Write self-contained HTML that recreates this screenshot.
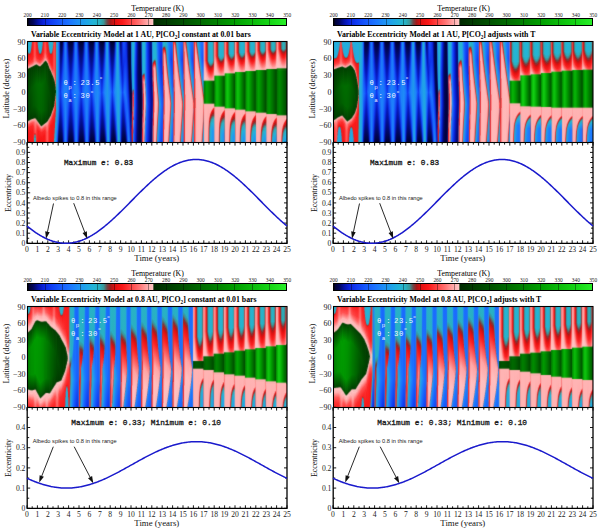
<!DOCTYPE html>
<html><head><meta charset="utf-8"><title>Variable Eccentricity Model</title>
<style>
html,body{margin:0;padding:0;background:#fff}
#pg{position:relative;width:600px;height:529px;overflow:hidden;background:#fff}
.h{position:absolute;width:259px;height:100px;display:flex}
.h i{display:block;width:1px;height:100px;flex:none}
.cb{position:absolute;width:258px;height:6.6px;border:1px solid #000;background-position:16.7px 0,0 0}
svg{position:absolute;left:0;top:0}
</style></head><body><div id="pg">

<div class="cb" style="left:27px;top:17.9px;background:repeating-linear-gradient(90deg,rgba(0,0,0,0.38) 0 1px,rgba(0,0,0,0) 1px 17.2px),linear-gradient(90deg,rgb(0,0,40) 0.00px,rgb(0,5,90) 5.16px,rgb(4,18,170) 10.32px,rgb(10,34,220) 15.48px,rgb(16,58,242) 22.36px,rgb(22,86,252) 30.96px,rgb(28,116,255) 41.28px,rgb(30,143,246) 49.88px,rgb(32,165,230) 58.48px,rgb(35,180,215) 65.36px,rgb(40,178,195) 71.38px,rgb(60,150,150) 75.68px,rgb(110,70,70) 79.12px,rgb(165,25,25) 82.56px,rgb(225,15,15) 86.86px,rgb(250,25,25) 94.60px,rgb(255,70,70) 103.20px,rgb(255,118,118) 111.80px,rgb(255,165,165) 118.68px,rgb(255,200,200) 125.39px,rgb(0,40,0) 125.56px,rgb(0,58,0) 137.60px,rgb(0,80,0) 154.80px,rgb(0,105,0) 172.00px,rgb(0,130,0) 189.20px,rgb(0,158,0) 206.40px,rgb(10,185,10) 223.60px,rgb(20,212,20) 240.80px,rgb(40,238,40) 258.00px)"></div>
<div class="h" style="left:28px;top:42px"><i style="background:linear-gradient(#23b4d7 0.5px,#23b4d6 8.5px,#27b0ce 9.5px,#3d96a7 10.5px,#81565a 11.5px,#d32020 12.5px,#f31818 13.5px,#fb2121 18.5px,#fe3e3e 21.5px,#ff6b6b 23.5px,#fe8e8e 24.5px,#e69f99 25.5px,#696d4b 26.5px,#0e420a 27.5px,#003d00 28.5px,#004c00 52.5px,#003d00 76.5px,#063e05 77.5px,#40592e 78.5px,#d0988d 79.5px,#fb9594 80.5px,#ff5757 82.5px,#fc2a2a 85.5px,#f81818 90.5px,#f51717 99.5px)"></i><i style="background:linear-gradient(#23b4d7 0.5px,#25b2d3 8.5px,#2bacca 9.5px,#3a9db3 10.5px,#696d73 11.5px,#c32626 12.5px,#f11818 13.5px,#fb2424 18.5px,#fe4545 21.5px,#ff7979 23.5px,#f99998 24.5px,#c19385 25.5px,#294e1d 26.5px,#023d02 27.5px,#004e00 50.5px,#004300 72.5px,#013d01 76.5px,#1a4712 77.5px,#8a7a60 78.5px,#ec9a96 79.5px,#fe8483 80.5px,#ff4b4b 82.5px,#fb2626 85.5px,#f61818 91.5px,#f51717 99.5px)"></i><i style="background:linear-gradient(#24b3d5 0.5px,#3e9eba 7.5px,#4993aa 8.5px,#8e5860 10.5px,#c13133 11.5px,#e91b1b 12.5px,#f81818 14.5px,#fd3030 19.5px,#ff4f4f 21.5px,#fe8a8a 23.5px,#e89d98 24.5px,#757252 25.5px,#10440b 26.5px,#003e00 27.5px,#005200 48.5px,#004800 69.5px,#003e00 75.5px,#094107 76.5px,#506039 77.5px,#d99a91 78.5px,#fd9190 79.5px,#ff5454 81.5px,#fc2929 84.5px,#f81818 89.5px,#f51717 99.5px)"></i><i style="background:linear-gradient(#449ab4 0.5px,#6b7a8f 2.5px,#836674 4.5px,#c43438 7.5px,#e02628 9.5px,#f61818 12.5px,#fb2424 17.5px,#fe4545 20.5px,#ff7878 22.5px,#f99897 23.5px,#c19284 24.5px,#294f1d 25.5px,#023f02 26.5px,#005600 46.5px,#004e00 66.5px,#003e00 75.5px,#174711 76.5px,#9b836c 77.5px,#f29c99 78.5px,#ff8180 79.5px,#ff4949 81.5px,#fb2626 84.5px,#f71818 90.5px,#f51717 99.5px)"></i><i style="background:linear-gradient(#da2f33 0.5px,#f71a1a 9.5px,#fb2626 16.5px,#fe4141 19.5px,#ff6b6b 21.5px,#fe8b8b 22.5px,#e89d98 23.5px,#757252 24.5px,#10450b 25.5px,#004000 26.5px,#005a00 45.5px,#005300 64.5px,#023f01 75.5px,#2a4f1e 76.5px,#d59c92 77.5px,#fd9998 78.5px,#ff5a5a 80.5px,#fc2e2e 83.5px,#f91a1a 88.5px,#f41818 99.5px)"></i><i style="background:linear-gradient(#fb2929 0.5px,#fd3333 14.5px,#ff5959 19.5px,#f99d9c 22.5px,#be9283 23.5px,#29501d 24.5px,#024002 25.5px,#005e00 44.5px,#005800 63.5px,#004100 74.5px,#0c4309 75.5px,#616a45 76.5px,#e7a29c 77.5px,#ff9595 78.5px,#ff5f5f 80.5px,#fd3535 84.5px,#f82222 91.5px,#dd3336 96.5px,#d23034 99.5px)"></i><i style="background:linear-gradient(#fe4343 0.5px,#ff5050 14.5px,#ff7676 19.5px,#fe9c9b 21.5px,#e3a09a 22.5px,#656c48 23.5px,#0d4409 24.5px,#004100 25.5px,#006200 43.5px,#005a00 63.5px,#004100 74.5px,#15480f 75.5px,#908066 76.5px,#f0a5a1 77.5px,#ff9898 78.5px,#ff7272 80.5px,#fe4a4a 86.5px,#fc3a3a 90.5px,#ea2f2f 91.5px,#ba4445 92.5px,#8e6b72 93.5px,#5b8592 95.5px,#479aac 96.5px,#429db2 99.5px)"></i><i style="background:linear-gradient(#fd3b3b 0.5px,#fe4545 13.5px,#ff6969 18.5px,#f6a2a0 21.5px,#b28e7c 22.5px,#244e1a 23.5px,#024101 24.5px,#006500 42.5px,#005e00 63.5px,#004200 74.5px,#0f460b 75.5px,#6c6f4d 76.5px,#d89c93 77.5px,#f99e9c 78.5px,#ff7171 82.5px,#ff5656 87.5px,#fd4747 90.5px,#ee3939 91.5px,#c24748 92.5px,#956b70 93.5px,#638089 95.5px,#4c98a5 96.5px,#459dac 99.5px)"></i><i style="background:linear-gradient(#ee2829 0.5px,#fb2323 10.5px,#fd3434 15.5px,#ff5656 18.5px,#ff8989 20.5px,#ef9e9a 21.5px,#8a7c61 22.5px,#174910 23.5px,#014201 24.5px,#006800 41.5px,#006000 64.5px,#024402 75.5px,#194c12 76.5px,#646c47 77.5px,#c29182 78.5px,#ef9793 79.5px,#fd8787 80.5px,#ff5a5a 83.5px,#fe3d3d 88.5px,#f43636 92.5px,#df4345 97.5px,#d7393b 99.5px)"></i><i style="background:linear-gradient(#9f5360 0.5px,#ac4d54 2.5px,#c2373c 3.5px,#d52e33 4.5px,#f81a1a 11.5px,#fc2c2c 16.5px,#ff5858 19.5px,#f99493 21.5px,#c59285 22.5px,#3e5a2c 23.5px,#064305 24.5px,#006a00 42.5px,#006300 65.5px,#024601 76.5px,#10490b 77.5px,#3d5a2b 78.5px,#9a7f68 79.5px,#e3928b 80.5px,#fc8282 81.5px,#fe4444 84.5px,#fb2727 88.5px,#f71c1c 99.5px)"></i><i style="background:linear-gradient(#35a5c5 0.5px,#419db9 4.5px,#4a93ab 5.5px,#935862 8.5px,#d12c2f 10.5px,#f31919 12.5px,#fb2626 16.5px,#ff4a4a 19.5px,#fe8281 21.5px,#ef9a97 22.5px,#99826a 23.5px,#1c4b14 24.5px,#014201 25.5px,#006b00 42.5px,#006500 66.5px,#064605 78.5px,#224f18 79.5px,#d49086 81.5px,#f78785 82.5px,#fe4040 85.5px,#fb1e1e 89.5px,#f61818 99.5px)"></i><i style="background:linear-gradient(#23b4d7 0.5px,#2aadce 6.5px,#3ba0bb 9.5px,#508b9a 10.5px,#8a5256 11.5px,#d62020 12.5px,#f51919 13.5px,#fc2929 17.5px,#f55 20.5px,#fd9292 22.5px,#d69a90 23.5px,#425b2e 24.5px,#064305 25.5px,#006b00 41.5px,#060 67.5px,#024502 79.5px,#134a0e 80.5px,#465d30 81.5px,#b98a79 82.5px,#ec8c87 83.5px,#fd7575 84.5px,#fe4545 86.5px,#fb2424 89.5px,#f61717 96.5px,#f51717 99.5px)"></i><i style="background:linear-gradient(#23b4d7 0.5px,#27b0d0 8.5px,#2eaac8 9.5px,#3d9baf 10.5px,#6e686e 11.5px,#c82525 12.5px,#f31919 13.5px,#fc2c2c 17.5px,#ff5b5b 20.5px,#f59592 22.5px,#b98e7e 23.5px,#315422 24.5px,#044303 25.5px,#006b00 42.5px,#006400 69.5px,#014600 80.5px,#084505 81.5px,#2b511d 82.5px,#8a785c 83.5px,#e9948f 84.5px,#fe8080 85.5px,#fe4a4a 87.5px,#fb2626 90.5px,#f61818 96.5px,#f51717 99.5px)"></i><i style="background:linear-gradient(#27b0d1 0.5px,#3aa1bf 6.5px,#429bb5 7.5px,#53899d 8.5px,#9d4e54 10.5px,#cc2c2d 11.5px,#ee1b1b 12.5px,#fb1f1f 14.5px,#fd3636 17.5px,#ff5b5b 19.5px,#f59390 21.5px,#bd8e7e 22.5px,#425c2e 23.5px,#0a4507 24.5px,#004700 26.5px,#006a00 42.5px,#006400 69.5px,#064304 82.5px,#3a5829 83.5px,#c39284 84.5px,#f99493 85.5px,#ff5757 87.5px,#fc2a2a 90.5px,#f81818 95.5px,#f51717 99.5px)"></i><i style="background:linear-gradient(#528ba0 0.5px,#6a7c91 1.5px,#7e6e7d 3.5px,#965865 4.5px,#d22f34 7.5px,#fa1d1d 12.5px,#fd3939 16.5px,#ff5d5d 18.5px,#fd7a79 19.5px,#ef928f 20.5px,#bc8f7f 21.5px,#425c2f 22.5px,#0a4507 23.5px,#004700 25.5px,#006800 41.5px,#006100 69.5px,#024301 81.5px,#1c4b14 82.5px,#887a5e 83.5px,#e99994 84.5px,#fe8484 85.5px,#ff4c4c 87.5px,#fb2626 90.5px,#f61818 96.5px,#f51717 99.5px)"></i><i style="background:linear-gradient(#e03236 0.5px,#fb2525 9.5px,#fd3b3b 14.5px,#f66 17.5px,#fd8080 18.5px,#e9938d 19.5px,#9b7f68 20.5px,#3c592a 21.5px,#0a4507 22.5px,#004600 24.5px,#006500 40.5px,#006000 68.5px,#014200 80.5px,#11460c 81.5px,#686c49 82.5px,#dd9991 83.5px,#fd8c8b 84.5px,#ff5151 86.5px,#fc2929 89.5px,#f81818 94.5px,#f51717 99.5px)"></i><i style="background:linear-gradient(#fd3b3b 0.5px,#fe4646 10.5px,#ff6969 15.5px,#fe8e8d 17.5px,#ec9a96 18.5px,#988068 19.5px,#284f1c 20.5px,#064305 21.5px,#006200 39.5px,#005b00 68.5px,#004200 79.5px,#084205 80.5px,#465d31 81.5px,#d2988d 82.5px,#fb9493 83.5px,#ff5959 85.5px,#fc2e2e 88.5px,#f91a1a 93.5px,#f71919 99.5px)"></i><i style="background:linear-gradient(#fe4343 0.5px,#ff5151 10.5px,#ff7b7b 15.5px,#f99f9e 17.5px,#c49487 18.5px,#3d592b 19.5px,#074205 20.5px,#005e00 37.5px,#005800 67.5px,#044103 79.5px,#2d5220 80.5px,#b99080 81.5px,#f79d9b 82.5px,#ff5757 85.5px,#fd3333 89.5px,#fb2525 99.5px)"></i><i style="background:linear-gradient(#fb2a2a 0.5px,#fd3939 11.5px,#ff5c5c 15.5px,#fe8888 17.5px,#e99792 18.5px,#2b501e 20.5px,#0a4407 21.5px,#004600 24.5px,#005a00 41.5px,#005400 67.5px,#044003 78.5px,#274f1c 79.5px,#98826b 80.5px,#eea19e 81.5px,#fe9796 82.5px,#ff6a6a 85.5px,#fe4b4b 90.5px,#fe4343 99.5px)"></i><i style="background:linear-gradient(#e3282b 0.5px,#f81b1b 8.5px,#fc2f2f 14.5px,#ff5a5a 17.5px,#fd7372 18.5px,#ec8782 19.5px,#bc8575 20.5px,#575f37 21.5px,#244c17 22.5px,#064404 24.5px,#005600 45.5px,#004e00 68.5px,#024102 76.5px,#10460b 77.5px,#2f5120 78.5px,#987f68 79.5px,#e99c97 80.5px,#fd9696 81.5px,#ff7474 84.5px,#ff5454 90.5px,#ff4f4f 99.5px)"></i><i style="background:linear-gradient(#72788d 0.5px,#757689 1.5px,#806978 2.5px,#995663 3.5px,#b64046 5.5px,#cf2f34 6.5px,#f81919 12.5px,#fc2a2a 16.5px,#fe5353 19.5px,#f86765 20.5px,#c27c6e 22.5px,#876f53 23.5px,#3f5628 24.5px,#1e4b14 25.5px,#024202 27.5px,#005200 49.5px,#004600 70.5px,#014101 74.5px,#0a4307 75.5px,#254d1a 76.5px,#c2887a 78.5px,#ee8b87 79.5px,#fd7d7c 80.5px,#fe5555 83.5px,#fd3a3a 89.5px,#fd3535 99.5px)"></i><i style="background:linear-gradient(#2dadce 0.5px,#409db9 6.5px,#4b91a8 7.5px,#85626e 9.5px,#d42728 11.5px,#ed1a1a 12.5px,#fa1c1c 16.5px,#fd3838 20.5px,#f95857 22.5px,#db7c74 24.5px,#b07d6b 25.5px,#726c4a 26.5px,#294e1b 27.5px,#024002 29.5px,#004e00 53.5px,#064104 73.5px,#1c4914 74.5px,#535f38 75.5px,#ac806d 76.5px,#e58781 77.5px,#f97574 78.5px,#fe3f3f 81.5px,#fb2323 86.5px,#f91d1d 99.5px)"></i><i style="background:linear-gradient(#23b4d7 0.5px,#25b1d3 7.5px,#31a8c6 9.5px,#409aae 10.5px,#6f686d 11.5px,#c62525 12.5px,#f01818 13.5px,#fb2323 20.5px,#fe4242 23.5px,#f66866 25.5px,#e87c77 26.5px,#c18172 27.5px,#2d4d1c 29.5px,#14460e 30.5px,#004000 33.5px,#004a00 58.5px,#054104 70.5px,#1e4813 72.5px,#42552a 73.5px,#9a7760 74.5px,#dc867e 75.5px,#f57775 76.5px,#fd3a3a 79.5px,#fa1d1d 83.5px,#f51717 99.5px)"></i><i style="background:linear-gradient(#23b4d6 0.5px,#2caccd 7.5px,#37a4c1 9.5px,#4795a7 10.5px,#7a5f63 11.5px,#cd2323 12.5px,#f21818 13.5px,#fb2323 22.5px,#fd3f3f 25.5px,#f96362 27.5px,#d28378 29.5px,#4e5c33 31.5px,#204a16 32.5px,#023e01 34.5px,#004500 59.5px,#023f02 67.5px,#1e4913 69.5px,#3d5326 70.5px,#b07866 72.5px,#dc7870 73.5px,#fc5858 75.5px,#fc2c2c 78.5px,#f81818 83.5px,#f51717 99.5px)"></i><i style="background:linear-gradient(#34a8c3 0.5px,#459eb6 5.5px,#856d79 8.5px,#c53c3f 10.5px,#f32121 12.5px,#fc2828 23.5px,#fe4545 27.5px,#fd6564 29.5px,#de857d 31.5px,#ae7f6d 32.5px,#636441 33.5px,#274b1a 34.5px,#094006 36.5px,#004100 42.5px,#023e01 64.5px,#18450f 66.5px,#2d4b1b 67.5px,#b07967 69.5px,#db7971 70.5px,#fc4848 73.5px,#fb2626 76.5px,#f61717 83.5px,#f41717 99.5px)"></i><i style="background:linear-gradient(#966a72 0.5px,#ae6971 2.5px,#d24c50 4.5px,#ec4445 8.5px,#fd3939 13.5px,#fe4545 26.5px,#fe7170 31.5px,#e58580 33.5px,#c38477 34.5px,#4f5b33 36.5px,#244917 37.5px,#053f03 40.5px,#023f01 58.5px,#19400b 63.5px,#2a4514 64.5px,#9e6e58 66.5px,#d5766c 67.5px,#f65856 69.5px,#fb2626 73.5px,#f61717 80.5px,#dd282c 96.5px,#d72c31 99.5px)"></i><i style="background:linear-gradient(#f0494a 0.5px,#fe4444 9.5px,#fe4d4d 28.5px,#f97271 34.5px,#e17e77 36.5px,#c27a6d 37.5px,#615a36 39.5px,#3a4b1f 40.5px,#19400b 42.5px,#013f01 50.5px,#2c4212 58.5px,#58552e 59.5px,#775334 61.5px,#985840 62.5px,#a6523e 63.5px,#d35a50 64.5px,#fa3f3f 67.5px,#ef2627 71.5px,#e12629 79.5px,#d03138 85.5px,#ad4c57 86.5px,#a05564 90.5px,#75758a 92.5px,#707791 95.5px,#4597b8 97.5px,#4099be 99.5px)"></i><i style="background:linear-gradient(#de4045 0.5px,#de484d 32.5px,#da5c60 37.5px,#b5716c 41.5px,#886556 42.5px,#7a6755 43.5px,#455c3d 45.5px,#3a6442 47.5px,#0d4f24 48.5px,#054b1e 49.5px,#0b4e22 50.5px,#2b5d39 51.5px,#4b6143 53.5px,#776d5a 54.5px,#976458 56.5px,#b76763 57.5px,#cb4344 61.5px,#db3439 66.5px,#d73137 68.5px,#ac4f5b 70.5px,#9f5666 74.5px,#7b7185 75.5px,#6e7993 79.5px,#4398ba 81.5px,#209de9 99.5px)"></i><i style="background:linear-gradient(#419cc0 0.5px,#41a4c9 40.5px,#1e9ebb 49.5px,#41a2c6 58.5px,#3f99c0 68.5px,#209beb 84.5px,#1b7bf5 99.5px)"></i><i style="background:linear-gradient(#209ee9 0.5px,#1f98ed 70.5px,#196ff1 87.5px,#1146d9 97.5px,#0f3ccd 99.5px)"></i><i style="background:linear-gradient(#1c7cf5 0.5px,#1b78f5 68.5px,#134ce6 80.5px,#0822a7 89.5px,#020b56 98.5px,#020a51 99.5px)"></i><i style="background:linear-gradient(#0f3ece 0.5px,#1246ee 41.5px,#1553f7 51.5px,#0e37da 69.5px,#031088 84.5px,#000136 99.5px)"></i><i style="background:linear-gradient(#020a4d 0.5px,#071cbd 29.5px,#0f38ed 46.5px,#113ff0 51.5px,#071bbe 69.5px,#010a77 85.5px,#000135 99.5px)"></i><i style="background:linear-gradient(#000239 0.5px,#030f91 16.5px,#0b27da 32.5px,#1658fb 49.5px,#0c2ade 66.5px,#031097 82.5px,#00023d 98.5px,#000238 99.5px)"></i><i style="background:linear-gradient(#010758 0.5px,#0923cd 18.5px,#1244f3 32.5px,#1a6dfe 50.5px,#0f37e9 72.5px,#081dbf 84.5px,#010758 99.5px)"></i><i style="background:linear-gradient(#0924ba 0.5px,#103ee9 13.5px,#1a6cfd 38.5px,#1c77fd 53.5px,#1244ef 83.5px,#0a27c5 97.5px,#0924ba 99.5px)"></i><i style="background:linear-gradient(#165bf4 0.5px,#1d81fb 51.5px,#165af3 99.5px)"></i><i style="background:linear-gradient(#1b77fb 0.5px,#1d80fb 70.5px,#1c78fb 99.5px)"></i><i style="background:linear-gradient(#1659f3 0.5px,#1d7ffb 45.5px,#1863f9 94.5px,#175df5 99.5px)"></i><i style="background:linear-gradient(#0922b6 0.5px,#103ce8 13.5px,#1a69fd 37.5px,#1c77fd 52.5px,#1246f0 83.5px,#0b29c7 98.5px,#0a27c2 99.5px)"></i><i style="background:linear-gradient(#010756 0.5px,#0922cb 18.5px,#1140f0 31.5px,#1a6cfe 50.5px,#0f38ea 72.5px,#071dbc 85.5px,#01085e 99.5px)"></i><i style="background:linear-gradient(#000238 0.5px,#030e90 16.5px,#0b27d9 32.5px,#1658fa 49.5px,#0c2ade 66.5px,#041099 82.5px,#00023a 99.5px)"></i><i style="background:linear-gradient(#000135 0.5px,#0515b4 28.5px,#0e34ea 45.5px,#113ef0 51.5px,#071ac0 67.5px,#020c87 82.5px,#000135 99.5px)"></i><i style="background:linear-gradient(#000136 0.5px,#020d87 16.5px,#0922d1 33.5px,#144ff8 49.5px,#0b26da 63.5px,#020d8a 82.5px,#000239 98.5px,#000135 99.5px)"></i><i style="background:linear-gradient(#000446 0.5px,#0921cb 22.5px,#1245f4 37.5px,#1966fd 50.5px,#0d30e4 69.5px,#0515aa 82.5px,#00023e 99.5px)"></i><i style="background:linear-gradient(#05148d 0.5px,#0b2bd4 12.5px,#144ef7 28.5px,#1c74fe 51.5px,#103eed 76.5px,#0923c8 87.5px,#030d72 99.5px)"></i><i style="background:linear-gradient(#1245e6 0.5px,#1966fc 23.5px,#1d7dfc 53.5px,#144ef3 87.5px,#0e35d6 99.5px)"></i><i style="background:linear-gradient(#1b73fb 0.5px,#1d81fb 61.5px,#1969f9 99.5px)"></i><i style="background:linear-gradient(#1a6bfa 0.5px,#1d81fb 57.5px,#1b75fb 99.5px)"></i><i style="background:linear-gradient(#0e37d9 0.5px,#1658f9 19.5px,#1d7cfc 51.5px,#1452f2 94.5px,#134cec 99.5px)"></i><i style="background:linear-gradient(#030d75 0.5px,#0a26cf 14.5px,#1246f3 28.5px,#1b72fe 50.5px,#103ceb 79.5px,#0922bf 93.5px,#06199f 99.5px)"></i><i style="background:linear-gradient(#00023f 0.5px,#0921ce 25.5px,#134af6 41.5px,#185ffc 51.5px,#0c2cdf 71.5px,#0515a8 84.5px,#01054c 99.5px)"></i><i style="background:linear-gradient(#000135 0.5px,#020d89 17.5px,#0921d1 35.5px,#1349f6 50.5px,#071cc4 69.5px,#020c83 84.5px,#000137 99.5px)"></i><i style="background:linear-gradient(#000135 0.5px,#0616b7 28.5px,#0f38ec 45.5px,#1141f2 51.5px,#071bc4 66.5px,#020c86 82.5px,#000135 99.5px)"></i><i style="background:linear-gradient(#00023b 0.5px,#041199 16.5px,#0c2add 31.5px,#175dfb 49.5px,#0d2de2 65.5px,#031099 81.5px,#000343 96.5px,#000136 99.5px)"></i><i style="background:linear-gradient(#020a66 0.5px,#0923ca 15.5px,#1140f0 28.5px,#1b70fe 50.5px,#0f39eb 71.5px,#081dc1 82.5px,#010448 99.5px)"></i><i style="background:linear-gradient(#0c2fcd 0.5px,#134bf2 15.5px,#1c7bfc 50.5px,#1347f2 79.5px,#0b28cd 91.5px,#051694 99.5px)"></i><i style="background:linear-gradient(#1865f8 0.5px,#1d81fb 53.5px,#175ff9 87.5px,#1247e8 99.5px)"></i><i style="background:linear-gradient(#1b76fb 0.5px,#1d81fb 68.5px,#1b73fb 99.5px)"></i><i style="background:linear-gradient(#144eed 0.5px,#1b72fd 30.5px,#1d7dfc 57.5px,#1a6cfa 99.5px)"></i><i style="background:linear-gradient(#061aa1 0.5px,#0d31dd 12.5px,#1657fa 30.5px,#1c76fd 51.5px,#1245ed 89.5px,#0f3add 99.5px)"></i><i style="background:linear-gradient(#01054c 0.5px,#0923ce 21.5px,#1347f5 36.5px,#1a69fe 50.5px,#0e33e6 75.5px,#071cb6 89.5px,#030f7c 99.5px)"></i><i style="background:linear-gradient(#000137 0.5px,#030d8b 16.5px,#0a25d7 33.5px,#1553f9 49.5px,#0b26d8 68.5px,#04119a 83.5px,#000341 99.5px)"></i><i style="background:linear-gradient(#000135 0.5px,#0515b4 28.5px,#0f35e8 46.5px,#103bec 51.5px,#0617b8 70.5px,#010972 86.5px,#000135 99.5px)"></i><i style="background:linear-gradient(#000237 0.5px,#030e8c 16.5px,#0b26d8 33.5px,#1655f9 49.5px,#0c2be0 62.5px,#020c83 83.5px,#000239 98.5px,#000135 99.5px)"></i><i style="background:linear-gradient(#010650 0.5px,#0a23ce 20.5px,#1245f3 34.5px,#1a6cfe 50.5px,#0f37ea 67.5px,#0619b7 79.5px,#000348 96.5px,#000239 99.5px)"></i><i style="background:linear-gradient(#081fab 0.5px,#0f38e2 12.5px,#1861fb 32.5px,#1c7bfc 51.5px,#1244f1 74.5px,#0a27d0 84.5px,#030e7b 95.5px,#01085b 99.5px)"></i><i style="background:linear-gradient(#165bef 0.5px,#1d80fa 35.5px,#1d82fa 58.5px,#1451f3 85.5px,#0d31d1 96.5px,#0a28c0 99.5px)"></i><i style="background:linear-gradient(#1d86f6 0.5px,#1d86f8 76.5px,#1866f4 99.5px)"></i><i style="background:linear-gradient(#1a72f6 0.5px,#1e8bf7 53.5px,#1d8af5 99.5px)"></i><i style="background:linear-gradient(#0d35d2 0.5px,#1555f5 16.5px,#1d84fa 50.5px,#196ff6 99.5px)"></i><i style="background:linear-gradient(#020c6a 0.5px,#0a26ce 15.5px,#1348f4 29.5px,#1c78fd 50.5px,#1142ec 84.5px,#0d31cd 99.5px)"></i><i style="background:linear-gradient(#00023c 0.5px,#0921ce 26.5px,#144ef6 42.5px,#1862fc 51.5px,#0c2de0 73.5px,#0618ab 87.5px,#020a66 99.5px)"></i><i style="background:linear-gradient(#000135 0.5px,#0617b7 28.5px,#103aec 45.5px,#1246f3 51.5px,#071bc1 71.5px,#020b7d 86.5px,#00023b 99.5px)"></i><i style="background:linear-gradient(#000135 0.5px,#030d8b 17.5px,#0b26d9 36.5px,#1550f8 50.5px,#081ec9 65.5px,#020b81 83.5px,#000135 99.5px)"></i><i style="background:linear-gradient(#000343 0.5px,#0922cd 23.5px,#134af5 38.5px,#1a6bfd 50.5px,#0e33e6 65.5px,#04119e 80.5px,#000347 95.5px,#000135 99.5px)"></i><i style="background:linear-gradient(#051487 0.5px,#0c2ed6 13.5px,#1553f7 28.5px,#1d80fa 50.5px,#1348f3 69.5px,#0923cc 80.5px,#000446 98.5px,#000341 99.5px)"></i><i style="background:linear-gradient(#134ee3 0.5px,#1a71f9 21.5px,#1e8df6 51.5px,#1969fb 71.5px,#103ce5 85.5px,#0821b7 93.5px,#041180 99.5px)"></i><i style="background:linear-gradient(#1e8fee 0.5px,#1e92f3 65.5px,#196ef6 87.5px,#1147e0 99.5px)"></i><i style="background:linear-gradient(#1f97eb 0.5px,#1f96ed 91.5px,#1d8bee 99.5px)"></i><i style="background:linear-gradient(#165deb 0.5px,#1d83f7 27.5px,#1e92f3 60.5px,#209de8 99.5px)"></i><i style="background:linear-gradient(#071c9f 0.5px,#0d34da 11.5px,#165bf8 27.5px,#1d87f8 50.5px,#196bf4 91.5px,#186cef 99.5px)"></i><i style="background:linear-gradient(#01054a 0.5px,#0a24ce 21.5px,#134af4 35.5px,#1b75fc 50.5px,#103de9 79.5px,#0a26b7 99.5px)"></i><i style="background:linear-gradient(#000136 0.5px,#020d89 16.5px,#0b27d9 34.5px,#175afb 49.5px,#0b26d6 71.5px,#04129a 86.5px,#010755 99.5px)"></i><i style="background:linear-gradient(#000135 0.5px,#030d8d 18.5px,#0921d0 36.5px,#1349f6 50.5px,#0921cf 63.5px,#030f95 80.5px,#000238 99.5px)"></i><i style="background:linear-gradient(#00023b 0.5px,#041097 16.5px,#0c2cdd 31.5px,#1965fc 48.5px,#175cfa 53.5px,#0a26d6 66.5px,#010766 88.5px,#000135 99.5px)"></i><i style="background:linear-gradient(#020b66 0.5px,#0a27cc 15.5px,#1349f2 28.5px,#1d81fa 50.5px,#1247f2 66.5px,#0820c8 77.5px,#00044c 95.5px,#000237 99.5px)"></i><i style="background:linear-gradient(#0e3ad0 0.5px,#175ef4 16.5px,#1e92f3 48.5px,#1c7cf9 62.5px,#1247ef 77.5px,#0a25c7 86.5px,#010755 99.5px)"></i><i style="background:linear-gradient(#1d88e9 0.5px,#1f9deb 41.5px,#1e90f2 68.5px,#1659f0 87.5px,#0d35ce 96.5px,#0a2aba 99.5px)"></i><i style="background:linear-gradient(#24a9d6 0.5px,#20a1e9 45.5px,#209fe6 81.5px,#1a77ea 99.5px)"></i><i style="background:linear-gradient(#1d88e9 0.5px,#1f9fea 40.5px,#24aad6 97.5px,#24a8d6 99.5px)"></i><i style="background:linear-gradient(#0e3ad0 0.5px,#175ff4 16.5px,#1f95f1 47.5px,#1f96e7 92.5px,#209ae2 99.5px)"></i><i style="background:linear-gradient(#030e77 0.5px,#0a28d1 15.5px,#1450f5 30.5px,#1d86f8 50.5px,#1556f0 85.5px,#1350e0 99.5px)"></i><i style="background:linear-gradient(#05149e 0.5px,#071bc0 20.5px,#113fef 37.5px,#1a6bfc 50.5px,#0d30e0 75.5px,#0619a3 92.5px,#041382 99.5px)"></i><i style="background:linear-gradient(#0d2fdf 0.5px,#0920d1 30.5px,#0f37eb 43.5px,#144df7 50.5px,#0921ce 67.5px,#030f92 83.5px,#000341 99.5px)"></i><i style="background:linear-gradient(#144cf7 0.5px,#0c2ce4 24.5px,#103def 39.5px,#1860fc 50.5px,#0b29dc 62.5px,#020b7d 84.5px,#000135 99.5px)"></i><i style="background:linear-gradient(#134af7 0.5px,#0f34ed 19.5px,#144ff9 36.5px,#1c76fd 50.5px,#103ded 65.5px,#0618b6 77.5px,#00044c 94.5px,#000135 99.5px)"></i><i style="background:linear-gradient(#0f37ed 0.5px,#0f36ef 19.5px,#1c75fe 52.5px,#1656fa 67.5px,#0c2cda 79.5px,#041398 88.5px,#000449 98.5px,#000343 99.5px)"></i><i style="background:linear-gradient(#0a23d0 0.5px,#0e34ea 24.5px,#1a6bfe 58.5px,#175dfb 75.5px,#0e37e0 88.5px,#071ca7 96.5px,#051489 99.5px)"></i><i style="background:linear-gradient(#030f90 0.5px,#0514a1 14.5px,#0f38e8 42.5px,#1a6afe 72.5px,#1864fa 89.5px,#134be5 99.5px)"></i><i style="background:linear-gradient(#00065c 0.5px,#010760 18.5px,#041194 35.5px,#0e34e4 58.5px,#1a69fd 82.5px,#1c7df8 99.5px)"></i><i style="background:linear-gradient(#000346 0.5px,#000448 30.5px,#02096e 46.5px,#0b29d1 70.5px,#165af4 91.5px,#1a6ff7 99.5px)"></i><i style="background:linear-gradient(#041455 0.5px,#000448 51.5px,#030c7a 69.5px,#101dae 84.5px,#1538d5 99.5px)"></i><i style="background:linear-gradient(#197acd 0.5px,#1567c1 21.5px,#0d3c9b 36.5px,#09277b 42.5px,#061960 47.5px,#140941 51.5px,#190f4a 67.5px,#26136d 72.5px,#2e3478 81.5px,#521567 84.5px,#632077 88.5px,#492984 99.5px)"></i><i style="background:linear-gradient(#22add9 0.5px,#1e9acf 40.5px,#1e8bcc 46.5px,#2581bb 47.5px,#584e7c 49.5px,#86305d 51.5px,#9e2f5c 54.5px,#a34060 64.5px,#9f4d5b 68.5px,#bf2e3d 70.5px,#cf3245 72.5px,#d0394c 73.5px,#ce2a3c 76.5px,#c5384a 80.5px,#c9253d 89.5px,#ad2643 99.5px)"></i><i style="background:linear-gradient(#22b0da 0.5px,#21a3e3 43.5px,#21a3e0 45.5px,#269fd3 46.5px,#3a87b0 47.5px,#626284 48.5px,#86526f 49.5px,#b23f59 51.5px,#ce4861 53.5px,#d14d66 54.5px,#d23d56 55.5px,#d3445d 62.5px,#d3435b 63.5px,#d0586f 65.5px,#b3677c 67.5px,#a47991 68.5px,#a76996 73.5px,#9f4475 76.5px,#895385 77.5px,#7781b8 78.5px,#7286ca 80.5px,#7173c3 84.5px,#6a50a4 88.5px,#4d5db3 90.5px,#3c71cd 92.5px,#3669d8 99.5px)"></i><i style="background:linear-gradient(#1f94ea 0.5px,#196ef7 30.5px,#1c74f3 46.5px,#3468de 51.5px,#3768e3 66.5px,#2d61ec 73.5px,#2656e8 77.5px,#215cf4 80.5px,#184bec 90.5px,#1349f1 99.5px)"></i><i style="background:linear-gradient(#1658f4 0.5px,#103cea 32.5px,#1243ef 64.5px,#0a24d1 99.5px)"></i><i style="background:linear-gradient(#0c2bda 0.5px,#081cc0 33.5px,#0922cc 63.5px,#041198 98.5px,#041098 99.5px)"></i><i style="background:linear-gradient(#0413a1 0.5px,#020c84 30.5px,#031095 62.5px,#010767 95.5px,#010766 99.5px)"></i><i style="background:linear-gradient(#010869 0.5px,#00065b 36.5px,#010763 65.5px,#00044c 99.5px)"></i><i style="background:linear-gradient(#00044d 0.5px,#00044c 54.5px,#000240 99.5px)"></i><i style="background:linear-gradient(#020b50 0.5px,#000240 53.5px,#010442 99.5px)"></i><i style="background:linear-gradient(#0f46a6 0.5px,#0b358f 20.5px,#0a1f73 32.5px,#190f57 36.5px,#190a40 41.5px,#0d0742 59.5px,#12073d 72.5px,#1b0d47 85.5px,#261361 95.5px,#271562 99.5px)"></i><i style="background:linear-gradient(#20a4d2 0.5px,#1e96cd 30.5px,#238fc2 31.5px,#3579a2 32.5px,#5e4f72 33.5px,#873758 34.5px,#9c3758 35.5px,#a34469 39.5px,#9a2558 45.5px,#7d2c54 47.5px,#6d3d5f 48.5px,#673763 51.5px,#642260 57.5px,#662d61 66.5px,#694163 70.5px,#6e3d5e 71.5px,#7f2b52 72.5px,#942251 73.5px,#a1386a 76.5px,#a34465 80.5px,#a7505e 84.5px,#c62f3a 87.5px,#d92f3c 91.5px,#da3a47 99.5px)"></i><i style="background:linear-gradient(#23b4d7 0.5px,#23b2d8 29.5px,#27aecd 30.5px,#3997a8 31.5px,#6d5b63 32.5px,#af2e33 33.5px,#d7262b 34.5px,#ee454a 36.5px,#f3797f 39.5px,#f37f85 40.5px,#f2666e 42.5px,#e7646a 50.5px,#e6424a 52.5px,#e63e47 66.5px,#e6444c 67.5px,#e76067 68.5px,#eb6269 72.5px,#f2666d 79.5px,#f38589 81.5px,#eb8388 99.5px)"></i><i style="background:linear-gradient(#23afd9 0.5px,#2ad 29.5px,#27a7d0 30.5px,#3a90ae 31.5px,#63677e 32.5px,#8d4f64 33.5px,#c85562 36.5px,#de7c87 38.5px,#e19da6 40.5px,#ecafb3 48.5px,#f4a9aa 55.5px,#efacb0 70.5px,#e0a4b0 80.5px,#d98999 84.5px,#bb97a8 86.5px,#aca8be 88.5px,#a57ca4 95.5px,#8985ae 98.5px,#7f90bb 99.5px)"></i><i style="background:linear-gradient(#1e91ee 0.5px,#1e8af0 30.5px,#3582dc 35.5px,#3f91dc 39.5px,#458ed4 40.5px,#6877b7 42.5px,#779eca 47.5px,#9d84aa 50.5px,#ab9fb9 55.5px,#acabc0 61.5px,#a686aa 68.5px,#8d8ab2 70.5px,#7d9ac3 71.5px,#7494c8 73.5px,#6d76b8 76.5px,#5f77bd 77.5px,#4192df 79.5px,#3581ec 86.5px,#2770f2 99.5px)"></i><i style="background:linear-gradient(#1760f9 0.5px,#1861fa 34.5px,#256ef3 45.5px,#3284ef 61.5px,#2467f1 75.5px,#1657f9 87.5px,#134af6 99.5px)"></i><i style="background:linear-gradient(#103cee 0.5px,#1141f2 37.5px,#175af9 63.5px,#0d2ee4 99.5px)"></i><i style="background:linear-gradient(#0a23d5 0.5px,#0b28dd 36.5px,#103bef 64.5px,#081cc6 99.5px)"></i><i style="background:linear-gradient(#0515ae 0.5px,#0617b8 34.5px,#0b26db 61.5px,#0411a1 99.5px)"></i><i style="background:linear-gradient(#030e8c 0.5px,#030e91 33.5px,#0618bb 61.5px,#020b7d 99.5px)"></i><i style="background:linear-gradient(#08249a 0.5px,#081b82 20.5px,#190f6f 26.5px,#081086 44.5px,#04119e 62.5px,#0c0e82 77.5px,#0f116b 99.5px)"></i><i style="background:linear-gradient(#1d91d6 0.5px,#1d85d1 18.5px,#247dc3 19.5px,#545188 21.5px,#863567 23.5px,#9d3768 25.5px,#9e2d66 32.5px,#842f6a 34.5px,#6a4680 36.5px,#622172 42.5px,#581d70 43.5px,#31368b 45.5px,#23178d 57.5px,#2a2490 68.5px,#2e398f 74.5px,#33358a 75.5px,#561c70 77.5px,#652775 80.5px,#69467e 90.5px,#6e447b 99.5px)"></i><i style="background:linear-gradient(#23b1d8 0.5px,#23b0d8 16.5px,#26acd0 17.5px,#339cb7 18.5px,#577383 19.5px,#933e47 20.5px,#c8262e 21.5px,#e22b32 22.5px,#f2676e 25.5px,#f2767c 26.5px,#f2626a 29.5px,#e7626b 38.5px,#e6414c 40.5px,#da3345 52.5px,#bf3447 58.5px,#c82f42 62.5px,#da3446 67.5px,#dc3f4c 75.5px,#e63f4a 82.5px,#e76069 84.5px,#e8656d 99.5px)"></i><i style="background:linear-gradient(#24b3d2 0.5px,#23b4d6 15.5px,#25b2cf 16.5px,#32a3b4 17.5px,#5b6f75 18.5px,#9d3739 19.5px,#d12222 20.5px,#ec2626 21.5px,#fe7a7a 24.5px,#fea2a2 26.5px,#feacac 39.5px,#fea5a5 48.5px,#fd8586 50.5px,#fd8586 69.5px,#fea5a5 71.5px,#feafaf 99.5px)"></i><i style="background:linear-gradient(#25b0d0 0.5px,#23b2d6 15.5px,#2da7bc 17.5px,#468895 18.5px,#6e616a 19.5px,#b13f44 21.5px,#c53f44 22.5px,#e37376 25.5px,#e99092 28.5px,#f8a9a9 36.5px,#ffb6b6 49.5px,#fbb 71.5px,#f9a9a9 99.5px)"></i><i style="background:linear-gradient(#209be9 0.5px,#23a6dc 17.5px,#4c8daf 24.5px,#9f6d7a 33.5px,#c9656c 37.5px,#e57e82 41.5px,#f5a3a3 47.5px,#ffb7b7 61.5px,#f5a1a2 81.5px,#d4686f 96.5px,#c1636a 99.5px)"></i><i style="background:linear-gradient(#1c77fb 0.5px,#218cec 24.5px,#4099c6 38.5px,#6a7f9b 42.5px,#9f6976 46.5px,#c65f66 49.5px,#e5777a 53.5px,#f59b9b 60.5px,#eb8688 70.5px,#d46066 77.5px,#b66168 80.5px,#7f7487 86.5px,#4a91b7 93.5px,#3a96cd 99.5px)"></i><i style="background:linear-gradient(#175efc 0.5px,#1965fb 21.5px,#1f8cef 39.5px,#4097c4 50.5px,#8d6978 57.5px,#af6269 61.5px,#936673 67.5px,#4c8eb1 75.5px,#3897cd 80.5px,#1e87f5 99.5px)"></i><i style="background:linear-gradient(#144ef9 0.5px,#1348f6 20.5px,#1c7afa 44.5px,#2892e2 54.5px,#3698ce 62.5px,#1e88f6 81.5px,#1968fc 99.5px)"></i><i style="background:linear-gradient(#1346f6 0.5px,#0e33eb 19.5px,#1861fc 45.5px,#1e8cf4 62.5px,#1552fa 98.5px,#1551fa 99.5px)"></i><i style="background:linear-gradient(#134bf4 0.5px,#1739e4 7.5px,#172cd7 19.5px,#113bea 33.5px,#1963fc 55.5px,#1a6efd 64.5px,#1246f3 99.5px)"></i><i style="background:linear-gradient(#1c80ec 0.5px,#1e78e3 4.5px,#3e57b5 6.5px,#5647a2 7.5px,#6b49a0 9.5px,#6c4d9f 16.5px,#69349f 28.5px,#5432a1 31.5px,#394cc0 33.5px,#293fdb 43.5px,#2352e9 56.5px,#2657e9 63.5px,#354ddb 82.5px,#3553cf 99.5px)"></i><i style="background:linear-gradient(#23add7 0.5px,#26a9cf 3.5px,#3694ae 4.5px,#665a6a 5.5px,#a92936 6.5px,#d3202d 7.5px,#e32c38 8.5px,#e8606b 12.5px,#e75d6b 23.5px,#e74452 24.5px,#df3f50 32.5px,#db3850 39.5px,#d3344c 41.5px,#c23b54 42.5px,#a95776 44.5px,#a5457d 49.5px,#963b7a 53.5px,#795494 57.5px,#7c5391 61.5px,#9e3f7a 66.5px,#a85b79 75.5px,#b24e66 77.5px,#cd364e 79.5px,#dc3b51 83.5px,#dc4356 99.5px)"></i><i style="background:linear-gradient(#26b3cc 0.5px,#26b2ca 2.5px,#2daaba 3.5px,#45898e 4.5px,#7b494b 5.5px,#b92425 6.5px,#de1f1f 7.5px,#f64343 9.5px,#fd7d7d 11.5px,#fe9898 13.5px,#fea8a8 23.5px,#fe9f9f 37.5px,#fe8686 38.5px,#f58585 43.5px,#f38185 47.5px,#f2676c 48.5px,#eb636b 56.5px,#f2666b 71.5px,#f38588 73.5px,#fd8283 86.5px,#fea0a1 88.5px,#fea4a4 99.5px)"></i><i style="background:linear-gradient(#27b1c6 0.5px,#2badbd 3.5px,#34a0ac 4.5px,#65696e 6.5px,#a24145 8.5px,#cf4042 10.5px,#e66364 13.5px,#fd9e9e 22.5px,#ffb7b7 33.5px,#faa 64.5px,#ffb8b8 99.5px)"></i><i style="background:linear-gradient(#23add8 0.5px,#2da5c4 6.5px,#5e7f90 12.5px,#bf5155 20.5px,#e26365 24.5px,#fc9e9e 32.5px,#ffb7b7 42.5px,#ffb7b7 99.5px)"></i><i style="background:linear-gradient(#1f9bec 0.5px,#249ede 11.5px,#4198b7 21.5px,#697b8d 25.5px,#b4585e 30.5px,#d1565a 32.5px,#f28e8e 38.5px,#ffb2b2 46.5px,#ffb2b2 90.5px,#fea4a4 99.5px)"></i><i style="background:linear-gradient(#1d88f8 0.5px,#1e8af4 16.5px,#2b99d7 26.5px,#4396b9 32.5px,#7b7283 36.5px,#c3565c 40.5px,#e46c6f 43.5px,#f79a9a 48.5px,#ffb5b5 57.5px,#ffadad 78.5px,#ed8384 92.5px,#db6064 99.5px)"></i><i style="background:linear-gradient(#1c78fd 0.5px,#1a6bfc 17.5px,#2094ec 32.5px,#4396bb 41.5px,#966571 46.5px,#cc575d 49.5px,#eb7e80 53.5px,#fda2a2 59.5px,#fda1a1 67.5px,#eb7e80 77.5px,#d0575c 84.5px,#966370 90.5px,#4793b6 99.5px)"></i><i style="background:linear-gradient(#1b6efe 0.5px,#1552fa 17.5px,#1e88f5 38.5px,#3195d3 46.5px,#4792b6 50.5px,#9d626d 55.5px,#cd565c 58.5px,#e2686b 61.5px,#d0565b 68.5px,#ae5e66 72.5px,#7c7384 77.5px,#4097c0 84.5px,#2092ec 99.5px)"></i><i style="background:linear-gradient(#1a6cfb 0.5px,#1244f3 17.5px,#1b70fc 40.5px,#2192ec 50.5px,#4693b6 59.5px,#58839f 61.5px,#3b98c6 70.5px,#1e8cf3 87.5px,#1b74fb 99.5px)"></i><i style="background:linear-gradient(#3c71d4 0.5px,#3963d1 7.5px,#344bd4 19.5px,#2c4de0 32.5px,#2861eb 44.5px,#2883ed 54.5px,#2e91db 63.5px,#2a87e7 74.5px,#2e62e8 95.5px,#2d5de7 99.5px)"></i><i style="background:linear-gradient(#dd3645 0.5px,#dd4556 7.5px,#d7354c 28.5px,#bd4058 31.5px,#ab5873 33.5px,#a7557e 37.5px,#a0427a 42.5px,#854d88 44.5px,#7364a3 46.5px,#715ea7 56.5px,#766da0 73.5px,#974b7b 77.5px,#a7517c 82.5px,#a75b7f 99.5px)"></i><i style="background:linear-gradient(#ec3838 0.5px,#fb7c7d 3.5px,#fe9999 8.5px,#fea3a4 17.5px,#fe9f9f 18.5px,#fe8686 19.5px,#f58585 32.5px,#f38588 36.5px,#f3666a 38.5px,#ea656d 45.5px,#e8656e 48.5px,#e74651 50.5px,#e84a52 70.5px,#e8636b 71.5px,#f36568 92.5px,#f38486 94.5px,#f3878a 99.5px)"></i><i style="background:linear-gradient(#905155 0.5px,#c04446 2.5px,#dd5153 4.5px,#fd9d9d 13.5px,#ffafaf 18.5px,#fea8a8 49.5px,#ffa9aa 71.5px,#ffb1b1 99.5px)"></i><i style="background:linear-gradient(#36a0b8 0.5px,#578392 4.5px,#b35155 10.5px,#da5457 13.5px,#fd9f9f 22.5px,#ffb7b7 31.5px,#ffb8b8 99.5px)"></i><i style="background:linear-gradient(#21a5e2 0.5px,#3a9dbc 10.5px,#4e8da2 13.5px,#ab595f 19.5px,#cb5155 21.5px,#ea7576 25.5px,#fea4a4 31.5px,#ffb8b8 40.5px,#ffb8b8 99.5px)"></i><i style="background:linear-gradient(#1e92f2 0.5px,#239ce1 13.5px,#4198b7 21.5px,#667c8f 24.5px,#c0545a 29.5px,#e4696c 32.5px,#f99b9b 37.5px,#ffb7b7 45.5px,#ffb4b4 99.5px)"></i><i style="background:linear-gradient(#1d82fa 0.5px,#1d84f7 15.5px,#2498e1 23.5px,#4396b8 30.5px,#856b7a 34.5px,#c2565c 37.5px,#e67073 40.5px,#fba0a0 45.5px,#ffb7b7 53.5px,#ffafaf 88.5px,#f39394 99.5px)"></i><i style="background:linear-gradient(#1c75fe 0.5px,#1967fc 16.5px,#2094ec 30.5px,#4495b9 38.5px,#a4626b 43.5px,#cd595e 45.5px,#e97b7d 48.5px,#fda4a4 53.5px,#ffb7b7 62.5px,#fea5a5 79.5px,#ec8283 88.5px,#d65c61 94.5px,#b65c63 97.5px,#a2636e 99.5px)"></i><i style="background:linear-gradient(#1b6cfe 0.5px,#1551f9 17.5px,#1e88f5 35.5px,#2f95d5 42.5px,#4096c0 45.5px,#72798e 48.5px,#b25e66 51.5px,#c7585f 52.5px,#e1696d 54.5px,#f79a9a 59.5px,#fb9f9f 64.5px,#ed8586 73.5px,#d65b60 80.5px,#b65b62 83.5px,#7e7283 88.5px,#4396bd 94.5px,#3396d1 99.5px)"></i><i style="background:linear-gradient(#2f65e8 0.5px,#2841e1 17.5px,#255fed 31.5px,#2886ea 43.5px,#3397ce 50.5px,#4794b5 53.5px,#936771 57.5px,#cb575b 60.5px,#d55a5d 62.5px,#b55a5e 68.5px,#8e6570 73.5px,#4d92b1 80.5px,#298de7 96.5px,#2886eb 99.5px)"></i><i style="background:linear-gradient(#a95c78 0.5px,#a7527c 9.5px,#9f3e79 26.5px,#834b88 30.5px,#7363a3 33.5px,#6b59a5 44.5px,#5169b0 47.5px,#4287c6 50.5px,#4590bd 54.5px,#628a9a 62.5px,#637d92 68.5px,#746884 72.5px,#7475a1 85.5px,#7264a6 99.5px)"></i><i style="background:linear-gradient(#f16567 0.5px,#f38183 5.5px,#f38285 8.5px,#f26468 10.5px,#e9666e 32.5px,#e8636d 36.5px,#e7454f 38.5px,#de464f 53.5px,#e7444e 99.5px)"></i><i style="background:linear-gradient(#db4546 0.5px,#fc9292 7.5px,#faa 17.5px,#fea2a2 51.5px,#fe8484 53.5px,#fe8282 67.5px,#fea0a1 69.5px,#fea4a4 99.5px)"></i><i style="background:linear-gradient(#58828e 0.5px,#b54e51 5.5px,#df5759 8.5px,#fc9c9c 15.5px,#ffb6b6 23.5px,#ffb2b2 53.5px,#ffb8b8 99.5px)"></i><i style="background:linear-gradient(#27a6d3 0.5px,#4c90a3 7.5px,#a15a60 12.5px,#c64f53 14.5px,#e56769 17.5px,#fc9f9f 23.5px,#ffb7b7 31.5px,#ffb8b8 99.5px)"></i><i style="background:linear-gradient(#1f9aed 0.5px,#26a1d9 8.5px,#4893ab 15.5px,#9f5e66 20.5px,#c55357 22.5px,#e66d6f 25.5px,#fa9d9d 30.5px,#ffb7b7 38.5px,#ffb8b8 99.5px)"></i><i style="background:linear-gradient(#1e89f8 0.5px,#2098ea 14.5px,#4794b1 23.5px,#a36068 28.5px,#ca565b 30.5px,#e87678 33.5px,#fda3a3 38.5px,#ffb7b7 46.5px,#ffb6b6 99.5px)"></i><i style="background:linear-gradient(#1c7afd 0.5px,#1c79fb 14.5px,#2196e9 23.5px,#3f98be 30.5px,#6e7a8e 33.5px,#ae5f66 36.5px,#c3585e 37.5px,#e0696c 39.5px,#f99e9e 44.5px,#ffb7b7 52.5px,#ffb0b0 91.5px,#f89e9e 99.5px)"></i><i style="background:linear-gradient(#1b70fe 0.5px,#185ffc 16.5px,#1f92ee 30.5px,#4594b9 38.5px,#956673 42.5px,#c15a61 44.5px,#e06a6e 46.5px,#f49999 50.5px,#ffb6b6 58.5px,#ffacac 79.5px,#ee8b8c 90.5px,#d15c61 97.5px,#ba5b62 99.5px)"></i><i style="background:linear-gradient(#2569f3 0.5px,#1f4cee 17.5px,#1d79f8 31.5px,#2194eb 38.5px,#4396bc 45.5px,#926876 49.5px,#bf5c63 51.5px,#df696e 53.5px,#f79e9e 58.5px,#fea7a7 64.5px,#f4a3a6 70.5px,#dc6569 82.5px,#c2595e 85.5px,#886d7a 90.5px,#4596b9 96.5px,#3998c9 99.5px)"></i><i style="background:linear-gradient(#715ea6 0.5px,#693ea5 19.5px,#534aad 26.5px,#3c70d1 32.5px,#3e86d4 43.5px,#5689ab 51.5px,#6a7a91 53.5px,#a65a61 56.5px,#df4e4e 59.5px,#f25e5e 61.5px,#ec5758 65.5px,#c56c7b 67.5px,#bc5362 73.5px,#a25a67 76.5px,#628b9f 83.5px,#3e8ad2 99.5px)"></i><i style="background:linear-gradient(#e73842 0.5px,#e7404e 12.5px,#dd4453 36.5px,#d14149 50.5px,#cb4041 57.5px,#d44343 63.5px,#e0383b 70.5px,#e8373a 76.5px,#de4e54 88.5px,#dd4653 99.5px)"></i><i style="background:linear-gradient(#ee5b5b 0.5px,#fd8f8f 5.5px,#fea3a3 13.5px,#fea0a1 35.5px,#fd8283 37.5px,#f77d7d 55.5px,#f66464 56.5px,#f66464 65.5px,#f77d7d 66.5px,#fe8181 99.5px)"></i><i style="background:linear-gradient(#915c60 0.5px,#cc4a4c 3.5px,#ee7575 7.5px,#fea8a8 13.5px,#ffb8b8 23.5px,#ffabab 65.5px,#ffb1b1 99.5px)"></i><i style="background:linear-gradient(#34a1be 0.5px,#4793a6 3.5px,#8c626a 7.5px,#c64e51 10.5px,#e6686a 13.5px,#fa9b9b 18.5px,#ffb6b6 26.5px,#ffb8b8 99.5px)"></i><i style="background:linear-gradient(#21a2e5 0.5px,#369ec1 8.5px,#4b91a7 11.5px,#a55c62 16.5px,#cb5357 18.5px,#e87172 21.5px,#fb9f9f 26.5px,#ffb7b7 34.5px,#ffb8b8 99.5px)"></i><i style="background:linear-gradient(#1e90f4 0.5px,#229de2 11.5px,#4198b8 18.5px,#6d7a8b 21.5px,#bc575d 25.5px,#dc6164 27.5px,#f99e9e 33.5px,#ffb7b7 41.5px,#ffb8b8 99.5px)"></i><i style="background:linear-gradient(#1d80fb 0.5px,#1d86f6 13.5px,#2597e0 20.5px,#4198bb 26.5px,#856d7c 30.5px,#c3595f 33.5px,#df696d 35.5px,#f79e9e 40.5px,#ffb7b7 49.5px,#ffb1b1 98.5px,#ffafaf 99.5px)"></i><i style="background:linear-gradient(#1c74fe 0.5px,#1a6bfc 15.5px,#2092ed 26.5px,#4496bb 34.5px,#8f6977 38.5px,#ce5d63 41.5px,#e98284 44.5px,#faa2a2 48.5px,#ffb8b8 57.5px,#ffafaf 85.5px,#ef9394 96.5px,#e98285 99.5px)"></i><i style="background:linear-gradient(#2570fb 0.5px,#2059f7 16.5px,#298ef2 32.5px,#3596d0 38.5px,#3e96b7 41.5px,#707986 44.5px,#b06161 47.5px,#c55c5a 48.5px,#e06e6a 50.5px,#f2a39d 55.5px,#f7b2af 61.5px,#fcacac 70.5px,#f4a0a1 79.5px,#db676d 89.5px,#bd5d65 92.5px,#837082 97.5px,#6f7d95 99.5px)"></i><i style="background:linear-gradient(#7183e0 0.5px,#6d70dc 18.5px,#7399e6 35.5px,#6f9de0 37.5px,#4f96c6 38.5px,#1c899d 39.5px,#148b92 41.5px,#388565 49.5px,#855529 53.5px,#9b6235 55.5px,#9e9063 59.5px,#a3966b 60.5px,#c19478 61.5px,#f28c88 62.5px,#fa8888 65.5px,#f17a7a 70.5px,#ca787c 77.5px,#b56a73 81.5px,#6b8eab 88.5px,#589ac3 92.5px,#489bd6 99.5px)"></i><i style="background:linear-gradient(#e98795 0.5px,#e98595 18.5px,#e9afbe 25.5px,#eabdc9 36.5px,#dfbbc1 37.5px,#92a786 38.5px,#188628 39.5px,#038117 40.5px,#077f0d 50.5px,#177906 55.5px,#18820e 59.5px,#238517 60.5px,#6f934b 61.5px,#e9a79c 62.5px,#feabab 63.5px,#eba9ac 84.5px,#e0afba 99.5px)"></i><i style="background:linear-gradient(#fb4a4a 0.5px,#fb4b4c 18.5px,#ffa4a4 26.5px,#ffbfc0 33.5px,#ffc3c3 36.5px,#f3c1ba 37.5px,#9eb07a 38.5px,#189613 39.5px,#009101 40.5px,#009100 59.5px,#0c9209 60.5px,#619e44 61.5px,#e7b0a3 62.5px,#ffb3b3 63.5px,#ffb3b3 99.5px)"></i><i style="background:linear-gradient(#dc2222 0.5px,#d22 18.5px,#f52f2f 21.5px,#ffa9a9 31.5px,#ffbfbf 36.5px,#f3bfb8 37.5px,#9fb579 38.5px,#19a313 39.5px,#019f01 40.5px,#019f01 59.5px,#0da00a 60.5px,#62a745 61.5px,#e7b2a3 62.5px,#ffb3b3 63.5px,#ffb3b3 99.5px)"></i><i style="background:linear-gradient(#7d4f51 0.5px,#804c4e 18.5px,#ca1f1f 21.5px,#f32323 24.5px,#ff8282 31.5px,#ffb1b1 35.5px,#f3bab3 37.5px,#9eb276 38.5px,#18a012 39.5px,#019d01 40.5px,#019d01 59.5px,#0c9e09 60.5px,#61a644 61.5px,#e7b1a3 62.5px,#ffb3b3 63.5px,#fea6a6 99.5px)"></i><i style="background:linear-gradient(#369eac 0.5px,#389caa 18.5px,#429099 19.5px,#765152 21.5px,#983232 22.5px,#ba1e1e 23.5px,#e61616 25.5px,#fb2d2d 28.5px,#ffa9a8 36.5px,#f3b0a9 37.5px,#9eaa71 38.5px,#189711 39.5px,#009400 40.5px,#009400 59.5px,#0c9608 60.5px,#61a044 61.5px,#e7b0a3 62.5px,#ffb3b3 63.5px,#ffacac 74.5px,#e77576 86.5px,#e06869 99.5px)"></i><i style="background:linear-gradient(#26b2ce 0.5px,#26b2cd 18.5px,#30a6b4 20.5px,#3f9197 21.5px,#7d4343 23.5px,#a32424 24.5px,#df1212 26.5px,#fa2222 29.5px,#ff8383 35.5px,#ff9696 36.5px,#f3a49d 37.5px,#9ea06c 38.5px,#188d10 39.5px,#008900 40.5px,#008900 59.5px,#0c8b08 60.5px,#619944 61.5px,#e7afa3 62.5px,#ffb3b3 63.5px,#ffafaf 70.5px,#fb9090 73.5px,#e95252 76.5px,#c73c3c 79.5px,#74717a 86.5px,#617f8d 91.5px,#5a8493 99.5px)"></i><i style="background:linear-gradient(#23b4d5 0.5px,#25b3cf 19.5px,#30a6b1 21.5px,#418d91 22.5px,#883434 24.5px,#b01b1b 25.5px,#d11212 26.5px,#ef1515 28.5px,#fd3333 31.5px,#ff8a8a 36.5px,#f39a95 37.5px,#9e9767 38.5px,#188110 39.5px,#007d00 40.5px,#007d00 59.5px,#0c7f08 60.5px,#619244 61.5px,#e7aea3 62.5px,#ffb3b3 63.5px,#ffaeae 68.5px,#fea2a2 69.5px,#fb8a8a 70.5px,#ec4141 72.5px,#dd2c2c 73.5px,#b42d2d 75.5px,#6c6264 78.5px,#4195a1 81.5px,#2da5ca 86.5px,#27a5d6 99.5px)"></i><i style="background:linear-gradient(#24b4d4 0.5px,#24b4d3 18.5px,#2aafc1 20.5px,#33a2ab 21.5px,#468688 22.5px,#902e2e 24.5px,#b61919 25.5px,#d61212 26.5px,#f11616 28.5px,#fe4444 32.5px,#ff8a8a 36.5px,#f39994 37.5px,#9e9167 38.5px,#187510 39.5px,#007000 40.5px,#007000 59.5px,#0c7308 60.5px,#618a44 61.5px,#e7ada3 62.5px,#ffb3b3 63.5px,#ffb1b1 66.5px,#fea4a4 67.5px,#fb8585 68.5px,#f45151 69.5px,#e82b2b 70.5px,#c31b1b 72.5px,#a82222 73.5px,#6e5354 75.5px,#428e93 77.5px,#29aec4 80.5px,#21a6e4 86.5px,#20a0e9 99.5px)"></i><i style="background:linear-gradient(#2dabc3 0.5px,#2dabc2 18.5px,#3b9ca6 20.5px,#4d8386 21.5px,#8f3535 23.5px,#b31e1e 24.5px,#e61515 26.5px,#fb2929 29.5px,#ff9595 36.5px,#f3a09b 37.5px,#9e8f6a 38.5px,#186910 39.5px,#006200 40.5px,#006200 59.5px,#0c6608 60.5px,#618144 61.5px,#e7aca3 62.5px,#ffb3b3 63.5px,#ffafaf 65.5px,#fd9797 66.5px,#ed2c2c 68.5px,#e31919 69.5px,#ba1717 71.5px,#813a3a 73.5px,#4a8081 75.5px,#2fa8b4 77.5px,#23b3d6 81.5px,#1f9aee 89.5px,#1f99ef 99.5px)"></i><i style="background:linear-gradient(#69828c 0.5px,#6b848d 18.5px,#876a6c 20.5px,#b73c3c 22.5px,#e33030 24.5px,#fa4141 27.5px,#fe7d7c 32.5px,#e79b8e 35.5px,#dca897 37.5px,#8f8f65 38.5px,#16620f 39.5px,#005a00 40.5px,#005a00 59.5px,#0b5e08 60.5px,#587a3d 61.5px,#d2a692 62.5px,#e8aea2 63.5px,#f0ada5 64.5px,#fb9897 65.5px,#f55555 66.5px,#ed2e2e 67.5px,#dd1f1f 69.5px,#b12929 71.5px,#7c5454 73.5px,#509597 75.5px,#3eadbc 77.5px,#36add8 82.5px,#3497e9 89.5px,#3496e9 99.5px)"></i><i style="background:linear-gradient(#e87b7d 0.5px,#e88081 14.5px,#f19494 21.5px,#ffb3b3 30.5px,#f8b6b2 32.5px,#c3ad8c 33.5px,#709e4e 34.5px,#619d45 35.5px,#5c9d44 37.5px,#3c902d 38.5px,#097907 39.5px,#007500 42.5px,#057703 60.5px,#258118 61.5px,#589238 62.5px,#689643 63.5px,#9d9a63 64.5px,#ee9189 65.5px,#f97b7b 66.5px,#e67474 70.5px,#c68a8a 73.5px,#b1a9ac 76.5px,#aaa4bd 84.5px,#aa9bbe 99.5px)"></i><i style="background:linear-gradient(#fe6262 0.5px,#fe6363 13.5px,#ffa6a6 20.5px,#ffc0c0 28.5px,#ffc3c3 31.5px,#f4c2bb 32.5px,#a3b67e 33.5px,#24a41c 34.5px,#0ea10b 35.5px,#029b02 44.5px,#069d05 61.5px,#19a011 63.5px,#69a548 64.5px,#e8ac9e 65.5px,#feabab 66.5px,#f4afb4 99.5px)"></i><i style="background:linear-gradient(#ee2a2a 0.5px,#f33030 14.5px,#ff9393 22.5px,#ffb7b7 27.5px,#ffc1c1 31.5px,#f3c2ba 32.5px,#a1bd7c 33.5px,#1fb419 34.5px,#08b308 35.5px,#08b308 62.5px,#14b310 63.5px,#66b349 64.5px,#e8b3a3 65.5px,#ffb3b3 66.5px,#ffb3b3 99.5px)"></i><i style="background:linear-gradient(#a93031 0.5px,#ac2f2f 13.5px,#e21e1e 16.5px,#fa3333 19.5px,#ffa9a9 28.5px,#fbb 31.5px,#f3beb6 32.5px,#a2bc7b 33.5px,#20b71a 34.5px,#09b609 35.5px,#09b609 62.5px,#15b611 63.5px,#66b54a 64.5px,#e8b4a4 65.5px,#ffb3b3 66.5px,#ffafaf 99.5px)"></i><i style="background:linear-gradient(#4a888f 0.5px,#4c848b 13.5px,#5c7175 14.5px,#993535 16.5px,#d31919 18.5px,#f72323 21.5px,#ff8989 28.5px,#ffafaf 31.5px,#f3b6ae 32.5px,#a0b576 33.5px,#1dae16 34.5px,#06ad06 35.5px,#06ad06 62.5px,#11ad0e 63.5px,#64af47 64.5px,#e8b3a3 65.5px,#ffb3b3 66.5px,#ffadad 79.5px,#f08e8e 99.5px)"></i><i style="background:linear-gradient(#29aec5 0.5px,#2aaec4 13.5px,#3b98a2 15.5px,#6f5555 17.5px,#943131 18.5px,#b81c1c 19.5px,#e71414 21.5px,#fb2a2a 24.5px,#ff9e9e 31.5px,#f3aaa3 32.5px,#9fab6f 33.5px,#19a112 34.5px,#029f02 35.5px,#029f02 62.5px,#0da00a 63.5px,#62a745 64.5px,#e7b1a3 65.5px,#ffb3b3 66.5px,#ffafaf 74.5px,#f98c8c 78.5px,#ea6161 81.5px,#cd4b4c 85.5px,#9d5b60 93.5px,#945f65 99.5px)"></i><i style="background:linear-gradient(#24b4d4 0.5px,#24b4d3 13.5px,#2aafc1 15.5px,#34a1ab 16.5px,#478587 17.5px,#902f2f 19.5px,#b61919 20.5px,#d61212 21.5px,#f11616 23.5px,#fe4545 27.5px,#ff8e8e 31.5px,#f39f98 32.5px,#9ea069 33.5px,#189210 34.5px,#009000 35.5px,#009000 62.5px,#0c9209 63.5px,#619d44 64.5px,#e7b0a3 65.5px,#ffb3b3 66.5px,#feabab 72.5px,#fb8989 74.5px,#ed4a4a 76.5px,#e03636 77.5px,#bc3232 79.5px,#6d6a6e 83.5px,#4397a8 87.5px,#369fc0 92.5px,#33a0c4 99.5px)"></i><i style="background:linear-gradient(#23b4d5 0.5px,#25b3ce 14.5px,#31a5b0 16.5px,#428c8f 17.5px,#8a3232 19.5px,#b11a1a 20.5px,#d31212 21.5px,#f01515 23.5px,#fd3333 26.5px,#ff8989 31.5px,#f39a94 32.5px,#9e9767 33.5px,#188310 34.5px,#008000 35.5px,#008000 62.5px,#0c8208 63.5px,#619344 64.5px,#e7afa3 65.5px,#ffb3b3 66.5px,#ffacac 70.5px,#fd9b9b 71.5px,#f04545 73.5px,#e32929 74.5px,#b92222 76.5px,#824242 78.5px,#429097 81.5px,#2babc2 84.5px,#21a5e4 91.5px,#20a4e5 99.5px)"></i><i style="background:linear-gradient(#25b3cf 0.5px,#26b2ce 13.5px,#2fa8b6 15.5px,#3e9399 16.5px,#7c4242 18.5px,#a32323 19.5px,#e01212 21.5px,#fa2121 24.5px,#ff9090 31.5px,#f39d98 32.5px,#9e9268 33.5px,#187510 34.5px,#006f00 35.5px,#006f00 62.5px,#0c7208 63.5px,#618944 64.5px,#e7ada3 65.5px,#ffb3b3 66.5px,#ffb1b1 68.5px,#fea3a3 69.5px,#fa7c7c 70.5px,#f24242 71.5px,#e72222 72.5px,#c11717 74.5px,#893434 76.5px,#3e9297 79.5px,#2badbe 81.5px,#22addd 86.5px,#1f9ced 93.5px,#1f9bed 99.5px)"></i><i style="background:linear-gradient(#41a5b5 0.5px,#42a4b3 13.5px,#489ca7 14.5px,#58888d 15.5px,#914444 17.5px,#b32d2d 18.5px,#e42222 20.5px,#fa3333 23.5px,#fe9392 30.5px,#e8a59a 32.5px,#979168 33.5px,#176810 34.5px,#006100 35.5px,#006100 62.5px,#0b6508 63.5px,#5c8041 64.5px,#ddaa9b 65.5px,#fab0ae 66.5px,#feafae 67.5px,#fe9e9e 68.5px,#ef2f2f 70.5px,#e71b1b 71.5px,#c71919 73.5px,#933131 75.5px,#488f91 78.5px,#35aab8 80.5px,#2ca9d6 85.5px,#2992e7 92.5px,#2992e7 99.5px)"></i><i style="background:linear-gradient(#c27072 0.5px,#c47376 13.5px,#f16d6d 18.5px,#ff9a9a 25.5px,#ffb3b3 29.5px,#f6b5b0 30.5px,#9ba971 32.5px,#629448 33.5px,#0f720b 34.5px,#006c00 35.5px,#006c00 62.5px,#086e05 63.5px,#3c8129 64.5px,#999f67 65.5px,#daa38d 66.5px,#fa9c99 67.5px,#f55050 69.5px,#ed4040 71.5px,#c44747 74.5px,#848e91 78.5px,#799ba9 81.5px,#737eb7 94.5px,#737eb7 99.5px)"></i><i style="background:linear-gradient(#f97575 0.5px,#f97777 11.5px,#feaaaa 18.5px,#ffc2c2 29.5px,#eac0b3 30.5px,#71b156 31.5px,#24a61c 32.5px,#059c04 34.5px,#049c03 63.5px,#0c9e09 64.5px,#2da420 65.5px,#a8ab74 66.5px,#f4aea7 67.5px,#fda3a3 69.5px,#eeabab 77.5px,#eaaab3 99.5px)"></i><i style="background:linear-gradient(#f83d3d 0.5px,#f93f3f 11.5px,#ffa6a6 20.5px,#ffc2c2 28.5px,#ffc3c2 29.5px,#e8c2b2 30.5px,#67bc50 31.5px,#15b813 32.5px,#0ab80a 34.5px,#0ab80a 64.5px,#21b71a 65.5px,#a2b573 66.5px,#f3b4ab 67.5px,#ffb3b3 69.5px,#ffb3b3 99.5px)"></i><i style="background:linear-gradient(#cd2424 0.5px,#d12323 11.5px,#f22929 14.5px,#ff8383 21.5px,#ffb3b3 26.5px,#ffbfbf 29.5px,#e9c1b0 30.5px,#6ac352 31.5px,#19c416 32.5px,#0ec40e 34.5px,#0ec40e 64.5px,#24c21d 65.5px,#a3ba75 66.5px,#f4b4ac 67.5px,#ffb3b3 69.5px,#ffb3b3 99.5px)"></i><i style="background:linear-gradient(#686467 0.5px,#6e5e60 11.5px,#a52f30 13.5px,#d81b1b 15.5px,#f82828 18.5px,#ffa6a6 27.5px,#ffb6b6 29.5px,#e8bbaa 30.5px,#67bc4e 31.5px,#16bb13 32.5px,#0bbb0b 34.5px,#0bbb0b 64.5px,#21ba1a 65.5px,#a2b673 66.5px,#f4b4ab 67.5px,#ffb3b3 69.5px,#ffabab 85.5px,#fba2a2 99.5px)"></i><i style="background:linear-gradient(#30a5b7 0.5px,#33a3b2 11.5px,#3d959f 12.5px,#705758 14.5px,#933535 15.5px,#b51f1f 16.5px,#e51515 18.5px,#fb2a2a 21.5px,#ffa8a8 29.5px,#e8b0a1 30.5px,#64af48 31.5px,#11ac0e 32.5px,#05ab05 34.5px,#05ab05 64.5px,#1cac15 65.5px,#a0b071 66.5px,#f3b3ab 67.5px,#ffb3b3 69.5px,#ffabab 78.5px,#f78989 83.5px,#e56a6b 88.5px,#cf575a 99.5px)"></i><i style="background:linear-gradient(#25b3d0 0.5px,#25b2ce 11.5px,#30a7b4 13.5px,#3f9197 14.5px,#7f4040 16.5px,#a52222 17.5px,#e11212 19.5px,#fa2222 22.5px,#ff8484 28.5px,#ff9898 29.5px,#e7a597 30.5px,#61a142 31.5px,#0d9b09 32.5px,#019b01 34.5px,#019b01 64.5px,#199d12 65.5px,#9faa70 66.5px,#f3b2ab 67.5px,#ffb3b3 69.5px,#ffb0b0 74.5px,#fd9f9f 76.5px,#e64646 80.5px,#cb3636 82.5px,#9b4d4e 85.5px,#5e808c 90.5px,#4c91a5 95.5px,#4795aa 99.5px)"></i><i style="background:linear-gradient(#23b4d6 0.5px,#24b4d4 11.5px,#29afc2 13.5px,#33a2ab 14.5px,#478586 15.5px,#922c2c 17.5px,#b81818 18.5px,#d81212 19.5px,#f81c1c 22.5px,#ff7979 28.5px,#ff8e8e 29.5px,#e79d90 30.5px,#61943f 31.5px,#0c8a08 32.5px,#080 34.5px,#080 64.5px,#188c11 65.5px,#9ea36f 66.5px,#f3b1ab 67.5px,#ffb3b3 69.5px,#ffb0b0 72.5px,#fc9090 74.5px,#ed4141 76.5px,#df2a2a 77.5px,#b52929 79.5px,#804a4a 81.5px,#478d95 84.5px,#31a5bc 87.5px,#24a6da 93.5px,#23a7dd 99.5px)"></i><i style="background:linear-gradient(#24b3d2 0.5px,#25b3d1 11.5px,#2dabba 13.5px,#3a989e 14.5px,#784545 16.5px,#9f2424 17.5px,#de1212 19.5px,#fa1f1f 22.5px,#ff7d7d 28.5px,#ff9090 29.5px,#e79c91 30.5px,#61893f 31.5px,#0c7908 32.5px,#070 34.5px,#070 64.5px,#187c11 65.5px,#9e9c6f 66.5px,#f3b1ab 67.5px,#ffb3b3 69.5px,#feaaaa 71.5px,#fc9191 72.5px,#ec3030 74.5px,#de1f1f 75.5px,#b01d1d 77.5px,#764949 79.5px,#45898c 81.5px,#2fa8b7 83.5px,#23b1d7 87.5px,#209fea 94.5px,#1f9eeb 99.5px)"></i><i style="background:linear-gradient(#33a8be 0.5px,#34a7bb 11.5px,#479096 13.5px,#7f4849 15.5px,#a32a2a 16.5px,#de1818 18.5px,#f92727 21.5px,#ff9c9c 29.5px,#e7a198 30.5px,#618041 31.5px,#0c6808 32.5px,#006500 34.5px,#006500 64.5px,#186c11 65.5px,#9e956f 66.5px,#f3afab 67.5px,#ffb3b3 68.5px,#ffb2b2 69.5px,#fea3a3 70.5px,#fa7676 71.5px,#f03939 72.5px,#e81d1d 73.5px,#c61414 75.5px,#8f2e2e 77.5px,#409092 80.5px,#2badbc 82.5px,#22aedd 87.5px,#1f99ef 94.5px,#1f98ef 99.5px)"></i><i style="background:linear-gradient(#85797f 0.5px,#88777d 11.5px,#bb4e4e 14.5px,#e14141 16.5px,#f95151 19.5px,#ffabab 28.5px,#fab1ae 29.5px,#cca990 30.5px,#537e3c 31.5px,#0a6207 32.5px,#005e00 34.5px,#005e00 64.5px,#14660e 65.5px,#8a8f60 66.5px,#dfaa99 67.5px,#fcadab 68.5px,#fea5a5 69.5px,#f13b3b 71.5px,#ec2727 72.5px,#d72323 74.5px,#aa3131 76.5px,#786161 78.5px,#53989c 80.5px,#43abc0 83.5px,#3795e4 94.5px,#3795e4 99.5px)"></i><i style="background:linear-gradient(#ed8f8f 0.5px,#ed9192 10.5px,#ffb6b6 22.5px,#ffc1c1 28.5px,#e1bcaa 29.5px,#3fa02f 30.5px,#0e930b 31.5px,#018e01 33.5px,#048f03 65.5px,#219616 66.5px,#769948 67.5px,#eb998c 68.5px,#ff9797 69.5px,#fc8282 72.5px,#e88585 78.5px,#cb8c96 90.5px,#bb97a4 96.5px,#bb98a4 99.5px)"></i><i style="background:linear-gradient(#fd5858 0.5px,#fd5c5c 10.5px,#ffa8a8 17.5px,#ffc1c1 25.5px,#ffc3c3 28.5px,#dcc0a9 29.5px,#29af20 30.5px,#06ac06 31.5px,#06ac06 65.5px,#12ac0e 66.5px,#64ad46 67.5px,#e8ae9f 68.5px,#ffaeae 69.5px,#f8afaf 99.5px)"></i><i style="background:linear-gradient(#e62525 0.5px,#e92626 10.5px,#fc4b4b 14.5px,#ffa3a3 21.5px,#ffbfbf 27.5px,#ffc1c1 28.5px,#ddc2a9 29.5px,#2ebf25 30.5px,#0cbf0c 31.5px,#0cbf0c 65.5px,#17be14 66.5px,#68ba4c 67.5px,#e8b4a4 68.5px,#ffb3b3 69.5px,#ffb3b3 99.5px)"></i><i style="background:linear-gradient(#923e40 0.5px,#933d3f 9.5px,#9b3839 10.5px,#de1d1d 13.5px,#f92f2f 16.5px,#ffa8a8 25.5px,#fbb 28.5px,#ddbea5 29.5px,#2dbc24 30.5px,#0bbc0b 31.5px,#0bbc0b 65.5px,#17bc13 66.5px,#68b94b 67.5px,#e8b4a4 68.5px,#ffb3b3 69.5px,#ffabab 99.5px)"></i><i style="background:linear-gradient(#3d97a1 0.5px,#3e96a0 9.5px,#448f97 10.5px,#745556 12.5px,#b62121 14.5px,#e41717 16.5px,#fa2c2c 19.5px,#ffa6a6 27.5px,#ffb0b0 28.5px,#dcb59e 29.5px,#29b01f 30.5px,#07af06 31.5px,#06af06 65.5px,#12af0e 66.5px,#65b048 67.5px,#e8b3a3 68.5px,#ffb3b3 69.5px,#ffadad 81.5px,#ec8282 96.5px,#eb7e7f 99.5px)"></i><i style="background:linear-gradient(#27b1ca 0.5px,#28afc6 10.5px,#3b97a0 12.5px,#725050 14.5px,#982c2d 15.5px,#bc1919 16.5px,#e91414 18.5px,#fc2b2b 21.5px,#ffa1a1 28.5px,#dcaa94 29.5px,#25a119 30.5px,#029e02 31.5px,#029e02 65.5px,#0d9f0a 66.5px,#62a645 67.5px,#e7b1a3 68.5px,#ffb3b3 69.5px,#ffadad 77.5px,#fa8f8f 80.5px,#ea5a5a 83.5px,#cf4444 86.5px,#a45154 90.5px,#856870 95.5px,#7d6e78 99.5px)"></i><i style="background:linear-gradient(#24b4d5 0.5px,#24b3d2 10.5px,#2badbc 12.5px,#389ba2 13.5px,#4f7879 14.5px,#744848 15.5px,#9c2525 16.5px,#de1111 18.5px,#f91f1f 21.5px,#ff8080 27.5px,#ff9494 28.5px,#dca08c 29.5px,#249017 30.5px,#008c00 31.5px,#008c00 65.5px,#0c8e09 66.5px,#619b44 67.5px,#e7b0a3 68.5px,#ffb3b3 69.5px,#ffb1b1 74.5px,#fd9b9b 76.5px,#e83c3c 79.5px,#d92d2d 80.5px,#b03333 82.5px,#5c777c 86.5px,#3f99aa 89.5px,#30a1c8 94.5px,#2ea2cc 99.5px)"></i><i style="background:linear-gradient(#24b4d5 0.5px,#24b3d2 10.5px,#2cacbc 12.5px,#389ba1 13.5px,#507778 14.5px,#754646 15.5px,#9d2424 16.5px,#de1111 18.5px,#fa1f1f 21.5px,#ff7d7d 27.5px,#ff9191 28.5px,#dc9b8a 29.5px,#238017 30.5px,#007a00 31.5px,#007a00 65.5px,#0c7d08 66.5px,#619044 67.5px,#e7aea3 68.5px,#ffb3b3 69.5px,#feabab 73.5px,#fd9797 74.5px,#ee3c3c 76.5px,#e02424 77.5px,#b52020 79.5px,#7c4646 81.5px,#4c8285 83.5px,#33a2b0 85.5px,#24b0d4 89.5px,#20a2e7 96.5px,#20a2e7 99.5px)"></i><i style="background:linear-gradient(#27b1cb 0.5px,#28b0c8 10.5px,#399aa3 12.5px,#4e7d7f 13.5px,#952d2d 15.5px,#ba1919 16.5px,#d71313 17.5px,#f11818 19.5px,#fe4646 23.5px,#f99 28.5px,#db9d8e 29.5px,#237217 30.5px,#006900 31.5px,#006900 65.5px,#0c6d08 66.5px,#618544 67.5px,#e7aca3 68.5px,#ffb3b3 69.5px,#ffb1b1 71.5px,#fea2a2 72.5px,#fa7878 73.5px,#f13d3d 74.5px,#e72020 75.5px,#c21616 77.5px,#893333 79.5px,#3e9397 82.5px,#2baebe 84.5px,#22adde 89.5px,#1f9aee 96.5px,#1f9aee 99.5px)"></i><i style="background:linear-gradient(#4ba3af 0.5px,#4ba2ae 9.5px,#4f9da7 10.5px,#736f71 12.5px,#b03737 14.5px,#e12727 16.5px,#fa3636 19.5px,#fba8a6 28.5px,#caa08a 29.5px,#206916 30.5px,#005e00 31.5px,#005e00 65.5px,#0b6208 66.5px,#587d3e 67.5px,#d4a794 68.5px,#f6ada8 69.5px,#feacab 70.5px,#fe9f9f 71.5px,#f03131 73.5px,#e91e1e 74.5px,#cd1b1b 76.5px,#9b3030 78.5px,#666969 80.5px,#508a8b 81.5px,#3ba7b4 83.5px,#2daed8 88.5px,#2999ed 96.5px,#2999ed 99.5px)"></i><i style="background:linear-gradient(#df8284 0.5px,#e48787 11.5px,#fd9494 17.5px,#ffbdbd 27.5px,#e9baae 28.5px,#699c4e 29.5px,#0e7a0a 30.5px,#007400 31.5px,#057603 66.5px,#25821a 67.5px,#669544 68.5px,#c29272 69.5px,#f68d89 70.5px,#fd7e7d 71.5px,#f86060 72.5px,#f45151 74.5px,#ce5b5b 78.5px,#9e888c 82.5px,#7aadc1 88.5px,#75a7d5 96.5px,#75a7d5 99.5px)"></i><i style="background:linear-gradient(#fe6d6d 0.5px,#fe7171 9.5px,#ffa9a9 15.5px,#ffc2c2 24.5px,#ffc3c3 27.5px,#ddbeaa 28.5px,#2da023 29.5px,#039702 30.5px,#069804 67.5px,#229c18 68.5px,#a3a66e 69.5px,#f3aba4 70.5px,#fea6a6 72.5px,#eab2b8 96.5px,#eab2b8 99.5px)"></i><i style="background:linear-gradient(#f53333 0.5px,#f63636 9.5px,#ffa2a2 18.5px,#ffc0c0 25.5px,#ffc2c2 27.5px,#dcc0a9 28.5px,#28ae20 29.5px,#05ab05 30.5px,#05ab05 67.5px,#1dac15 68.5px,#a0b071 69.5px,#f3b3ab 70.5px,#ffb3b3 72.5px,#ffb3b3 99.5px)"></i><i style="background:linear-gradient(#c12525 0.5px,#c82323 9.5px,#f02424 12.5px,#ff6f6f 18.5px,#ffabab 23.5px,#ffbebe 27.5px,#dcbea6 28.5px,#29b220 29.5px,#07b007 30.5px,#07b007 67.5px,#1eb017 68.5px,#a1b272 69.5px,#f3b3ab 70.5px,#ffb3b3 72.5px,#ffb3b3 99.5px)"></i><i style="background:linear-gradient(#5e6e72 0.5px,#5e6e71 8.5px,#666568 9.5px,#a03031 11.5px,#d71919 13.5px,#f72626 16.5px,#ffa6a6 25.5px,#ffb6b6 27.5px,#dcb7a1 28.5px,#26a81d 29.5px,#03a503 30.5px,#03a503 67.5px,#1aa613 68.5px,#9fae70 69.5px,#f3b3ab 70.5px,#ffb3b3 72.5px,#ffabab 86.5px,#f89e9e 99.5px)"></i><i style="background:linear-gradient(#2ea8ba 0.5px,#31a4b3 9.5px,#3d959e 10.5px,#735253 12.5px,#973030 13.5px,#ba1b1b 14.5px,#e81515 16.5px,#fb2b2b 19.5px,#ffaaa9 27.5px,#dcae99 28.5px,#249a19 29.5px,#019601 30.5px,#019600 67.5px,#189911 68.5px,#9ea86f 69.5px,#f3b2ab 70.5px,#ffb3b3 72.5px,#ffacac 80.5px,#f98c8c 84.5px,#e76464 88.5px,#c75254 94.5px,#bb5155 99.5px)"></i><i style="background:linear-gradient(#25b3cf 0.5px,#26b2cc 9.5px,#33a2ac 11.5px,#46878a 12.5px,#8e3131 14.5px,#b41a1a 15.5px,#d41212 16.5px,#f01616 18.5px,#fd3535 21.5px,#ff9d9d 27.5px,#dca491 28.5px,#238c18 29.5px,#008600 30.5px,#008600 67.5px,#188b11 68.5px,#9ea26f 69.5px,#f3b1ab 70.5px,#ffb3b3 72.5px,#ffadad 77.5px,#fc9393 79.5px,#e74343 82.5px,#c93232 84.5px,#924f50 87.5px,#59818b 91.5px,#419ab1 95.5px,#3e9bb6 99.5px)"></i><i style="background:linear-gradient(#24b3d2 0.5px,#25b3cf 9.5px,#2fa8b5 11.5px,#3e9296 12.5px,#833838 14.5px,#ab1d1d 15.5px,#ce1313 16.5px,#ee1414 18.5px,#fd3030 21.5px,#ff9797 27.5px,#dc9e8e 28.5px,#237e17 29.5px,#070 30.5px,#070 67.5px,#187d11 68.5px,#9e9d6f 69.5px,#f3b1ab 70.5px,#ffb3b3 72.5px,#ffadad 75.5px,#fd9e9e 76.5px,#e62f2f 79.5px,#bf2424 81.5px,#8a3e3e 83.5px,#49898f 86.5px,#2fa7bc 89.5px,#22a7df 95.5px,#21a6e1 99.5px)"></i><i style="background:linear-gradient(#26b2cc 0.5px,#27b1c8 9.5px,#2cacbc 10.5px,#389ba2 11.5px,#4f7a7c 12.5px,#992929 14.5px,#be1717 15.5px,#db1212 16.5px,#f91e1e 19.5px,#f77 25.5px,#ff9b9b 27.5px,#db9e8f 28.5px,#237117 29.5px,#006900 30.5px,#006900 67.5px,#186f11 68.5px,#9e976f 69.5px,#f3b0ab 70.5px,#ffb3b3 72.5px,#fea4a4 74.5px,#fb8080 75.5px,#f24848 76.5px,#e72525 77.5px,#c21818 79.5px,#893434 81.5px,#3f9196 84.5px,#2cacbd 86.5px,#22addd 91.5px,#1f9dec 98.5px,#1f9dec 99.5px)"></i><i style="background:linear-gradient(#3ea7b6 0.5px,#41a3af 9.5px,#4d9399 10.5px,#834d4e 12.5px,#a63030 13.5px,#de1e1e 15.5px,#f92c2c 18.5px,#fda6a6 27.5px,#d3a08f 28.5px,#226717 29.5px,#005c00 30.5px,#005c00 67.5px,#176410 68.5px,#97906a 69.5px,#ecaba3 70.5px,#fdacac 71.5px,#feaaaa 72.5px,#fd9a9a 73.5px,#ee2c2c 75.5px,#e61818 76.5px,#c31515 78.5px,#8c3030 80.5px,#3e9295 83.5px,#2baebe 85.5px,#22aedd 90.5px,#1f98ef 97.5px,#1f98ef 99.5px)"></i><i style="background:linear-gradient(#ae8284 0.5px,#b27f81 9.5px,#dc6060 12.5px,#f76565 15.5px,#ffb6b6 26.5px,#f1b6af 27.5px,#969b6c 28.5px,#166910 29.5px,#006100 30.5px,#006100 67.5px,#0f660a 68.5px,#668646 69.5px,#ba9475 70.5px,#f28e8a 71.5px,#fa8686 72.5px,#f03838 74.5px,#e72828 76.5px,#b33333 79.5px,#825d5d 81.5px,#5b9497 83.5px,#49adbb 85.5px,#41aed7 90.5px,#3e9ae8 98.5px,#3e9ae8 99.5px)"></i><i style="background:linear-gradient(#f58c8c 0.5px,#f58f8f 8.5px,#ffb9b9 19.5px,#ffc2c2 26.5px,#dfbbaa 27.5px,#359028 28.5px,#048103 29.5px,#028002 68.5px,#1a8712 69.5px,#6e964b 70.5px,#e9a89d 71.5px,#feaaaa 72.5px,#fb9c9c 76.5px,#e5adae 83.5px,#e0aebb 99.5px)"></i><i style="background:linear-gradient(#fc5454 0.5px,#fd5858 8.5px,#ffa6a6 15.5px,#ffc1c1 23.5px,#ffc3c3 26.5px,#dcbda9 27.5px,#249b1c 28.5px,#019400 29.5px,#009400 68.5px,#0c9609 69.5px,#61a044 70.5px,#e7b0a3 71.5px,#ffb3b3 72.5px,#ffb3b3 99.5px)"></i><i style="background:linear-gradient(#e62222 0.5px,#ea2424 8.5px,#fd4a4a 12.5px,#ffa3a3 19.5px,#ffbfbf 25.5px,#ffc1c1 26.5px,#dcbda7 27.5px,#25a51c 28.5px,#02a001 29.5px,#01a001 68.5px,#0da10a 69.5px,#62a745 70.5px,#e7b2a3 71.5px,#ffb3b3 72.5px,#ffb3b3 99.5px)"></i><i style="background:linear-gradient(#983737 0.5px,#9a3637 7.5px,#a33131 8.5px,#e41b1b 11.5px,#fc3d3d 15.5px,#faa 23.5px,#fbb 26.5px,#dcb9a4 27.5px,#249f1b 28.5px,#019a00 29.5px,#009a00 68.5px,#0c9b09 69.5px,#61a444 70.5px,#e7b1a3 71.5px,#ffb3b3 72.5px,#fea8a8 99.5px)"></i><i style="background:linear-gradient(#458c93 0.5px,#468b92 7.5px,#4d8287 8.5px,#854142 10.5px,#a82727 11.5px,#de1515 13.5px,#f92626 16.5px,#faa 25.5px,#ffb2b2 26.5px,#dcb29e 27.5px,#23941a 28.5px,#008e00 29.5px,#008e00 68.5px,#0c9008 69.5px,#619c44 70.5px,#e7b0a3 71.5px,#ffb3b3 72.5px,#ffacac 83.5px,#e77576 95.5px,#e26e70 99.5px)"></i><i style="background:linear-gradient(#29afc2 0.5px,#2cabbc 8.5px,#379da7 9.5px,#4b8184 10.5px,#913030 12.5px,#b61a1a 13.5px,#d51313 14.5px,#f11717 16.5px,#fe4444 20.5px,#ffa8a8 26.5px,#dcaa98 27.5px,#238819 28.5px,#008200 29.5px,#008100 68.5px,#0c8408 69.5px,#619444 70.5px,#e7afa3 71.5px,#ffb3b3 72.5px,#ffafaf 79.5px,#fb8e8e 82.5px,#e95151 85.5px,#c63c3c 88.5px,#74727b 95.5px,#637e8b 99.5px)"></i><i style="background:linear-gradient(#26b3cc 0.5px,#27b2c8 8.5px,#2cacbb 9.5px,#399aa0 10.5px,#527575 11.5px,#744 12.5px,#9f2323 13.5px,#df1111 15.5px,#fa1f1f 18.5px,#ff7c7c 24.5px,#ffa0a0 26.5px,#dca393 27.5px,#237d18 28.5px,#007500 29.5px,#007500 68.5px,#0c7808 69.5px,#618d44 70.5px,#e7aea3 71.5px,#ffb3b3 72.5px,#ffaeae 77.5px,#fda1a1 78.5px,#fb8888 79.5px,#eb3f3f 81.5px,#dc2c2c 82.5px,#b32e2e 84.5px,#6b6466 87.5px,#4196a2 90.5px,#2da5cb 95.5px,#28a4d3 99.5px)"></i><i style="background:linear-gradient(#27b2c9 0.5px,#28b0c5 8.5px,#2fa8b4 9.5px,#3e9196 10.5px,#813b3b 12.5px,#a91e1e 13.5px,#e31212 15.5px,#fa2222 18.5px,#ffa1a1 26.5px,#dca193 27.5px,#237218 28.5px,#006800 29.5px,#006800 68.5px,#0c6c08 69.5px,#618544 70.5px,#e7aca3 71.5px,#ffb3b3 72.5px,#ffb1b1 75.5px,#fea3a3 76.5px,#fb8282 77.5px,#f34e4e 78.5px,#e82a2a 79.5px,#c11b1b 81.5px,#a62323 82.5px,#6d5556 84.5px,#418f94 86.5px,#29aec5 89.5px,#21a6e4 95.5px,#20a1e9 99.5px)"></i><i style="background:linear-gradient(#35a4b3 0.5px,#35a4b2 7.5px,#399faa 8.5px,#478b91 9.5px,#843f3f 11.5px,#a92323 12.5px,#e11515 14.5px,#fa2525 17.5px,#ffa8a8 26.5px,#dba396 27.5px,#236718 28.5px,#005c00 29.5px,#005c00 68.5px,#0c6008 69.5px,#617d44 70.5px,#e7aba3 71.5px,#ffb3b3 72.5px,#ffaeae 74.5px,#fc9595 75.5px,#ec2b2b 77.5px,#e31919 78.5px,#b91717 80.5px,#7f3b3b 82.5px,#498283 84.5px,#2fa9b5 86.5px,#23b2d7 90.5px,#1f9aee 98.5px,#1f99ee 99.5px)"></i><i style="background:linear-gradient(#7f7376 0.5px,#807275 7.5px,#856c6e 8.5px,#b14040 10.5px,#df2f2f 12.5px,#f93e3e 15.5px,#ffafae 25.5px,#fbb3b2 26.5px,#caa591 27.5px,#206117 28.5px,#005400 29.5px,#005400 68.5px,#0b5808 69.5px,#58763d 70.5px,#d5a595 71.5px,#fcb1af 72.5px,#ffafaf 73.5px,#fd9595 74.5px,#f55252 75.5px,#ed2d2d 76.5px,#dc1f1f 78.5px,#b02a2a 80.5px,#7b5555 82.5px,#4f9698 84.5px,#3eaebc 86.5px,#36acd8 91.5px,#3497e9 98.5px,#3497e9 99.5px)"></i><i style="background:linear-gradient(#ec8485 0.5px,#f08c8c 9.5px,#ffb1b1 18.5px,#ffc1c1 25.5px,#e9bbb1 26.5px,#69944f 27.5px,#0e6e0a 28.5px,#006700 29.5px,#056903 69.5px,#257417 70.5px,#6e8a47 71.5px,#e9a59a 72.5px,#ffa6a6 73.5px,#f97a7a 75.5px,#e67373 79.5px,#c58a8a 82.5px,#b0a8ac 85.5px,#aaa1bd 94.5px,#aa9bbe 99.5px)"></i><i style="background:linear-gradient(#fe7474 0.5px,#ff7878 7.5px,#ffaeae 13.5px,#ffc3c3 23.5px,#ffc4c4 25.5px,#ddbcaa 26.5px,#2c8f22 27.5px,#028301 28.5px,#058303 70.5px,#2d8b1e 71.5px,#ddab9a 72.5px,#ffb1b1 73.5px,#f6b1b1 84.5px,#f4afb4 99.5px)"></i><i style="background:linear-gradient(#f83636 0.5px,#f93a3a 7.5px,#ffa5a5 16.5px,#ffc0c0 23.5px,#ffc2c2 25.5px,#dcbca8 26.5px,#24981b 27.5px,#009100 28.5px,#009100 70.5px,#249619 71.5px,#dcaf9a 72.5px,#ffb3b3 73.5px,#ffb3b3 99.5px)"></i><i style="background:linear-gradient(#cf2020 0.5px,#d41f1f 7.5px,#f52828 10.5px,#ffa7a7 20.5px,#ffbfbf 25.5px,#dcbaa6 26.5px,#23981b 27.5px,#009200 28.5px,#009200 70.5px,#239619 71.5px,#dcaf9a 72.5px,#ffb3b3 73.5px,#ffb1b1 99.5px)"></i><i style="background:linear-gradient(#735557 0.5px,#745455 6.5px,#7d4b4c 7.5px,#b92121 9.5px,#e51818 11.5px,#fb2d2d 14.5px,#ffabab 23.5px,#ffb8b8 25.5px,#dcb5a2 26.5px,#23901a 27.5px,#080 28.5px,#080 70.5px,#238e19 71.5px,#dcad9a 72.5px,#ffb3b3 73.5px,#ffaeae 86.5px,#f39595 99.5px)"></i><i style="background:linear-gradient(#389ca6 0.5px,#389ba5 6.5px,#3d949c 7.5px,#517a7c 8.5px,#972e2e 10.5px,#ba1a1a 11.5px,#e81414 13.5px,#fb2a2a 16.5px,#ffa6a6 24.5px,#ffafaf 25.5px,#dcae9c 26.5px,#238519 27.5px,#007d00 28.5px,#007d00 70.5px,#238519 71.5px,#dcac9a 72.5px,#ffb3b3 73.5px,#ffabab 82.5px,#fa9292 85.5px,#e75c5c 89.5px,#c94a4b 93.5px,#a2595d 99.5px)"></i><i style="background:linear-gradient(#29b1c3 0.5px,#2badbd 7.5px,#369ea7 8.5px,#4b8081 9.5px,#6e5050 10.5px,#952a2a 11.5px,#bb1717 12.5px,#d91212 13.5px,#f81d1d 16.5px,#ff7676 22.5px,#ffa7a7 25.5px,#dca797 26.5px,#237b19 27.5px,#007300 28.5px,#007300 70.5px,#237c19 71.5px,#dcaa9a 72.5px,#ffb3b3 73.5px,#ffaeae 79.5px,#fc9393 81.5px,#e53c3c 84.5px,#d62f2f 85.5px,#b03737 87.5px,#637479 91.5px,#4099ad 95.5px,#369fc0 99.5px)"></i><i style="background:linear-gradient(#28b2c5 0.5px,#2aafbf 7.5px,#34a1aa 8.5px,#478486 9.5px,#922c2c 11.5px,#b81818 12.5px,#d81212 13.5px,#f81c1c 16.5px,#ff8686 23.5px,#ffa5a5 25.5px,#dca495 26.5px,#237118 27.5px,#006700 28.5px,#006700 70.5px,#237219 71.5px,#dca99a 72.5px,#ffb3b3 73.5px,#ffb0b0 77.5px,#fea3a3 78.5px,#fb8585 79.5px,#e93131 81.5px,#c32020 83.5px,#8d3838 85.5px,#47898f 88.5px,#2da9be 91.5px,#22aade 96.5px,#21a5e4 99.5px)"></i><i style="background:linear-gradient(#2fa8b5 0.5px,#2fa7b4 6.5px,#34a1ac 7.5px,#448b8f 8.5px,#873838 10.5px,#ad1e1e 11.5px,#e31212 13.5px,#fa2424 16.5px,#ffa9a9 25.5px,#dba497 26.5px,#236819 27.5px,#005c00 28.5px,#005c00 70.5px,#236819 71.5px,#dba79a 72.5px,#ffb3b3 73.5px,#feabab 76.5px,#fc8f8f 77.5px,#f55757 78.5px,#eb2a2a 79.5px,#cb1616 81.5px,#942b2b 83.5px,#448a8c 86.5px,#2daab9 88.5px,#23b1d8 92.5px,#1f9ced 99.5px)"></i><i style="background:linear-gradient(#5a8589 0.5px,#5b8487 6.5px,#627a7c 7.5px,#9c3c3c 9.5px,#bd2929 10.5px,#e82323 12.5px,#fd4242 16.5px,#faa 24.5px,#feb1b0 25.5px,#d6a698 26.5px,#226019 27.5px,#005300 28.5px,#005300 70.5px,#226018 71.5px,#d2a393 72.5px,#fab0ae 73.5px,#fea8a8 75.5px,#fb7f7f 76.5px,#f23e3e 77.5px,#ea2121 78.5px,#d01717 80.5px,#9d2929 82.5px,#666161 84.5px,#4e8586 85.5px,#37a6b3 87.5px,#2dadd0 91.5px,#2992e6 99.5px)"></i><i style="background:linear-gradient(#d96c6d 0.5px,#dd6c6d 7.5px,#f97474 11.5px,#ffb7b7 22.5px,#ffbdbd 24.5px,#f6bcb8 25.5px,#ada282 26.5px,#1b6414 27.5px,#005800 28.5px,#005800 70.5px,#16610f 71.5px,#918f62 72.5px,#da9d8d 73.5px,#fa9f9d 74.5px,#fe8d8d 75.5px,#f75a5a 76.5px,#f24545 77.5px,#db4040 80.5px,#b94e4e 82.5px,#88898a 85.5px,#799aa7 88.5px,#737eb7 99.5px)"></i><i style="background:linear-gradient(#fc8b8b 0.5px,#fd9393 7.5px,#ffb9b9 15.5px,#ffc3c3 24.5px,#e9bdb3 25.5px,#6c9753 26.5px,#0e770b 27.5px,#007200 28.5px,#037402 71.5px,#2a7f1d 72.5px,#a79c73 73.5px,#f4ada8 74.5px,#ffacac 75.5px,#fca1a1 79.5px,#eaaeb2 91.5px,#eaaab3 99.5px)"></i><i style="background:linear-gradient(#fd5757 0.5px,#fd5959 6.5px,#ffa6a6 13.5px,#ffc1c1 21.5px,#ffc3c3 24.5px,#e7bdb1 25.5px,#619b4a 26.5px,#0c8409 27.5px,#008100 29.5px,#008100 71.5px,#188611 72.5px,#9ea06f 73.5px,#f3b1ab 74.5px,#ffb3b3 76.5px,#ffb3b3 99.5px)"></i><i style="background:linear-gradient(#ec2323 0.5px,#f32929 7.5px,#ff8f8f 15.5px,#ffb6b6 20.5px,#ffc1c1 24.5px,#e7bcb0 25.5px,#619e4a 26.5px,#0c8a09 27.5px,#008700 29.5px,#008700 71.5px,#188b11 72.5px,#9ea36f 73.5px,#f3b1ab 74.5px,#ffb3b3 76.5px,#ffb3b3 99.5px)"></i><i style="background:linear-gradient(#af2929 0.5px,#b32627 6.5px,#e91b1b 9.5px,#fd4141 13.5px,#ffa3a3 20.5px,#fbb 24.5px,#e7b9ad 25.5px,#619949 26.5px,#0c8409 27.5px,#008100 29.5px,#008100 71.5px,#188611 72.5px,#9ea06f 73.5px,#f3b1ab 74.5px,#ffb3b3 76.5px,#ffabab 92.5px,#fda4a4 99.5px)"></i><i style="background:linear-gradient(#597173 0.5px,#5e6b6d 6.5px,#983031 8.5px,#ba1d1d 9.5px,#e71515 11.5px,#fb2b2b 14.5px,#ffacac 23.5px,#ffb3b3 24.5px,#e7b2a7 25.5px,#619247 26.5px,#0c7b09 27.5px,#007800 29.5px,#007800 71.5px,#187e11 72.5px,#9e9d6f 73.5px,#f3b1ab 74.5px,#ffb3b3 76.5px,#ffafaf 84.5px,#f99191 89.5px,#e76d6d 94.5px,#db6062 99.5px)"></i><i style="background:linear-gradient(#33a2ac 0.5px,#359fa7 6.5px,#438b8f 7.5px,#863838 9.5px,#ad1e1e 10.5px,#e41212 12.5px,#fb2424 15.5px,#ffabab 24.5px,#e7aca2 25.5px,#618a45 26.5px,#0c7209 27.5px,#006f00 29.5px,#006f00 71.5px,#187511 72.5px,#9e996f 73.5px,#f3b0ab 74.5px,#ffb3b3 76.5px,#ffafaf 81.5px,#fd9d9d 83.5px,#e44444 87.5px,#c83737 89.5px,#895b5e 93.5px,#578695 98.5px,#528a9c 99.5px)"></i><i style="background:linear-gradient(#2badbc 0.5px,#2dabb7 6.5px,#389ca2 7.5px,#4f7979 8.5px,#744747 9.5px,#9c2525 10.5px,#de1111 12.5px,#f91e1e 15.5px,#ffa7a7 24.5px,#e7a89f 25.5px,#618344 26.5px,#0c6908 27.5px,#006500 29.5px,#006500 71.5px,#186d11 72.5px,#9e966f 73.5px,#f3b0ab 74.5px,#ffb3b3 76.5px,#ffafaf 79.5px,#fea3a3 80.5px,#fb8989 81.5px,#eb3b3b 83.5px,#dc2828 84.5px,#b02b2b 86.5px,#7c4e4f 88.5px,#459098 91.5px,#2da8c4 95.5px,#25a6d8 99.5px)"></i><i style="background:linear-gradient(#31a5af 0.5px,#34a1aa 6.5px,#418e91 7.5px,#853939 9.5px,#ac1d1d 10.5px,#e41212 12.5px,#fa2323 15.5px,#ffa8a8 24.5px,#e7a89f 25.5px,#617d44 26.5px,#0c6008 27.5px,#005c00 29.5px,#005c00 71.5px,#186411 72.5px,#9e926f 73.5px,#f3afab 74.5px,#ffb3b3 76.5px,#fea7a7 78.5px,#fb8a8a 79.5px,#f45454 80.5px,#ea2b2b 81.5px,#c61919 83.5px,#ab1f1f 84.5px,#714f4f 86.5px,#428d91 88.5px,#2daab9 90.5px,#23b1d8 94.5px,#20a0ea 99.5px)"></i><i style="background:linear-gradient(#518284 0.5px,#557c7e 6.5px,#6b5f60 7.5px,#8d3b3b 8.5px,#b12323 9.5px,#e41919 11.5px,#fa2b2b 14.5px,#ffa7a7 23.5px,#ffafaf 24.5px,#e7aba3 25.5px,#617845 26.5px,#0c5709 27.5px,#005200 29.5px,#005200 71.5px,#185b11 72.5px,#9e8e6f 73.5px,#f3afab 74.5px,#ffb1b1 76.5px,#fd9e9e 77.5px,#ef3131 79.5px,#e61a1a 80.5px,#c11515 82.5px,#893232 84.5px,#3d9497 87.5px,#2aaebf 89.5px,#22adde 94.5px,#1f99ee 99.5px)"></i><i style="background:linear-gradient(#a94040 0.5px,#ad3e3e 6.5px,#e42e2e 9.5px,#fd5050 13.5px,#ffb0b0 22.5px,#ffb9b8 24.5px,#e7b1aa 25.5px,#617648 26.5px,#0c5009 27.5px,#004a00 29.5px,#004a00 71.5px,#185411 72.5px,#9e8a6e 73.5px,#f3ada9 74.5px,#ffb1b1 75.5px,#fea3a3 76.5px,#f75d5d 77.5px,#ed2626 78.5px,#e71414 79.5px,#cc1313 81.5px,#972626 83.5px,#5d6262 85.5px,#448889 86.5px,#2dabb8 88.5px,#23b2d8 92.5px,#1f97f0 99.5px)"></i></div>
<div class="cb" style="left:333px;top:17.9px;background:repeating-linear-gradient(90deg,rgba(0,0,0,0.38) 0 1px,rgba(0,0,0,0) 1px 17.2px),linear-gradient(90deg,rgb(0,0,40) 0.00px,rgb(0,5,90) 5.16px,rgb(4,18,170) 10.32px,rgb(10,34,220) 15.48px,rgb(16,58,242) 22.36px,rgb(22,86,252) 30.96px,rgb(28,116,255) 41.28px,rgb(30,143,246) 49.88px,rgb(32,165,230) 58.48px,rgb(35,180,215) 65.36px,rgb(40,178,195) 71.38px,rgb(60,150,150) 75.68px,rgb(110,70,70) 79.12px,rgb(165,25,25) 82.56px,rgb(225,15,15) 86.86px,rgb(250,25,25) 94.60px,rgb(255,70,70) 103.20px,rgb(255,118,118) 111.80px,rgb(255,165,165) 118.68px,rgb(255,200,200) 125.39px,rgb(0,40,0) 125.56px,rgb(0,58,0) 137.60px,rgb(0,80,0) 154.80px,rgb(0,105,0) 172.00px,rgb(0,130,0) 189.20px,rgb(0,158,0) 206.40px,rgb(10,185,10) 223.60px,rgb(20,212,20) 240.80px,rgb(40,238,40) 258.00px)"></div>
<div class="h" style="left:334px;top:42px"><i style="background:linear-gradient(#22adde 0.5px,#23afd9 14.5px,#32a2b9 15.5px,#7c5558 16.5px,#e11f20 17.5px,#f91d1d 18.5px,#fe4242 22.5px,#ff7373 24.5px,#fe9696 25.5px,#d99d95 26.5px,#345325 27.5px,#043d03 28.5px,#004c00 54.5px,#003d00 75.5px,#083f05 76.5px,#495d34 77.5px,#e3a19b 78.5px,#ff9a9a 79.5px,#ff6767 81.5px,#fe3d3d 85.5px,#fc2c2c 94.5px,#fc2b2b 99.5px)"></i><i style="background:linear-gradient(#22adde 0.5px,#24aed7 14.5px,#379db2 15.5px,#835154 16.5px,#e32020 17.5px,#f91f1f 18.5px,#fd3838 21.5px,#ff5e5e 23.5px,#f69c9a 25.5px,#b08d7b 26.5px,#1e4915 27.5px,#013d01 28.5px,#004e00 51.5px,#004000 73.5px,#023d02 75.5px,#254c1a 76.5px,#a98a77 77.5px,#f5a4a1 78.5px,#ff8282 80.5px,#ff5252 86.5px,#fe4747 99.5px)"></i><i style="background:linear-gradient(#22adde 0.5px,#24acd9 12.5px,#2ba6cf 13.5px,#3c9bb7 14.5px,#69717a 15.5px,#c02e2f 16.5px,#f21d1d 17.5px,#fe3d3d 21.5px,#ff6969 23.5px,#ff8b8b 24.5px,#eb9f9b 25.5px,#727151 26.5px,#0f430b 27.5px,#003e00 28.5px,#005200 49.5px,#004600 69.5px,#013e01 74.5px,#164610 75.5px,#e6a09a 77.5px,#fe9b9b 78.5px,#ff7373 81.5px,#fe5353 87.5px,#e05f63 99.5px)"></i><i style="background:linear-gradient(#22adde 0.5px,#25aad9 8.5px,#389dc3 11.5px,#4890ad 12.5px,#6f7080 13.5px,#a4484e 14.5px,#d6292a 15.5px,#f11d1d 16.5px,#fd3535 20.5px,#ff5757 22.5px,#fd9796 24.5px,#d59b92 25.5px,#2d5020 26.5px,#023e02 27.5px,#005600 47.5px,#004d00 65.5px,#003f00 73.5px,#0a4207 74.5px,#52623b 75.5px,#d79b92 76.5px,#fc9998 77.5px,#ff6a6a 79.5px,#fd4343 83.5px,#e94346 86.5px,#db474d 88.5px,#c84c54 89.5px,#b1626d 90.5px,#996779 92.5px,#807d90 93.5px,#77869e 94.5px,#68829c 96.5px,#4f95af 97.5px,#43a2c1 98.5px,#42a4c4 99.5px)"></i><i style="background:linear-gradient(#22aedc 0.5px,#4099be 7.5px,#508ba9 8.5px,#d23035 12.5px,#f71d1d 15.5px,#fd3131 19.5px,#ff4c4c 21.5px,#ff8181 23.5px,#f39c9a 24.5px,#9e846e 25.5px,#184711 26.5px,#003f00 27.5px,#005a00 46.5px,#005200 63.5px,#013f01 73.5px,#204b17 74.5px,#ab8b78 75.5px,#f59d9b 76.5px,#ff6565 78.5px,#fe4040 80.5px,#f72828 83.5px,#d83030 84.5px,#a1545b 85.5px,#767488 86.5px,#5488a6 87.5px,#4299bf 88.5px,#2ea4d4 93.5px,#22acde 99.5px)"></i><i style="background:linear-gradient(#43a0bf 0.5px,#4d95af 1.5px,#67819a 2.5px,#787d92 3.5px,#d33e44 7.5px,#fb2b2b 13.5px,#fe3d3d 18.5px,#ff5f5f 21.5px,#ff9292 23.5px,#e7a09a 24.5px,#616944 25.5px,#0c4309 26.5px,#004300 28.5px,#005e00 45.5px,#005600 62.5px,#004100 72.5px,#0a4307 73.5px,#54633b 74.5px,#df9d96 75.5px,#fe9191 76.5px,#ff5454 78.5px,#fc2a2a 81.5px,#fa2323 82.5px,#eb2121 83.5px,#9e4446 84.5px,#558799 85.5px,#399cc2 86.5px,#24a9dc 88.5px,#21a9e2 99.5px)"></i><i style="background:linear-gradient(#d4555a 0.5px,#fe4242 8.5px,#ff4f4f 16.5px,#ff7979 21.5px,#fda2a1 23.5px,#d59e94 24.5px,#2a501e 25.5px,#024001 26.5px,#006200 44.5px,#005a00 61.5px,#014101 72.5px,#204c17 73.5px,#ab8b77 74.5px,#f59c9a 75.5px,#ff6060 77.5px,#fd3939 79.5px,#f61c1c 83.5px,#dc2424 84.5px,#7e6879 86.5px,#4691b6 88.5px,#359bce 91.5px,#21a9e1 99.5px)"></i><i style="background:linear-gradient(#a76570 0.5px,#ae6972 1.5px,#d74d52 3.5px,#fe4040 11.5px,#ff5353 17.5px,#ff7c7c 21.5px,#f4a3a0 23.5px,#a48874 24.5px,#194912 25.5px,#004100 26.5px,#006500 43.5px,#005e00 60.5px,#004300 71.5px,#074305 72.5px,#455d31 73.5px,#d99c93 74.5px,#fd9493 75.5px,#f55 77.5px,#fc2a2a 80.5px,#f61919 84.5px,#d02e35 89.5px,#b54049 90.5px,#a74e5d 91.5px,#a15065 92.5px,#8b5b71 93.5px,#766f8a 94.5px,#6f7295 96.5px,#5f789c 97.5px,#4690b7 98.5px,#3f96c3 99.5px)"></i><i style="background:linear-gradient(#36a5c9 0.5px,#479ab8 4.5px,#5e849f 5.5px,#a65a66 8.5px,#d9393e 10.5px,#fa2929 14.5px,#fe4949 19.5px,#ff6b6b 21.5px,#f88 22.5px,#f29e9b 23.5px,#99826b 24.5px,#194a12 25.5px,#014201 26.5px,#006800 43.5px,#006100 60.5px,#040 71.5px,#074405 72.5px,#3f5b2d 73.5px,#bc8f7f 74.5px,#f2928f 75.5px,#ff5a5a 77.5px,#fc2c2c 80.5px,#f81818 85.5px,#e62023 93.5px,#d72b33 99.5px)"></i><i style="background:linear-gradient(#22addd 0.5px,#2ca6d3 6.5px,#3b9dc3 9.5px,#4794b4 10.5px,#8b5e6b 12.5px,#b83f44 13.5px,#dd2a2c 14.5px,#f92121 16.5px,#fe4545 20.5px,#ff7575 22.5px,#fd9696 23.5px,#d69c92 24.5px,#3e5a2c 25.5px,#064304 26.5px,#006a00 44.5px,#006200 61.5px,#014501 72.5px,#0d4709 73.5px,#405b2c 74.5px,#aa8571 75.5px,#ec908b 76.5px,#fd7979 77.5px,#fe4848 79.5px,#fc2727 82.5px,#f71919 89.5px,#f61818 99.5px)"></i><i style="background:linear-gradient(#22adde 0.5px,#23acdb 10.5px,#31a3cb 12.5px,#3f99b7 13.5px,#667683 14.5px,#af3c3e 15.5px,#ea2020 16.5px,#fa2020 17.5px,#fe3c3c 20.5px,#f66 22.5px,#ff8787 23.5px,#ee9f9b 24.5px,#847a5d 25.5px,#13480d 26.5px,#004300 27.5px,#006b00 44.5px,#006400 62.5px,#074505 74.5px,#2b521e 75.5px,#977f66 76.5px,#e3928c 77.5px,#fc8382 78.5px,#fe4646 81.5px,#fb2727 86.5px,#fa2020 99.5px)"></i><i style="background:linear-gradient(#22adde 0.5px,#23aed9 13.5px,#2fa5c2 14.5px,#60757d 15.5px,#c82828 16.5px,#f51f1f 17.5px,#fd3838 20.5px,#ff5f5f 22.5px,#f49b99 24.5px,#a48772 25.5px,#194912 26.5px,#004200 27.5px,#006b00 44.5px,#006500 63.5px,#044403 75.5px,#224f18 76.5px,#db968d 78.5px,#fc9291 79.5px,#ff6363 82.5px,#fe4242 88.5px,#fd3c3c 99.5px)"></i><i style="background:linear-gradient(#22adde 0.5px,#24aed9 13.5px,#2fa5c1 14.5px,#62737b 15.5px,#c92828 16.5px,#f62121 17.5px,#fe3e3e 20.5px,#ff6a6a 22.5px,#fe8b8b 23.5px,#e59d97 24.5px,#717250 25.5px,#0f470b 26.5px,#004300 27.5px,#006b00 44.5px,#006500 64.5px,#024402 76.5px,#194b12 77.5px,#696d4a 78.5px,#de9e96 79.5px,#fd9e9d 80.5px,#f77 83.5px,#ff5656 89.5px,#ff5050 99.5px)"></i><i style="background:linear-gradient(#22adde 0.5px,#23acda 10.5px,#31a3ca 12.5px,#3f99b6 13.5px,#687481 14.5px,#b13b3d 15.5px,#eb2222 16.5px,#fa2525 17.5px,#ff4747 20.5px,#ff7d7d 22.5px,#f59a97 23.5px,#ac8a77 24.5px,#254f1b 25.5px,#024202 26.5px,#006a00 43.5px,#006300 65.5px,#044303 77.5px,#29511e 78.5px,#a48772 79.5px,#f3a09d 80.5px,#ff7a7a 82.5px,#fe4c4c 87.5px,#fb3e3e 98.5px,#f74141 99.5px)"></i><i style="background:linear-gradient(#22addd 0.5px,#2ca6d3 6.5px,#3b9dc3 9.5px,#4794b3 10.5px,#8c5e6a 12.5px,#b93f44 13.5px,#de2b2d 14.5px,#fa2424 16.5px,#fe4242 19.5px,#ff6f6f 21.5px,#fd9090 22.5px,#da9a91 23.5px,#53633a 24.5px,#0a4407 25.5px,#004600 27.5px,#006800 43.5px,#006200 64.5px,#014300 76.5px,#10470b 77.5px,#656b47 78.5px,#dd9a92 79.5px,#fd908f 80.5px,#ff5b5b 82.5px,#fc3131 86.5px,#f02c2e 90.5px,#d33840 98.5px,#b94851 99.5px)"></i><i style="background:linear-gradient(#36a5ca 0.5px,#469ab9 4.5px,#bd464c 9.5px,#d8383c 10.5px,#fa2a2a 14.5px,#fe4646 18.5px,#ff6a6a 20.5px,#ff8787 21.5px,#ef9c99 22.5px,#8b7b61 23.5px,#1a4a12 24.5px,#014101 25.5px,#006500 43.5px,#005e00 64.5px,#004300 75.5px,#074305 76.5px,#405a2d 77.5px,#c29082 78.5px,#f99391 79.5px,#ff5959 81.5px,#fa2d2d 84.5px,#dc3034 87.5px,#ca353c 88.5px,#af4c57 89.5px,#a25365 90.5px,#76728e 92.5px,#60799d 94.5px,#4791b7 95.5px,#3f96c6 97.5px,#389aca 99.5px)"></i><i style="background:linear-gradient(#a56571 0.5px,#ad6973 1.5px,#d64c52 3.5px,#fe3f3f 11.5px,#ff5353 16.5px,#ff7070 19.5px,#ff9b9a 21.5px,#e5a19c 22.5px,#58653e 23.5px,#0d4409 24.5px,#040 26.5px,#006200 43.5px,#005c00 63.5px,#044103 75.5px,#2b511e 76.5px,#aa8874 77.5px,#f29693 78.5px,#ff5d5d 80.5px,#fb2c2c 83.5px,#eb2627 84.5px,#b04144 85.5px,#746f7e 86.5px,#4c8eac 87.5px,#379ccb 89.5px,#21a9e2 98.5px,#21a9e2 99.5px)"></i><i style="background:linear-gradient(#d4555b 0.5px,#f64949 7.5px,#ff4e4e 14.5px,#ff7c7c 20.5px,#f89f9d 22.5px,#bd9182 23.5px,#425b2f 24.5px,#0a4407 25.5px,#040 27.5px,#005e00 44.5px,#005700 63.5px,#014301 73.5px,#0a4407 74.5px,#2b511e 75.5px,#987f67 76.5px,#ec9692 77.5px,#fe8180 78.5px,#ff4a4a 80.5px,#f82525 83.5px,#d92525 84.5px,#7b6167 85.5px,#4693ad 86.5px,#31a0cb 87.5px,#21a9e1 91.5px,#21a9e2 99.5px)"></i><i style="background:linear-gradient(#42a2c0 0.5px,#479db8 1.5px,#5c88a1 2.5px,#7b7e92 4.5px,#90697a 5.5px,#b45760 7.5px,#ce4349 8.5px,#e33b3f 10.5px,#fc3333 15.5px,#ff5656 20.5px,#fe7d7d 22.5px,#f59390 23.5px,#bd8c7d 24.5px,#475b30 25.5px,#13470e 26.5px,#024102 27.5px,#005a00 46.5px,#005200 63.5px,#034202 72.5px,#194a11 73.5px,#536138 74.5px,#ad826f 75.5px,#ec8b87 76.5px,#fd7675 77.5px,#fe4545 79.5px,#fb2424 82.5px,#f21c1c 84.5px,#d4292b 85.5px,#836476 87.5px,#4d89ac 89.5px,#4095c0 90.5px,#2aa2d9 98.5px,#29a2d9 99.5px)"></i><i style="background:linear-gradient(#22aedc 0.5px,#3e9cc3 8.5px,#4696b8 9.5px,#cb363c 14.5px,#e82b2d 16.5px,#fc2d2d 19.5px,#ff5454 22.5px,#f78584 24.5px,#d48e84 25.5px,#786f50 26.5px,#284f1b 27.5px,#0a4307 28.5px,#004500 31.5px,#005600 49.5px,#004600 67.5px,#024101 70.5px,#0d4509 71.5px,#2c501d 72.5px,#877559 73.5px,#d98c83 74.5px,#f57e7c 75.5px,#fe3c3c 78.5px,#fa1c1c 82.5px,#ed1d1e 86.5px,#d62c32 90.5px,#c83139 91.5px,#ad4853 92.5px,#9f5065 94.5px,#75708b 96.5px,#697296 99.5px)"></i><i style="background:linear-gradient(#22adde 0.5px,#27a8d6 10.5px,#4098bb 14.5px,#55859f 15.5px,#d03135 18.5px,#f52525 20.5px,#fe4343 23.5px,#fc6f6e 25.5px,#e9827c 26.5px,#bb8171 27.5px,#585c35 28.5px,#284a17 29.5px,#054403 32.5px,#005200 54.5px,#014201 67.5px,#14470d 69.5px,#274c18 70.5px,#666441 71.5px,#be8374 72.5px,#ec827e 73.5px,#fc6e6d 74.5px,#fd3333 77.5px,#f91b1b 81.5px,#ec1c1d 92.5px,#df242a 99.5px)"></i><i style="background:linear-gradient(#22adde 0.5px,#26a9d7 15.5px,#379ec3 17.5px,#4d8ca4 18.5px,#826069 19.5px,#c63132 20.5px,#ef1f1f 21.5px,#fb2626 23.5px,#f75a58 27.5px,#d4756b 29.5px,#645c38 31.5px,#3a5021 32.5px,#224913 33.5px,#024401 37.5px,#004b00 55.5px,#014201 64.5px,#244b16 67.5px,#4f5a30 68.5px,#c3786a 70.5px,#e5716b 71.5px,#f86261 72.5px,#fc3131 75.5px,#f81919 80.5px,#f41717 99.5px)"></i><i style="background:linear-gradient(#22adde 0.5px,#22addd 17.5px,#25abd6 18.5px,#34a0bd 19.5px,#65727b 20.5px,#c62829 21.5px,#f21919 22.5px,#fb2a2a 27.5px,#fb3f3e 29.5px,#dc635b 32.5px,#c46a5c 33.5px,#695835 35.5px,#585830 36.5px,#2b4714 37.5px,#014401 43.5px,#024401 58.5px,#294512 64.5px,#4f532a 65.5px,#c27567 67.5px,#e16e67 68.5px,#fc3f3f 71.5px,#fa1e1e 75.5px,#f41717 99.5px)"></i><i style="background:linear-gradient(#22adde 0.5px,#22addd 18.5px,#26add1 19.5px,#478d9a 20.5px,#ad3132 21.5px,#ec1919 22.5px,#f61818 25.5px,#f92525 31.5px,#ef3734 34.5px,#d9564e 37.5px,#c35c4e 38.5px,#494f24 42.5px,#294410 43.5px,#0c4808 49.5px,#1c420a 56.5px,#2c4311 58.5px,#58552d 59.5px,#66532f 60.5px,#c35b4d 63.5px,#e24b45 65.5px,#fa3232 68.5px,#f71d1d 72.5px,#ec1e1e 80.5px,#e12527 99.5px)"></i><i style="background:linear-gradient(#22addb 0.5px,#23aed9 18.5px,#29abc9 19.5px,#51828d 20.5px,#ac3b3f 21.5px,#d32d30 22.5px,#dc3639 36.5px,#c45450 42.5px,#b76a64 44.5px,#496544 48.5px,#436340 51.5px,#4b5e3e 52.5px,#786c56 53.5px,#835b48 55.5px,#b7615a 57.5px,#d23f3f 62.5px,#da3134 67.5px,#d43033 72.5px,#ad4b4f 74.5px,#a05660 86.5px,#7f6d77 87.5px,#747888 99.5px)"></i><i style="background:linear-gradient(#27afcc 0.5px,#28afc8 19.5px,#3e9db2 21.5px,#45a1b6 42.5px,#35a6b7 47.5px,#2fa3b3 52.5px,#45a0b5 59.5px,#419eb6 72.5px,#38a4c1 83.5px,#2dabce 99.5px)"></i><i style="background:linear-gradient(#23b1d7 0.5px,#21abdf 97.5px,#21aae0 99.5px)"></i><i style="background:linear-gradient(#21a8e2 0.5px,#20a1e7 84.5px,#1e96ed 99.5px)"></i><i style="background:linear-gradient(#1e8eef 0.5px,#1e8ef1 68.5px,#1764ed 96.5px,#165fe9 99.5px)"></i><i style="background:linear-gradient(#1350de 0.5px,#175df7 31.5px,#1c75fc 52.5px,#1143eb 79.5px,#0a28c1 91.5px,#061990 99.5px)"></i><i style="background:linear-gradient(#030f65 0.5px,#04148d 11.5px,#0b28d6 25.5px,#1656fa 43.5px,#1963fd 51.5px,#0d2fe3 70.5px,#0516aa 83.5px,#010446 99.5px)"></i><i style="background:linear-gradient(#000239 0.5px,#010a75 13.5px,#071bc1 29.5px,#1246f5 46.5px,#144cf7 51.5px,#081ec9 68.5px,#020b81 84.5px,#000136 99.5px)"></i><i style="background:linear-gradient(#000135 0.5px,#0515b5 28.5px,#0e34ea 45.5px,#113ef0 51.5px,#071ac0 67.5px,#020c87 82.5px,#000135 99.5px)"></i><i style="background:linear-gradient(#000238 0.5px,#030f91 16.5px,#0b27da 32.5px,#1658fb 49.5px,#0c2add 66.5px,#031097 82.5px,#00023d 98.5px,#000238 99.5px)"></i><i style="background:linear-gradient(#010758 0.5px,#0923cd 18.5px,#1244f3 32.5px,#1a6dfe 50.5px,#0f37e9 72.5px,#081dbf 84.5px,#010758 99.5px)"></i><i style="background:linear-gradient(#0924ba 0.5px,#103ee9 13.5px,#1a6cfd 38.5px,#1c77fd 53.5px,#1244ef 83.5px,#0a27c5 97.5px,#0924ba 99.5px)"></i><i style="background:linear-gradient(#165bf4 0.5px,#1d81fb 51.5px,#165af3 99.5px)"></i><i style="background:linear-gradient(#1b77fb 0.5px,#1d80fb 70.5px,#1c78fb 99.5px)"></i><i style="background:linear-gradient(#1659f3 0.5px,#1d7ffb 45.5px,#1863f9 94.5px,#175df5 99.5px)"></i><i style="background:linear-gradient(#0922b6 0.5px,#103ce8 13.5px,#1a69fd 37.5px,#1c77fd 52.5px,#1246f0 83.5px,#0b29c7 98.5px,#0a27c2 99.5px)"></i><i style="background:linear-gradient(#010756 0.5px,#0922cb 18.5px,#1140f0 31.5px,#1a6cfe 50.5px,#0f38ea 72.5px,#071dbc 85.5px,#01085e 99.5px)"></i><i style="background:linear-gradient(#000238 0.5px,#030e90 16.5px,#0b27d9 32.5px,#1658fa 49.5px,#0c2ade 66.5px,#041099 82.5px,#00023a 99.5px)"></i><i style="background:linear-gradient(#000135 0.5px,#0515b4 28.5px,#0e34ea 45.5px,#113ef0 51.5px,#071ac0 67.5px,#020c87 82.5px,#000135 99.5px)"></i><i style="background:linear-gradient(#000136 0.5px,#020d87 16.5px,#0922d1 33.5px,#144ff8 49.5px,#0b26da 63.5px,#020d8a 82.5px,#000239 98.5px,#000135 99.5px)"></i><i style="background:linear-gradient(#000446 0.5px,#0921cb 22.5px,#1245f4 37.5px,#1966fd 50.5px,#0d30e4 69.5px,#0515aa 82.5px,#00023e 99.5px)"></i><i style="background:linear-gradient(#05148d 0.5px,#0b2bd4 12.5px,#144ef7 28.5px,#1c74fe 51.5px,#103eed 76.5px,#0923c8 87.5px,#030d72 99.5px)"></i><i style="background:linear-gradient(#1245e6 0.5px,#1966fc 23.5px,#1d7dfc 53.5px,#144ef3 87.5px,#0e35d6 99.5px)"></i><i style="background:linear-gradient(#1b73fb 0.5px,#1d81fb 61.5px,#1969f9 99.5px)"></i><i style="background:linear-gradient(#1a6bfa 0.5px,#1d81fb 57.5px,#1b75fb 99.5px)"></i><i style="background:linear-gradient(#0e37d9 0.5px,#1658f9 19.5px,#1d7cfc 51.5px,#1452f2 94.5px,#134cec 99.5px)"></i><i style="background:linear-gradient(#030d75 0.5px,#0a26cf 14.5px,#1246f3 28.5px,#1b72fe 50.5px,#103ceb 79.5px,#0922bf 93.5px,#06199f 99.5px)"></i><i style="background:linear-gradient(#00023f 0.5px,#0921ce 25.5px,#134af6 41.5px,#185ffc 51.5px,#0c2cdf 71.5px,#0515a8 84.5px,#01054c 99.5px)"></i><i style="background:linear-gradient(#000135 0.5px,#020d89 17.5px,#0921d1 35.5px,#1349f6 50.5px,#071cc4 69.5px,#020c83 84.5px,#000137 99.5px)"></i><i style="background:linear-gradient(#000135 0.5px,#0616b7 28.5px,#0f38ec 45.5px,#1141f2 51.5px,#071bc4 66.5px,#020c86 82.5px,#000135 99.5px)"></i><i style="background:linear-gradient(#00023b 0.5px,#041199 16.5px,#0c2add 31.5px,#175dfb 49.5px,#0d2de2 65.5px,#031099 81.5px,#000343 96.5px,#000136 99.5px)"></i><i style="background:linear-gradient(#020a66 0.5px,#0923ca 15.5px,#1140f0 28.5px,#1b70fe 50.5px,#0f39eb 71.5px,#081dc1 82.5px,#010448 99.5px)"></i><i style="background:linear-gradient(#0c2fcd 0.5px,#134bf2 15.5px,#1c7bfc 50.5px,#1347f2 79.5px,#0b28cd 91.5px,#051694 99.5px)"></i><i style="background:linear-gradient(#1865f8 0.5px,#1d81fb 53.5px,#175ff9 87.5px,#1247e8 99.5px)"></i><i style="background:linear-gradient(#1b76fb 0.5px,#1d81fb 68.5px,#1b73fb 99.5px)"></i><i style="background:linear-gradient(#144eed 0.5px,#1b72fd 30.5px,#1d7dfc 57.5px,#1a6cfa 99.5px)"></i><i style="background:linear-gradient(#061aa1 0.5px,#0d31dd 12.5px,#1657fa 30.5px,#1c76fd 51.5px,#1245ed 89.5px,#0f3add 99.5px)"></i><i style="background:linear-gradient(#01054c 0.5px,#0923ce 21.5px,#1347f5 36.5px,#1a69fe 50.5px,#0e33e6 75.5px,#071cb6 89.5px,#030f7c 99.5px)"></i><i style="background:linear-gradient(#000137 0.5px,#030d8b 16.5px,#0a25d7 33.5px,#1553f9 49.5px,#0b26d8 68.5px,#04119a 83.5px,#000341 99.5px)"></i><i style="background:linear-gradient(#000135 0.5px,#0515b4 28.5px,#0f35e8 46.5px,#103bec 51.5px,#0617b8 70.5px,#010972 86.5px,#000135 99.5px)"></i><i style="background:linear-gradient(#000237 0.5px,#030e8c 16.5px,#0b26d8 33.5px,#1655f9 49.5px,#0c2be0 62.5px,#020c83 83.5px,#000239 98.5px,#000135 99.5px)"></i><i style="background:linear-gradient(#010650 0.5px,#0a23ce 20.5px,#1245f3 34.5px,#1a6cfe 50.5px,#0f37ea 67.5px,#0619b7 79.5px,#000348 96.5px,#000239 99.5px)"></i><i style="background:linear-gradient(#081fab 0.5px,#0f38e2 12.5px,#1861fb 32.5px,#1c7bfc 51.5px,#1244f1 74.5px,#0a27d0 84.5px,#030e7b 95.5px,#01085b 99.5px)"></i><i style="background:linear-gradient(#165bef 0.5px,#1d80fa 35.5px,#1d82fa 58.5px,#1451f3 85.5px,#0d31d1 96.5px,#0a28c0 99.5px)"></i><i style="background:linear-gradient(#1d86f6 0.5px,#1d86f8 76.5px,#1866f4 99.5px)"></i><i style="background:linear-gradient(#1a72f6 0.5px,#1e8bf7 53.5px,#1d8af5 99.5px)"></i><i style="background:linear-gradient(#0d35d2 0.5px,#1555f5 16.5px,#1d84fa 50.5px,#196ff6 99.5px)"></i><i style="background:linear-gradient(#020c6a 0.5px,#0a26ce 15.5px,#1348f4 29.5px,#1c78fd 50.5px,#1142ec 84.5px,#0d31cd 99.5px)"></i><i style="background:linear-gradient(#00023c 0.5px,#0921ce 26.5px,#144ef6 42.5px,#1862fc 51.5px,#0c2de0 73.5px,#0618ab 87.5px,#020a66 99.5px)"></i><i style="background:linear-gradient(#000135 0.5px,#0617b7 28.5px,#103aec 45.5px,#1246f3 51.5px,#071bc1 71.5px,#020b7d 86.5px,#00023b 99.5px)"></i><i style="background:linear-gradient(#000135 0.5px,#030d8b 17.5px,#0b26d9 36.5px,#1550f8 50.5px,#081ec9 65.5px,#020b81 83.5px,#000135 99.5px)"></i><i style="background:linear-gradient(#000343 0.5px,#0922cd 23.5px,#134af5 38.5px,#1a6bfd 50.5px,#0e33e6 65.5px,#04119e 80.5px,#000347 95.5px,#000135 99.5px)"></i><i style="background:linear-gradient(#051487 0.5px,#0c2ed6 13.5px,#1553f7 28.5px,#1d80fa 50.5px,#1348f3 69.5px,#0923cc 80.5px,#000446 98.5px,#000341 99.5px)"></i><i style="background:linear-gradient(#134ee3 0.5px,#1a71f9 21.5px,#1e8df6 51.5px,#1969fb 71.5px,#103ce5 85.5px,#0821b7 93.5px,#041180 99.5px)"></i><i style="background:linear-gradient(#1e8fee 0.5px,#1e92f3 65.5px,#196ef6 87.5px,#1147e0 99.5px)"></i><i style="background:linear-gradient(#1f97eb 0.5px,#1f96ed 91.5px,#1d8bee 99.5px)"></i><i style="background:linear-gradient(#165deb 0.5px,#1d83f7 27.5px,#1e92f3 60.5px,#209de8 99.5px)"></i><i style="background:linear-gradient(#071c9f 0.5px,#0d34da 11.5px,#165bf8 27.5px,#1d87f8 50.5px,#196bf4 91.5px,#186cef 99.5px)"></i><i style="background:linear-gradient(#01054a 0.5px,#0a24ce 21.5px,#134af4 35.5px,#1b75fc 50.5px,#103de9 79.5px,#0a26b7 99.5px)"></i><i style="background:linear-gradient(#000136 0.5px,#020d89 16.5px,#0b27d9 34.5px,#175afb 49.5px,#0b26d6 71.5px,#04129a 86.5px,#010755 99.5px)"></i><i style="background:linear-gradient(#000135 0.5px,#030d8d 18.5px,#0921d0 36.5px,#1349f6 50.5px,#0921cf 63.5px,#030f95 80.5px,#000238 99.5px)"></i><i style="background:linear-gradient(#00023b 0.5px,#041097 16.5px,#0c2cdd 31.5px,#1965fc 48.5px,#175cfa 53.5px,#0a26d6 66.5px,#010766 88.5px,#000135 99.5px)"></i><i style="background:linear-gradient(#020b66 0.5px,#0a27cc 15.5px,#1349f2 28.5px,#1d81fa 50.5px,#1247f2 66.5px,#0820c8 77.5px,#00044c 95.5px,#000237 99.5px)"></i><i style="background:linear-gradient(#0e3ad0 0.5px,#175ef4 16.5px,#1e92f3 48.5px,#1c7cf9 62.5px,#1247ef 77.5px,#0a25c7 86.5px,#010755 99.5px)"></i><i style="background:linear-gradient(#1d88e9 0.5px,#1f9deb 41.5px,#1e90f2 68.5px,#1659f0 87.5px,#0d35ce 96.5px,#0a2aba 99.5px)"></i><i style="background:linear-gradient(#24a9d6 0.5px,#20a1e9 45.5px,#209fe6 81.5px,#1a77ea 99.5px)"></i><i style="background:linear-gradient(#1d88e9 0.5px,#1f9fea 40.5px,#24aad6 97.5px,#24a8d6 99.5px)"></i><i style="background:linear-gradient(#0e3ad0 0.5px,#175ff4 16.5px,#1f95f1 47.5px,#1f96e7 92.5px,#209ae2 99.5px)"></i><i style="background:linear-gradient(#030e77 0.5px,#0a28d1 15.5px,#1450f5 30.5px,#1d86f8 50.5px,#1556f0 85.5px,#1350e0 99.5px)"></i><i style="background:linear-gradient(#05149e 0.5px,#071bc0 20.5px,#113fef 37.5px,#1a6bfc 50.5px,#0d30e0 75.5px,#0619a3 92.5px,#041382 99.5px)"></i><i style="background:linear-gradient(#0d2fdf 0.5px,#0920d1 30.5px,#0f37eb 43.5px,#144df7 50.5px,#0921ce 67.5px,#030f92 83.5px,#000341 99.5px)"></i><i style="background:linear-gradient(#144cf7 0.5px,#0c2ce4 24.5px,#103def 39.5px,#1860fc 50.5px,#0b29dc 62.5px,#020b7d 84.5px,#000135 99.5px)"></i><i style="background:linear-gradient(#134af7 0.5px,#0f34ed 19.5px,#144ff9 36.5px,#1c76fd 50.5px,#103ded 65.5px,#0618b6 77.5px,#00044c 94.5px,#000135 99.5px)"></i><i style="background:linear-gradient(#0f37ed 0.5px,#0f36ef 19.5px,#1c75fe 52.5px,#1656fa 67.5px,#0c2cda 79.5px,#041398 88.5px,#000449 98.5px,#000343 99.5px)"></i><i style="background:linear-gradient(#0a23d0 0.5px,#0e34ea 24.5px,#1a6bfe 58.5px,#175dfb 75.5px,#0e37e0 88.5px,#071ca7 96.5px,#051489 99.5px)"></i><i style="background:linear-gradient(#030f90 0.5px,#0514a1 14.5px,#0f38e8 42.5px,#1a6afe 72.5px,#1864fa 89.5px,#134be5 99.5px)"></i><i style="background:linear-gradient(#00065c 0.5px,#010760 18.5px,#041194 35.5px,#0e34e4 58.5px,#1a69fd 82.5px,#1c7df8 99.5px)"></i><i style="background:linear-gradient(#000346 0.5px,#000448 30.5px,#02096e 46.5px,#0b29d1 70.5px,#165af4 91.5px,#1a6ff7 99.5px)"></i><i style="background:linear-gradient(#041455 0.5px,#000448 51.5px,#030c7a 69.5px,#101dae 84.5px,#1538d5 99.5px)"></i><i style="background:linear-gradient(#197acd 0.5px,#1567c1 21.5px,#0d3c9b 36.5px,#09277b 42.5px,#061960 47.5px,#140941 51.5px,#190f4a 67.5px,#26136d 72.5px,#2e3478 81.5px,#521567 84.5px,#632077 88.5px,#492984 99.5px)"></i><i style="background:linear-gradient(#22add9 0.5px,#1e9acf 40.5px,#1e8bcc 46.5px,#2581bb 47.5px,#584e7c 49.5px,#86305d 51.5px,#9e2f5c 54.5px,#a34060 64.5px,#9f4d5b 68.5px,#bf2e3d 70.5px,#cf3245 72.5px,#d0394c 73.5px,#ce2a3c 76.5px,#c5384a 80.5px,#c9253d 89.5px,#ad2643 99.5px)"></i><i style="background:linear-gradient(#22b0da 0.5px,#21a3e3 43.5px,#21a3e0 45.5px,#269fd3 46.5px,#3a87b0 47.5px,#626284 48.5px,#86526f 49.5px,#b23f59 51.5px,#ce4861 53.5px,#d14d66 54.5px,#d23d56 55.5px,#d3445d 62.5px,#d3435b 63.5px,#d0586f 65.5px,#b3677c 67.5px,#a47991 68.5px,#a76996 73.5px,#9f4475 76.5px,#895385 77.5px,#7781b8 78.5px,#7286ca 80.5px,#7173c3 84.5px,#6a50a4 88.5px,#4d5db3 90.5px,#3c71cd 92.5px,#3669d8 99.5px)"></i><i style="background:linear-gradient(#1f94ea 0.5px,#196ef7 30.5px,#1c74f3 46.5px,#3468de 51.5px,#3768e3 66.5px,#2d61ec 73.5px,#2656e8 77.5px,#215cf4 80.5px,#184bec 90.5px,#1349f1 99.5px)"></i><i style="background:linear-gradient(#1658f4 0.5px,#103cea 32.5px,#1243ef 64.5px,#0a24d1 99.5px)"></i><i style="background:linear-gradient(#0c2bda 0.5px,#081cc0 33.5px,#0922cc 63.5px,#041198 98.5px,#041098 99.5px)"></i><i style="background:linear-gradient(#0413a1 0.5px,#020c84 30.5px,#031095 62.5px,#010767 95.5px,#010766 99.5px)"></i><i style="background:linear-gradient(#010869 0.5px,#00065b 36.5px,#010763 65.5px,#00044c 99.5px)"></i><i style="background:linear-gradient(#00044d 0.5px,#00044c 54.5px,#000240 99.5px)"></i><i style="background:linear-gradient(#020b50 0.5px,#000240 53.5px,#010442 99.5px)"></i><i style="background:linear-gradient(#0f46a6 0.5px,#0b358f 20.5px,#0a1f73 32.5px,#190f57 36.5px,#190a40 41.5px,#0d0742 59.5px,#12073d 72.5px,#1b0d47 85.5px,#261361 95.5px,#271562 99.5px)"></i><i style="background:linear-gradient(#20a4d2 0.5px,#1e96cd 30.5px,#238fc2 31.5px,#3579a2 32.5px,#5e4f72 33.5px,#873758 34.5px,#9c3758 35.5px,#a34469 39.5px,#9a2558 45.5px,#7d2c54 47.5px,#6d3d5f 48.5px,#673763 51.5px,#642260 57.5px,#662d61 66.5px,#694163 70.5px,#6e3d5e 71.5px,#7f2b52 72.5px,#942251 73.5px,#a1386a 76.5px,#a34465 80.5px,#a7505e 84.5px,#c62f3a 87.5px,#d92f3c 91.5px,#da3a47 99.5px)"></i><i style="background:linear-gradient(#23b4d7 0.5px,#23b2d8 29.5px,#27aecd 30.5px,#3997a8 31.5px,#6d5b63 32.5px,#af2e33 33.5px,#d7262b 34.5px,#ee454a 36.5px,#f3797f 39.5px,#f37f85 40.5px,#f2666e 42.5px,#e7646a 50.5px,#e6424a 52.5px,#e63e47 66.5px,#e6444c 67.5px,#e76067 68.5px,#eb6269 72.5px,#f2666d 79.5px,#f38589 81.5px,#eb8388 99.5px)"></i><i style="background:linear-gradient(#23afd9 0.5px,#2ad 29.5px,#27a7d0 30.5px,#3a90ae 31.5px,#63677e 32.5px,#8d4f64 33.5px,#c85562 36.5px,#de7c87 38.5px,#e19da6 40.5px,#ecafb3 48.5px,#f4a9aa 55.5px,#efacb0 70.5px,#e0a4b0 80.5px,#d98999 84.5px,#bb97a8 86.5px,#aca8be 88.5px,#a57ca4 95.5px,#8985ae 98.5px,#7f90bb 99.5px)"></i><i style="background:linear-gradient(#1e91ee 0.5px,#1e8af0 30.5px,#3582dc 35.5px,#3f91dc 39.5px,#458ed4 40.5px,#6877b7 42.5px,#779eca 47.5px,#9d84aa 50.5px,#ab9fb9 55.5px,#acabc0 61.5px,#a686aa 68.5px,#8d8ab2 70.5px,#7d9ac3 71.5px,#7494c8 73.5px,#6d76b8 76.5px,#5f77bd 77.5px,#4192df 79.5px,#3581ec 86.5px,#2770f2 99.5px)"></i><i style="background:linear-gradient(#1760f9 0.5px,#1861fa 34.5px,#256ef3 45.5px,#3284ef 61.5px,#2467f1 75.5px,#1657f9 87.5px,#134af6 99.5px)"></i><i style="background:linear-gradient(#103cee 0.5px,#1141f2 37.5px,#175af9 63.5px,#0d2ee4 99.5px)"></i><i style="background:linear-gradient(#0a23d5 0.5px,#0b28dd 36.5px,#103bef 64.5px,#081cc6 99.5px)"></i><i style="background:linear-gradient(#0515ae 0.5px,#0617b8 34.5px,#0b26db 61.5px,#0411a1 99.5px)"></i><i style="background:linear-gradient(#030e8c 0.5px,#030e91 33.5px,#0618bb 61.5px,#020b7d 99.5px)"></i><i style="background:linear-gradient(#08249a 0.5px,#081b82 20.5px,#190f6f 26.5px,#081086 44.5px,#04119e 62.5px,#0c0e82 77.5px,#0f116b 99.5px)"></i><i style="background:linear-gradient(#1d91d6 0.5px,#1d85d1 18.5px,#247dc3 19.5px,#545188 21.5px,#863567 23.5px,#9d3768 25.5px,#9e2d66 32.5px,#842f6a 34.5px,#6a4680 36.5px,#622172 42.5px,#581d70 43.5px,#31368b 45.5px,#23178d 57.5px,#2a2490 68.5px,#2e398f 74.5px,#33358a 75.5px,#561c70 77.5px,#652775 80.5px,#69467e 90.5px,#6e447b 99.5px)"></i><i style="background:linear-gradient(#23b1d8 0.5px,#23b0d8 16.5px,#26acd0 17.5px,#339cb7 18.5px,#577383 19.5px,#933e47 20.5px,#c8262e 21.5px,#e22b32 22.5px,#f2676e 25.5px,#f2767c 26.5px,#f2626a 29.5px,#e7626b 38.5px,#e6414c 40.5px,#da3345 52.5px,#bf3447 58.5px,#c82f42 62.5px,#da3446 67.5px,#dc3f4c 75.5px,#e63f4a 82.5px,#e76069 84.5px,#e8656d 99.5px)"></i><i style="background:linear-gradient(#24b3d2 0.5px,#23b4d6 15.5px,#25b2cf 16.5px,#32a3b4 17.5px,#5b6f75 18.5px,#9d3739 19.5px,#d12222 20.5px,#ec2626 21.5px,#fe7a7a 24.5px,#fea2a2 26.5px,#feacac 39.5px,#fea5a5 48.5px,#fd8586 50.5px,#fd8586 69.5px,#fea5a5 71.5px,#feafaf 99.5px)"></i><i style="background:linear-gradient(#25b0d0 0.5px,#23b2d6 15.5px,#2da7bc 17.5px,#468895 18.5px,#6e616a 19.5px,#b13f44 21.5px,#c53f44 22.5px,#e37376 25.5px,#e99092 28.5px,#f8a9a9 36.5px,#ffb6b6 49.5px,#fbb 71.5px,#f9a9a9 99.5px)"></i><i style="background:linear-gradient(#209be9 0.5px,#23a6dc 17.5px,#4c8daf 24.5px,#9f6d7a 33.5px,#c9656c 37.5px,#e57e82 41.5px,#f5a3a3 47.5px,#ffb7b7 61.5px,#f5a1a2 81.5px,#d4686f 96.5px,#c1636a 99.5px)"></i><i style="background:linear-gradient(#1c77fb 0.5px,#218cec 24.5px,#4099c6 38.5px,#6a7f9b 42.5px,#9f6976 46.5px,#c65f66 49.5px,#e5777a 53.5px,#f59b9b 60.5px,#eb8688 70.5px,#d46066 77.5px,#b66168 80.5px,#7f7487 86.5px,#4a91b7 93.5px,#3a96cd 99.5px)"></i><i style="background:linear-gradient(#175efc 0.5px,#1965fb 21.5px,#1f8cef 39.5px,#4097c4 50.5px,#8d6978 57.5px,#af6269 61.5px,#936673 67.5px,#4c8eb1 75.5px,#3897cd 80.5px,#1e87f5 99.5px)"></i><i style="background:linear-gradient(#144ef9 0.5px,#1348f6 20.5px,#1c7afa 44.5px,#2892e2 54.5px,#3698ce 62.5px,#1e88f6 81.5px,#1968fc 99.5px)"></i><i style="background:linear-gradient(#1346f6 0.5px,#0e33eb 19.5px,#1861fc 45.5px,#1e8cf4 62.5px,#1552fa 98.5px,#1551fa 99.5px)"></i><i style="background:linear-gradient(#134bf4 0.5px,#1739e4 7.5px,#172cd7 19.5px,#113bea 33.5px,#1963fc 55.5px,#1a6efd 64.5px,#1246f3 99.5px)"></i><i style="background:linear-gradient(#1c80ec 0.5px,#1e78e3 4.5px,#3e57b5 6.5px,#5647a2 7.5px,#6b49a0 9.5px,#6c4d9f 16.5px,#69349f 28.5px,#5432a1 31.5px,#394cc0 33.5px,#293fdb 43.5px,#2352e9 56.5px,#2657e9 63.5px,#354ddb 82.5px,#3553cf 99.5px)"></i><i style="background:linear-gradient(#23add7 0.5px,#26a9cf 3.5px,#3694ae 4.5px,#665a6a 5.5px,#a92936 6.5px,#d3202d 7.5px,#e32c38 8.5px,#e8606b 12.5px,#e75d6b 23.5px,#e74452 24.5px,#df3f50 32.5px,#db3850 39.5px,#d3344c 41.5px,#c23b54 42.5px,#a95776 44.5px,#a5457d 49.5px,#963b7a 53.5px,#795494 57.5px,#7c5391 61.5px,#9e3f7a 66.5px,#a85b79 75.5px,#b24e66 77.5px,#cd364e 79.5px,#dc3b51 83.5px,#dc4356 99.5px)"></i><i style="background:linear-gradient(#26b3cc 0.5px,#26b2ca 2.5px,#2daaba 3.5px,#45898e 4.5px,#7b494b 5.5px,#b92425 6.5px,#de1f1f 7.5px,#f64343 9.5px,#fd7d7d 11.5px,#fe9898 13.5px,#fea8a8 23.5px,#fe9f9f 37.5px,#fe8686 38.5px,#f58585 43.5px,#f38185 47.5px,#f2676c 48.5px,#eb636b 56.5px,#f2666b 71.5px,#f38588 73.5px,#fd8283 86.5px,#fea0a1 88.5px,#fea4a4 99.5px)"></i><i style="background:linear-gradient(#27b1c6 0.5px,#2badbd 3.5px,#34a0ac 4.5px,#65696e 6.5px,#a24145 8.5px,#cf4042 10.5px,#e66364 13.5px,#fd9e9e 22.5px,#ffb7b7 33.5px,#faa 64.5px,#ffb8b8 99.5px)"></i><i style="background:linear-gradient(#23add8 0.5px,#2da5c4 6.5px,#5e7f90 12.5px,#bf5155 20.5px,#e26365 24.5px,#fc9e9e 32.5px,#ffb7b7 42.5px,#ffb7b7 99.5px)"></i><i style="background:linear-gradient(#1f9bec 0.5px,#249ede 11.5px,#4198b7 21.5px,#697b8d 25.5px,#b4585e 30.5px,#d1565a 32.5px,#f28e8e 38.5px,#ffb2b2 46.5px,#ffb2b2 90.5px,#fea4a4 99.5px)"></i><i style="background:linear-gradient(#1d88f8 0.5px,#1e8af4 16.5px,#2b99d7 26.5px,#4396b9 32.5px,#7b7283 36.5px,#c3565c 40.5px,#e46c6f 43.5px,#f79a9a 48.5px,#ffb5b5 57.5px,#ffadad 78.5px,#ed8384 92.5px,#db6064 99.5px)"></i><i style="background:linear-gradient(#1c78fd 0.5px,#1a6bfc 17.5px,#2094ec 32.5px,#4396bb 41.5px,#966571 46.5px,#cc575d 49.5px,#eb7e80 53.5px,#fda2a2 59.5px,#fda1a1 67.5px,#eb7e80 77.5px,#d0575c 84.5px,#966370 90.5px,#4793b6 99.5px)"></i><i style="background:linear-gradient(#1b6efe 0.5px,#1552fa 17.5px,#1e88f5 38.5px,#3195d3 46.5px,#4792b6 50.5px,#9d626d 55.5px,#cd565c 58.5px,#e2686b 61.5px,#d0565b 68.5px,#ae5e66 72.5px,#7c7384 77.5px,#4097c0 84.5px,#2092ec 99.5px)"></i><i style="background:linear-gradient(#1a6cfb 0.5px,#1244f3 17.5px,#1b70fc 40.5px,#2192ec 50.5px,#4693b6 59.5px,#58839f 61.5px,#3b98c6 70.5px,#1e8cf3 87.5px,#1b74fb 99.5px)"></i><i style="background:linear-gradient(#3c71d4 0.5px,#3963d1 7.5px,#344bd4 19.5px,#2c4de0 32.5px,#2861eb 44.5px,#2883ed 54.5px,#2e91db 63.5px,#2a87e7 74.5px,#2e62e8 95.5px,#2d5de7 99.5px)"></i><i style="background:linear-gradient(#dd3645 0.5px,#dd4556 7.5px,#d7354c 28.5px,#bd4058 31.5px,#ab5873 33.5px,#a7557e 37.5px,#a0427a 42.5px,#854d88 44.5px,#7364a3 46.5px,#715ea7 56.5px,#766da0 73.5px,#974b7b 77.5px,#a7517c 82.5px,#a75b7f 99.5px)"></i><i style="background:linear-gradient(#ec3838 0.5px,#fb7c7d 3.5px,#fe9999 8.5px,#fea3a4 17.5px,#fe9f9f 18.5px,#fe8686 19.5px,#f58585 32.5px,#f38588 36.5px,#f3666a 38.5px,#ea656d 45.5px,#e8656e 48.5px,#e74651 50.5px,#e84a52 70.5px,#e8636b 71.5px,#f36568 92.5px,#f38486 94.5px,#f3878a 99.5px)"></i><i style="background:linear-gradient(#905155 0.5px,#c04446 2.5px,#dd5153 4.5px,#fd9d9d 13.5px,#ffafaf 18.5px,#fea8a8 49.5px,#ffa9aa 71.5px,#ffb1b1 99.5px)"></i><i style="background:linear-gradient(#36a0b8 0.5px,#578392 4.5px,#b35155 10.5px,#da5457 13.5px,#fd9f9f 22.5px,#ffb7b7 31.5px,#ffb8b8 99.5px)"></i><i style="background:linear-gradient(#21a5e2 0.5px,#3a9dbc 10.5px,#4e8da2 13.5px,#ab595f 19.5px,#cb5155 21.5px,#ea7576 25.5px,#fea4a4 31.5px,#ffb8b8 40.5px,#ffb8b8 99.5px)"></i><i style="background:linear-gradient(#1e92f2 0.5px,#239ce1 13.5px,#4198b7 21.5px,#667c8f 24.5px,#c0545a 29.5px,#e4696c 32.5px,#f99b9b 37.5px,#ffb7b7 45.5px,#ffb4b4 99.5px)"></i><i style="background:linear-gradient(#1d82fa 0.5px,#1d84f7 15.5px,#2498e1 23.5px,#4396b8 30.5px,#856b7a 34.5px,#c2565c 37.5px,#e67073 40.5px,#fba0a0 45.5px,#ffb7b7 53.5px,#ffafaf 88.5px,#f39394 99.5px)"></i><i style="background:linear-gradient(#1c75fe 0.5px,#1967fc 16.5px,#2094ec 30.5px,#4495b9 38.5px,#a4626b 43.5px,#cd595e 45.5px,#e97b7d 48.5px,#fda4a4 53.5px,#ffb7b7 62.5px,#fea5a5 79.5px,#ec8283 88.5px,#d65c61 94.5px,#b65c63 97.5px,#a2636e 99.5px)"></i><i style="background:linear-gradient(#1b6cfe 0.5px,#1551f9 17.5px,#1e88f5 35.5px,#2f95d5 42.5px,#4096c0 45.5px,#72798e 48.5px,#b25e66 51.5px,#c7585f 52.5px,#e1696d 54.5px,#f79a9a 59.5px,#fb9f9f 64.5px,#ed8586 73.5px,#d65b60 80.5px,#b65b62 83.5px,#7e7283 88.5px,#4396bd 94.5px,#3396d1 99.5px)"></i><i style="background:linear-gradient(#2f65e8 0.5px,#2841e1 17.5px,#255fed 31.5px,#2886ea 43.5px,#3397ce 50.5px,#4794b5 53.5px,#936771 57.5px,#cb575b 60.5px,#d55a5d 62.5px,#b55a5e 68.5px,#8e6570 73.5px,#4d92b1 80.5px,#298de7 96.5px,#2886eb 99.5px)"></i><i style="background:linear-gradient(#a95c78 0.5px,#a7527c 9.5px,#9f3e79 26.5px,#834b88 30.5px,#7363a3 33.5px,#6b59a5 44.5px,#5169b0 47.5px,#4287c6 50.5px,#4590bd 54.5px,#628a9a 62.5px,#637d92 68.5px,#746884 72.5px,#7475a1 85.5px,#7264a6 99.5px)"></i><i style="background:linear-gradient(#f16567 0.5px,#f38183 5.5px,#f38285 8.5px,#f26468 10.5px,#e9666e 32.5px,#e8636d 36.5px,#e7454f 38.5px,#de464f 53.5px,#e7444e 99.5px)"></i><i style="background:linear-gradient(#db4546 0.5px,#fc9292 7.5px,#faa 17.5px,#fea2a2 51.5px,#fe8484 53.5px,#fe8282 67.5px,#fea0a1 69.5px,#fea4a4 99.5px)"></i><i style="background:linear-gradient(#58828e 0.5px,#b54e51 5.5px,#df5759 8.5px,#fc9c9c 15.5px,#ffb6b6 23.5px,#ffb2b2 53.5px,#ffb8b8 99.5px)"></i><i style="background:linear-gradient(#27a6d3 0.5px,#4c90a3 7.5px,#a15a60 12.5px,#c64f53 14.5px,#e56769 17.5px,#fc9f9f 23.5px,#ffb7b7 31.5px,#ffb8b8 99.5px)"></i><i style="background:linear-gradient(#1f9aed 0.5px,#26a1d9 8.5px,#4893ab 15.5px,#9f5e66 20.5px,#c55357 22.5px,#e66d6f 25.5px,#fa9d9d 30.5px,#ffb7b7 38.5px,#ffb8b8 99.5px)"></i><i style="background:linear-gradient(#1e89f8 0.5px,#2098ea 14.5px,#4794b1 23.5px,#a36068 28.5px,#ca565b 30.5px,#e87678 33.5px,#fda3a3 38.5px,#ffb7b7 46.5px,#ffb6b6 99.5px)"></i><i style="background:linear-gradient(#1c7afd 0.5px,#1c79fb 14.5px,#2196e9 23.5px,#3f98be 30.5px,#6e7a8e 33.5px,#ae5f66 36.5px,#c3585e 37.5px,#e0696c 39.5px,#f99e9e 44.5px,#ffb7b7 52.5px,#ffb0b0 91.5px,#f89e9e 99.5px)"></i><i style="background:linear-gradient(#1b70fe 0.5px,#185ffc 16.5px,#1f92ee 30.5px,#4594b9 38.5px,#956673 42.5px,#c15a61 44.5px,#e06a6e 46.5px,#f49999 50.5px,#ffb6b6 58.5px,#ffacac 79.5px,#ee8b8c 90.5px,#d15c61 97.5px,#ba5b62 99.5px)"></i><i style="background:linear-gradient(#2569f3 0.5px,#1f4cee 17.5px,#1d79f8 31.5px,#2194eb 38.5px,#4396bc 45.5px,#926876 49.5px,#bf5c63 51.5px,#df696e 53.5px,#f79e9e 58.5px,#fea7a7 64.5px,#f4a3a6 70.5px,#dc6569 82.5px,#c2595e 85.5px,#886d7a 90.5px,#4596b9 96.5px,#3998c9 99.5px)"></i><i style="background:linear-gradient(#715ea6 0.5px,#693ea5 19.5px,#534aad 26.5px,#3c70d1 32.5px,#3e86d4 43.5px,#5689ab 51.5px,#6a7a91 53.5px,#a65a61 56.5px,#df4e4e 59.5px,#f25e5e 61.5px,#ec5758 65.5px,#c56c7b 67.5px,#bc5362 73.5px,#a25a67 76.5px,#628b9f 83.5px,#3e8ad2 99.5px)"></i><i style="background:linear-gradient(#e73842 0.5px,#e7404e 12.5px,#dd4453 36.5px,#d14149 50.5px,#cb4041 57.5px,#d44343 63.5px,#e0383b 70.5px,#e8373a 76.5px,#de4e54 88.5px,#dd4653 99.5px)"></i><i style="background:linear-gradient(#ee5b5b 0.5px,#fd8f8f 5.5px,#fea3a3 13.5px,#fea0a1 35.5px,#fd8283 37.5px,#f77d7d 55.5px,#f66464 56.5px,#f66464 65.5px,#f77d7d 66.5px,#fe8181 99.5px)"></i><i style="background:linear-gradient(#915c60 0.5px,#cc4a4c 3.5px,#ee7575 7.5px,#fea8a8 13.5px,#ffb8b8 23.5px,#ffabab 65.5px,#ffb1b1 99.5px)"></i><i style="background:linear-gradient(#34a1be 0.5px,#4793a6 3.5px,#8c626a 7.5px,#c64e51 10.5px,#e6686a 13.5px,#fa9b9b 18.5px,#ffb6b6 26.5px,#ffb8b8 99.5px)"></i><i style="background:linear-gradient(#21a2e5 0.5px,#369ec1 8.5px,#4b91a7 11.5px,#a55c62 16.5px,#cb5357 18.5px,#e87172 21.5px,#fb9f9f 26.5px,#ffb7b7 34.5px,#ffb8b8 99.5px)"></i><i style="background:linear-gradient(#1e90f4 0.5px,#229de2 11.5px,#4198b8 18.5px,#6d7a8b 21.5px,#bc575d 25.5px,#dc6164 27.5px,#f99e9e 33.5px,#ffb7b7 41.5px,#ffb8b8 99.5px)"></i><i style="background:linear-gradient(#1d80fb 0.5px,#1d86f6 13.5px,#2597e0 20.5px,#4198bb 26.5px,#856d7c 30.5px,#c3595f 33.5px,#df696d 35.5px,#f79e9e 40.5px,#ffb7b7 49.5px,#ffb1b1 98.5px,#ffafaf 99.5px)"></i><i style="background:linear-gradient(#1c74fe 0.5px,#1a6bfc 15.5px,#2092ed 26.5px,#4496bb 34.5px,#8f6977 38.5px,#ce5d63 41.5px,#e98284 44.5px,#faa2a2 48.5px,#ffb8b8 57.5px,#ffafaf 85.5px,#ef9394 96.5px,#e98285 99.5px)"></i><i style="background:linear-gradient(#256ef9 0.5px,#2057f6 16.5px,#298df1 32.5px,#3596d0 38.5px,#3e96b7 41.5px,#707986 44.5px,#b06161 47.5px,#c55c5a 48.5px,#e06e6a 50.5px,#f2a39d 55.5px,#fab1af 61.5px,#faacac 71.5px,#f4a3a6 78.5px,#db656d 89.5px,#bd5c66 92.5px,#836f83 97.5px,#6f7c96 99.5px)"></i><i style="background:linear-gradient(#6d69c6 0.5px,#6956c2 18.5px,#739ae3 36.5px,#6f9cdf 37.5px,#4f97c6 38.5px,#1c8c9d 39.5px,#148e92 41.5px,#388865 49.5px,#855829 53.5px,#9b6535 55.5px,#9e9363 59.5px,#a7986d 60.5px,#d99280 61.5px,#f88c8a 62.5px,#f77b7b 70.5px,#ce8f91 73.5px,#bd637c 80.5px,#a9607e 82.5px,#6b87af 88.5px,#5893c7 92.5px,#4793d9 99.5px)"></i><i style="background:linear-gradient(#c22f3d 0.5px,#c52c3c 19.5px,#e33a49 24.5px,#ea909d 33.5px,#eab1bd 36.5px,#dfb5ba 37.5px,#92a883 38.5px,#188e27 39.5px,#038a17 40.5px,#08880d 50.5px,#178206 55.5px,#188b0f 59.5px,#2d8f1e 60.5px,#a79f70 61.5px,#f4aaa4 62.5px,#ffabab 64.5px,#e9a7ae 85.5px,#e0adba 99.5px)"></i><i style="background:linear-gradient(#7d4d4e 0.5px,#7e4b4d 18.5px,#983636 20.5px,#d21b1b 23.5px,#f42222 27.5px,#fe5353 32.5px,#ff9f9f 36.5px,#f3aea7 37.5px,#9fae73 38.5px,#19a013 39.5px,#029e02 40.5px,#029e02 59.5px,#19a012 60.5px,#9fab70 61.5px,#f3b2ab 62.5px,#ffb3b3 64.5px,#ffb3b3 99.5px)"></i><i style="background:linear-gradient(#3a99a3 0.5px,#3b98a2 18.5px,#3f939b 19.5px,#735152 22.5px,#b91c1c 25.5px,#e71515 28.5px,#fb2e2e 32.5px,#ff6161 35.5px,#f3958d 37.5px,#a1a969 38.5px,#1dae15 39.5px,#06ae06 40.5px,#06ae06 59.5px,#1daf16 60.5px,#a1b172 61.5px,#f3b3ab 62.5px,#ffb3b3 64.5px,#ffadad 85.5px,#f9a0a0 99.5px)"></i><i style="background:linear-gradient(#27b1c8 0.5px,#29afc4 19.5px,#3e9298 22.5px,#7d4242 25.5px,#b01d1d 27.5px,#e71313 30.5px,#f92323 33.5px,#ff5757 36.5px,#f3746c 37.5px,#a09657 38.5px,#1ca912 39.5px,#05ac05 40.5px,#05ac05 59.5px,#1cad15 60.5px,#a0b171 61.5px,#f3b3ab 62.5px,#ffb3b3 64.5px,#ffacac 79.5px,#ed8889 85.5px,#d95f62 92.5px,#c5555a 99.5px)"></i><i style="background:linear-gradient(#24b4d3 0.5px,#25b3d1 19.5px,#2dabb9 22.5px,#418d90 24.5px,#893232 27.5px,#be1616 29.5px,#e41111 31.5px,#f92020 34.5px,#fe4040 36.5px,#f35a52 37.5px,#9f8043 38.5px,#1a9e0c 39.5px,#02a202 40.5px,#02a202 59.5px,#1aa413 60.5px,#9fad70 61.5px,#f3b3ab 62.5px,#ffb3b3 64.5px,#ffb1b1 75.5px,#f79494 78.5px,#d55d60 81.5px,#a95d64 83.5px,#6a7c90 87.5px,#4794b3 92.5px,#3d99c1 99.5px)"></i><i style="background:linear-gradient(#23b4d6 0.5px,#24b4d4 19.5px,#29b0c1 22.5px,#389b9f 24.5px,#478484 25.5px,#7a3e3e 27.5px,#b11919 29.5px,#df1111 31.5px,#fb2424 35.5px,#fd3535 36.5px,#f34b44 37.5px,#9e7037 38.5px,#189109 39.5px,#009600 40.5px,#009600 59.5px,#189911 60.5px,#9ea86f 61.5px,#f3b2ab 62.5px,#ffb3b3 64.5px,#ffb1b1 73.5px,#fa9595 75.5px,#da5859 77.5px,#b85054 78.5px,#677c8c 80.5px,#4b90ab 81.5px,#3698ca 83.5px,#2197ea 92.5px,#1f96ee 99.5px)"></i><i style="background:linear-gradient(#24b4d4 0.5px,#24b3d2 19.5px,#2badbc 22.5px,#3e9396 24.5px,#833636 27.5px,#b91717 29.5px,#e21111 31.5px,#fb2424 35.5px,#fd3333 36.5px,#f24741 37.5px,#9e6734 38.5px,#188308 39.5px,#008700 40.5px,#008700 59.5px,#188c11 60.5px,#9ea36f 61.5px,#f3b1ab 62.5px,#ffb3b3 64.5px,#ffb2b2 71.5px,#feaaaa 72.5px,#fa9393 73.5px,#ec6767 74.5px,#cc494a 75.5px,#97565a 76.5px,#627b86 77.5px,#4197ae 78.5px,#299fd7 80.5px,#1f92f1 83.5px,#1d85f9 99.5px)"></i><i style="background:linear-gradient(#26b2cc 0.5px,#27b2ca 19.5px,#379da5 22.5px,#566f70 24.5px,#883535 26.5px,#bb1717 28.5px,#e01212 30.5px,#fa2121 34.5px,#fd3a3a 36.5px,#f34c46 37.5px,#9e6436 38.5px,#187608 39.5px,#007800 40.5px,#007800 59.5px,#187e11 60.5px,#9e9d6f 61.5px,#f3b1ab 62.5px,#ffb3b3 64.5px,#ffb1b1 70.5px,#fda1a1 71.5px,#f57575 72.5px,#d74545 73.5px,#9e4b4d 74.5px,#5f7880 75.5px,#3b9baf 76.5px,#2aa8cb 77.5px,#1f99ee 80.5px,#1d83fa 83.5px,#1d7cfc 99.5px)"></i><i style="background:linear-gradient(#35a4b3 0.5px,#38a0ad 19.5px,#4b8589 21.5px,#8a3939 24.5px,#b91c1c 26.5px,#e71616 29.5px,#fb2929 33.5px,#fe4c4c 36.5px,#f35b56 37.5px,#9e673f 38.5px,#18680a 39.5px,#006800 40.5px,#006800 59.5px,#186f11 60.5px,#9e976f 61.5px,#f3b0ab 62.5px,#ffb3b3 64.5px,#ffb0b0 69.5px,#fd9a9a 70.5px,#ef5e5e 71.5px,#c63838 72.5px,#815557 73.5px,#488c96 74.5px,#2ea8bf 75.5px,#22aadf 77.5px,#1d7bfd 83.5px,#1c77fe 99.5px)"></i><i style="background:linear-gradient(#806568 0.5px,#856366 19.5px,#c13030 23.5px,#ee3131 27.5px,#fb4f4e 32.5px,#e7685a 35.5px,#dc7d6b 37.5px,#8f784b 38.5px,#16630b 39.5px,#005f00 40.5px,#005f00 59.5px,#16660f 60.5px,#8f9164 61.5px,#dcac9a 62.5px,#feb2b1 65.5px,#ffb1b1 68.5px,#fea1a1 69.5px,#f45f5f 70.5px,#cd3939 71.5px,#8c5657 72.5px,#568e95 73.5px,#3fabbd 74.5px,#37add7 76.5px,#317af4 83.5px,#3178f4 99.5px)"></i><i style="background:linear-gradient(#da3a3b 0.5px,#e13d3d 15.5px,#f96b6b 24.5px,#ffa6a6 31.5px,#f0a9a0 32.5px,#9da065 33.5px,#699a3f 34.5px,#5d9e3d 37.5px,#3d9429 38.5px,#0a8207 39.5px,#017f01 42.5px,#017f01 59.5px,#0a8207 60.5px,#3d9328 61.5px,#5d9e3c 62.5px,#70a049 63.5px,#c3a682 64.5px,#f8aaa6 65.5px,#ffa9a9 68.5px,#fe9b9b 69.5px,#f47f7f 70.5px,#dd7d7d 71.5px,#b2a8ac 73.5px,#aaa6be 77.5px,#a98cc0 85.5px,#a98cc0 99.5px)"></i><i style="background:linear-gradient(#a33334 0.5px,#a43333 13.5px,#e51d1d 18.5px,#fc3838 23.5px,#f77 28.5px,#ffabab 31.5px,#e9b5a6 32.5px,#6cb350 33.5px,#1db017 34.5px,#12af0f 36.5px,#06aa06 43.5px,#07aa07 60.5px,#12ae0d 62.5px,#28ae1d 63.5px,#a5b073 64.5px,#f4b2aa 65.5px,#ffb2b2 67.5px,#f7b0b0 72.5px,#f4adb4 99.5px)"></i><i style="background:linear-gradient(#4d8185 0.5px,#4e7f84 13.5px,#567578 14.5px,#953334 17.5px,#d31616 20.5px,#f61f1f 24.5px,#fe4c4c 28.5px,#ff8d8d 31.5px,#e9a595 32.5px,#6abb4a 33.5px,#19c316 34.5px,#0ec40e 36.5px,#0ec40e 62.5px,#24c21d 63.5px,#a3ba75 64.5px,#f4b4ac 65.5px,#ffb3b3 67.5px,#faa 99.5px)"></i><i style="background:linear-gradient(#2cacbe 0.5px,#2fa8b7 14.5px,#418f95 16.5px,#7e4343 19.5px,#b01e1e 21.5px,#e51313 24.5px,#fc2d2d 28.5px,#ff6868 31.5px,#e98877 32.5px,#6ab241 33.5px,#1ac415 34.5px,#0fc60f 36.5px,#0fc60f 62.5px,#25c41e 63.5px,#a4ba75 64.5px,#f4b4ac 65.5px,#ffb3b3 67.5px,#ffafaf 83.5px,#e87b7c 99.5px)"></i><i style="background:linear-gradient(#25b3d0 0.5px,#26b2cd 14.5px,#33a3ad 17.5px,#4e7b7c 19.5px,#7f3d3d 21.5px,#b41919 23.5px,#df1212 25.5px,#fb2626 29.5px,#fe4b4b 31.5px,#e86a5a 32.5px,#679f32 33.5px,#16b70f 34.5px,#0aba0a 36.5px,#0aba0a 62.5px,#21b91a 63.5px,#a2b673 64.5px,#f3b4ab 65.5px,#ffb3b3 67.5px,#ffb1b1 79.5px,#f39090 83.5px,#d0595e 87.5px,#93636e 92.5px,#6f7b8d 99.5px)"></i><i style="background:linear-gradient(#23b4d5 0.5px,#24b4d3 14.5px,#2aaebe 17.5px,#3b9699 19.5px,#813838 22.5px,#b71717 24.5px,#e21111 26.5px,#f81c1c 29.5px,#fd3b3b 31.5px,#e75747 32.5px,#648c26 33.5px,#10a609 34.5px,#05aa05 36.5px,#05aa05 62.5px,#1cab15 63.5px,#a0b071 64.5px,#f3b3ab 65.5px,#ffb3b3 67.5px,#ffafaf 77.5px,#f99494 79.5px,#df6061 81.5px,#c45256 82.5px,#a15c63 83.5px,#637f95 85.5px,#4396b9 87.5px,#2e97d5 94.5px,#2997dc 99.5px)"></i><i style="background:linear-gradient(#23b4d5 0.5px,#24b4d3 14.5px,#2baebe 17.5px,#3c9699 19.5px,#813838 22.5px,#b71717 24.5px,#e11111 26.5px,#fb2525 30.5px,#fd3535 31.5px,#e74e40 32.5px,#617d20 33.5px,#0d9505 34.5px,#019801 36.5px,#019801 62.5px,#189a11 63.5px,#9ea970 64.5px,#f3b2ab 65.5px,#ffb3b3 67.5px,#ffb0b0 75.5px,#fea4a4 76.5px,#f78989 77.5px,#e76161 78.5px,#c54b4c 79.5px,#935c61 80.5px,#647c89 81.5px,#4594ad 82.5px,#2d9bd3 84.5px,#1f95ef 88.5px,#1e8bf6 99.5px)"></i><i style="background:linear-gradient(#25b3d0 0.5px,#26b3cd 14.5px,#32a4ae 17.5px,#4c7e7f 19.5px,#7d3e3e 21.5px,#b11a1a 23.5px,#dc1111 25.5px,#f91e1e 29.5px,#fd3938 31.5px,#e74d41 32.5px,#61721f 33.5px,#0c8304 34.5px,#008500 36.5px,#008500 62.5px,#188911 63.5px,#9ea26f 64.5px,#f3b1ab 65.5px,#ffb3b3 67.5px,#ffb3b3 73.5px,#ffabab 74.5px,#fb9292 75.5px,#eb5f5f 76.5px,#c44444 77.5px,#875c5f 78.5px,#528693 79.5px,#379fb9 80.5px,#23a4df 82.5px,#1e88f8 86.5px,#1d7ffb 99.5px)"></i><i style="background:linear-gradient(#29afc3 0.5px,#2cacbd 14.5px,#3c969d 16.5px,#754a4a 19.5px,#a72121 21.5px,#e11212 24.5px,#f92121 28.5px,#fe4444 31.5px,#e7554b 32.5px,#616a23 33.5px,#0c7205 34.5px,#007200 36.5px,#007300 62.5px,#187911 63.5px,#9e9b6f 64.5px,#f3b0ab 65.5px,#ffb3b3 67.5px,#ffb2b2 72.5px,#fea6a6 73.5px,#f77d7d 74.5px,#d44 75.5px,#a34445 76.5px,#60747a 77.5px,#399dae 78.5px,#28accc 79.5px,#1e93f2 83.5px,#1d7dfc 86.5px,#1c79fd 99.5px)"></i><i style="background:linear-gradient(#4f9097 0.5px,#508f96 13.5px,#55888d 14.5px,#9f3737 18.5px,#d92121 21.5px,#f62a2a 25.5px,#fe6160 31.5px,#e16b5e 32.5px,#5d6a2a 33.5px,#0b6405 34.5px,#006300 36.5px,#006300 62.5px,#176b10 63.5px,#9b936c 64.5px,#f2ada8 65.5px,#ffb0b0 66.5px,#ffb0b0 71.5px,#fea6a6 72.5px,#f87575 73.5px,#db3939 74.5px,#9d4041 75.5px,#5d797e 76.5px,#3ba0b0 77.5px,#30abc8 78.5px,#2889ec 83.5px,#2674f3 86.5px,#2672f3 99.5px)"></i><i style="background:linear-gradient(#cc4545 0.5px,#d24748 14.5px,#f65858 20.5px,#ff9e9e 30.5px,#f6a39e 31.5px,#b49c74 32.5px,#41812a 33.5px,#087005 34.5px,#006e00 39.5px,#016e00 62.5px,#14730d 63.5px,#879059 64.5px,#efa29a 65.5px,#ffa4a4 66.5px,#ffa2a2 71.5px,#fd8d8d 72.5px,#f05959 73.5px,#cd4d4d 74.5px,#9f6d6e 75.5px,#838d94 76.5px,#7797ad 78.5px,#6f68bc 86.5px,#6f67bc 99.5px)"></i><i style="background:linear-gradient(#c32525 0.5px,#c52424 12.5px,#f12525 17.5px,#fe5555 23.5px,#ffb2b2 30.5px,#eab8aa 31.5px,#70af53 32.5px,#18a412 33.5px,#05a005 34.5px,#04a004 62.5px,#11a10d 63.5px,#69a849 64.5px,#e9afa1 65.5px,#ffb0b0 66.5px,#ffacac 72.5px,#f6a3a3 74.5px,#ebaeb1 78.5px,#e9a6b3 99.5px)"></i><i style="background:linear-gradient(#6b5e60 0.5px,#6d5c5e 12.5px,#8d3c3c 14.5px,#cb1a1a 17.5px,#f31d1d 21.5px,#fd4141 25.5px,#ff8989 29.5px,#ff9f9f 30.5px,#e8b0a0 31.5px,#68bb4d 32.5px,#18be14 33.5px,#0cbe0c 35.5px,#0cbe0c 62.5px,#17be14 63.5px,#68ba4c 64.5px,#e8b4a4 65.5px,#ffb3b3 66.5px,#ffb2b2 99.5px)"></i><i style="background:linear-gradient(#34a1ad 0.5px,#35a0ac 12.5px,#46898e 14.5px,#9c2b2b 18.5px,#da1414 21.5px,#f82222 25.5px,#fe4c4c 28.5px,#ff7b7b 30.5px,#e99a88 31.5px,#6bbc48 32.5px,#1cca18 33.5px,#1c1 35.5px,#1c1 62.5px,#1ccb19 63.5px,#6bc24f 64.5px,#e9b6a4 65.5px,#ffb3b3 66.5px,#ffacac 87.5px,#f59d9d 99.5px)"></i><i style="background:linear-gradient(#26b2cb 0.5px,#28b0c6 13.5px,#3d949a 16.5px,#7b4343 19.5px,#af1c1c 21.5px,#e71313 24.5px,#fa2323 27.5px,#ff5a5a 30.5px,#e97a69 31.5px,#69ab3b 32.5px,#19c014 33.5px,#0ec30e 35.5px,#0ec30e 62.5px,#19c215 63.5px,#69bd4d 64.5px,#e9b5a4 65.5px,#ffb3b3 66.5px,#ffafaf 81.5px,#ef8d8d 86.5px,#d2595e 92.5px,#af5b61 99.5px)"></i><i style="background:linear-gradient(#24b4d4 0.5px,#25b3d0 13.5px,#2daab7 16.5px,#438b8d 18.5px,#8d2f2f 21.5px,#c21515 23.5px,#e61212 25.5px,#fa2121 28.5px,#fe4444 30.5px,#e86252 31.5px,#66972d 32.5px,#13b00d 33.5px,#08b308 35.5px,#08b308 62.5px,#13b310 63.5px,#66b349 64.5px,#e8b3a3 65.5px,#ffb3b3 66.5px,#ffb0b0 78.5px,#fb9d9d 80.5px,#db6062 83.5px,#c3565a 84.5px,#7b7383 87.5px,#508ba7 90.5px,#3d99c1 94.5px,#3798c9 99.5px)"></i><i style="background:linear-gradient(#23b4d6 0.5px,#24b4d2 13.5px,#2baebd 16.5px,#3c9598 18.5px,#823636 21.5px,#b91616 23.5px,#e31111 25.5px,#f81c1c 28.5px,#fd3a3a 30.5px,#e75445 31.5px,#628623 32.5px,#0e9e07 33.5px,#02a102 35.5px,#02a102 62.5px,#0ea20b 63.5px,#62a846 64.5px,#e7b2a3 65.5px,#ffb3b3 66.5px,#ffb0b0 76.5px,#f88e8e 78.5px,#d05152 80.5px,#a75559 81.5px,#56879c 83.5px,#4097b8 84.5px,#2b97d9 87.5px,#1f95ef 95.5px,#1f93f1 99.5px)"></i><i style="background:linear-gradient(#24b4d3 0.5px,#25b3cf 13.5px,#2fa8b4 16.5px,#468688 18.5px,#754444 20.5px,#ab1c1c 22.5px,#d91111 24.5px,#f91d1d 28.5px,#fd3939 30.5px,#e75043 31.5px,#617821 32.5px,#0c8b04 33.5px,#008e00 35.5px,#008e00 62.5px,#0c9009 63.5px,#619c44 64.5px,#e7b0a3 65.5px,#ffb3b3 66.5px,#ffb2b2 74.5px,#fea9a9 75.5px,#fa8f8f 76.5px,#ea6060 77.5px,#c54748 78.5px,#8c5c60 79.5px,#58838f 80.5px,#3c9bb5 81.5px,#25a1db 83.5px,#1e8ff4 86.5px,#1d83fa 99.5px)"></i><i style="background:linear-gradient(#27b2ca 0.5px,#28b0c5 13.5px,#3f9196 16.5px,#7f3e3e 19.5px,#b21b1b 21.5px,#e61212 24.5px,#fb2626 28.5px,#fe4141 30.5px,#e75449 31.5px,#616e22 32.5px,#0c7904 33.5px,#007a00 35.5px,#007a00 62.5px,#0c7d08 63.5px,#619044 64.5px,#e7aea3 65.5px,#ffb3b3 66.5px,#ffb1b1 73.5px,#fda1a1 74.5px,#f47272 75.5px,#d54242 76.5px,#994c4e 77.5px,#5b7b84 78.5px,#389eb3 79.5px,#28aacd 80.5px,#1e90f4 84.5px,#1d7ffb 87.5px,#1c7bfd 99.5px)"></i><i style="background:linear-gradient(#3c9eab 0.5px,#3d9da9 12.5px,#4c898e 14.5px,#9e2e2e 18.5px,#da1919 21.5px,#fa2a2a 26.5px,#ff5656 30.5px,#e7645a 31.5px,#616929 32.5px,#0c6805 33.5px,#006700 35.5px,#006700 62.5px,#0c6b08 63.5px,#618444 64.5px,#e7aca2 65.5px,#ffb3b3 66.5px,#ffb0b0 72.5px,#fd9a9a 73.5px,#f05e5e 74.5px,#c63737 75.5px,#805355 76.5px,#478c95 77.5px,#2da9bf 78.5px,#22abdf 80.5px,#1d7afd 86.5px,#1c77fe 99.5px)"></i><i style="background:linear-gradient(#975759 0.5px,#985759 12.5px,#d63535 17.5px,#f54040 21.5px,#ff7f7f 29.5px,#fa8885 30.5px,#cc8970 31.5px,#537330 32.5px,#0a6306 33.5px,#006000 35.5px,#006000 62.5px,#0a6407 63.5px,#587e3d 64.5px,#e6a69d 65.5px,#ffaeae 66.5px,#ffadad 71.5px,#fea1a1 72.5px,#f66464 73.5px,#d43939 74.5px,#974f4f 75.5px,#61868b 76.5px,#49a4b4 77.5px,#3fa8ce 79.5px,#327ff4 86.5px,#327ef5 99.5px)"></i><i style="background:linear-gradient(#d63838 0.5px,#dc3939 12.5px,#fb5858 19.5px,#ffb4b4 29.5px,#e1b4a2 30.5px,#409f2b 31.5px,#0f960a 32.5px,#019201 34.5px,#039303 63.5px,#2d971d 64.5px,#dd9b87 65.5px,#ff9b9b 66.5px,#f99 72.5px,#f78181 74.5px,#dd8c8f 77.5px,#bf94a0 82.5px,#ada9bf 86.5px,#acaac1 99.5px)"></i><i style="background:linear-gradient(#904041 0.5px,#933d3e 11.5px,#d61f1f 15.5px,#f62727 19.5px,#fe5656 24.5px,#ffadad 29.5px,#ddb79f 30.5px,#2ab321 31.5px,#08b208 32.5px,#08b208 63.5px,#2ab11f 64.5px,#ddaf98 65.5px,#ffafaf 66.5px,#f5b3b4 99.5px)"></i><i style="background:linear-gradient(#438e95 0.5px,#458b91 11.5px,#626668 13.5px,#a62727 16.5px,#de1515 19.5px,#f92525 23.5px,#ff5f5f 27.5px,#ff9090 29.5px,#dea990 30.5px,#30c124 31.5px,#0fc50f 32.5px,#0fc50f 63.5px,#30c325 64.5px,#deb69c 65.5px,#ffb3b3 66.5px,#ffacac 92.5px,#fea6a6 99.5px)"></i><i style="background:linear-gradient(#29afc4 0.5px,#2aaec2 11.5px,#3f9197 14.5px,#7c4444 17.5px,#af1e1e 19.5px,#e61313 22.5px,#f92222 25.5px,#ff5252 28.5px,#ff6c6c 29.5px,#dd8f75 30.5px,#2fbb1f 31.5px,#0ec20e 32.5px,#0ec20e 63.5px,#2fc025 64.5px,#ddb59c 65.5px,#ffb3b3 66.5px,#ffaeae 83.5px,#eb8283 92.5px,#e0696c 99.5px)"></i><i style="background:linear-gradient(#24b3d2 0.5px,#26b3cc 12.5px,#33a2ab 15.5px,#507878 17.5px,#833838 19.5px,#b81717 21.5px,#e11111 23.5px,#f81d1d 26.5px,#fe5151 29.5px,#dd725a 30.5px,#2baa16 31.5px,#08b408 32.5px,#08b408 63.5px,#2bb420 64.5px,#ddb39c 65.5px,#ffb3b3 66.5px,#ffb1b1 79.5px,#f99a9a 82.5px,#d25b5f 86.5px,#ae5b62 88.5px,#7b7383 92.5px,#5487a2 99.5px)"></i><i style="background:linear-gradient(#23b4d6 0.5px,#24b3d1 12.5px,#2cacb9 15.5px,#408f91 17.5px,#8a3030 20.5px,#c01515 22.5px,#e51111 24.5px,#fa1f1f 27.5px,#fe4141 29.5px,#dc6049 30.5px,#26990f 31.5px,#03a303 32.5px,#03a303 63.5px,#26a61b 64.5px,#dcb19b 65.5px,#ffb3b3 66.5px,#ffb1b1 77.5px,#fa9898 79.5px,#e05f60 81.5px,#c35154 82.5px,#9c5d63 83.5px,#59869d 85.5px,#4594b6 86.5px,#3097d2 90.5px,#2396e4 99.5px)"></i><i style="background:linear-gradient(#24b4d5 0.5px,#25b3d0 12.5px,#2eaab6 15.5px,#438a8b 17.5px,#734646 19.5px,#aa1c1c 21.5px,#d91111 23.5px,#fa1e1e 27.5px,#fe3d3c 29.5px,#db5743 30.5px,#24880b 31.5px,#019100 32.5px,#019100 63.5px,#249619 64.5px,#dcaf9a 65.5px,#ffb3b3 66.5px,#ffb2b2 75.5px,#fea9a9 76.5px,#fa9393 77.5px,#ec6a6a 78.5px,#ce4b4c 79.5px,#9d5559 80.5px,#697782 81.5px,#4693aa 82.5px,#2c9dd3 84.5px,#1f95ef 87.5px,#1e88f8 99.5px)"></i><i style="background:linear-gradient(#25b3ce 0.5px,#27b2c9 12.5px,#399aa0 15.5px,#5b6868 17.5px,#8e2f2f 19.5px,#c11515 21.5px,#e41212 23.5px,#fb2424 27.5px,#fe4141 29.5px,#db5745 30.5px,#23780c 31.5px,#007f00 32.5px,#007f00 63.5px,#238619 64.5px,#dcac9a 65.5px,#ffb3b3 66.5px,#ffb0b0 74.5px,#fd9f9f 75.5px,#f37272 76.5px,#d54546 77.5px,#9b4e51 78.5px,#5f7982 79.5px,#3c9bb0 80.5px,#23a7dc 82.5px,#1d87f8 86.5px,#1d7dfc 99.5px)"></i><i style="background:linear-gradient(#2daabb 0.5px,#2ea9b9 11.5px,#3c979f 13.5px,#724f4f 16.5px,#a42424 18.5px,#df1313 21.5px,#fb2828 26.5px,#fe4f4e 29.5px,#db5f50 30.5px,#236b0d 31.5px,#006c00 32.5px,#006d00 63.5px,#237619 64.5px,#dba99a 65.5px,#ffb3b3 66.5px,#ffaeae 73.5px,#fc9494 74.5px,#ec5757 75.5px,#be3a3a 76.5px,#795c5f 77.5px,#44909c 78.5px,#2da9c2 79.5px,#21a9e1 81.5px,#1d7efc 86.5px,#1c78fe 99.5px)"></i><i style="background:linear-gradient(#5f7d82 0.5px,#617c80 11.5px,#914849 14.5px,#cb2626 17.5px,#ed2626 20.5px,#fe4e4e 26.5px,#f66e69 29.5px,#c9745c 30.5px,#20640f 31.5px,#006100 32.5px,#006100 63.5px,#216c17 64.5px,#d0a490 65.5px,#fcadac 66.5px,#ffabab 72.5px,#fd9494 73.5px,#ef4f4f 74.5px,#c23434 75.5px,#7e5b5c 76.5px,#4b919a 77.5px,#36abbf 78.5px,#2cacdb 80.5px,#277ef9 86.5px,#277bfa 99.5px)"></i><i style="background:linear-gradient(#da4646 0.5px,#e24d4d 12.5px,#fc6c6c 19.5px,#ffa9a9 27.5px,#f8aca8 28.5px,#c3a784 29.5px,#62963f 30.5px,#0e7e09 31.5px,#007a00 32.5px,#007a00 63.5px,#157f0d 64.5px,#8f9558 65.5px,#f0938b 66.5px,#fe9292 67.5px,#fe8f8f 72.5px,#ef5c5c 74.5px,#d15e5e 75.5px,#929197 77.5px,#7badbe 79.5px,#739bdb 85.5px,#7396de 99.5px)"></i><i style="background:linear-gradient(#b62c2c 0.5px,#ba2a2a 10.5px,#e92020 14.5px,#fc3e3e 19.5px,#ff7b7b 24.5px,#ffabab 27.5px,#f4b5ae 28.5px,#a4b379 29.5px,#24a71b 30.5px,#05a104 31.5px,#03a003 63.5px,#10a10c 64.5px,#68a748 65.5px,#e9ac9e 66.5px,#ffadad 67.5px,#f8a7a7 75.5px,#eab2b8 82.5px,#eaafba 99.5px)"></i><i style="background:linear-gradient(#5b6f72 0.5px,#60696c 10.5px,#b32222 14.5px,#e31616 17.5px,#fa2929 21.5px,#ff5f5f 25.5px,#ff8c8c 27.5px,#f3a29a 28.5px,#a2b270 29.5px,#21b81a 30.5px,#0ab90a 31.5px,#0ab90a 63.5px,#15b812 64.5px,#67b74a 65.5px,#e8b4a4 66.5px,#ffb3b3 67.5px,#ffafaf 99.5px)"></i><i style="background:linear-gradient(#2fa7b6 0.5px,#31a4b3 10.5px,#448b91 12.5px,#9a2c2c 16.5px,#da1313 19.5px,#f92222 23.5px,#fe4e4e 26.5px,#f4827a 28.5px,#a3a561 29.5px,#23bc19 30.5px,#0cbf0c 31.5px,#0cbf0c 63.5px,#18be14 64.5px,#68bb4c 65.5px,#e8b4a4 66.5px,#ffb3b3 67.5px,#ffadad 86.5px,#f08f8f 99.5px)"></i><i style="background:linear-gradient(#26b3ce 0.5px,#26b2cc 10.5px,#33a2ad 13.5px,#4d7c7e 15.5px,#982929 18.5px,#ca1414 20.5px,#e81313 22.5px,#fa2525 25.5px,#fe4848 27.5px,#f3625a 28.5px,#a18c4b 29.5px,#1fae13 30.5px,#08b408 31.5px,#08b408 63.5px,#14b410 64.5px,#66b449 65.5px,#e8b3a3 66.5px,#ffb3b3 67.5px,#ffb0b0 81.5px,#f39393 85.5px,#d25a5e 90.5px,#ad5c63 94.5px,#92646f 99.5px)"></i><i style="background:linear-gradient(#24b4d5 0.5px,#25b3cf 11.5px,#30a7b2 14.5px,#488384 16.5px,#7a3f3f 18.5px,#b11919 20.5px,#de1111 22.5px,#fb2525 26.5px,#fd3636 27.5px,#f34e46 28.5px,#9f773a 29.5px,#1a9e0c 30.5px,#03a403 31.5px,#03a403 63.5px,#0fa50b 64.5px,#63aa46 65.5px,#e8b2a3 66.5px,#ffb3b3 67.5px,#ffb2b2 78.5px,#fca0a0 80.5px,#db5e60 83.5px,#c15458 84.5px,#6c7b8e 87.5px,#4396b8 90.5px,#3197d0 98.5px,#3097d1 99.5px)"></i><i style="background:linear-gradient(#23b4d6 0.5px,#25b3d0 11.5px,#2ea9b6 14.5px,#44898a 16.5px,#754444 18.5px,#ac1a1a 20.5px,#db1111 22.5px,#fa2020 26.5px,#fc2f2f 27.5px,#f2443d 28.5px,#9e6a32 29.5px,#188e08 30.5px,#019300 31.5px,#009300 63.5px,#0c9509 64.5px,#61a044 65.5px,#e7b0a3 66.5px,#ffb3b3 67.5px,#ffb2b2 76.5px,#fb9a9a 78.5px,#db5656 80.5px,#b44e51 81.5px,#5a8495 83.5px,#4197b5 84.5px,#2897dd 87.5px,#1f92f1 94.5px,#1e8ff4 99.5px)"></i><i style="background:linear-gradient(#24b3d2 0.5px,#26b2cb 11.5px,#35a0a7 14.5px,#547172 16.5px,#873434 18.5px,#bb1616 20.5px,#e21111 22.5px,#fb2424 26.5px,#fd3131 27.5px,#f2443e 28.5px,#9e6231 29.5px,#187d08 30.5px,#008200 31.5px,#008200 63.5px,#0c8408 64.5px,#619544 65.5px,#e7afa3 66.5px,#ffb3b3 67.5px,#ffb0b0 75.5px,#fda0a0 76.5px,#f47777 77.5px,#da4c4c 78.5px,#a64c4e 79.5px,#6b727a 80.5px,#4394a8 81.5px,#27a4d7 83.5px,#1e90f3 86.5px,#1d81fb 99.5px)"></i><i style="background:linear-gradient(#28b1c7 0.5px,#29b0c5 10.5px,#3d9499 13.5px,#7b4343 16.5px,#ad1d1d 18.5px,#e41212 21.5px,#fa2424 25.5px,#fe3c3c 27.5px,#f34c47 28.5px,#9e6136 29.5px,#186f08 30.5px,#007100 31.5px,#007100 63.5px,#0c7408 64.5px,#618a44 65.5px,#e7ada3 66.5px,#ffb3b3 67.5px,#ffadad 74.5px,#fb9191 75.5px,#ea5757 76.5px,#bd3e3e 77.5px,#795f63 78.5px,#46909c 79.5px,#2ea7c1 80.5px,#21a7e2 82.5px,#1d7ffb 87.5px,#1c7afd 99.5px)"></i><i style="background:linear-gradient(#459ca5 0.5px,#4799a1 10.5px,#5f7779 12.5px,#9f3434 15.5px,#da1e1e 18.5px,#f72727 22.5px,#fe5655 27.5px,#ef625b 28.5px,#98683f 29.5px,#17630a 30.5px,#006200 31.5px,#006200 63.5px,#0c6608 64.5px,#617e41 65.5px,#e7a59c 66.5px,#feacac 67.5px,#fea7a7 73.5px,#fb8787 74.5px,#e54444 75.5px,#ae3738 76.5px,#67696c 77.5px,#3a9ba8 78.5px,#29aec9 79.5px,#20a1e8 82.5px,#1d79fd 87.5px,#1c77fe 99.5px)"></i><i style="background:linear-gradient(#b45c5d 0.5px,#b85c5d 10.5px,#df4949 14.5px,#fb5f5f 20.5px,#fa9492 27.5px,#d3927c 28.5px,#0f6c08 30.5px,#006800 31.5px,#006800 63.5px,#0c6a07 64.5px,#607736 65.5px,#e58a81 66.5px,#fd8e8e 67.5px,#fd8d8d 72.5px,#fc8181 73.5px,#f14e4e 74.5px,#c93939 75.5px,#895f5f 76.5px,#5a969c 77.5px,#48aebf 78.5px,#40a9dd 81.5px,#3c80f3 87.5px,#3c7ff3 99.5px)"></i><i style="background:linear-gradient(#cf2b2b 0.5px,#d32b2b 9.5px,#f63535 14.5px,#ff8080 22.5px,#ffb0b0 26.5px,#f4b6af 27.5px,#a6ad79 28.5px,#25971a 29.5px,#039002 30.5px,#018f01 63.5px,#0d9109 64.5px,#619a42 65.5px,#e7a99c 66.5px,#feacac 67.5px,#fea9a9 73.5px,#f59e9e 75.5px,#e1b2b5 78.5px,#dfaabc 99.5px)"></i><i style="background:linear-gradient(#7d4d4e 0.5px,#7e4c4d 8.5px,#973737 10.5px,#d11b1b 13.5px,#f42121 17.5px,#fe5353 22.5px,#ff9e9e 26.5px,#f3aea6 27.5px,#a0b273 28.5px,#1cab16 29.5px,#05aa05 30.5px,#05aa05 63.5px,#11aa0d 64.5px,#64ad47 65.5px,#e8b2a3 66.5px,#ffb3b3 67.5px,#ffb3b3 99.5px)"></i><i style="background:linear-gradient(#3a99a3 0.5px,#3e939b 9.5px,#725253 12.5px,#b81d1d 15.5px,#e71515 18.5px,#fb2e2e 22.5px,#ff6060 25.5px,#f3948c 27.5px,#a2ac6a 28.5px,#20b718 29.5px,#0ab80a 30.5px,#0ab80a 63.5px,#15b812 64.5px,#67b64a 65.5px,#e8b4a4 66.5px,#ffb3b3 67.5px,#ffacac 90.5px,#fba2a2 99.5px)"></i><i style="background:linear-gradient(#27b1c8 0.5px,#29b0c5 9.5px,#3e9399 12.5px,#7b4343 15.5px,#af1d1d 17.5px,#e61313 20.5px,#f92222 23.5px,#ff5656 26.5px,#f3736b 27.5px,#a19756 28.5px,#1eae14 29.5px,#08b207 30.5px,#07b207 63.5px,#13b20f 64.5px,#65b249 65.5px,#e8b3a3 66.5px,#ffb3b3 67.5px,#ffaeae 83.5px,#ee8b8b 89.5px,#da6064 96.5px,#cf575c 99.5px)"></i><i style="background:linear-gradient(#24b4d3 0.5px,#26b2cb 10.5px,#35a0a8 13.5px,#547272 15.5px,#833 17.5px,#bd1616 19.5px,#e41111 21.5px,#f91f1f 24.5px,#fe3f3f 26.5px,#f35951 27.5px,#9f8042 28.5px,#1a9f0d 29.5px,#03a403 30.5px,#03a403 63.5px,#0fa50b 64.5px,#63aa46 65.5px,#e8b2a3 66.5px,#ffb3b3 67.5px,#ffadad 80.5px,#f18888 83.5px,#db6265 85.5px,#c7575c 86.5px,#7b7383 90.5px,#4d8eab 95.5px,#4297ba 99.5px)"></i><i style="background:linear-gradient(#23b4d6 0.5px,#25b3cf 10.5px,#2fa8b3 13.5px,#468586 15.5px,#784040 17.5px,#af1919 19.5px,#de1111 21.5px,#fb2424 25.5px,#fd3434 26.5px,#f34a43 27.5px,#9e6f37 28.5px,#188f09 29.5px,#019400 30.5px,#009500 63.5px,#0c9609 64.5px,#61a044 65.5px,#e7b1a3 66.5px,#ffb3b3 67.5px,#ffb2b2 77.5px,#fc9d9d 79.5px,#e36162 81.5px,#c54f52 82.5px,#9c5b61 83.5px,#5489a1 85.5px,#4196ba 86.5px,#2c97d9 90.5px,#2097ec 99.5px)"></i><i style="background:linear-gradient(#24b4d4 0.5px,#26b3cd 10.5px,#32a3ac 13.5px,#4f7979 15.5px,#823838 17.5px,#b71717 19.5px,#e11111 21.5px,#fb2424 25.5px,#fd3232 26.5px,#f24640 27.5px,#9e6533 28.5px,#188008 29.5px,#008400 30.5px,#008400 63.5px,#0c8608 64.5px,#619644 65.5px,#e7afa3 66.5px,#ffb3b3 67.5px,#ffafaf 76.5px,#fd9e9e 77.5px,#f37777 78.5px,#da5050 79.5px,#ab4d4f 80.5px,#736e76 81.5px,#4b8fa1 82.5px,#369ebf 83.5px,#2099eb 86.5px,#1d86f8 97.5px,#1d86f9 99.5px)"></i><i style="background:linear-gradient(#26b2cc 0.5px,#27b2ca 9.5px,#369ea6 12.5px,#557172 14.5px,#873636 16.5px,#b91818 18.5px,#e01212 20.5px,#fa2020 24.5px,#fd3939 26.5px,#f34a45 27.5px,#9e6135 28.5px,#187208 29.5px,#007400 30.5px,#007400 63.5px,#0c7708 64.5px,#618c44 65.5px,#e7ada3 66.5px,#ffb3b3 67.5px,#ffb2b2 74.5px,#fea9a9 75.5px,#f98989 76.5px,#e55252 77.5px,#b54243 78.5px,#73676c 79.5px,#4592a1 80.5px,#2fa5c3 81.5px,#21a5e3 83.5px,#1d81fa 88.5px,#1d7cfc 99.5px)"></i><i style="background:linear-gradient(#35a4b3 0.5px,#37a1ae 9.5px,#4b868b 11.5px,#893a3a 14.5px,#b81c1c 16.5px,#e71616 19.5px,#fb2828 23.5px,#fe4b4b 26.5px,#f35a55 27.5px,#9e653f 28.5px,#18640a 29.5px,#006400 30.5px,#006400 63.5px,#0c6808 64.5px,#618244 65.5px,#e7aca3 66.5px,#ffb3b3 67.5px,#ffb2b2 73.5px,#fea5a5 74.5px,#f67777 75.5px,#d93d3d 76.5px,#9a4445 77.5px,#597a80 78.5px,#34a1b3 79.5px,#27aece 80.5px,#1f94f2 84.5px,#1d7afd 88.5px,#1c78fe 99.5px)"></i><i style="background:linear-gradient(#806568 0.5px,#846163 9.5px,#c02c2c 13.5px,#e72929 16.5px,#fd4c4c 22.5px,#ff7676 26.5px,#f17f7a 27.5px,#93764d 28.5px,#165f0b 29.5px,#005a00 30.5px,#005a00 63.5px,#0c5f08 64.5px,#617c43 65.5px,#e7aaa1 66.5px,#ffb2b2 67.5px,#ffb2b2 72.5px,#faa 73.5px,#f97b7b 74.5px,#df3f3f 75.5px,#a44444 76.5px,#667c7f 77.5px,#45a4b1 78.5px,#3aafc9 79.5px,#3288ef 85.5px,#317af4 88.5px,#3178f4 99.5px)"></i><i style="background:linear-gradient(#da3a3b 0.5px,#df3b3c 9.5px,#f75050 14.5px,#ffb2b2 26.5px,#e4b0a3 27.5px,#528f39 28.5px,#097806 29.5px,#007400 31.5px,#007400 63.5px,#0c7708 64.5px,#618941 65.5px,#e7a69b 66.5px,#ffabaa 67.5px,#fea4a4 73.5px,#f98585 74.5px,#e77878 75.5px,#b6a0a3 77.5px,#acaab6 79.5px,#a98cc0 88.5px,#a98cc0 99.5px)"></i><i style="background:linear-gradient(#a33334 0.5px,#a53232 8.5px,#df1e1e 12.5px,#fa3434 17.5px,#ff6d6d 22.5px,#ffb0b0 26.5px,#ddb5a0 27.5px,#2aa01f 28.5px,#039902 29.5px,#019801 63.5px,#0d9a0a 64.5px,#62a244 65.5px,#e7afa1 66.5px,#ffb2b2 67.5px,#f6b1b1 77.5px,#f4adb4 99.5px)"></i><i style="background:linear-gradient(#4d8185 0.5px,#4f7e82 8.5px,#6f5859 10.5px,#b32121 13.5px,#e31515 16.5px,#fa2929 20.5px,#ff6464 24.5px,#ff9595 26.5px,#dca991 27.5px,#29ad1d 28.5px,#06ad06 29.5px,#06ad06 63.5px,#12ae0e 64.5px,#65b048 65.5px,#e8b3a3 66.5px,#ffb3b3 67.5px,#ffabab 99.5px)"></i><i style="background:linear-gradient(#2cacbe 0.5px,#2cabbc 8.5px,#399aa3 10.5px,#6d5556 13.5px,#9f2828 15.5px,#dd1313 18.5px,#fa2525 22.5px,#ff5656 25.5px,#ff7070 26.5px,#dc8f78 27.5px,#29aa19 28.5px,#06af06 29.5px,#06af06 63.5px,#12af0e 64.5px,#65b048 65.5px,#e8b3a3 66.5px,#ffb3b3 67.5px,#ffadad 85.5px,#e97e80 99.5px)"></i><i style="background:linear-gradient(#25b3d0 0.5px,#26b2cb 9.5px,#369ea7 12.5px,#547272 14.5px,#883535 16.5px,#bc1717 18.5px,#e31212 20.5px,#f81e1e 23.5px,#fe5353 26.5px,#dc725c 27.5px,#269c12 28.5px,#03a303 29.5px,#03a403 63.5px,#0ea40b 64.5px,#62aa46 65.5px,#e7b2a3 66.5px,#ffb3b3 67.5px,#ffaeae 81.5px,#ee8787 85.5px,#c7565b 89.5px,#8e6672 94.5px,#757989 99.5px)"></i><i style="background:linear-gradient(#23b4d5 0.5px,#24b3d1 9.5px,#2cacba 12.5px,#409092 14.5px,#893131 17.5px,#bf1515 19.5px,#e51111 21.5px,#fa1f1f 24.5px,#fe4141 26.5px,#db5e49 27.5px,#248d0d 28.5px,#019500 29.5px,#009500 63.5px,#0c9709 64.5px,#61a144 65.5px,#e7b1a3 66.5px,#ffb3b3 67.5px,#ffb1b1 78.5px,#fb9d9d 80.5px,#e66a6a 82.5px,#d05557 83.5px,#b0565b 84.5px,#5588a2 87.5px,#3e98bf 89.5px,#2a97db 99.5px)"></i><i style="background:linear-gradient(#23b4d5 0.5px,#24b3d1 9.5px,#2cacb9 12.5px,#409092 14.5px,#893131 17.5px,#bf1515 19.5px,#e41111 21.5px,#f91d1d 24.5px,#fd3b3b 26.5px,#db5441 27.5px,#237e0b 28.5px,#008600 29.5px,#008600 63.5px,#0c8808 64.5px,#619744 65.5px,#e7afa3 66.5px,#ffb3b3 67.5px,#ffb2b2 76.5px,#fb9696 78.5px,#ef7070 79.5px,#d55051 80.5px,#a85155 81.5px,#4f8ca0 83.5px,#3b9abc 84.5px,#2497e4 87.5px,#1e8ef4 95.5px,#1e8cf6 99.5px)"></i><i style="background:linear-gradient(#25b3d0 0.5px,#26b2cb 9.5px,#34a0a9 12.5px,#527475 14.5px,#853636 16.5px,#b91717 18.5px,#e01111 20.5px,#fa2121 24.5px,#fe3e3e 26.5px,#db5342 27.5px,#23710b 28.5px,#070 29.5px,#070 63.5px,#0c7a08 64.5px,#618e44 65.5px,#e7aea3 66.5px,#ffb3b3 67.5px,#ffb0b0 75.5px,#fd9f9f 76.5px,#f47474 77.5px,#d74849 78.5px,#a04d50 79.5px,#64767e 80.5px,#3f98ac 81.5px,#25a6da 83.5px,#1e89f7 87.5px,#1d7ffb 99.5px)"></i><i style="background:linear-gradient(#29afc3 0.5px,#2aaec2 8.5px,#35a0aa 10.5px,#4f7b7d 12.5px,#962c2c 15.5px,#c51616 17.5px,#ec1414 20.5px,#fc2e2e 24.5px,#fe4949 26.5px,#db5a4b 27.5px,#23660d 28.5px,#006800 29.5px,#006800 63.5px,#0c6b08 64.5px,#618544 65.5px,#e7aca3 66.5px,#ffb3b3 67.5px,#ffaeae 74.5px,#fb9393 75.5px,#eb5757 76.5px,#bd3c3c 77.5px,#795e61 78.5px,#45909c 79.5px,#2da8c2 80.5px,#21a8e1 82.5px,#1d7efc 87.5px,#1c79fd 99.5px)"></i><i style="background:linear-gradient(#4f9097 0.5px,#508e95 8.5px,#686f71 10.5px,#a63232 13.5px,#dd2121 16.5px,#fa3131 21.5px,#fe6565 26.5px,#d96e5f 27.5px,#235f10 28.5px,#005b00 29.5px,#005b00 63.5px,#0c5f08 64.5px,#617c43 65.5px,#e7a9a0 66.5px,#ffb0b0 67.5px,#ffadad 73.5px,#fc8f8f 74.5px,#eb4a4a 75.5px,#b93535 76.5px,#746163 77.5px,#45949f 78.5px,#33a9c0 79.5px,#2a9ddf 82.5px,#2675f3 87.5px,#2672f3 99.5px)"></i><i style="background:linear-gradient(#cc4545 0.5px,#cd4546 8.5px,#f35252 14.5px,#ff9f9f 25.5px,#faa5a3 26.5px,#c49c82 27.5px,#1f6c15 28.5px,#006300 29.5px,#006300 63.5px,#0c6608 64.5px,#617c3e 65.5px,#e79e95 66.5px,#ffa4a4 67.5px,#ffa4a4 72.5px,#fe9b9b 73.5px,#f86a6a 74.5px,#de4b4b 75.5px,#b15c5d 76.5px,#8b8387 77.5px,#7c95a1 78.5px,#7487b4 82.5px,#6f68bc 87.5px,#6f67bc 99.5px)"></i><i style="background:linear-gradient(#c32525 0.5px,#c92323 8.5px,#ef2424 12.5px,#fe5151 18.5px,#ffafaf 25.5px,#f4b6b0 26.5px,#a4ab79 27.5px,#198f13 28.5px,#008900 29.5px,#008900 63.5px,#0c8b09 64.5px,#619843 65.5px,#e7ada0 66.5px,#ffb0b0 67.5px,#ffafaf 73.5px,#f9a2a2 75.5px,#ebaeb1 79.5px,#e9a6b3 99.5px)"></i><i style="background:linear-gradient(#6b5e60 0.5px,#6c5d5f 7.5px,#735557 8.5px,#b12424 11.5px,#e11717 14.5px,#f92828 18.5px,#ff5959 22.5px,#ff9897 25.5px,#f3a9a2 26.5px,#9fad71 27.5px,#1aa313 28.5px,#02a102 29.5px,#02a102 63.5px,#0ea20b 64.5px,#62a845 65.5px,#e7b2a3 66.5px,#ffb3b3 67.5px,#ffb2b2 99.5px)"></i><i style="background:linear-gradient(#34a1ad 0.5px,#379ca7 8.5px,#507b7e 10.5px,#933232 13.5px,#d41414 16.5px,#f71f1f 20.5px,#fe4545 23.5px,#ff7171 25.5px,#f38d85 26.5px,#a0a465 27.5px,#1caa14 28.5px,#05ab05 29.5px,#05ab05 63.5px,#10ab0d 64.5px,#64ae47 65.5px,#e8b3a3 66.5px,#ffb3b3 67.5px,#ffacac 88.5px,#f69e9e 99.5px)"></i><i style="background:linear-gradient(#26b2cb 0.5px,#27b1c8 8.5px,#399aa2 11.5px,#596c6d 13.5px,#8c3333 15.5px,#be1717 17.5px,#e31212 19.5px,#f81f1f 22.5px,#ff5151 25.5px,#f36c65 26.5px,#9f8d50 27.5px,#1aa00e 28.5px,#02a302 29.5px,#02a302 63.5px,#0ea30a 64.5px,#62a945 65.5px,#e7b2a3 66.5px,#ffb3b3 67.5px,#ffafaf 82.5px,#f08e8f 87.5px,#d35a5e 93.5px,#b3595f 99.5px)"></i><i style="background:linear-gradient(#24b4d4 0.5px,#26b3cd 9.5px,#33a3ac 12.5px,#4f7879 14.5px,#833737 16.5px,#b91717 18.5px,#e21111 20.5px,#f81d1d 23.5px,#fe3c3c 25.5px,#f3554d 26.5px,#9e773f 27.5px,#18920a 28.5px,#009600 29.5px,#009600 63.5px,#0c9709 64.5px,#61a144 65.5px,#e7b1a3 66.5px,#ffb3b3 67.5px,#ffb0b0 79.5px,#f48d8d 82.5px,#dd6264 84.5px,#c6565a 85.5px,#7d7281 88.5px,#518aa6 91.5px,#3d98c0 95.5px,#3898c7 99.5px)"></i><i style="background:linear-gradient(#23b4d6 0.5px,#25b3cf 9.5px,#2fa8b3 12.5px,#478586 14.5px,#784040 16.5px,#b01919 18.5px,#de1111 20.5px,#fb2323 24.5px,#fd3333 25.5px,#f24842 26.5px,#9e6935 27.5px,#188308 28.5px,#008700 29.5px,#008700 63.5px,#0c8a08 64.5px,#619844 65.5px,#e7afa3 66.5px,#ffb3b3 67.5px,#ffb1b1 77.5px,#f99292 79.5px,#d45354 81.5px,#ad5256 82.5px,#5a8598 84.5px,#4296b6 85.5px,#2c97d8 88.5px,#1f95ef 96.5px,#1f93f1 99.5px)"></i><i style="background:linear-gradient(#24b4d3 0.5px,#26b3cc 9.5px,#34a0a8 12.5px,#537273 14.5px,#873434 16.5px,#bb1616 18.5px,#e21111 20.5px,#fb2525 24.5px,#fd3333 25.5px,#f24640 26.5px,#9e6133 27.5px,#187608 28.5px,#007900 29.5px,#007900 63.5px,#0c7c08 64.5px,#618f44 65.5px,#e7aea3 66.5px,#ffb3b3 67.5px,#ffb2b2 75.5px,#feabab 76.5px,#fb9494 77.5px,#ec6666 78.5px,#cb4748 79.5px,#93575b 80.5px,#5d7e89 81.5px,#3e99b2 82.5px,#26a1da 84.5px,#1e90f3 87.5px,#1d83fa 99.5px)"></i><i style="background:linear-gradient(#27b2ca 0.5px,#28b1c7 8.5px,#3a989e 11.5px,#764848 14.5px,#a91f1f 16.5px,#e31212 19.5px,#fa2323 23.5px,#fe3c3c 25.5px,#f34c47 26.5px,#9e5f37 27.5px,#186a09 28.5px,#006b00 29.5px,#006b00 63.5px,#0c6f08 64.5px,#618744 65.5px,#e7ada3 66.5px,#ffb3b3 67.5px,#ffb2b2 74.5px,#fea4a4 75.5px,#f67a7a 76.5px,#da4546 77.5px,#a1484a 78.5px,#61767d 79.5px,#3b9bae 80.5px,#2aa9cb 81.5px,#1f9aed 84.5px,#1d80fb 88.5px,#1d7bfd 99.5px)"></i><i style="background:linear-gradient(#3c9eab 0.5px,#3f9ba5 8.5px,#567c7f 10.5px,#963434 13.5px,#d51919 16.5px,#f62121 20.5px,#ff5151 25.5px,#f35f5a 26.5px,#9e6542 27.5px,#185e0a 28.5px,#005d00 29.5px,#005d00 63.5px,#0c6108 64.5px,#617e44 65.5px,#e7aba2 66.5px,#ffb3b3 67.5px,#ffb1b1 73.5px,#fd9e9e 74.5px,#f26565 75.5px,#cd3737 76.5px,#894d4f 77.5px,#4c868e 78.5px,#2fa7bc 79.5px,#25b0d2 80.5px,#1e8af7 85.5px,#1c79fd 88.5px,#1c77fe 99.5px)"></i><i style="background:linear-gradient(#8b5b5d 0.5px,#915557 8.5px,#cd2f2f 12.5px,#f23535 16.5px,#ff7d7d 25.5px,#f38581 26.5px,#9e785a 27.5px,#18570e 28.5px,#005100 29.5px,#005100 63.5px,#0c5508 64.5px,#617644 65.5px,#e7a9a1 66.5px,#ffb2b2 67.5px,#ffb2b2 72.5px,#fea7a7 73.5px,#f76565 74.5px,#d42c2c 75.5px,#8d4041 76.5px,#4d8287 77.5px,#2ea8b9 78.5px,#22afda 80.5px,#1d7dfc 86.5px,#1c75ff 99.5px)"></i></div>
<div class="cb" style="left:27px;top:282.9px;background:repeating-linear-gradient(90deg,rgba(0,0,0,0.38) 0 1px,rgba(0,0,0,0) 1px 17.2px),linear-gradient(90deg,rgb(0,0,40) 0.00px,rgb(0,5,90) 5.16px,rgb(4,18,170) 10.32px,rgb(10,34,220) 15.48px,rgb(16,58,242) 22.36px,rgb(22,86,252) 30.96px,rgb(28,116,255) 41.28px,rgb(30,143,246) 49.88px,rgb(32,165,230) 58.48px,rgb(35,180,215) 65.36px,rgb(40,178,195) 71.38px,rgb(60,150,150) 75.68px,rgb(110,70,70) 79.12px,rgb(165,25,25) 82.56px,rgb(225,15,15) 86.86px,rgb(250,25,25) 94.60px,rgb(255,70,70) 103.20px,rgb(255,118,118) 111.80px,rgb(255,165,165) 118.68px,rgb(255,200,200) 125.39px,rgb(0,40,0) 125.56px,rgb(0,58,0) 137.60px,rgb(0,80,0) 154.80px,rgb(0,105,0) 172.00px,rgb(0,130,0) 189.20px,rgb(0,158,0) 206.40px,rgb(10,185,10) 223.60px,rgb(20,212,20) 240.80px,rgb(40,238,40) 258.00px)"></div>
<div class="h" style="left:28px;top:307px"><i style="background:linear-gradient(#25b3ce 0.5px,#2aaec5 4.5px,#35a3b6 5.5px,#5d797f 6.5px,#b62d2e 7.5px,#f02424 8.5px,#fd3535 10.5px,#ff6060 15.5px,#ffb1b1 20.5px,#febebe 22.5px,#f4bcb9 23.5px,#b69d8b 24.5px,#2d5823 25.5px,#044803 26.5px,#080 42.5px,#008100 67.5px,#004900 80.5px,#0e4a0b 81.5px,#6d7753 82.5px,#e9b7b2 83.5px,#ffc0c0 84.5px,#ffabab 87.5px,#ff5858 92.5px,#fc2e2e 98.5px,#fc2b2b 99.5px)"></i><i style="background:linear-gradient(#31aac2 0.5px,#439caf 3.5px,#588794 4.5px,#82646b 5.5px,#b93d3e 6.5px,#e82929 7.5px,#fa2e2e 8.5px,#ff5e5e 14.5px,#ffb0b0 19.5px,#febdbd 21.5px,#f5bcb9 22.5px,#bda190 23.5px,#426333 24.5px,#0a4c08 25.5px,#005200 27.5px,#008b00 41.5px,#008600 67.5px,#054704 81.5px,#3d5e2e 82.5px,#dbb0a7 83.5px,#fec0c0 84.5px,#ffaeae 87.5px,#ff5b5b 92.5px,#fd3333 97.5px,#fc2c2c 99.5px)"></i><i style="background:linear-gradient(#81717c 0.5px,#cb3c3f 3.5px,#f43030 6.5px,#ff4b4b 11.5px,#ff8080 15.5px,#ffb0b0 18.5px,#febdbd 20.5px,#f2bab7 21.5px,#bca090 22.5px,#426433 23.5px,#0a4c08 24.5px,#005300 26.5px,#008f00 40.5px,#008b00 67.5px,#014801 81.5px,#1f5118 82.5px,#b69d8b 83.5px,#f7bebc 84.5px,#ffb9b9 86.5px,#ff9494 89.5px,#ff5f5f 92.5px,#fd3535 97.5px,#fc2d2d 99.5px)"></i><i style="background:linear-gradient(#ea3a3c 0.5px,#fd3b3b 5.5px,#ff6363 11.5px,#ffb3b3 17.5px,#f5b9b7 19.5px,#dfb1a9 20.5px,#a89680 21.5px,#3f6330 22.5px,#0a4e08 23.5px,#050 25.5px,#009300 39.5px,#008f00 67.5px,#004900 81.5px,#184f13 82.5px,#a1927b 83.5px,#f4bcb9 84.5px,#fbb 86.5px,#f99 89.5px,#ff5656 93.5px,#fc2e2e 99.5px)"></i><i style="background:linear-gradient(#fe4e4e 0.5px,#ff6c6c 7.5px,#ffb5b5 15.5px,#f5b9b7 17.5px,#dfb0a8 18.5px,#ab9882 19.5px,#546d40 20.5px,#1f5718 21.5px,#075105 22.5px,#009500 37.5px,#009100 67.5px,#004900 81.5px,#194f13 82.5px,#a79580 83.5px,#f5bcba 84.5px,#ffbaba 86.5px,#ff9a9a 89.5px,#ff5858 93.5px,#fd3131 99.5px)"></i><i style="background:linear-gradient(#ff5e5e 0.5px,#ff8080 6.5px,#ffb5b5 12.5px,#f5bab8 15.5px,#dfb1a9 16.5px,#ab9882 17.5px,#546d40 18.5px,#205818 19.5px,#0a5307 20.5px,#006000 23.5px,#009700 35.5px,#009200 67.5px,#024801 81.5px,#2a5620 82.5px,#d5ada3 83.5px,#fdc1c0 84.5px,#ffacac 88.5px,#ff5c5c 94.5px,#fe4040 99.5px)"></i><i style="background:linear-gradient(#ff4a4a 0.5px,#ff6c6c 5.5px,#ffaeae 10.5px,#fcbdbc 13.5px,#e3b3ac 14.5px,#ac9883 15.5px,#546d40 16.5px,#205818 17.5px,#0a5307 18.5px,#006100 21.5px,#090 33.5px,#009700 66.5px,#004d00 80.5px,#0a4b08 81.5px,#586d44 82.5px,#e5b6af 83.5px,#ffc1c1 84.5px,#ffadad 89.5px,#f66 97.5px,#ff5e5e 99.5px)"></i><i style="background:linear-gradient(#fe3d3d 0.5px,#ff6a6a 5.5px,#ffacac 9.5px,#fdbebe 12.5px,#ddb0a8 13.5px,#6b7752 14.5px,#23571a 15.5px,#0a5107 16.5px,#005f00 19.5px,#009a00 32.5px,#009800 66.5px,#004e00 80.5px,#0a4c08 81.5px,#546c40 82.5px,#cda99c 83.5px,#efbab6 84.5px,#ffbebe 86.5px,#ff9e9e 92.5px,#ff7070 98.5px,#ff6c6c 99.5px)"></i><i style="background:linear-gradient(#fe3c3c 0.5px,#ff6161 4.5px,#ffb2b2 9.5px,#ffbfbf 11.5px,#f0bab7 12.5px,#91896f 13.5px,#1e5217 14.5px,#024b01 15.5px,#009a00 30.5px,#009600 68.5px,#025201 81.5px,#10530d 82.5px,#3d642f 83.5px,#d6ada3 85.5px,#f2bab6 86.5px,#ffbaba 88.5px,#ff9b9b 92.5px,#ff6464 97.5px,#ff5959 99.5px)"></i><i style="background:linear-gradient(#fe3e3e 0.5px,#ff6464 4.5px,#ffabab 8.5px,#ffc0c0 11.5px,#eab7b2 12.5px,#6f7855 13.5px,#0f4c0b 14.5px,#004c00 15.5px,#009a00 30.5px,#009500 70.5px,#065304 83.5px,#175511 84.5px,#416532 85.5px,#9a8f75 86.5px,#dcb0a7 87.5px,#f5bab7 88.5px,#ffb4b4 90.5px,#ff8e8e 93.5px,#ff5757 97.5px,#ff4848 99.5px)"></i><i style="background:linear-gradient(#fe3c3c 0.5px,#ff6161 4.5px,#ffb3b3 9.5px,#ffbfbf 11.5px,#f3bcb9 12.5px,#9f9179 13.5px,#1b5014 14.5px,#014a01 15.5px,#009800 30.5px,#009300 72.5px,#065205 85.5px,#1c5816 86.5px,#536e40 87.5px,#ab9882 88.5px,#dfb0a8 89.5px,#f5b8b6 90.5px,#ffafaf 92.5px,#f55 98.5px,#ff4d4d 99.5px)"></i><i style="background:linear-gradient(#fe3a3a 0.5px,#ff5c5c 4.5px,#ffafaf 9.5px,#fdc0c0 12.5px,#d8aea5 13.5px,#3c5f2e 14.5px,#054904 15.5px,#009700 31.5px,#009100 74.5px,#015501 86.5px,#0a5307 87.5px,#205818 88.5px,#546d40 89.5px,#ae9984 90.5px,#efb8b4 91.5px,#febcbb 92.5px,#ffa0a0 95.5px,#ff5f5f 99.5px)"></i><i style="background:linear-gradient(#fd3838 0.5px,#ff6565 5.5px,#ffabab 9.5px,#ffc0c0 12.5px,#ebb8b3 13.5px,#727a58 14.5px,#0f4c0c 15.5px,#004b00 16.5px,#009500 31.5px,#008f00 75.5px,#014e01 88.5px,#0d4e0a 89.5px,#446434 90.5px,#c5a496 91.5px,#f9bebc 92.5px,#ffafaf 95.5px,#ff6c6c 99.5px)"></i><i style="background:linear-gradient(#fe3d3d 0.5px,#ff6868 5.5px,#faa 9.5px,#ffbfbf 12.5px,#f2bbb8 13.5px,#988d75 14.5px,#174e11 15.5px,#004900 16.5px,#009100 31.5px,#008e00 74.5px,#044b03 88.5px,#27571e 89.5px,#988e74 90.5px,#ecb8b3 91.5px,#febebe 92.5px,#ffa8a8 95.5px,#ff6464 99.5px)"></i><i style="background:linear-gradient(#f55 0.5px,#ff8181 5.5px,#ffb2b2 9.5px,#ffc0c0 12.5px,#f2bcb9 13.5px,#9b8f77 14.5px,#174e12 15.5px,#004800 16.5px,#008e00 31.5px,#008b00 73.5px,#044b03 87.5px,#27571e 88.5px,#978e74 89.5px,#e9b6b1 90.5px,#fdbebe 91.5px,#ffa8a8 94.5px,#ff5858 99.5px)"></i><i style="background:linear-gradient(#ff6e6e 0.5px,#ffb8b8 9.5px,#ffc1c1 12.5px,#efbab6 13.5px,#134c0f 15.5px,#004800 16.5px,#008a00 31.5px,#008700 72.5px,#044a03 86.5px,#27571e 87.5px,#978e74 88.5px,#e9b6b1 89.5px,#fdbebe 90.5px,#ffa9a9 93.5px,#ff5858 98.5px,#ff4e4e 99.5px)"></i><i style="background:linear-gradient(#ff5f5f 0.5px,#ff8e8e 5.5px,#ffb6b6 9.5px,#ffc1c1 12.5px,#e8b7b1 13.5px,#67734f 14.5px,#0d490a 15.5px,#004800 16.5px,#008500 31.5px,#007f00 72.5px,#034903 85.5px,#27571e 86.5px,#978e74 87.5px,#e9b7b1 88.5px,#fdbfbe 89.5px,#ffa2a2 93.5px,#ff6161 97.5px,#ff4f4f 99.5px)"></i><i style="background:linear-gradient(#fe4343 0.5px,#ff7171 5.5px,#ffafaf 9.5px,#ffc0c0 12.5px,#e9b7b2 13.5px,#697551 14.5px,#0e490b 15.5px,#004800 16.5px,#008100 32.5px,#007b00 71.5px,#004700 84.5px,#164d11 85.5px,#948c71 86.5px,#e9b7b2 87.5px,#fdc0c0 88.5px,#ffa6a6 93.5px,#ff6a6a 98.5px,#ff6363 99.5px)"></i><i style="background:linear-gradient(#fd3737 0.5px,#ff6060 5.5px,#ffb1b1 10.5px,#ffbebe 12.5px,#f3bbb8 13.5px,#a3927c 14.5px,#2f5824 15.5px,#084806 16.5px,#006500 24.5px,#007c00 34.5px,#007900 70.5px,#040 84.5px,#22501a 85.5px,#d3aca1 86.5px,#fdc1c1 87.5px,#ffaeae 93.5px,#ff7d7d 99.5px)"></i><i style="background:linear-gradient(#fd3131 0.5px,#ff5353 5.5px,#ffb0b0 11.5px,#fdbdbc 13.5px,#eeb8b4 14.5px,#b99e8d 15.5px,#426232 16.5px,#0a4908 17.5px,#004c00 19.5px,#007800 34.5px,#007100 71.5px,#004300 84.5px,#22501a 85.5px,#d6ada4 86.5px,#fec1c1 87.5px,#ffa9a9 93.5px,#ff7272 99.5px)"></i><i style="background:linear-gradient(#fc2c2c 0.5px,#ff5151 6.5px,#ff8f8f 10.5px,#ffb7b7 13.5px,#f5bbb9 15.5px,#bda090 16.5px,#436134 17.5px,#104a0c 18.5px,#024701 19.5px,#007300 35.5px,#006d00 71.5px,#004300 84.5px,#1c4d16 85.5px,#b69c8b 86.5px,#f7bebc 87.5px,#ffb6b6 90.5px,#ff9595 93.5px,#ff6060 97.5px,#ff5151 99.5px)"></i><i style="background:linear-gradient(#fc2929 0.5px,#ff4646 6.5px,#ff7979 10.5px,#ffacac 13.5px,#febcbc 15.5px,#f5bbb8 16.5px,#c3a294 17.5px,#64724c 18.5px,#164c11 19.5px,#024501 20.5px,#006e00 36.5px,#006900 71.5px,#064505 84.5px,#29531f 85.5px,#ac9784 86.5px,#f5bcba 87.5px,#ffb9b9 89.5px,#ff9797 92.5px,#ff5757 96.5px,#fe4040 99.5px)"></i><i style="background:linear-gradient(#fb2626 0.5px,#ff4545 7.5px,#f77 11.5px,#ffabab 14.5px,#f9bdbb 17.5px,#d7ada4 18.5px,#68734f 19.5px,#164b11 20.5px,#024401 21.5px,#006900 38.5px,#006200 71.5px,#024601 82.5px,#104a0c 83.5px,#3a5d2d 84.5px,#e6b4ae 86.5px,#fdbdbd 87.5px,#ffa5a5 90.5px,#f55 95.5px,#fd3737 99.5px)"></i><i style="background:linear-gradient(#fc2727 0.5px,#fe4141 7.5px,#ff6a6a 11.5px,#ffaeae 15.5px,#fbbfbe 18.5px,#d7ada4 19.5px,#64714c 20.5px,#10470c 21.5px,#014201 22.5px,#006500 39.5px,#005d00 70.5px,#074605 81.5px,#22511a 82.5px,#66734e 83.5px,#c1a193 84.5px,#ecb6b1 85.5px,#fdbaba 86.5px,#ff9d9d 89.5px,#ff5a5a 93.5px,#fd3333 98.5px,#fc2f2f 99.5px)"></i><i style="background:linear-gradient(#fd3535 0.5px,#ff5252 8.5px,#ff7e7e 12.5px,#ffacac 15.5px,#ffbfbf 18.5px,#f9bebc 19.5px,#c3a395 20.5px,#436033 21.5px,#084306 22.5px,#004b00 27.5px,#006000 42.5px,#005a00 68.5px,#024402 79.5px,#134a0f 80.5px,#436134 81.5px,#a99581 82.5px,#e3b2ab 83.5px,#f9bab8 84.5px,#ffa3a3 87.5px,#ff5353 92.5px,#fc2d2d 98.5px,#fc2a2a 99.5px)"></i><i style="background:linear-gradient(#ff5050 0.5px,#ff6b6b 8.5px,#ffb6b6 16.5px,#fec0c0 19.5px,#f5bdba 20.5px,#b99e8d 21.5px,#2d5423 22.5px,#044003 23.5px,#005c00 42.5px,#050 67.5px,#014301 77.5px,#0a4508 78.5px,#28531f 79.5px,#d4aba1 81.5px,#f5b9b7 82.5px,#ffb3b3 84.5px,#ff4e4e 91.5px,#fc2828 98.5px,#fb2626 99.5px)"></i><i style="background:linear-gradient(#ff5151 0.5px,#ff6868 8.5px,#ffb6b6 17.5px,#fec0c0 20.5px,#eeb9b6 21.5px,#978c74 22.5px,#224e1a 23.5px,#024002 24.5px,#005700 44.5px,#004f00 67.5px,#064304 76.5px,#1a4b14 77.5px,#566941 78.5px,#bb9e8e 79.5px,#e9b5b0 80.5px,#fcbcbb 81.5px,#ffa4a4 84.5px,#ff5757 89.5px,#fd3131 95.5px,#fc2828 99.5px)"></i><i style="background:linear-gradient(#fd3333 0.5px,#fe4b4b 9.5px,#ff7979 14.5px,#ffaeae 18.5px,#fdbfbe 21.5px,#e3b3ad 22.5px,#7a7b5d 23.5px,#224e1a 24.5px,#044003 25.5px,#005400 46.5px,#004b00 67.5px,#024101 74.5px,#10460c 75.5px,#3a5b2d 76.5px,#daaea6 78.5px,#f8bcbb 79.5px,#ffb1b1 82.5px,#ff5b5b 89.5px,#fd3a3a 97.5px,#fd3838 99.5px)"></i><i style="background:linear-gradient(#fb2222 0.5px,#fd3a3a 10.5px,#f66 15.5px,#ffb3b3 20.5px,#fcbdbd 22.5px,#e3b3ac 23.5px,#978b73 24.5px,#2b5221 25.5px,#074105 26.5px,#004f00 40.5px,#004800 66.5px,#003e00 73.5px,#0d430a 74.5px,#5f6e49 75.5px,#c1a193 76.5px,#ecb8b3 77.5px,#fdbfbe 78.5px,#faa 83.5px,#ff6c6c 90.5px,#f55 99.5px)"></i><i style="background:linear-gradient(#fa1d1d 0.5px,#fd3535 11.5px,#ff5f5f 16.5px,#ffb0b0 21.5px,#fdbdbc 23.5px,#ecb7b2 24.5px,#aa9582 25.5px,#405d31 26.5px,#0d430a 27.5px,#003f00 29.5px,#004d00 53.5px,#013d01 73.5px,#234d1b 74.5px,#bc9f90 75.5px,#f6bdbb 76.5px,#ffbcbc 79.5px,#ff9595 85.5px,#ff6868 92.5px,#ff5b5b 99.5px)"></i><i style="background:linear-gradient(#e12d2f 0.5px,#fb2424 7.5px,#fe3f3f 14.5px,#ff6969 18.5px,#ffadad 22.5px,#febcbb 24.5px,#f2b9b6 25.5px,#bfa092 26.5px,#566841 27.5px,#164711 28.5px,#023e02 29.5px,#004a00 57.5px,#003c00 72.5px,#094007 73.5px,#52653e 74.5px,#e1b3ac 75.5px,#fec1c0 76.5px,#ffa4a4 81.5px,#ff6161 87.5px,#fe4343 95.5px,#fe3f3f 99.5px)"></i><i style="background:linear-gradient(#578698 0.5px,#7e6f7c 2.5px,#cc3639 5.5px,#f62424 8.5px,#fe4444 16.5px,#ff7474 20.5px,#ffb2b2 24.5px,#f8bbb9 26.5px,#d7aca3 27.5px,#797a5c 28.5px,#295120 29.5px,#023e02 31.5px,#004600 60.5px,#013c01 72.5px,#1a4814 73.5px,#9c8d77 74.5px,#f2bbb8 75.5px,#ffbfbf 76.5px,#ff9d9d 80.5px,#ff5e5e 84.5px,#fd3636 90.5px,#fb2626 99.5px)"></i><i style="background:linear-gradient(#29afca 0.5px,#3aa3bb 4.5px,#449aae 5.5px,#5e7f8c 6.5px,#d0292a 8.5px,#f42121 9.5px,#fe3e3e 17.5px,#ff6767 21.5px,#ffb3b3 26.5px,#fcb9b8 27.5px,#e9b3ae 28.5px,#c1a092 29.5px,#295020 31.5px,#023d02 33.5px,#004200 63.5px,#013c01 71.5px,#0d410a 72.5px,#465f35 73.5px,#daaea6 74.5px,#fdc0bf 75.5px,#ffaeae 78.5px,#ff5151 84.5px,#fc2d2d 90.5px,#fb1e1e 99.5px)"></i><i style="background:linear-gradient(#25b3d0 0.5px,#27b1cc 5.5px,#2fa8be 6.5px,#4e8994 7.5px,#9a3f40 8.5px,#e61e1e 9.5px,#f92020 10.5px,#fe3f3f 19.5px,#ff6969 23.5px,#faa 27.5px,#f9b8b6 29.5px,#e8b3ae 30.5px,#c1a092 31.5px,#29501f 33.5px,#0d420a 34.5px,#003c00 36.5px,#003f00 64.5px,#053e04 69.5px,#244d1b 71.5px,#556741 72.5px,#b29887 73.5px,#f5bab8 74.5px,#ffb5b5 76.5px,#ff8d8d 79.5px,#ff5050 83.5px,#fc2c2c 89.5px,#fa1c1c 99.5px)"></i><i style="background:linear-gradient(#27b1cd 0.5px,#409db3 5.5px,#558796 6.5px,#865b60 7.5px,#c92929 8.5px,#f21d1d 9.5px,#fb2222 13.5px,#fe3f3f 21.5px,#ff6a6a 25.5px,#ffabab 29.5px,#f9b8b7 31.5px,#e8b3ae 32.5px,#be9f90 33.5px,#65704d 34.5px,#234c1a 35.5px,#0a4007 36.5px,#003c00 39.5px,#013c01 66.5px,#1a4814 68.5px,#3c5a2e 69.5px,#c09f90 71.5px,#e2aea8 72.5px,#feb1b1 74.5px,#ff4f4f 81.5px,#fc2b2b 87.5px,#fa1b1b 99.5px)"></i><i style="background:linear-gradient(#4b93a7 0.5px,#a74f56 4.5px,#db2c2e 6.5px,#f91c1c 9.5px,#fd3434 21.5px,#ff5d5d 26.5px,#ffabab 31.5px,#f9b8b7 33.5px,#e3b0aa 34.5px,#ac9582 35.5px,#546640 36.5px,#204a18 37.5px,#0a3f07 38.5px,#003c00 41.5px,#053e04 64.5px,#244d1b 66.5px,#52653e 67.5px,#9c8c76 68.5px,#d8aaa2 69.5px,#f9b2b1 71.5px,#ff9191 74.5px,#ff4a4a 79.5px,#fb2727 86.5px,#fa1b1b 99.5px)"></i><i style="background:linear-gradient(#de2d30 0.5px,#fa1b1b 7.5px,#fc2c2c 21.5px,#ff5252 27.5px,#ffacac 33.5px,#f5b6b4 35.5px,#dfaea7 36.5px,#ab9482 37.5px,#546640 38.5px,#204a18 39.5px,#0a3f07 40.5px,#003b00 44.5px,#023c01 60.5px,#1f4a17 63.5px,#3d592e 64.5px,#c09d8f 66.5px,#e2aca6 67.5px,#fdaeae 69.5px,#fe4646 77.5px,#fa2828 83.5px,#e6292d 94.5px,#dc2f34 99.5px)"></i><i style="background:linear-gradient(#fa1919 0.5px,#fb2626 21.5px,#fe4747 28.5px,#ff7a7a 32.5px,#ffa7a7 35.5px,#f5b2b0 37.5px,#dfaba4 38.5px,#ab927f 39.5px,#55653f 40.5px,#284e1e 41.5px,#013b01 46.5px,#053d04 56.5px,#2c5020 60.5px,#b39382 63.5px,#dba49c 64.5px,#f9a6a5 66.5px,#fe4545 74.5px,#f82f2f 78.5px,#d5373c 83.5px,#ac545f 85.5px,#a75565 88.5px,#985968 89.5px,#7f6e80 90.5px,#747892 92.5px,#737791 96.5px,#697a94 97.5px,#4f8ca8 98.5px,#439aba 99.5px)"></i><i style="background:linear-gradient(#fa1919 0.5px,#fb2525 24.5px,#fe4444 31.5px,#fe9999 38.5px,#d79f96 41.5px,#98866f 43.5px,#676d4b 44.5px,#284e1d 46.5px,#0d410a 49.5px,#10420c 53.5px,#254c1b 55.5px,#3b572b 56.5px,#646c49 57.5px,#9b8871 58.5px,#c49a8d 59.5px,#e7a19c 61.5px,#fe8b8b 64.5px,#fe4444 70.5px,#f92525 77.5px,#e42526 78.5px,#a9494c 79.5px,#588aa0 81.5px,#4c96b3 82.5px,#37a3c8 86.5px,#23b0d9 99.5px)"></i><i style="background:linear-gradient(#fa1919 0.5px,#fb2424 28.5px,#fe4141 35.5px,#f78e8c 42.5px,#e3a59f 45.5px,#d4a39a 46.5px,#a48d79 47.5px,#66704e 49.5px,#52653f 51.5px,#78785a 53.5px,#d3a49b 55.5px,#f29b98 58.5px,#ff6a6a 62.5px,#fd3b3b 67.5px,#fa1e1e 77.5px,#ee1f1f 78.5px,#a24f57 80.5px,#806c7c 81.5px,#75778d 82.5px,#6c7992 83.5px,#4399b8 85.5px,#36a2c9 95.5px,#2da9d0 99.5px)"></i><i style="background:linear-gradient(#e62729 0.5px,#e83234 31.5px,#eb5456 39.5px,#eb8486 43.5px,#e9b0b1 46.5px,#d3b4b0 50.5px,#d9b1ad 53.5px,#edacab 55.5px,#f85252 61.5px,#fb2c2c 67.5px,#f32020 79.5px,#d72f35 88.5px,#c83339 89.5px,#ad4a52 90.5px,#a15666 92.5px,#9e5869 96.5px,#955b6b 97.5px,#7a6c7e 98.5px,#6d7b91 99.5px)"></i><i style="background:linear-gradient(#777884 0.5px,#78828e 36.5px,#799da9 43.5px,#79b6c2 48.5px,#81adb1 52.5px,#958888 55.5px,#b25252 58.5px,#cd3639 62.5px,#e02b2c 67.5px,#e23133 78.5px,#cc3135 88.5px,#aa4c53 93.5px,#955b65 99.5px)"></i><i style="background:linear-gradient(#31abbe 0.5px,#33b1c1 49.5px,#479498 53.5px,#6b5961 56.5px,#754d58 57.5px,#774e5b 58.5px,#627190 61.5px,#786f79 70.5px,#6a7684 76.5px,#4697ad 83.5px,#369dc6 99.5px)"></i><i style="background:linear-gradient(#27b2c6 0.5px,#27adc8 48.5px,#368fae 53.5px,#3582be 56.5px,#2c8ad7 58.5px,#2897e0 62.5px,#2da6cd 71.5px,#1f97ee 99.5px)"></i><i style="background:linear-gradient(#27b2c6 0.5px,#25aacf 42.5px,#217ef0 53.5px,#1e93f2 63.5px,#209fe9 72.5px,#1c7dfb 99.5px)"></i><i style="background:linear-gradient(#26adcc 0.5px,#23a2d9 30.5px,#1b6ffa 48.5px,#1e8ef5 72.5px,#1966fd 99.5px)"></i><i style="background:linear-gradient(#1f8ced 0.5px,#1a6afe 50.5px,#1d7dfc 72.5px,#1553fa 99.5px)"></i><i style="background:linear-gradient(#1a6efc 0.5px,#1b6dfe 53.5px,#1b6ffe 73.5px,#1244f5 99.5px)"></i><i style="background:linear-gradient(#1a69fe 0.5px,#1964fd 73.5px,#0f37ee 99.5px)"></i><i style="background:linear-gradient(#1a6cfc 0.5px,#1860fc 72.5px,#1034e3 99.5px)"></i><i style="background:linear-gradient(#1e88ef 0.5px,#1f7aed 37.5px,#2e67e6 50.5px,#3160e1 71.5px,#3a56c3 95.5px,#3b52be 99.5px)"></i><i style="background:linear-gradient(#26accc 0.5px,#26aacb 33.5px,#3693ab 37.5px,#5f5c73 41.5px,#864761 45.5px,#9d4662 50.5px,#a8526c 66.5px,#b0455a 70.5px,#c32f43 74.5px,#cf3447 82.5px,#c13f52 99.5px)"></i><i style="background:linear-gradient(#27b2c6 0.5px,#28b2c4 33.5px,#3a989c 37.5px,#863536 42.5px,#b61c1e 45.5px,#da181a 48.5px,#ee2528 55.5px,#d7434d 60.5px,#ca3f42 71.5px,#aa555c 78.5px,#935f69 83.5px,#787583 89.5px,#61798c 95.5px,#4d8da4 99.5px)"></i><i style="background:linear-gradient(#27b2c6 0.5px,#28b1c3 34.5px,#3d9496 38.5px,#7c3c3c 42.5px,#b11818 45.5px,#d71515 48.5px,#da2733 54.5px,#d42d3b 55.5px,#4e83b8 60.5px,#4090ca 61.5px,#429db6 71.5px,#239ee1 99.5px)"></i><i style="background:linear-gradient(#27b2c6 0.5px,#28b1c3 35.5px,#3d9298 39.5px,#76404a 43.5px,#9f2635 46.5px,#a52738 47.5px,#99415e 49.5px,#92426a 50.5px,#6e5c99 52.5px,#615fa6 53.5px,#4674c3 54.5px,#367edd 56.5px,#1f97f0 62.5px,#21a6e2 72.5px,#1d88f7 99.5px)"></i><i style="background:linear-gradient(#27b1c8 0.5px,#26a7cf 36.5px,#3482bb 41.5px,#3c6bb4 43.5px,#326fd5 46.5px,#2c67e8 50.5px,#1d82fa 57.5px,#1f95f1 72.5px,#1b6ffd 99.5px)"></i><i style="background:linear-gradient(#23a3db 0.5px,#2091e7 25.5px,#1d6ff5 41.5px,#1b6efe 51.5px,#1d84f9 72.5px,#175bfc 99.5px)"></i><i style="background:linear-gradient(#1c75f9 0.5px,#1b6efe 52.5px,#1c74fe 73.5px,#144bf8 99.5px)"></i><i style="background:linear-gradient(#1a6afe 0.5px,#1a69fe 73.5px,#113df2 99.5px)"></i><i style="background:linear-gradient(#1a6afe 0.5px,#1963fd 71.5px,#0f34eb 99.5px)"></i><i style="background:linear-gradient(#1c76f8 0.5px,#1f6cf1 34.5px,#245aec 73.5px,#263bd7 99.5px)"></i><i style="background:linear-gradient(#24a5d7 0.5px,#24a2d6 27.5px,#338cb8 32.5px,#546694 37.5px,#6b5f96 43.5px,#715fa3 65.5px,#785e96 72.5px,#974374 77.5px,#a64b70 86.5px,#9c5070 99.5px)"></i><i style="background:linear-gradient(#27b2c8 0.5px,#29afc2 28.5px,#3f8e94 32.5px,#7a4045 36.5px,#a92329 39.5px,#ce1d24 42.5px,#e62f38 51.5px,#e4333d 59.5px,#db424d 66.5px,#d5454b 82.5px,#c6454b 88.5px,#a45b63 94.5px,#995b66 99.5px)"></i><i style="background:linear-gradient(#27b2c6 0.5px,#29b0c2 29.5px,#3e9294 33.5px,#8e2d2d 38.5px,#c11515 41.5px,#e31111 44.5px,#fa2626 52.5px,#df4b55 58.5px,#d04d59 59.5px,#b16072 60.5px,#a55d75 62.5px,#8f6771 70.5px,#797885 74.5px,#69798b 78.5px,#479ab1 83.5px,#359ccb 99.5px)"></i><i style="background:linear-gradient(#27b2c6 0.5px,#28b1c4 30.5px,#39999e 34.5px,#724848 38.5px,#a61d1d 41.5px,#d7181a 45.5px,#da2837 51.5px,#d52d3d 52.5px,#a9516c 54.5px,#97567c 55.5px,#796c9b 56.5px,#6770a9 57.5px,#4786c7 58.5px,#358fdd 60.5px,#30a4cc 71.5px,#1f98ed 95.5px,#1f94f0 99.5px)"></i><i style="background:linear-gradient(#27b2c6 0.5px,#28aec6 32.5px,#3b919e 36.5px,#704554 40.5px,#843748 42.5px,#8e4364 45.5px,#8a426c 46.5px,#6e5997 48.5px,#6757a1 49.5px,#535eb2 50.5px,#4071ce 51.5px,#2f7be7 55.5px,#1e8df6 60.5px,#209fea 72.5px,#1c7afb 99.5px)"></i><i style="background:linear-gradient(#26accd 0.5px,#23a1db 30.5px,#2b6be2 43.5px,#2369f2 49.5px,#1d7bfd 55.5px,#1e8ef5 72.5px,#1965fd 99.5px)"></i><i style="background:linear-gradient(#1e88f0 0.5px,#1a6bfe 50.5px,#1d7efb 72.5px,#1554fa 99.5px)"></i><i style="background:linear-gradient(#1b6efd 0.5px,#1b6ffe 54.5px,#1b70fe 73.5px,#1245f6 99.5px)"></i><i style="background:linear-gradient(#1a6afe 0.5px,#1966fe 73.5px,#1039f0 99.5px)"></i><i style="background:linear-gradient(#1b6ffb 0.5px,#1963fa 73.5px,#1a37e0 99.5px)"></i><i style="background:linear-gradient(#2093e7 0.5px,#228ee2 27.5px,#3676ce 37.5px,#3a6ad9 65.5px,#3f69ca 74.5px,#5f4aa6 79.5px,#6e52a5 88.5px,#6e52a2 99.5px)"></i><i style="background:linear-gradient(#26aecb 0.5px,#28abc5 25.5px,#3e8c99 29.5px,#76424e 33.5px,#a22734 36.5px,#c9212f 40.5px,#d72e3e 50.5px,#de3a49 74.5px,#df3340 83.5px,#dd404c 87.5px,#d24956 98.5px,#d04855 99.5px)"></i><i style="background:linear-gradient(#27b2c6 0.5px,#29b0c1 26.5px,#3f9093 30.5px,#7d3c3c 34.5px,#b11919 37.5px,#e31111 41.5px,#fa2727 50.5px,#f94444 58.5px,#e95558 62.5px,#e9585a 67.5px,#ea6567 69.5px,#d85559 80.5px,#bb5e63 83.5px,#a66872 88.5px,#8c6d79 91.5px,#7a7b8b 94.5px,#657a90 99.5px)"></i><i style="background:linear-gradient(#27b2c6 0.5px,#28b1c4 27.5px,#39999d 31.5px,#724848 35.5px,#a71d1d 38.5px,#df1111 42.5px,#f91e1e 49.5px,#de4f5b 57.5px,#ce5361 58.5px,#af687c 59.5px,#9b6b86 60.5px,#7f7f9c 61.5px,#708192 72.5px,#5291a5 75.5px,#44a1bc 78.5px,#279add 99.5px)"></i><i style="background:linear-gradient(#27b2c6 0.5px,#29b1c2 29.5px,#3c9598 33.5px,#873537 38.5px,#b51e22 41.5px,#d11d25 44.5px,#d42637 49.5px,#c52f42 50.5px,#af4860 51.5px,#97517b 53.5px,#7c6698 54.5px,#5873b6 56.5px,#4287d1 57.5px,#2b93e4 61.5px,#2aa3d5 72.5px,#1f93f1 92.5px,#1e89f6 99.5px)"></i><i style="background:linear-gradient(#27b1c9 0.5px,#28a9c8 31.5px,#398fa6 35.5px,#605878 39.5px,#67517a 41.5px,#665b9a 44.5px,#5859a8 46.5px,#3c6fd1 48.5px,#326de5 51.5px,#1e89f8 59.5px,#1f9aed 72.5px,#1b71fd 99.5px)"></i><i style="background:linear-gradient(#22a0de 0.5px,#1e8aee 29.5px,#2568eb 41.5px,#1c75fe 53.5px,#1e89f7 72.5px,#175efc 99.5px)"></i><i style="background:linear-gradient(#1c74f9 0.5px,#1b6ffe 52.5px,#1c7afd 72.5px,#144ef9 99.5px)"></i><i style="background:linear-gradient(#1a6bfe 0.5px,#1b71fe 64.5px,#1963fd 79.5px,#1241f4 99.5px)"></i><i style="background:linear-gradient(#1a6cfd 0.5px,#1964fd 73.5px,#103def 99.5px)"></i><i style="background:linear-gradient(#1d7ff4 0.5px,#2078ee 27.5px,#2e68e6 40.5px,#305ae2 78.5px,#344dd1 99.5px)"></i><i style="background:linear-gradient(#25abd1 0.5px,#27a8cb 23.5px,#388ea8 27.5px,#615a72 31.5px,#874760 35.5px,#9d4662 40.5px,#984871 50.5px,#9a4875 59.5px,#aa5872 75.5px,#cb344a 81.5px,#db3549 89.5px,#db364a 99.5px)"></i><i style="background:linear-gradient(#27b2c7 0.5px,#28b1c4 23.5px,#39999e 27.5px,#803a3b 32.5px,#b11e1f 35.5px,#d7181a 38.5px,#ef2b2e 47.5px,#f25256 66.5px,#f35557 70.5px,#f36c6e 73.5px,#f75e5e 84.5px,#e45e61 95.5px,#e26d71 96.5px,#dc646a 99.5px)"></i><i style="background:linear-gradient(#27b2c6 0.5px,#29b0c1 25.5px,#3e9194 29.5px,#8d2e2e 34.5px,#c01515 37.5px,#e31111 40.5px,#fb2525 48.5px,#fd7d7d 65.5px,#ea8487 77.5px,#d66a6f 83.5px,#ae7b83 86.5px,#987280 89.5px,#778397 92.5px,#5e849e 95.5px,#469fbf 97.5px,#41a2c8 99.5px)"></i><i style="background:linear-gradient(#27b2c6 0.5px,#2aafbf 27.5px,#428c8e 31.5px,#823838 35.5px,#b61818 38.5px,#de1111 41.5px,#fb2323 49.5px,#e76169 59.5px,#d66e76 66.5px,#b97980 69.5px,#ac7f89 71.5px,#9e7784 73.5px,#78889b 76.5px,#6b859d 78.5px,#44a2c2 81.5px,#2099ed 99.5px)"></i><i style="background:linear-gradient(#27b2c7 0.5px,#28b0c5 28.5px,#3b959d 32.5px,#82393f 37.5px,#b02128 40.5px,#d01c25 43.5px,#d73040 51.5px,#cc3647 52.5px,#ac5970 54.5px,#995c7f 56.5px,#7273a3 58.5px,#6275ac 59.5px,#488ac7 60.5px,#3f96d3 62.5px,#35a2d1 72.5px,#1f9aec 85.5px,#1d80fa 99.5px)"></i><i style="background:linear-gradient(#25abd1 0.5px,#25a1d4 30.5px,#318ebd 34.5px,#51659c 39.5px,#61599f 44.5px,#4b62b5 47.5px,#3d73d1 49.5px,#2f7ce7 56.5px,#1f94f2 63.5px,#1f9cec 72.5px,#1a6bfd 99.5px)"></i><i style="background:linear-gradient(#1d80f5 0.5px,#206df2 38.5px,#1b71fd 51.5px,#1e8ef5 71.5px,#175bfc 99.5px)"></i><i style="background:linear-gradient(#1a6dfe 0.5px,#1b70ff 53.5px,#1d7efc 72.5px,#144ef9 99.5px)"></i><i style="background:linear-gradient(#1a6bfe 0.5px,#1b71fe 57.5px,#1b71fe 73.5px,#1244f6 99.5px)"></i><i style="background:linear-gradient(#1b72f9 0.5px,#1e6af5 51.5px,#2567f1 75.5px,#2740e0 99.5px)"></i><i style="background:linear-gradient(#229edf 0.5px,#249cda 21.5px,#2f8cc3 25.5px,#52639c 31.5px,#675b9d 39.5px,#4f5fb2 51.5px,#4e5fb4 58.5px,#6c56a5 65.5px,#7565a1 76.5px,#96457b 81.5px,#a64a7a 88.5px,#a64c7a 99.5px)"></i><i style="background:linear-gradient(#27b0c9 0.5px,#28aec4 21.5px,#3d9098 25.5px,#774249 29.5px,#a5242b 32.5px,#d11d25 36.5px,#e32f39 45.5px,#e84951 74.5px,#e8626a 75.5px,#f26267 99.5px)"></i><i style="background:linear-gradient(#27b2c6 0.5px,#29b0c2 22.5px,#3e9294 26.5px,#7c3d3d 30.5px,#b01919 33.5px,#e31111 37.5px,#fb2525 45.5px,#fe9596 67.5px,#faa 79.5px,#f9a4a5 96.5px,#efa3a6 99.5px)"></i><i style="background:linear-gradient(#27b2c6 0.5px,#28b1c3 23.5px,#3b979b 27.5px,#863333 32.5px,#ba1616 35.5px,#e11111 38.5px,#fb2424 46.5px,#ffa3a3 67.5px,#ffb9b9 81.5px,#f6b5b6 88.5px,#e5acb4 93.5px,#da949f 95.5px,#ae9bb0 97.5px,#a48daa 98.5px,#8f8eae 99.5px)"></i><i style="background:linear-gradient(#27b2c6 0.5px,#29b0c1 25.5px,#408f91 29.5px,#7f3a3a 33.5px,#b31818 36.5px,#d11 39.5px,#fb2222 47.5px,#ffa5a5 69.5px,#fab1b1 78.5px,#e6aeb6 84.5px,#dc96a2 86.5px,#c894a1 87.5px,#b09db0 88.5px,#918dae 90.5px,#7994bd 91.5px,#6f86b9 92.5px,#5989c1 93.5px,#4398da 94.5px,#2e8aea 99.5px)"></i><i style="background:linear-gradient(#26adcc 0.5px,#27acc9 26.5px,#3993a1 30.5px,#803842 35.5px,#b02129 38.5px,#d21d23 41.5px,#f02628 48.5px,#ff6060 59.5px,#f49ea0 70.5px,#e9a4ac 74.5px,#db8e9a 77.5px,#af9aad 79.5px,#938aac 81.5px,#7a95bd 82.5px,#5e84bd 84.5px,#4597d8 85.5px,#298aee 91.5px,#1c7afc 98.5px,#1c78fc 99.5px)"></i><i style="background:linear-gradient(#1f8fec 0.5px,#208de8 28.5px,#2c81ce 33.5px,#55609f 38.5px,#705b8b 42.5px,#91436b 45.5px,#a74d68 49.5px,#af4e62 51.5px,#c93c4e 53.5px,#dd4655 56.5px,#e06c77 63.5px,#d96d7a 66.5px,#c97380 67.5px,#b48493 68.5px,#a7819b 70.5px,#987d9e 71.5px,#7f89af 72.5px,#6c7fb4 74.5px,#4296d9 76.5px,#2886ee 83.5px,#1c78fc 91.5px,#1966fd 99.5px)"></i><i style="background:linear-gradient(#1b71fc 0.5px,#1f6df4 36.5px,#316be7 50.5px,#4483cb 61.5px,#3c8adf 66.5px,#1d81fa 79.5px,#175afc 99.5px)"></i><i style="background:linear-gradient(#1a6bfe 0.5px,#1b71fe 53.5px,#1d81fa 70.5px,#1550fa 99.5px)"></i><i style="background:linear-gradient(#1b6efc 0.5px,#1c72fe 58.5px,#1c73fc 75.5px,#1f4cee 98.5px,#1f4bed 99.5px)"></i><i style="background:linear-gradient(#1e89ee 0.5px,#2188e8 19.5px,#3574d3 29.5px,#326be4 50.5px,#3b71da 72.5px,#3e6fce 77.5px,#604ca8 81.5px,#6f50aa 87.5px,#6f57b0 93.5px,#6e4da7 99.5px)"></i><i style="background:linear-gradient(#26accc 0.5px,#27abc9 16.5px,#3993a3 20.5px,#7a3d4b 25.5px,#a32634 28.5px,#c62231 32.5px,#d32c3c 39.5px,#bb3c4f 47.5px,#ad556a 53.5px,#b05569 60.5px,#d43a4c 66.5px,#e74451 92.5px,#e7434f 99.5px)"></i><i style="background:linear-gradient(#27b2c6 0.5px,#29b1c3 17.5px,#3c9599 21.5px,#873232 26.5px,#b91617 29.5px,#e01111 32.5px,#f92222 40.5px,#f67777 61.5px,#fd8686 77.5px,#fea6a6 79.5px,#feacac 99.5px)"></i><i style="background:linear-gradient(#27b2c6 0.5px,#29b0c0 19.5px,#408f91 23.5px,#7e3b3b 27.5px,#b21919 30.5px,#e41111 34.5px,#fb2626 42.5px,#ff9f9f 63.5px,#ffc1c1 85.5px,#fabcbc 98.5px,#f5bec0 99.5px)"></i><i style="background:linear-gradient(#27b2c6 0.5px,#28b1c3 20.5px,#3b979b 24.5px,#853434 29.5px,#b91717 32.5px,#e01111 35.5px,#fb2424 43.5px,#ffa3a3 64.5px,#ffbfbf 82.5px,#f8bdbe 91.5px,#e3b4bf 96.5px,#dda6b4 97.5px,#c79daf 98.5px,#aea6c2 99.5px)"></i><i style="background:linear-gradient(#27b0ca 0.5px,#28aec5 22.5px,#3d9199 26.5px,#893335 31.5px,#c91818 35.5px,#e71212 38.5px,#fb2626 45.5px,#ffa5a5 66.5px,#fbb 81.5px,#e1b0bd 89.5px,#da9eae 90.5px,#aa9dbd 92.5px,#988db8 93.5px,#7a97cd 94.5px,#6c83c7 95.5px,#4d88d7 96.5px,#3e8be8 97.5px,#3384f2 99.5px)"></i><i style="background:linear-gradient(#229de1 0.5px,#239edc 23.5px,#2e94c2 27.5px,#635874 32.5px,#9e3142 36.5px,#c12231 38.5px,#eb2a2f 46.5px,#ff5353 54.5px,#ffa6a6 68.5px,#f6b2b3 75.5px,#e1aab6 81.5px,#db99a8 82.5px,#ad9ebb 84.5px,#a18cb4 85.5px,#8294c4 86.5px,#617ec6 88.5px,#438fe2 89.5px,#287df5 94.5px,#1b70fe 99.5px)"></i><i style="background:linear-gradient(#1c74fa 0.5px,#1e73f4 28.5px,#3a73d1 39.5px,#4b65b6 41.5px,#6a5a9f 43.5px,#775b91 45.5px,#9d4870 47.5px,#ab536d 49.5px,#d23d4f 51.5px,#ea5a63 56.5px,#f58485 63.5px,#e99fa8 70.5px,#e09aa6 72.5px,#dd8e9c 73.5px,#cc8c9c 74.5px,#b19bb1 75.5px,#9886af 77.5px,#7b93c4 78.5px,#5e7dc4 80.5px,#438fe0 81.5px,#277cf4 87.5px,#1b6efe 94.5px,#1964fd 99.5px)"></i><i style="background:linear-gradient(#1a6cfe 0.5px,#1c6ffa 40.5px,#346be4 50.5px,#4077d3 53.5px,#6a62ad 55.5px,#7a70a6 57.5px,#93628f 58.5px,#a56589 59.5px,#ac7e94 62.5px,#9e739b 66.5px,#7889bb 68.5px,#6c77b8 70.5px,#418fde 72.5px,#2980f3 78.5px,#1c73fe 85.5px,#175bfd 99.5px)"></i><i style="background:linear-gradient(#1a6cfe 0.5px,#1c71fb 53.5px,#327cec 62.5px,#1e7ef9 72.5px,#1658fb 99.5px)"></i><i style="background:linear-gradient(#1c77f8 0.5px,#2072ef 19.5px,#2c66e8 38.5px,#2875f0 63.5px,#3758dd 99.5px)"></i><i style="background:linear-gradient(#24a5d6 0.5px,#26a4d0 14.5px,#368eaf 18.5px,#665472 23.5px,#914564 29.5px,#9a496f 37.5px,#825686 44.5px,#7468a2 50.5px,#7b6497 64.5px,#9c4b79 68.5px,#a85879 75.5px,#b04f64 81.5px,#d3394e 86.5px,#dc3f54 99.5px)"></i><i style="background:linear-gradient(#27b2c8 0.5px,#28b0c3 14.5px,#3c9498 18.5px,#863437 23.5px,#b61d1f 26.5px,#d8181b 29.5px,#ee292c 37.5px,#e85159 52.5px,#e83f47 55.5px,#e8484f 62.5px,#e96066 63.5px,#f46969 81.5px,#f88686 83.5px,#fd8787 99.5px)"></i><i style="background:linear-gradient(#27b2c6 0.5px,#28b1c3 15.5px,#3b979b 19.5px,#853535 24.5px,#b81717 27.5px,#df1111 30.5px,#fb2222 38.5px,#fe9292 59.5px,#ffabab 69.5px,#ffbaba 93.5px,#ffbaba 99.5px)"></i><i style="background:linear-gradient(#27b2c6 0.5px,#29b0c1 17.5px,#3e9294 21.5px,#8c2f2f 26.5px,#be1515 29.5px,#e21111 32.5px,#fb2525 40.5px,#ffa5a5 61.5px,#ffbfbf 80.5px,#fcbcbc 96.5px,#ecbcc2 99.5px)"></i><i style="background:linear-gradient(#27b2c8 0.5px,#2aaec0 19.5px,#428c8f 23.5px,#803a3a 27.5px,#b51818 30.5px,#de1111 33.5px,#fb2222 41.5px,#ffa3a3 62.5px,#ffbebe 79.5px,#fdbcbc 89.5px,#e5b5bf 94.5px,#cf9bac 96.5px,#afa3be 97.5px,#9e8fb8 98.5px,#7d9bcd 99.5px)"></i><i style="background:linear-gradient(#24a7d6 0.5px,#26a7d0 20.5px,#3594ad 24.5px,#665263 28.5px,#9b2936 31.5px,#cf1d26 35.5px,#f72626 43.5px,#ffa4a4 64.5px,#ffbcbd 80.5px,#e6b4bf 87.5px,#e0aebb 88.5px,#d79bab 89.5px,#b5a3ba 90.5px,#a595ba 91.5px,#5b82cc 94.5px,#418de5 95.5px,#297ff5 99.5px)"></i><i style="background:linear-gradient(#1d7cf7 0.5px,#1f7df0 24.5px,#3677cc 32.5px,#5a5da1 35.5px,#775786 38.5px,#9b4567 40.5px,#af4157 42.5px,#c53042 43.5px,#dc3442 45.5px,#fe5d5d 54.5px,#ffa5a5 66.5px,#fbb0b0 74.5px,#e3afba 80.5px,#cf96a6 82.5px,#b1a2bb 83.5px,#a491b6 84.5px,#738cc8 86.5px,#607fc7 87.5px,#438ee3 88.5px,#277cf4 93.5px,#1b71fe 99.5px)"></i><i style="background:linear-gradient(#1b6dfe 0.5px,#1d70f8 33.5px,#366cdd 43.5px,#3e73d2 45.5px,#655daa 47.5px,#7b639b 49.5px,#965583 50.5px,#b35e76 52.5px,#cf4e61 53.5px,#e25e6b 55.5px,#f98686 62.5px,#eaa5ac 69.5px,#e19fab 72.5px,#dd92a0 73.5px,#cc8e9e 74.5px,#b19cb2 75.5px,#9189b4 77.5px,#7890c5 78.5px,#6c7fc1 79.5px,#4f87d2 80.5px,#3f8de5 81.5px,#1d79fd 89.5px,#1a69fe 99.5px)"></i><i style="background:linear-gradient(#1a6bfe 0.5px,#1e6df7 46.5px,#336fe8 52.5px,#3d78dc 54.5px,#4a73ca 55.5px,#6868b2 56.5px,#7670ad 57.5px,#a56c8f 59.5px,#b2738a 60.5px,#c56879 61.5px,#ac89a0 64.5px,#a77b9f 66.5px,#9a79a2 67.5px,#8087b5 68.5px,#7588bd 69.5px,#707bba 70.5px,#5d7ac0 71.5px,#448ddc 72.5px,#3282ee 76.5px,#1d79fd 83.5px,#1963fd 99.5px)"></i><i style="background:linear-gradient(#1b71fb 0.5px,#1e6bf6 40.5px,#1f75f7 55.5px,#377ee5 62.5px,#287ced 72.5px,#276ff0 84.5px,#2d5be8 99.5px)"></i><i style="background:linear-gradient(#2094e7 0.5px,#2293e1 12.5px,#347bc0 18.5px,#535fa4 24.5px,#5f59a4 34.5px,#4969bc 41.5px,#3d75d4 47.5px,#3e7cd2 64.5px,#4771c0 67.5px,#655aa6 70.5px,#736cb0 76.5px,#7a5a90 85.5px,#9b457b 92.5px,#a2457b 99.5px)"></i><i style="background:linear-gradient(#26aecb 0.5px,#28acc5 11.5px,#3d8e99 15.5px,#75424c 19.5px,#a3242e 22.5px,#cf1d26 26.5px,#e32f39 35.5px,#dd3e4e 54.5px,#ea464d 86.5px,#ed646a 88.5px,#f2646b 99.5px)"></i><i style="background:linear-gradient(#27b2c6 0.5px,#29b0c1 12.5px,#3e9294 16.5px,#8c2f2f 21.5px,#be1616 24.5px,#e21111 27.5px,#fb2424 35.5px,#fe6363 47.5px,#fd5f5f 50.5px,#fd7c7c 61.5px,#fe8787 67.5px,#fea1a1 68.5px,#ffb3b3 98.5px,#ffb3b3 99.5px)"></i><i style="background:linear-gradient(#27b2c6 0.5px,#2aafbf 14.5px,#438b8d 18.5px,#813838 22.5px,#b51818 25.5px,#de1111 28.5px,#fb2222 36.5px,#ffa0a0 58.5px,#ffbebe 74.5px,#ffc0c0 99.5px)"></i><i style="background:linear-gradient(#27b2c6 0.5px,#29b1c2 15.5px,#3d9498 19.5px,#893132 24.5px,#bb1616 27.5px,#e11111 30.5px,#fb2424 38.5px,#ffa5a5 59.5px,#ffbfbf 77.5px,#fabcbd 94.5px,#e1b1be 99.5px)"></i><i style="background:linear-gradient(#26adcd 0.5px,#28aac7 17.5px,#3e8c9a 21.5px,#76424c 25.5px,#a6242b 28.5px,#d61a1e 32.5px,#fa2121 39.5px,#ffa6a6 61.5px,#ffbfbf 80.5px,#fcbcbc 87.5px,#e4b4bf 92.5px,#dda7b5 93.5px,#c69db0 94.5px,#ab9ebe 95.5px,#958fbb 96.5px,#7791cc 97.5px,#6180c9 98.5px,#438ee4 99.5px)"></i><i style="background:linear-gradient(#1e8bef 0.5px,#208ce9 19.5px,#317ec7 25.5px,#58639a 29.5px,#6c5c88 31.5px,#8b4668 33.5px,#ab3d50 36.5px,#bf2b3d 37.5px,#d92937 39.5px,#fe5353 49.5px,#ffa4a4 62.5px,#ffbcbc 78.5px,#e5b4bf 85.5px,#d29aab 87.5px,#b1a5be 88.5px,#a292b9 89.5px,#8294c6 90.5px,#5385d2 92.5px,#3f8be7 93.5px,#1e7afa 99.5px)"></i><i style="background:linear-gradient(#1b71fd 0.5px,#1f6ff4 27.5px,#356edb 37.5px,#3d73d2 39.5px,#466dc2 40.5px,#5c5daa 41.5px,#75619c 43.5px,#9f5178 45.5px,#b95267 47.5px,#d44658 48.5px,#fc7474 56.5px,#ffa5a5 64.5px,#f7b2b3 72.5px,#e1adb9 78.5px,#dc9dab 79.5px,#c699ab 80.5px,#ae9fbb 81.5px,#a18cb5 82.5px,#8094c6 83.5px,#5882cc 85.5px,#418de5 86.5px,#1c78fd 94.5px,#1b70fe 99.5px)"></i><i style="background:linear-gradient(#1a6cfe 0.5px,#1d6ff9 40.5px,#346de5 47.5px,#3e74d8 49.5px,#4e6cc3 50.5px,#6a64af 51.5px,#776daa 52.5px,#906494 53.5px,#b56d84 55.5px,#d46173 56.5px,#ed868d 60.5px,#eaa0a9 66.5px,#e19eaa 69.5px,#d58b9b 71.5px,#b899ac 72.5px,#a187ae 74.5px,#8290bf 75.5px,#667bc1 77.5px,#468cdc 78.5px,#3385f0 81.5px,#1c78fd 88.5px,#1a69fe 99.5px)"></i><i style="background:linear-gradient(#1b6efe 0.5px,#1c6ffc 49.5px,#3a77e4 56.5px,#417dda 57.5px,#5a70bf 58.5px,#8576a9 60.5px,#9e6e9a 61.5px,#9c6e9a 62.5px,#7b87b8 64.5px,#737ebc 66.5px,#6d74b8 67.5px,#5979c3 68.5px,#438ddc 69.5px,#3384ee 73.5px,#1d7bfc 81.5px,#1d63f5 99.5px)"></i><i style="background:linear-gradient(#1d80f4 0.5px,#227bea 13.5px,#356dda 27.5px,#316ee8 56.5px,#4471d8 62.5px,#3674de 71.5px,#3d73d2 88.5px,#4e54b3 99.5px)"></i><i style="background:linear-gradient(#25abd1 0.5px,#27a9cb 8.5px,#3792a8 12.5px,#6e4d5e 17.5px,#a92c3d 22.5px,#c32e40 30.5px,#b54457 37.5px,#a95872 43.5px,#a85479 58.5px,#ab5a6f 68.5px,#ca3e4f 72.5px,#dd4051 76.5px,#dd4b5b 81.5px,#dd4251 86.5px,#e14351 99.5px)"></i><i style="background:linear-gradient(#27b2c7 0.5px,#29b0c1 9.5px,#408f92 13.5px,#7b3e3e 17.5px,#ae1c1c 20.5px,#df1313 24.5px,#f62525 32.5px,#f35658 44.5px,#f34c4e 46.5px,#f36466 62.5px,#f56565 70.5px,#fa8282 72.5px,#fe8c8c 95.5px,#fea7a7 96.5px,#feacac 99.5px)"></i><i style="background:linear-gradient(#27b2c6 0.5px,#29b1c2 10.5px,#3c9699 14.5px,#863333 19.5px,#b91717 22.5px,#df1111 25.5px,#fb2222 33.5px,#ff9b9b 55.5px,#ffbaba 79.5px,#ffc2c2 99.5px)"></i><i style="background:linear-gradient(#27b2c6 0.5px,#29b0c1 12.5px,#3f9193 16.5px,#8d2e2e 21.5px,#be1515 24.5px,#e21111 27.5px,#fb2525 35.5px,#ffa5a5 56.5px,#ffc0c0 75.5px,#fcbcbc 97.5px,#f3b9be 99.5px)"></i><i style="background:linear-gradient(#27b0c9 0.5px,#29adc2 14.5px,#418b92 18.5px,#7c3e42 22.5px,#ae1f21 25.5px,#de1717 29.5px,#f91d1d 35.5px,#ffa7a7 58.5px,#ffc0c0 77.5px,#fabcbd 91.5px,#e7b5c0 95.5px,#d09bad 97.5px,#afa2be 98.5px,#a08bb4 99.5px)"></i><i style="background:linear-gradient(#229fdf 0.5px,#239edb 15.5px,#358ab7 20.5px,#6b5270 25.5px,#9f3b4e 29.5px,#bd2535 31.5px,#e2252e 36.5px,#ff4e4e 45.5px,#ffa4a4 59.5px,#ffbfbf 77.5px,#fcbbbc 84.5px,#e4b4bf 89.5px,#dda7b5 90.5px,#c69db0 91.5px,#ac9ebe 92.5px,#958ebb 93.5px,#7791cc 94.5px,#627fc8 95.5px,#438ce4 96.5px,#307ef0 99.5px)"></i><i style="background:linear-gradient(#1c77fa 0.5px,#2173f1 22.5px,#3c76ce 33.5px,#5560ab 35.5px,#785e92 38.5px,#9f4d71 40.5px,#b64d61 42.5px,#cf3f50 43.5px,#e64f5a 46.5px,#ff7676 53.5px,#ffa5a5 61.5px,#ffbaba 75.5px,#e4b3be 82.5px,#d099aa 84.5px,#b1a4be 85.5px,#a291b9 86.5px,#8293c6 87.5px,#5484d2 89.5px,#3f8ae7 90.5px,#1c78fd 97.5px,#1c74fe 99.5px)"></i><i style="background:linear-gradient(#1b6dfe 0.5px,#1d70f9 34.5px,#336ee4 42.5px,#4672cb 45.5px,#6062b1 46.5px,#7d69a1 48.5px,#9b5d8a 49.5px,#bc6479 51.5px,#d85e6f 52.5px,#f78d8e 58.5px,#ffa7a7 64.5px,#e5adb8 74.5px,#da97a6 76.5px,#ac9ab8 78.5px,#9d8ab3 79.5px,#7d94c7 80.5px,#6f84c6 81.5px,#5682ce 82.5px,#408ce6 83.5px,#1c78fd 91.5px,#1a6dfe 99.5px)"></i><i style="background:linear-gradient(#1a6cfe 0.5px,#1d6ff9 45.5px,#3571e8 51.5px,#4479d6 53.5px,#616ab9 54.5px,#b97b91 58.5px,#d87687 59.5px,#e4939e 62.5px,#e08f9d 65.5px,#d18697 67.5px,#b696aa 68.5px,#ab95b1 69.5px,#a587ac 70.5px,#798fc4 72.5px,#7080c0 73.5px,#5b7dc6 74.5px,#428de1 75.5px,#277bf3 81.5px,#1c75fe 87.5px,#1a67fe 99.5px)"></i><i style="background:linear-gradient(#1c74fa 0.5px,#276bee 33.5px,#276fef 53.5px,#467ad9 59.5px,#507bca 60.5px,#666ab0 61.5px,#606eb4 62.5px,#4a8ad6 64.5px,#347de4 72.5px,#3171e9 79.5px,#2f62e7 99.5px)"></i><i style="background:linear-gradient(#229fdf 0.5px,#269cd4 7.5px,#3685b6 11.5px,#60618d 17.5px,#7f527c 25.5px,#776599 36.5px,#715fa4 45.5px,#6d5aa5 58.5px,#765d9c 62.5px,#736fac 66.5px,#796293 72.5px,#8b4c7c 74.5px,#a54d7a 78.5px,#a86387 85.5px,#a85877 89.5px,#a95873 99.5px)"></i><i style="background:linear-gradient(#27b0c9 0.5px,#28afc5 6.5px,#3c939b 10.5px,#83383d 15.5px,#bf1f23 19.5px,#db1d21 23.5px,#ea3035 31.5px,#e8434b 41.5px,#e73c46 45.5px,#e9454b 72.5px,#ec464c 74.5px,#ef6066 75.5px,#f36869 95.5px,#f36869 99.5px)"></i><i style="background:linear-gradient(#27b2c6 0.5px,#2baebd 8.5px,#3b979b 11.5px,#843535 16.5px,#b71717 19.5px,#de1111 22.5px,#fb2626 31.5px,#fe9595 52.5px,#ffb3b3 81.5px,#ffb3b3 99.5px)"></i><i style="background:linear-gradient(#27b2c6 0.5px,#29b0c1 9.5px,#3e9295 13.5px,#8a3030 18.5px,#bc1616 21.5px,#e11111 24.5px,#fb2424 32.5px,#ffa5a5 53.5px,#ffbfbf 71.5px,#ffc0c0 99.5px)"></i><i style="background:linear-gradient(#27b2c7 0.5px,#2aafc0 11.5px,#418e90 15.5px,#7d3d3d 19.5px,#b11a1a 22.5px,#e31111 26.5px,#fb2626 34.5px,#ffa6a6 55.5px,#ffc0c0 74.5px,#fcbcbc 94.5px,#e1b2bf 99.5px)"></i><i style="background:linear-gradient(#25abd2 0.5px,#26aace 12.5px,#3596ad 16.5px,#724857 21.5px,#a42734 24.5px,#cf1f29 28.5px,#f0292b 35.5px,#ff4d4d 42.5px,#ffa4a4 56.5px,#ffbfbf 74.5px,#fabcbd 88.5px,#e7b5c0 92.5px,#e0aebc 93.5px,#d39bac 94.5px,#b1a3bd 95.5px,#9e8eb8 96.5px,#7a93cb 97.5px,#677fc7 98.5px,#458de1 99.5px)"></i><i style="background:linear-gradient(#1e84f4 0.5px,#2082ee 16.5px,#3c77c6 26.5px,#5d5fa0 29.5px,#765c8b 32.5px,#99476a 34.5px,#aa4b62 36.5px,#d03546 38.5px,#f3585b 45.5px,#ff7d7d 51.5px,#ffa8a8 59.5px,#ffc0c0 78.5px,#edbbc1 84.5px,#dda8b6 87.5px,#c99caf 88.5px,#ad9fbe 89.5px,#988db9 90.5px,#7892cb 91.5px,#657ec7 92.5px,#448ce2 93.5px,#297df5 97.5px,#1e79fa 99.5px)"></i><i style="background:linear-gradient(#1b70fe 0.5px,#1e71f7 27.5px,#346fe1 37.5px,#4374cc 40.5px,#5963b2 41.5px,#7668a2 43.5px,#a35c82 45.5px,#ae647f 46.5px,#c5596d 47.5px,#da5869 48.5px,#ff9292 56.5px,#ffb0b0 64.5px,#fdb5b6 73.5px,#e4b1bd 79.5px,#d098a9 81.5px,#b1a3bd 82.5px,#a290b8 83.5px,#8293c5 84.5px,#5682d0 86.5px,#408ae7 87.5px,#1c78fd 94.5px,#1b70fe 99.5px)"></i><i style="background:linear-gradient(#1b6dfe 0.5px,#1d70fa 40.5px,#3670e5 47.5px,#4577d3 49.5px,#6267b6 50.5px,#b7778e 54.5px,#d67182 55.5px,#eb939b 58.5px,#f6a5a5 62.5px,#e8abb5 70.5px,#df9daa 72.5px,#d591a2 73.5px,#b69db3 74.5px,#9987b3 76.5px,#7b92c8 77.5px,#6e81c4 78.5px,#408be6 80.5px,#1c78fd 88.5px,#1a6afe 99.5px)"></i><i style="background:linear-gradient(#1b70fd 0.5px,#1d71fa 49.5px,#3b7ae5 55.5px,#457ed8 56.5px,#6570bb 57.5px,#797cb6 58.5px,#9978a3 59.5px,#ac87a2 60.5px,#b98698 61.5px,#ad97ac 63.5px,#a27fa6 66.5px,#7890c2 68.5px,#6779bc 70.5px,#4a8ad4 71.5px,#3b88e7 73.5px,#2676f2 81.5px,#2467f2 99.5px)"></i><i style="background:linear-gradient(#1e8aee 0.5px,#2684dd 9.5px,#4074c6 23.5px,#3b6edb 44.5px,#386edc 56.5px,#5276cd 62.5px,#457dd0 70.5px,#3f7ccf 74.5px,#6357a7 79.5px,#7261ad 86.5px,#726cb4 93.5px,#715ea6 95.5px,#715ea5 99.5px)"></i><i style="background:linear-gradient(#26accc 0.5px,#29a8c3 4.5px,#3894a4 7.5px,#7a3e4b 12.5px,#a42733 15.5px,#c6222e 18.5px,#de3440 28.5px,#d5384a 48.5px,#c24053 56.5px,#dd4151 66.5px,#de505e 70.5px,#dd4350 74.5px,#e7454f 97.5px,#e7454f 99.5px)"></i><i style="background:linear-gradient(#27b2c6 0.5px,#2aaebe 5.5px,#438a8b 9.5px,#823737 13.5px,#b51818 16.5px,#e41111 20.5px,#fb2525 28.5px,#fe5353 37.5px,#fd5656 41.5px,#f97b7c 53.5px,#fe8989 77.5px,#fea9a9 79.5px,#feacac 99.5px)"></i><i style="background:linear-gradient(#27b2c6 0.5px,#29b0c2 6.5px,#3d9497 10.5px,#883232 15.5px,#ba1616 18.5px,#e01111 21.5px,#fb2323 29.5px,#ffa1a1 51.5px,#ffb9b9 71.5px,#ffc2c2 99.5px)"></i><i style="background:linear-gradient(#27b2c6 0.5px,#2ab0c0 8.5px,#408f91 12.5px,#7d3c3c 16.5px,#b01919 19.5px,#e21111 23.5px,#fb2525 31.5px,#ffa6a6 52.5px,#ffbfbf 70.5px,#fbbcbd 97.5px,#f2babe 99.5px)"></i><i style="background:linear-gradient(#26afcb 0.5px,#29abc3 10.5px,#418893 14.5px,#7b3e46 18.5px,#aa232a 21.5px,#d61c20 25.5px,#fa2727 33.5px,#ffa3a3 53.5px,#ffbebe 70.5px,#fbbcbd 91.5px,#e7b5c0 95.5px,#ce9bad 97.5px,#ada0be 98.5px,#9b8cb7 99.5px)"></i><i style="background:linear-gradient(#2098e7 0.5px,#2295e1 12.5px,#3185c3 17.5px,#5a6697 22.5px,#76567c 25.5px,#994763 28.5px,#a84459 30.5px,#c72c3c 32.5px,#de3642 35.5px,#f66 45.5px,#ffa5a5 55.5px,#ffbfbf 73.5px,#fdbdbd 84.5px,#e5b4c0 89.5px,#cb9cae 91.5px,#ad9fbe 92.5px,#988dba 93.5px,#7790cc 94.5px,#627ec9 95.5px,#438ae4 96.5px,#2f7cf1 99.5px)"></i><i style="background:linear-gradient(#1c75fb 0.5px,#236ff1 22.5px,#3b73d7 33.5px,#4473c6 35.5px,#5763af 36.5px,#7d6497 39.5px,#955781 40.5px,#af6079 42.5px,#c55467 43.5px,#da5262 44.5px,#ff9292 53.5px,#ffb0b0 61.5px,#ffbcbc 76.5px,#e1b0bd 83.5px,#d89dae 84.5px,#b8a2b8 85.5px,#5a80cd 89.5px,#418ae6 90.5px,#1c77fd 97.5px,#1c74fe 99.5px)"></i><i style="background:linear-gradient(#1b6efe 0.5px,#1d71f9 35.5px,#3671e4 43.5px,#4278d5 45.5px,#5a68ba 46.5px,#7b72ab 48.5px,#996895 49.5px,#be7287 51.5px,#d97181 52.5px,#eb929a 55.5px,#ffacac 61.5px,#f7b6b6 69.5px,#e3b0bc 75.5px,#d295a7 77.5px,#b2a3bb 78.5px,#a592b8 79.5px,#758dca 81.5px,#647cc6 82.5px,#448be2 83.5px,#2c7df3 87.5px,#1c76fe 92.5px,#1b6dfe 99.5px)"></i><i style="background:linear-gradient(#1b6efe 0.5px,#1d71fb 45.5px,#3573ea 51.5px,#477ad5 53.5px,#676ebb 54.5px,#787ab7 55.5px,#9777a4 56.5px,#ac83a2 57.5px,#c78295 58.5px,#dd8a99 59.5px,#e99fa9 61.5px,#e1a2af 65.5px,#de8f9e 67.5px,#d08c9d 68.5px,#b59cb1 69.5px,#a287af 71.5px,#768cc6 73.5px,#6c7bc1 74.5px,#4d85d4 75.5px,#3f8be7 76.5px,#1d78fd 85.5px,#1a6bfd 99.5px)"></i><i style="background:linear-gradient(#3b77f0 0.5px,#3b7df5 52.5px,#397bee 53.5px,#256dd5 54.5px,#3c7bbe 59.5px,#5671a5 60.5px,#7871a0 61.5px,#8c75aa 62.5px,#8875ae 63.5px,#6291d1 65.5px,#5288e4 70.5px,#3c7ff1 78.5px,#3b79ed 99.5px)"></i><i style="background:linear-gradient(#df91a4 0.5px,#df97ab 30.5px,#dfb1c6 42.5px,#dfb8cc 52.5px,#c1aab5 53.5px,#225f3b 54.5px,#045124 55.5px,#055321 59.5px,#145522 60.5px,#616f51 61.5px,#d59b9f 62.5px,#e8a2ad 63.5px,#e0a6b7 72.5px,#df9bad 99.5px)"></i><i style="background:linear-gradient(#fe7676 0.5px,#fe7979 29.5px,#ffabab 39.5px,#ffc2c2 52.5px,#dbb3a8 53.5px,#23601b 54.5px,#005000 55.5px,#005000 59.5px,#0c5509 60.5px,#617544 61.5px,#e7a9a2 62.5px,#ffb2b2 63.5px,#ffb0b0 99.5px)"></i><i style="background:linear-gradient(#f13535 0.5px,#f63b3b 30.5px,#ffb1b1 49.5px,#ffbcbc 52.5px,#dcb0a5 53.5px,#23641b 54.5px,#050 55.5px,#050 59.5px,#0c5908 60.5px,#617944 61.5px,#e7aba3 62.5px,#ffb3b3 63.5px,#ffb3b3 99.5px)"></i><i style="background:linear-gradient(#af3131 0.5px,#b42e2f 29.5px,#e52222 34.5px,#fc4242 41.5px,#ff9393 50.5px,#ffa9a9 52.5px,#dca599 53.5px,#236319 54.5px,#005600 55.5px,#005600 59.5px,#0c5a08 60.5px,#617944 61.5px,#e7aba3 62.5px,#ffb3b3 63.5px,#ffb3b3 99.5px)"></i><i style="background:linear-gradient(#4a8991 0.5px,#4e838b 29.5px,#983637 34.5px,#d41919 38.5px,#f52222 43.5px,#fe5353 49.5px,#ff8180 52.5px,#dc897d 53.5px,#235e15 54.5px,#050 55.5px,#050 59.5px,#0c5908 60.5px,#617944 61.5px,#e7aba3 62.5px,#ffb3b3 63.5px,#ffafaf 99.5px)"></i><i style="background:linear-gradient(#28afc8 0.5px,#29aec5 29.5px,#3f939a 33.5px,#7f4243 37.5px,#b91919 40.5px,#e41313 43.5px,#fa2525 48.5px,#ff5858 52.5px,#db665a 53.5px,#23570f 54.5px,#005300 55.5px,#005300 59.5px,#0c5808 60.5px,#617844 61.5px,#e7aaa3 62.5px,#ffb3b3 63.5px,#ffaeae 81.5px,#f18c8c 99.5px)"></i><i style="background:linear-gradient(#24b4d5 0.5px,#25b3cf 30.5px,#32a4ad 34.5px,#458889 36.5px,#813838 39.5px,#ac1a1a 41.5px,#e01111 44.5px,#fa1f1f 49.5px,#fe4343 52.5px,#db5246 53.5px,#23510c 54.5px,#005100 55.5px,#005100 59.5px,#0c5508 60.5px,#617644 61.5px,#e7aaa3 62.5px,#ffb3b3 63.5px,#ffafaf 76.5px,#f79393 80.5px,#dc5e5f 85.5px,#ba4d50 90.5px,#975b5f 99.5px)"></i><i style="background:linear-gradient(#24b4d3 0.5px,#26b3cd 30.5px,#2eaab7 33.5px,#4a8081 36.5px,#873333 39.5px,#c51414 42.5px,#e91212 45.5px,#fa2020 49.5px,#fe4141 52.5px,#db4e43 53.5px,#234e0b 54.5px,#004e00 55.5px,#004e00 59.5px,#0c5308 60.5px,#617444 61.5px,#e7aaa3 62.5px,#ffb3b3 63.5px,#ffb0b0 73.5px,#fc9d9d 75.5px,#e45555 78.5px,#be4142 80.5px,#79696e 83.5px,#4f8c9c 86.5px,#3d9bb2 91.5px,#35a1be 99.5px)"></i><i style="background:linear-gradient(#2dabc1 0.5px,#2eaabf 29.5px,#3d98a0 32.5px,#646364 35.5px,#9e2828 38.5px,#d31515 41.5px,#f11919 45.5px,#fd3838 50.5px,#fe4f4f 52.5px,#db594e 53.5px,#234d0d 54.5px,#004a00 55.5px,#004a00 59.5px,#0c4f08 60.5px,#617244 61.5px,#e7aaa3 62.5px,#ffb3b3 63.5px,#ffafaf 71.5px,#fea4a4 72.5px,#fa8c8c 73.5px,#e04141 75.5px,#c63434 76.5px,#a63d3d 77.5px,#656d71 79.5px,#4097a5 81.5px,#28a9d0 85.5px,#22aadf 99.5px)"></i><i style="background:linear-gradient(#678289 0.5px,#6a8086 29.5px,#b53a3a 35.5px,#e52c2c 39.5px,#fc4646 46.5px,#fc5352 48.5px,#e7635b 51.5px,#e76e65 52.5px,#c7705f 53.5px,#204f10 54.5px,#004800 55.5px,#004800 59.5px,#0b4d08 60.5px,#586d3e 61.5px,#d5a295 62.5px,#fcafae 63.5px,#ffadad 70.5px,#fd9696 71.5px,#e53a3a 73.5px,#c93030 74.5px,#a63a3a 75.5px,#65787b 77.5px,#45a0ae 79.5px,#38accb 82.5px,#35a0da 89.5px,#359edb 99.5px)"></i><i style="background:linear-gradient(#e78384 0.5px,#e7898a 26.5px,#ffa9a9 45.5px,#ffadad 47.5px,#f0a9a4 48.5px,#9d8866 49.5px,#68743f 50.5px,#61743d 52.5px,#537136 53.5px,#0d5609 54.5px,#005100 55.5px,#055303 60.5px,#256019 61.5px,#6e7b49 62.5px,#e99a92 63.5px,#ffa0a0 64.5px,#ff9a9a 70.5px,#f56e6e 72.5px,#d96b6b 74.5px,#b49092 77.5px,#ab93a3 82.5px,#a988a3 94.5px,#a988a3 99.5px)"></i><i style="background:linear-gradient(#ff8181 0.5px,#ff8383 24.5px,#ffaeae 34.5px,#ffc2c2 47.5px,#e8bab1 48.5px,#68884f 49.5px,#176911 50.5px,#0c6509 52.5px,#005f00 57.5px,#056103 61.5px,#2d6e1f 62.5px,#dda598 63.5px,#ffb0af 64.5px,#f6adad 76.5px,#f4abaf 99.5px)"></i><i style="background:linear-gradient(#fa4d4d 0.5px,#fb4f4f 24.5px,#ffa8a8 39.5px,#ffc0c0 47.5px,#e7b9af 48.5px,#618b4a 49.5px,#0c6d09 50.5px,#006900 52.5px,#006900 61.5px,#247319 62.5px,#dca99a 63.5px,#ffb3b3 64.5px,#ffb3b3 99.5px)"></i><i style="background:linear-gradient(#d42727 0.5px,#d72727 24.5px,#f53333 30.5px,#ff9292 43.5px,#ffb2b2 47.5px,#e7b1a7 48.5px,#618a47 49.5px,#0c7009 50.5px,#006c00 52.5px,#006c00 61.5px,#237619 62.5px,#dca99a 63.5px,#ffb3b3 64.5px,#ffb3b3 99.5px)"></i><i style="background:linear-gradient(#6b6366 0.5px,#705e61 24.5px,#ad2d2d 28.5px,#de1c1c 32.5px,#fa3030 38.5px,#ff7272 45.5px,#ff9191 47.5px,#e79a90 48.5px,#618140 49.5px,#0c6d08 50.5px,#006a00 52.5px,#006a00 61.5px,#237419 62.5px,#dca99a 63.5px,#ffb3b3 64.5px,#ffb3b3 99.5px)"></i><i style="background:linear-gradient(#30a6b9 0.5px,#31a4b6 24.5px,#468b92 27.5px,#844141 31.5px,#bd1b1b 34.5px,#ea1616 38.5px,#fc2f2f 43.5px,#ff6464 47.5px,#e7746b 48.5px,#617131 49.5px,#0c6806 50.5px,#060 52.5px,#006700 61.5px,#237119 62.5px,#dca99a 63.5px,#ffb3b3 64.5px,#ffacac 87.5px,#fba2a2 99.5px)"></i><i style="background:linear-gradient(#24b3d2 0.5px,#26b2cc 25.5px,#2fa8b5 28.5px,#4c7f80 31.5px,#883434 34.5px,#c41414 37.5px,#e91313 40.5px,#fa2222 44.5px,#fe4747 47.5px,#e7584f 48.5px,#616225 49.5px,#0c6205 50.5px,#006200 52.5px,#006200 61.5px,#236d19 62.5px,#dca89a 63.5px,#ffb3b3 64.5px,#ffafaf 79.5px,#f18989 86.5px,#dd5f60 94.5px,#d05557 99.5px)"></i><i style="background:linear-gradient(#24b4d5 0.5px,#25b3d0 25.5px,#30a6b1 29.5px,#428c8d 31.5px,#7d3b3b 34.5px,#a81c1c 36.5px,#de1111 39.5px,#fa1d1d 44.5px,#fe3e3e 47.5px,#e74d45 48.5px,#615921 49.5px,#0c5c04 50.5px,#005c00 52.5px,#005c00 61.5px,#236819 62.5px,#dca79a 63.5px,#ffb3b3 64.5px,#ffadad 76.5px,#fb9c9c 78.5px,#dc5354 82.5px,#bc484a 84.5px,#8a6369 87.5px,#5f808b 92.5px,#4d8f9f 99.5px)"></i><i style="background:linear-gradient(#26b2cd 0.5px,#26b2cb 24.5px,#369ea7 28.5px,#5d6768 31.5px,#9b2727 34.5px,#d21313 37.5px,#f11717 41.5px,#fc2f2f 45.5px,#fe4545 47.5px,#e7524a 48.5px,#615722 49.5px,#0c5504 50.5px,#050 52.5px,#050 61.5px,#236219 62.5px,#dba69a 63.5px,#ffb3b3 64.5px,#ffb1b1 73.5px,#fc9b9b 75.5px,#ec5a5a 77.5px,#d94040 78.5px,#c03939 79.5px,#84585b 81.5px,#54838c 83.5px,#36a1bb 86.5px,#27a9d2 94.5px,#25aad6 99.5px)"></i><i style="background:linear-gradient(#42a2b0 0.5px,#44a0ad 24.5px,#5c8083 27.5px,#9e3939 31.5px,#d02222 34.5px,#f02424 38.5px,#fd4444 44.5px,#f45d59 47.5px,#dc6559 48.5px,#5c5b28 49.5px,#0b5105 50.5px,#004f00 52.5px,#004f00 61.5px,#225c18 62.5px,#d1a293 63.5px,#f4afab 64.5px,#ffaeae 68.5px,#faa 72.5px,#fd9898 73.5px,#e93f3f 75.5px,#cf2c2c 76.5px,#ae3131 77.5px,#686769 79.5px,#4196a2 81.5px,#2ea8c7 84.5px,#24a4dc 90.5px,#24a3de 99.5px)"></i><i style="background:linear-gradient(#c07375 0.5px,#c27476 24.5px,#f06a6a 32.5px,#ff9594 44.5px,#fa9795 45.5px,#da9081 46.5px,#a7835f 47.5px,#908054 48.5px,#3c6825 49.5px,#075705 50.5px,#005400 55.5px,#005400 61.5px,#165d0f 62.5px,#888c5f 63.5px,#a79572 64.5px,#da9586 65.5px,#fa9593 66.5px,#ff9494 71.5px,#fe8686 72.5px,#f85a5a 73.5px,#eb4141 74.5px,#d73a3a 75.5px,#bd4141 76.5px,#8f6d6f 78.5px,#798791 80.5px,#4f92bd 91.5px,#4e93bf 99.5px)"></i><i style="background:linear-gradient(#f88686 0.5px,#f88a8a 22.5px,#ffb1b1 35.5px,#ffbebe 44.5px,#f4bbb6 45.5px,#a7a27c 46.5px,#2d7a1f 47.5px,#096e06 49.5px,#006b00 53.5px,#036c02 62.5px,#2d7a1f 64.5px,#a79872 65.5px,#f4aba6 66.5px,#ffaeae 68.5px,#ffabab 72.5px,#f89f9f 75.5px,#e8acb0 84.5px,#e3aeb4 99.5px)"></i><i style="background:linear-gradient(#fe6868 0.5px,#fe6d6d 22.5px,#ffa9a9 33.5px,#ffc1c1 44.5px,#f3bfb9 45.5px,#9ea779 46.5px,#188112 47.5px,#007a00 48.5px,#007a00 63.5px,#187f11 64.5px,#9e9d6f 65.5px,#f3b1ab 66.5px,#ffb3b3 68.5px,#ffb3b3 99.5px)"></i><i style="background:linear-gradient(#eb2d2d 0.5px,#f13232 23.5px,#ff8787 36.5px,#ffb7b7 44.5px,#f3b8b2 45.5px,#9ea776 46.5px,#188712 47.5px,#008200 48.5px,#008200 63.5px,#188611 64.5px,#9ea16f 65.5px,#f3b1ab 66.5px,#ffb3b3 68.5px,#ffb3b3 99.5px)"></i><i style="background:linear-gradient(#993c3e 0.5px,#9a3b3d 21.5px,#dd1f1f 27.5px,#f93232 33.5px,#ff7474 41.5px,#ff9a9a 44.5px,#f3a49e 45.5px,#9e9c6c 46.5px,#188410 47.5px,#007f00 48.5px,#007f00 63.5px,#188411 64.5px,#9ea06f 65.5px,#f3b1ab 66.5px,#ffb3b3 68.5px,#ffb3b3 99.5px)"></i><i style="background:linear-gradient(#3e97a3 0.5px,#3e96a2 21.5px,#597579 24.5px,#9b3232 28.5px,#cc1919 31.5px,#ef1a1a 35.5px,#fe4242 41.5px,#ff6a6a 44.5px,#f37b75 45.5px,#9e8456 46.5px,#187b0d 47.5px,#007900 48.5px,#007900 63.5px,#187e11 64.5px,#9e9d6f 65.5px,#f3b1ab 66.5px,#ffb3b3 68.5px,#ffacac 99.5px)"></i><i style="background:linear-gradient(#26b1cc 0.5px,#28b0c9 22.5px,#3b98a0 26.5px,#646060 29.5px,#a12424 32.5px,#d61313 35.5px,#f31919 39.5px,#fd3838 43.5px,#fe4646 44.5px,#f35752 45.5px,#9e693e 46.5px,#18700a 47.5px,#007100 48.5px,#007100 63.5px,#187711 64.5px,#9e9a6f 65.5px,#f3b0ab 66.5px,#ffb3b3 68.5px,#ffacac 84.5px,#ed7f7f 99.5px)"></i><i style="background:linear-gradient(#23b4d5 0.5px,#24b4d2 22.5px,#2cacba 26.5px,#478485 29.5px,#843535 32.5px,#b01919 34.5px,#e21111 37.5px,#fa2020 42.5px,#fd3737 44.5px,#f34641 45.5px,#9e5a32 46.5px,#186708 47.5px,#006900 48.5px,#006900 63.5px,#187011 64.5px,#9e976f 65.5px,#f3b0ab 66.5px,#ffb3b3 68.5px,#ffb0b0 79.5px,#f78e8e 83.5px,#db5a5b 87.5px,#b24e51 91.5px,#8f6065 96.5px,#87656b 99.5px)"></i><i style="background:linear-gradient(#24b3d2 0.5px,#25b3cf 22.5px,#32a4ae 26.5px,#45898b 28.5px,#932b2b 32.5px,#ce1313 35.5px,#eb1313 38.5px,#fb2424 42.5px,#fd3939 44.5px,#f34742 45.5px,#9e5632 46.5px,#185e08 47.5px,#006000 48.5px,#006000 63.5px,#186711 64.5px,#9e946f 65.5px,#f3afab 66.5px,#ffb3b3 68.5px,#ffb1b1 76.5px,#fda0a0 78.5px,#e45252 81.5px,#d24242 82.5px,#ba3f40 83.5px,#706e74 86.5px,#4496a9 89.5px,#32a3c2 97.5px,#31a3c4 99.5px)"></i><i style="background:linear-gradient(#33a7bb 0.5px,#36a4b6 22.5px,#498c91 25.5px,#893d3d 29.5px,#c11c1c 32.5px,#e61818 35.5px,#fc3030 41.5px,#fe4c4c 44.5px,#f35853 45.5px,#9e5d3c 46.5px,#185709 47.5px,#005600 48.5px,#005600 63.5px,#185e11 64.5px,#9e906f 65.5px,#f3afab 66.5px,#ffb3b3 68.5px,#ffb2b2 74.5px,#fc9797 76.5px,#e64747 78.5px,#ce3232 79.5px,#ae3737 80.5px,#6a676a 82.5px,#4096a2 84.5px,#29abca 87.5px,#22abdd 91.5px,#21a9e1 99.5px)"></i><i style="background:linear-gradient(#86767b 0.5px,#8a7175 22.5px,#cd3f3f 28.5px,#f24141 33.5px,#ff7979 43.5px,#fc7f7e 44.5px,#df7f72 45.5px,#8a7149 46.5px,#14570b 47.5px,#005200 48.5px,#005200 63.5px,#145a0e 64.5px,#888960 65.5px,#d4a695 66.5px,#f1aba5 67.5px,#ffacac 69.5px,#fea4a4 74.5px,#ef4949 76.5px,#d93333 77.5px,#ba3434 78.5px,#974747 79.5px,#5c888b 81.5px,#43a8b7 83.5px,#38b1d2 86.5px,#35a6e1 93.5px,#35a5e2 99.5px)"></i><i style="background:linear-gradient(#ed9898 0.5px,#ee9f9f 22.5px,#ffb3b3 39.5px,#ffb9b9 43.5px,#ebb4ab 44.5px,#759052 45.5px,#207714 46.5px,#036f02 47.5px,#036f02 64.5px,#167710 65.5px,#367d23 66.5px,#aa8761 67.5px,#f38d88 68.5px,#fd8e8e 70.5px,#fc8585 75.5px,#ed7979 78.5px,#b1adb2 85.5px,#abb1c3 92.5px,#abb1c4 99.5px)"></i><i style="background:linear-gradient(#ff7f7f 0.5px,#ff8181 20.5px,#ffacac 29.5px,#ffc3c3 43.5px,#e7bdb1 44.5px,#619a4a 45.5px,#0c8409 46.5px,#008100 48.5px,#008100 65.5px,#188510 66.5px,#9e9c6b 67.5px,#f3aaa4 68.5px,#ffacac 70.5px,#f5b3b5 99.5px)"></i><i style="background:linear-gradient(#f73f3f 0.5px,#f84141 20.5px,#ffa9a9 37.5px,#ffbebe 43.5px,#e7bcae 44.5px,#61a249 45.5px,#0c9209 46.5px,#008f00 48.5px,#008f00 65.5px,#189311 66.5px,#9ea66f 67.5px,#f3b2ab 68.5px,#ffb3b3 70.5px,#ffb3b3 99.5px)"></i><i style="background:linear-gradient(#c42829 0.5px,#c72828 20.5px,#f02a2a 26.5px,#ff7575 37.5px,#ffaeae 43.5px,#e7b1a4 44.5px,#61a046 45.5px,#0c9209 46.5px,#009000 48.5px,#009000 65.5px,#189411 66.5px,#9ea66f 67.5px,#f3b2ab 68.5px,#ffb3b3 70.5px,#ffb3b3 99.5px)"></i><i style="background:linear-gradient(#59767c 0.5px,#5d7277 20.5px,#aa2d2d 25.5px,#dd1a1a 29.5px,#fa2e2e 35.5px,#ff6868 41.5px,#f88 43.5px,#e7978a 44.5px,#61923d 45.5px,#0c8a08 46.5px,#008900 48.5px,#008900 65.5px,#188d11 66.5px,#9ea36f 67.5px,#f3b1ab 68.5px,#ffb3b3 70.5px,#ffb3b3 99.5px)"></i><i style="background:linear-gradient(#2babc1 0.5px,#2caabf 20.5px,#47898e 24.5px,#9d2a2a 29.5px,#d11414 32.5px,#f21919 36.5px,#fc3333 40.5px,#ff5d5d 43.5px,#e77064 44.5px,#617e2f 45.5px,#0c8006 46.5px,#008000 48.5px,#008000 65.5px,#188411 66.5px,#9ea06f 67.5px,#f3b1ab 68.5px,#ffb3b3 70.5px,#ffacac 89.5px,#f99f9f 99.5px)"></i><i style="background:linear-gradient(#24b4d4 0.5px,#25b3ce 21.5px,#33a2ab 25.5px,#478687 27.5px,#823838 30.5px,#ad1a1a 32.5px,#e11111 35.5px,#fa2020 40.5px,#fe4444 43.5px,#e7574c 44.5px,#616d24 45.5px,#0c7505 46.5px,#007600 48.5px,#007600 65.5px,#187b11 66.5px,#9e9c6f 67.5px,#f3b0ab 68.5px,#ffb3b3 70.5px,#ffacac 83.5px,#f38989 88.5px,#d45759 95.5px,#c44f52 99.5px)"></i><i style="background:linear-gradient(#24b4d4 0.5px,#25b3cf 21.5px,#32a4ae 25.5px,#458889 27.5px,#803939 30.5px,#ab1b1b 32.5px,#e01111 35.5px,#fa1e1e 40.5px,#fe3f3f 43.5px,#e74f45 44.5px,#616321 45.5px,#0c6a04 46.5px,#006b00 48.5px,#006b00 65.5px,#187211 66.5px,#9e986f 67.5px,#f3b0ab 68.5px,#ffb3b3 70.5px,#ffb1b1 79.5px,#f99292 82.5px,#dd5151 85.5px,#b94547 87.5px,#6d757e 91.5px,#4894a5 97.5px,#4398ab 99.5px)"></i><i style="background:linear-gradient(#27b0c9 0.5px,#28b0c7 20.5px,#3c969d 24.5px,#685b5b 27.5px,#a52222 30.5px,#e31212 34.5px,#fc2929 40.5px,#fe4949 43.5px,#e7564d 44.5px,#615f24 45.5px,#0c5f05 46.5px,#005f00 48.5px,#005f00 65.5px,#186711 66.5px,#9e936f 67.5px,#f3afab 68.5px,#ffb3b3 70.5px,#ffb0b0 77.5px,#fb9292 79.5px,#e54a4a 81.5px,#ce3737 82.5px,#b03b3c 83.5px,#597c83 86.5px,#3c9bad 88.5px,#29a8ce 92.5px,#23abda 99.5px)"></i><i style="background:linear-gradient(#4e9ea8 0.5px,#509ba4 20.5px,#7d6061 24.5px,#c02d2d 28.5px,#ea2727 32.5px,#fd4646 39.5px,#fe5f5f 42.5px,#f66763 43.5px,#d46c5a 44.5px,#586228 45.5px,#0b5905 46.5px,#005800 48.5px,#005800 65.5px,#16600f 66.5px,#918d65 67.5px,#e5a99e 68.5px,#fcacab 69.5px,#fea9a9 76.5px,#fd9494 77.5px,#e63939 79.5px,#c92e2e 80.5px,#a53737 81.5px,#607779 83.5px,#3da2b0 85.5px,#2fb1d1 88.5px,#2ba7e1 94.5px,#2ba6e3 99.5px)"></i><i style="background:linear-gradient(#dd8687 0.5px,#e38788 22.5px,#fc8c8c 31.5px,#ffabab 41.5px,#f8aba8 42.5px,#c39f82 43.5px,#67863f 44.5px,#257416 45.5px,#056a03 46.5px,#006900 65.5px,#096d06 66.5px,#43812e 67.5px,#ec8c85 69.5px,#fa8c8c 70.5px,#fa8686 76.5px,#f05959 78.5px,#e15252 79.5px,#b06a6a 81.5px,#899b9e 83.5px,#7bafba 85.5px,#75a7d2 93.5px,#75a7d2 99.5px)"></i><i style="background:linear-gradient(#fe8484 0.5px,#fe8a8a 19.5px,#ffb0b0 29.5px,#ffc1c1 41.5px,#f4c0b9 42.5px,#a3ad7c 43.5px,#228e19 44.5px,#058603 45.5px,#018501 66.5px,#13890d 67.5px,#679646 68.5px,#e8a99d 69.5px,#feacac 70.5px,#f6a6a6 80.5px,#ebb3b6 88.5px,#eab1b8 99.5px)"></i><i style="background:linear-gradient(#fd5b5b 0.5px,#fd6161 19.5px,#ffa7a7 31.5px,#ffc0c0 41.5px,#f3c0b9 42.5px,#9eb379 43.5px,#189d13 44.5px,#019901 45.5px,#019901 66.5px,#0d9a09 67.5px,#61a344 68.5px,#e7b1a3 69.5px,#ffb3b3 70.5px,#ffb3b3 99.5px)"></i><i style="background:linear-gradient(#e22929 0.5px,#e62a2a 19.5px,#fd5050 27.5px,#ffb5b5 41.5px,#f3b8b1 42.5px,#9fb276 43.5px,#19a413 44.5px,#02a102 45.5px,#02a102 66.5px,#0da20a 67.5px,#62a845 68.5px,#e7b2a3 69.5px,#ffb3b3 70.5px,#ffb3b3 99.5px)"></i><i style="background:linear-gradient(#814e51 0.5px,#834c4e 18.5px,#c82222 23.5px,#f02222 28.5px,#fe5757 36.5px,#ff9595 41.5px,#f3a29b 42.5px,#9ea56b 43.5px,#189c10 44.5px,#009a00 45.5px,#009a00 66.5px,#0c9b09 67.5px,#61a444 68.5px,#e7b1a3 69.5px,#ffb3b3 70.5px,#ffb3b3 99.5px)"></i><i style="background:linear-gradient(#369faf 0.5px,#379ead 18.5px,#4f8186 21.5px,#a22b2b 26.5px,#d21717 29.5px,#f51f1f 34.5px,#fe4848 39.5px,#f66 41.5px,#f37a73 42.5px,#9e8b55 43.5px,#188f0d 44.5px,#008f00 45.5px,#008f00 66.5px,#0c9108 67.5px,#619d44 68.5px,#e7b0a3 69.5px,#ffb3b3 70.5px,#ffabab 97.5px,#fea9a9 99.5px)"></i><i style="background:linear-gradient(#25b3d0 0.5px,#27b1cb 19.5px,#389ba4 23.5px,#4e7c7d 25.5px,#8a3434 28.5px,#c51515 31.5px,#e91313 34.5px,#fa2222 38.5px,#fe4646 41.5px,#f35952 42.5px,#9e713f 43.5px,#18810a 44.5px,#008300 45.5px,#008300 66.5px,#0c8508 67.5px,#619544 68.5px,#e7afa3 69.5px,#ffb3b3 70.5px,#ffaeae 86.5px,#e77475 99.5px)"></i><i style="background:linear-gradient(#23b4d5 0.5px,#24b3d1 19.5px,#2eaab6 23.5px,#3e9395 25.5px,#8b2f2f 29.5px,#b51717 31.5px,#e41111 34.5px,#fb2323 39.5px,#fe3a3a 41.5px,#f34b45 42.5px,#9e6235 43.5px,#187408 44.5px,#070 45.5px,#070 66.5px,#0c7908 67.5px,#618e44 68.5px,#e7aea3 69.5px,#ffb3b3 70.5px,#ffafaf 82.5px,#f99595 85.5px,#db5657 89.5px,#b14e51 92.5px,#88646a 96.5px,#757078 99.5px)"></i><i style="background:linear-gradient(#25b3d0 0.5px,#26b2cb 19.5px,#30a6b2 22.5px,#4f7a7b 25.5px,#8c3131 28.5px,#c71414 31.5px,#e91313 34.5px,#fc2929 39.5px,#fe3f3f 41.5px,#f34d48 42.5px,#9e5e36 43.5px,#186808 44.5px,#006900 45.5px,#006a00 66.5px,#0c6d08 67.5px,#618644 68.5px,#e7aca3 69.5px,#ffb3b3 70.5px,#ffb2b2 79.5px,#fd9f9f 81.5px,#e14a4a 84.5px,#cb3c3c 85.5px,#945052 87.5px,#518894 90.5px,#389fba 93.5px,#2da5c9 99.5px)"></i><i style="background:linear-gradient(#3ba3b4 0.5px,#3ca2b3 18.5px,#4d8c92 21.5px,#8a4242 25.5px,#c02020 28.5px,#eb1d1d 32.5px,#fd3a3a 38.5px,#ff5756 41.5px,#f3625d 42.5px,#9e6643 43.5px,#185d0a 44.5px,#005c00 45.5px,#005c00 66.5px,#0c6008 67.5px,#617d44 68.5px,#e7aaa2 69.5px,#ffb2b2 70.5px,#feabab 78.5px,#fc9999 79.5px,#e64545 81.5px,#cd3030 82.5px,#ac3535 83.5px,#66686b 85.5px,#3d99a6 87.5px,#27adcd 90.5px,#22aadf 94.5px,#21a8e2 99.5px)"></i><i style="background:linear-gradient(#a6686b 0.5px,#a7686b 18.5px,#de4b4b 25.5px,#fb5f5f 32.5px,#fc9290 41.5px,#df9182 42.5px,#8a7e53 43.5px,#145d0c 44.5px,#005700 45.5px,#005700 66.5px,#0a5b07 67.5px,#537638 68.5px,#c9a088 69.5px,#e9a99e 70.5px,#fcacaa 71.5px,#ffa8a8 77.5px,#fc8888 78.5px,#f15353 79.5px,#dc3939 80.5px,#be3737 81.5px,#9b4949 82.5px,#628b8e 84.5px,#4aaab9 86.5px,#41add4 90.5px,#3fa2dd 99.5px)"></i><i style="background:linear-gradient(#f38d8d 0.5px,#f49292 18.5px,#ffbcbc 40.5px,#ebb9ae 41.5px,#759f55 42.5px,#208b16 43.5px,#048302 44.5px,#028201 67.5px,#0e8709 68.5px,#2b8f1d 69.5px,#779a51 70.5px,#ebaa9f 71.5px,#ffadad 72.5px,#fea6a6 78.5px,#f39999 81.5px,#e1a9ac 87.5px,#e0a1ab 99.5px)"></i><i style="background:linear-gradient(#fe7777 0.5px,#fe7878 17.5px,#ffabab 27.5px,#ffc2c2 40.5px,#e7bfb1 41.5px,#62ac4b 42.5px,#0e9f0b 43.5px,#029d02 45.5px,#029d02 68.5px,#0e9e0a 69.5px,#62a545 70.5px,#e7b0a2 71.5px,#ffb2b2 72.5px,#ffb0b0 99.5px)"></i><i style="background:linear-gradient(#f33636 0.5px,#f63a3a 18.5px,#ffb0b0 37.5px,#ffbcbc 40.5px,#e8bdad 41.5px,#64b44c 42.5px,#11ae0f 43.5px,#06ad06 45.5px,#06ad06 68.5px,#11ad0e 69.5px,#64af48 70.5px,#e8b3a3 71.5px,#ffb3b3 72.5px,#ffb3b3 99.5px)"></i><i style="background:linear-gradient(#b42e2e 0.5px,#b72c2d 17.5px,#eb2323 23.5px,#fe5858 32.5px,#ffa8a7 40.5px,#e8afa0 41.5px,#64ae47 42.5px,#10ab0d 43.5px,#05aa05 45.5px,#05aa05 68.5px,#10ab0d 69.5px,#64ae47 70.5px,#e8b3a3 71.5px,#ffb3b3 72.5px,#ffb3b3 99.5px)"></i><i style="background:linear-gradient(#4e8289 0.5px,#518086 17.5px,#894142 21.5px,#bc2020 24.5px,#e81919 28.5px,#fc3636 34.5px,#ff6d6d 39.5px,#ff7e7e 40.5px,#e79182 41.5px,#629d3b 42.5px,#0d9f09 43.5px,#019f01 45.5px,#019f01 68.5px,#0da00a 69.5px,#62a745 70.5px,#e7b2a3 71.5px,#ffb3b3 72.5px,#ffb3b3 99.5px)"></i><i style="background:linear-gradient(#2aaec4 0.5px,#2aadc2 17.5px,#399ba5 20.5px,#5e6a6a 23.5px,#992b2b 26.5px,#cf1414 29.5px,#ec1515 32.5px,#fc3030 37.5px,#ff5757 40.5px,#e76c5e 41.5px,#61862c 42.5px,#0c9106 43.5px,#009200 45.5px,#009200 68.5px,#0c9409 69.5px,#619f44 70.5px,#e7b0a3 71.5px,#ffb3b3 72.5px,#ffacac 91.5px,#f89d9d 99.5px)"></i><i style="background:linear-gradient(#24b3d1 0.5px,#26b3cd 18.5px,#2eaab6 21.5px,#3e9396 23.5px,#8a3131 27.5px,#b41717 29.5px,#e41111 32.5px,#fb2121 37.5px,#fe4444 40.5px,#e7574b 41.5px,#617523 42.5px,#0c8205 43.5px,#008300 45.5px,#008300 68.5px,#0c8608 69.5px,#619644 70.5px,#e7afa3 71.5px,#ffb3b3 72.5px,#ffb0b0 85.5px,#f99797 89.5px,#de6062 94.5px,#bc4e50 99.5px)"></i><i style="background:linear-gradient(#25b3cf 0.5px,#27b2ca 18.5px,#31a5af 21.5px,#448a8c 23.5px,#7d3d3d 26.5px,#bb1616 29.5px,#e61111 32.5px,#fb2222 37.5px,#fe4343 40.5px,#e75348 41.5px,#616a22 42.5px,#0c7404 43.5px,#007500 45.5px,#007500 68.5px,#0c7808 69.5px,#618d44 70.5px,#e7aea3 71.5px,#ffb3b3 72.5px,#ffb1b1 82.5px,#fda0a0 84.5px,#e75b5b 87.5px,#c44142 89.5px,#965558 91.5px,#5c818d 94.5px,#4299ad 98.5px,#409aaf 99.5px)"></i><i style="background:linear-gradient(#30a8ba 0.5px,#31a7b9 17.5px,#439096 20.5px,#833f3f 24.5px,#bd1a1a 27.5px,#e41414 30.5px,#fb2b2b 36.5px,#ff5352 40.5px,#e75f55 41.5px,#616627 42.5px,#0c6605 43.5px,#060 45.5px,#060 68.5px,#0c6908 69.5px,#618344 70.5px,#e7aca3 71.5px,#ffb3b3 72.5px,#ffb1b1 80.5px,#fb9595 82.5px,#e64949 84.5px,#ce3535 85.5px,#af3939 86.5px,#547f86 89.5px,#399eb1 91.5px,#26aad4 95.5px,#23abdb 99.5px)"></i><i style="background:linear-gradient(#717a7e 0.5px,#73787c 17.5px,#c03535 23.5px,#e92e2e 27.5px,#fd5151 35.5px,#fc7b79 40.5px,#d57d6a 41.5px,#586c2e 42.5px,#0b5e06 43.5px,#005c00 45.5px,#005c00 68.5px,#0b6008 69.5px,#587c3e 70.5px,#d4a794 71.5px,#f6afaa 72.5px,#ffb0b0 76.5px,#ffaeae 79.5px,#fea0a0 80.5px,#ea4242 82.5px,#d13030 83.5px,#b03535 84.5px,#8c4d4d 85.5px,#558c91 87.5px,#3fa6b8 89.5px,#36a7d3 93.5px,#359fda 99.5px)"></i><i style="background:linear-gradient(#e98788 0.5px,#f08d8d 20.5px,#ffaeae 35.5px,#ffb6b5 39.5px,#e9b3a7 40.5px,#6e994b 41.5px,#258419 42.5px,#057803 43.5px,#057803 69.5px,#258419 70.5px,#679744 71.5px,#c39d7c 72.5px,#f89f9b 73.5px,#ffa0a0 78.5px,#ff9c9c 79.5px,#f77272 81.5px,#de6969 83.5px,#b68e8f 86.5px,#ac96a2 90.5px,#a988a3 99.5px)"></i><i style="background:linear-gradient(#ff8b8b 0.5px,#ff8d8d 16.5px,#ffb7b7 28.5px,#ffc3c3 39.5px,#ddbfaa 40.5px,#2fa624 41.5px,#079e06 42.5px,#079e05 70.5px,#23a219 71.5px,#a4aa71 72.5px,#f4afa8 73.5px,#ffb0b0 75.5px,#f6aeae 86.5px,#f4abaf 99.5px)"></i><i style="background:linear-gradient(#fc5656 0.5px,#fd5959 16.5px,#ffa6a6 29.5px,#ffc1c1 39.5px,#ddc0a8 40.5px,#2bb622 41.5px,#09b408 42.5px,#08b408 70.5px,#1fb418 71.5px,#a1b472 72.5px,#f3b3ab 73.5px,#ffb3b3 75.5px,#ffb3b3 99.5px)"></i><i style="background:linear-gradient(#e22525 0.5px,#e82727 17.5px,#fd5050 25.5px,#ffb6b6 39.5px,#ddbaa2 40.5px,#2cb923 41.5px,#0ab80a 42.5px,#0ab80a 70.5px,#21b81a 71.5px,#a2b573 72.5px,#f3b4ab 73.5px,#ffb3b3 75.5px,#ffb3b3 99.5px)"></i><i style="background:linear-gradient(#85494a 0.5px,#8b4445 16.5px,#c62020 20.5px,#f02020 25.5px,#fe5454 33.5px,#ff9c9c 39.5px,#dca891 40.5px,#29ae1d 41.5px,#06ae06 42.5px,#06ae06 70.5px,#1daf16 71.5px,#a0b172 72.5px,#f3b3ab 73.5px,#ffb3b3 75.5px,#ffb3b3 99.5px)"></i><i style="background:linear-gradient(#3a9ba6 0.5px,#3c97a1 16.5px,#5f6b6c 19.5px,#963131 22.5px,#cb1717 25.5px,#ef1818 29.5px,#fc3333 34.5px,#ff6262 38.5px,#ff7473 39.5px,#dc8972 40.5px,#259d14 41.5px,#02a002 42.5px,#02a002 70.5px,#19a212 71.5px,#9fac70 72.5px,#f3b2ab 73.5px,#ffb3b3 75.5px,#ffadad 96.5px,#fea8a8 99.5px)"></i><i style="background:linear-gradient(#27b1c8 0.5px,#28b1c6 16.5px,#369ea6 19.5px,#4c7f7f 21.5px,#833 24.5px,#c41414 27.5px,#e91212 30.5px,#fb2626 35.5px,#ff5757 39.5px,#dc6d59 40.5px,#248b0f 41.5px,#009100 42.5px,#009100 70.5px,#189411 71.5px,#9ea66f 72.5px,#f3b2ab 73.5px,#ffb3b3 75.5px,#ffacac 89.5px,#ee8484 96.5px,#e57171 99.5px)"></i><i style="background:linear-gradient(#26b3cb 0.5px,#28b1c4 17.5px,#399a9e 20.5px,#566e6e 22.5px,#952828 25.5px,#d11212 28.5px,#eb1313 31.5px,#fb2222 35.5px,#ff4f4f 39.5px,#dc6250 40.5px,#237b0d 41.5px,#008000 42.5px,#008000 70.5px,#188511 71.5px,#9ea06f 72.5px,#f3b1ab 73.5px,#ffb3b3 75.5px,#ffafaf 85.5px,#f99191 88.5px,#e05858 91.5px,#c24749 93.5px,#82676e 97.5px,#6f747d 99.5px)"></i><i style="background:linear-gradient(#2badbf 0.5px,#2dabbb 16.5px,#438c90 19.5px,#8b3434 23.5px,#c51515 26.5px,#e81313 29.5px,#fc2d2d 35.5px,#ff5757 39.5px,#db6556 40.5px,#236e0e 41.5px,#006f00 42.5px,#006f00 70.5px,#187611 71.5px,#9e9a6f 72.5px,#f3b0ab 73.5px,#ffb3b3 75.5px,#ffacac 83.5px,#f98989 85.5px,#e14747 87.5px,#ca3939 88.5px,#ad3f40 89.5px,#5a7d84 92.5px,#389fb7 95.5px,#2ca6ca 99.5px)"></i><i style="background:linear-gradient(#538d92 0.5px,#57888c 16.5px,#a53535 21.5px,#d42222 24.5px,#f52828 29.5px,#ff5d5d 37.5px,#f7716c 39.5px,#d27764 40.5px,#226510 41.5px,#006200 42.5px,#006200 70.5px,#176910 71.5px,#97936a 72.5px,#e9ada3 73.5px,#faafac 74.5px,#ffacac 81.5px,#fea0a0 82.5px,#fa7c7c 83.5px,#ef4c4c 84.5px,#d92e2e 85.5px,#ba2d2d 86.5px,#953e3e 87.5px,#577b80 89.5px,#3a9dae 91.5px,#29a7d2 95.5px,#24a4dc 99.5px)"></i><i style="background:linear-gradient(#cf6c6d 0.5px,#d26d6d 16.5px,#f86f6f 24.5px,#ffa1a1 37.5px,#f6a49f 38.5px,#8d955a 40.5px,#16710e 41.5px,#006a00 42.5px,#006a00 70.5px,#0f700a 71.5px,#628f44 72.5px,#a0a16d 73.5px,#da9b86 74.5px,#fa9693 75.5px,#ff9595 80.5px,#fe8e8e 81.5px,#f04646 83.5px,#de3a3a 84.5px,#c63c3c 85.5px,#85797c 88.5px,#728b9c 91.5px,#5092bc 99.5px)"></i><i style="background:linear-gradient(#fb9393 0.5px,#fb9898 15.5px,#ffbcbc 33.5px,#ffc0c0 37.5px,#eabeb0 38.5px,#71ac54 39.5px,#21a018 40.5px,#059804 41.5px,#049803 71.5px,#119c0c 72.5px,#2ea120 73.5px,#a8a873 74.5px,#f4ada6 75.5px,#ffaeae 77.5px,#fea5a5 82.5px,#f1a3a3 86.5px,#e3adb4 99.5px)"></i><i style="background:linear-gradient(#fe7c7c 0.5px,#ff8282 15.5px,#ffb1b1 26.5px,#ffc2c2 37.5px,#e8c2b2 38.5px,#66ba4f 39.5px,#14b411 40.5px,#08b408 42.5px,#09b408 72.5px,#1fb418 73.5px,#a1b372 74.5px,#f3b3ab 75.5px,#ffb3b3 77.5px,#ffb3b3 99.5px)"></i><i style="background:linear-gradient(#f53737 0.5px,#f83c3c 15.5px,#ffadad 33.5px,#ffbcbc 37.5px,#e9bfae 38.5px,#69c151 39.5px,#19c216 40.5px,#0dc20d 42.5px,#0ec20e 72.5px,#24c11d 73.5px,#a3b974 74.5px,#f4b4ac 75.5px,#ffb3b3 77.5px,#ffb3b3 99.5px)"></i><i style="background:linear-gradient(#c22525 0.5px,#c42525 14.5px,#f12424 20.5px,#ff6f6f 31.5px,#faa 37.5px,#e8b3a2 38.5px,#68b94c 39.5px,#16bb13 40.5px,#0bbb0b 42.5px,#0bbb0b 72.5px,#22bb1b 73.5px,#a2b673 74.5px,#f4b4ab 75.5px,#ffb3b3 77.5px,#ffb3b3 99.5px)"></i><i style="background:linear-gradient(#5f6d70 0.5px,#626a6c 14.5px,#b42222 19.5px,#e51717 23.5px,#fc3737 30.5px,#f77 36.5px,#ff8787 37.5px,#e89889 38.5px,#64a840 39.5px,#12ad0d 40.5px,#06ad06 42.5px,#06ad06 72.5px,#1dae16 73.5px,#a0b171 74.5px,#f3b3ab 75.5px,#ffb3b3 77.5px,#ffb3b3 99.5px)"></i><i style="background:linear-gradient(#30a6b4 0.5px,#31a5b2 14.5px,#4b8284 17.5px,#972a2a 21.5px,#ce1313 24.5px,#eb1414 27.5px,#fc2a2a 32.5px,#ff6464 37.5px,#e7786a 38.5px,#629231 39.5px,#0d9c07 40.5px,#019d01 42.5px,#019d01 72.5px,#199f12 73.5px,#9fab70 74.5px,#f3b2ab 75.5px,#ffb3b3 77.5px,#ffacac 93.5px,#f89d9d 99.5px)"></i><i style="background:linear-gradient(#28b2c5 0.5px,#28b1c4 14.5px,#379ca2 17.5px,#527373 19.5px,#7c3c3c 21.5px,#a71c1c 23.5px,#d11 26.5px,#fa2020 32.5px,#f55 37.5px,#e7675a 38.5px,#618029 39.5px,#0c8b05 40.5px,#008c00 42.5px,#008c00 72.5px,#188f11 73.5px,#9ea46f 74.5px,#f3b2ab 75.5px,#ffb3b3 77.5px,#ffafaf 88.5px,#f68c8c 92.5px,#da595a 96.5px,#bc4d50 99.5px)"></i><i style="background:linear-gradient(#2badbd 0.5px,#2cacbb 14.5px,#428d90 17.5px,#8d3030 21.5px,#c81414 24.5px,#e91313 27.5px,#fb2525 32.5px,#ff5757 37.5px,#e7665b 38.5px,#617529 39.5px,#0c7905 40.5px,#007a00 42.5px,#007a00 72.5px,#187f11 73.5px,#9e9e6f 74.5px,#f3b1ab 75.5px,#ffb3b3 77.5px,#ffb1b1 85.5px,#fc9e9e 87.5px,#e35050 90.5px,#cf4141 91.5px,#b74041 92.5px,#5b818b 96.5px,#4497aa 98.5px,#409aaf 99.5px)"></i><i style="background:linear-gradient(#488d93 0.5px,#4a8a8f 14.5px,#735555 17.5px,#ac2525 20.5px,#e41818 24.5px,#fc3434 31.5px,#ff6b6b 37.5px,#e7756b 38.5px,#617030 39.5px,#0c6906 40.5px,#006800 42.5px,#006800 72.5px,#186f11 73.5px,#9e976f 74.5px,#f3b0ab 75.5px,#ffb3b3 77.5px,#ffb1b1 83.5px,#fb9494 85.5px,#e44444 87.5px,#cb3232 88.5px,#aa3939 89.5px,#666a6d 91.5px,#3e98a5 93.5px,#29abcb 96.5px,#23abdb 99.5px)"></i><i style="background:linear-gradient(#a95354 0.5px,#ab5252 14.5px,#df3c3c 19.5px,#f94d4d 25.5px,#fa9693 37.5px,#cc937a 38.5px,#537833 39.5px,#0a6407 40.5px,#006100 42.5px,#006100 72.5px,#14680e 73.5px,#8a9160 74.5px,#dfaa9a 75.5px,#fbacaa 76.5px,#ffabab 82.5px,#fea2a2 83.5px,#ed4545 85.5px,#d63232 86.5px,#b63535 87.5px,#924a4a 88.5px,#5a8b8f 90.5px,#41a9b9 92.5px,#37aed8 96.5px,#35a7e0 99.5px)"></i><i style="background:linear-gradient(#f49e9e 0.5px,#fda8a8 20.5px,#ffbdbc 36.5px,#e1b9a7 37.5px,#409f2d 38.5px,#0f950a 39.5px,#019101 41.5px,#059204 73.5px,#219816 74.5px,#759745 75.5px,#e98f83 76.5px,#fd8e8e 77.5px,#fd8c8c 83.5px,#f47878 86.5px,#ca8e8f 90.5px,#b0aeb5 94.5px,#abb1c3 99.5px)"></i><i style="background:linear-gradient(#ff9898 0.5px,#ff9e9e 14.5px,#ffbebe 28.5px,#ffc3c3 36.5px,#ddc1aa 37.5px,#2ab422 38.5px,#08b208 39.5px,#08b108 73.5px,#13b10f 74.5px,#66b046 75.5px,#e8ad9d 76.5px,#feacac 77.5px,#f5b3b5 99.5px)"></i><i style="background:linear-gradient(#fd5959 0.5px,#fd5c5c 13.5px,#ffa7a7 26.5px,#ffc1c1 36.5px,#dec3a9 37.5px,#31c728 38.5px,#10c810 39.5px,#0fc80f 73.5px,#1bc717 74.5px,#6ac04e 75.5px,#e9b5a4 76.5px,#ffb3b3 77.5px,#ffb3b3 99.5px)"></i><i style="background:linear-gradient(#e72424 0.5px,#ed2727 14.5px,#fe6363 24.5px,#ffb8b7 36.5px,#debda4 37.5px,#31c627 38.5px,#10c810 39.5px,#10c80f 73.5px,#1bc717 74.5px,#6ac04e 75.5px,#e9b5a4 76.5px,#ffb3b3 77.5px,#ffb3b3 99.5px)"></i><i style="background:linear-gradient(#993536 0.5px,#a03132 13.5px,#d71a1a 17.5px,#f62323 22.5px,#f66 31.5px,#ffa2a2 36.5px,#ddae95 37.5px,#2db921 38.5px,#0bbb0b 39.5px,#0bbb0b 73.5px,#16bb13 74.5px,#67b84b 75.5px,#e8b4a4 76.5px,#ffb3b3 77.5px,#ffb3b3 99.5px)"></i><i style="background:linear-gradient(#48878c 0.5px,#49878b 12.5px,#4d8185 13.5px,#a52424 18.5px,#d61414 21.5px,#f61d1d 26.5px,#ff5454 33.5px,#ff8080 36.5px,#dc947d 37.5px,#28a719 38.5px,#05ab05 39.5px,#05ab05 73.5px,#11ab0d 74.5px,#64ae47 75.5px,#e8b3a3 76.5px,#ffb3b3 77.5px,#ffadad 97.5px,#fea9a9 99.5px)"></i><i style="background:linear-gradient(#2eaab7 0.5px,#30a6b1 13.5px,#418f91 15.5px,#8d2f2f 19.5px,#c91313 22.5px,#e91212 25.5px,#fb2525 30.5px,#ff5858 35.5px,#ff6868 36.5px,#dc7c67 37.5px,#249412 38.5px,#019901 39.5px,#019901 73.5px,#0d9a09 74.5px,#61a345 75.5px,#e7b1a3 76.5px,#ffb3b3 77.5px,#ffafaf 91.5px,#f58e8e 96.5px,#e77374 99.5px)"></i><i style="background:linear-gradient(#2daab7 0.5px,#30a7b1 13.5px,#408f91 15.5px,#8e2e2e 19.5px,#ca1313 22.5px,#ea1212 25.5px,#fb2525 30.5px,#ff6363 36.5px,#dc7361 37.5px,#248310 38.5px,#008500 39.5px,#008500 73.5px,#0c8808 74.5px,#619744 75.5px,#e7afa3 76.5px,#ffb3b3 77.5px,#ffaeae 88.5px,#fb9b9b 90.5px,#e45959 93.5px,#c34445 95.5px,#876368 98.5px,#776e76 99.5px)"></i><i style="background:linear-gradient(#418f94 0.5px,#428f93 12.5px,#46898d 13.5px,#8b3535 17.5px,#c51616 20.5px,#e81313 23.5px,#fc2b2b 29.5px,#ff6e6e 36.5px,#db7a6a 37.5px,#237411 38.5px,#007200 39.5px,#007200 73.5px,#0c7508 74.5px,#618b44 75.5px,#e7ada3 76.5px,#ffb3b3 77.5px,#ffb2b2 85.5px,#fd9e9e 87.5px,#ed5a5a 89.5px,#da3e3e 90.5px,#bf3737 91.5px,#80595b 93.5px,#4f8790 95.5px,#389fb4 97.5px,#2ea6c6 99.5px)"></i><i style="background:linear-gradient(#855 0.5px,#8e4f50 13.5px,#cc2a2a 17.5px,#ee2828 21.5px,#fe5151 29.5px,#fb8c8a 36.5px,#ca8c74 37.5px,#206c13 38.5px,#060 39.5px,#060 73.5px,#0b6908 74.5px,#58823e 75.5px,#d5a995 76.5px,#fbacaa 77.5px,#feabab 84.5px,#fea3a3 85.5px,#ef4b4b 87.5px,#d83030 88.5px,#b73030 89.5px,#914444 90.5px,#54878b 92.5px,#39a8b8 94.5px,#2eb0d4 97.5px,#2cabdd 99.5px)"></i><i style="background:linear-gradient(#ec7e7e 0.5px,#f38080 15.5px,#ffb1b1 33.5px,#ffb6b6 35.5px,#ebb4a9 36.5px,#729e4f 37.5px,#0f7f0a 38.5px,#007a00 39.5px,#057c04 74.5px,#29891d 75.5px,#769a4d 76.5px,#e5887c 77.5px,#f98484 78.5px,#f98282 84.5px,#f15252 86.5px,#e54545 87.5px,#cc4646 88.5px,#af5656 89.5px,#7d8f91 91.5px,#68adb8 93.5px,#60a9d3 99.5px)"></i></div>
<div class="cb" style="left:333px;top:282.9px;background:repeating-linear-gradient(90deg,rgba(0,0,0,0.38) 0 1px,rgba(0,0,0,0) 1px 17.2px),linear-gradient(90deg,rgb(0,0,40) 0.00px,rgb(0,5,90) 5.16px,rgb(4,18,170) 10.32px,rgb(10,34,220) 15.48px,rgb(16,58,242) 22.36px,rgb(22,86,252) 30.96px,rgb(28,116,255) 41.28px,rgb(30,143,246) 49.88px,rgb(32,165,230) 58.48px,rgb(35,180,215) 65.36px,rgb(40,178,195) 71.38px,rgb(60,150,150) 75.68px,rgb(110,70,70) 79.12px,rgb(165,25,25) 82.56px,rgb(225,15,15) 86.86px,rgb(250,25,25) 94.60px,rgb(255,70,70) 103.20px,rgb(255,118,118) 111.80px,rgb(255,165,165) 118.68px,rgb(255,200,200) 125.39px,rgb(0,40,0) 125.56px,rgb(0,58,0) 137.60px,rgb(0,80,0) 154.80px,rgb(0,105,0) 172.00px,rgb(0,130,0) 189.20px,rgb(0,158,0) 206.40px,rgb(10,185,10) 223.60px,rgb(20,212,20) 240.80px,rgb(40,238,40) 258.00px)"></div>
<div class="h" style="left:334px;top:307px"><i style="background:linear-gradient(#25b3ce 0.5px,#2aaec5 4.5px,#35a3b6 5.5px,#5b7a81 6.5px,#b42e2e 7.5px,#f02424 8.5px,#fd3434 10.5px,#ff5c5c 15.5px,#ffaeae 20.5px,#fbbfbe 23.5px,#d1aba0 24.5px,#436234 25.5px,#074805 26.5px,#006700 33.5px,#080 43.5px,#008300 65.5px,#014501 79.5px,#26531d 80.5px,#dcb1a8 81.5px,#ffc1c1 82.5px,#ffafaf 85.5px,#ff5c5c 90.5px,#fd3434 95.5px,#fb2626 99.5px)"></i><i style="background:linear-gradient(#31aac3 0.5px,#439caf 3.5px,#578795 4.5px,#80656c 5.5px,#b83d3e 6.5px,#e82828 7.5px,#fa2c2c 8.5px,#ff5858 14.5px,#ffabab 19.5px,#fdbfbf 22.5px,#e0b2ab 23.5px,#697550 24.5px,#134d0f 25.5px,#014a01 26.5px,#008b00 41.5px,#008600 65.5px,#054704 79.5px,#3b5d2d 80.5px,#e0b2ab 81.5px,#ffc1c1 82.5px,#ffaeae 85.5px,#ff5b5b 90.5px,#fd3333 95.5px,#fb2626 99.5px)"></i><i style="background:linear-gradient(#80717c 0.5px,#cb3b3f 3.5px,#ea3233 5.5px,#fd3333 8.5px,#ff5858 13.5px,#ffb3b3 19.5px,#fdbebe 21.5px,#e9b6b1 22.5px,#968d72 23.5px,#1f5318 24.5px,#024a01 25.5px,#008f00 41.5px,#008900 65.5px,#004b00 78.5px,#0b4a08 79.5px,#5b6e46 80.5px,#e6b6b0 81.5px,#ffc0c0 82.5px,#ffadad 85.5px,#ff5959 90.5px,#fd3333 95.5px,#fb2626 99.5px)"></i><i style="background:linear-gradient(#ea393b 0.5px,#fd3838 5.5px,#ff5a5a 11.5px,#ffb4b4 18.5px,#fcbebd 20.5px,#e3b3ac 21.5px,#968d73 22.5px,#27571e 23.5px,#034b03 24.5px,#009300 40.5px,#009000 64.5px,#004b00 78.5px,#0d4b0a 79.5px,#67734e 80.5px,#e8b6b1 81.5px,#ffc0c0 82.5px,#ffabab 85.5px,#ff5858 90.5px,#fc2e2e 96.5px,#fb2626 99.5px)"></i><i style="background:linear-gradient(#fe4c4c 0.5px,#ff6a6a 8.5px,#ffb4b4 16.5px,#f5bbb9 19.5px,#d4aca1 20.5px,#22561a 22.5px,#044d03 23.5px,#009500 38.5px,#009200 64.5px,#004a00 78.5px,#134d0f 79.5px,#efb9b6 81.5px,#ffc0c0 82.5px,#ffabab 85.5px,#ff5a5a 90.5px,#fd3131 96.5px,#fc2929 99.5px)"></i><i style="background:linear-gradient(#ff5959 0.5px,#ff7878 7.5px,#ffb6b6 14.5px,#fcbebe 17.5px,#e6b5af 18.5px,#a99781 19.5px,#436534 20.5px,#13520f 21.5px,#025002 22.5px,#009800 37.5px,#009400 64.5px,#004a00 78.5px,#174e11 79.5px,#988d75 80.5px,#f2bbb8 81.5px,#ffc0c0 82.5px,#ffa5a5 86.5px,#ff5f5f 91.5px,#fd3a3a 98.5px,#fd3838 99.5px)"></i><i style="background:linear-gradient(#fe4242 0.5px,#ff6060 6.5px,#ffb4b4 13.5px,#f5bbb9 16.5px,#d4aca1 17.5px,#25581c 19.5px,#074f05 20.5px,#009600 34.5px,#009600 64.5px,#004b00 78.5px,#124d0e 79.5px,#dfb2aa 81.5px,#fcbfbf 82.5px,#faa 87.5px,#ff6b6b 94.5px,#ff5858 99.5px)"></i><i style="background:linear-gradient(#fd3232 0.5px,#ff5858 6.5px,#ffb1b1 12.5px,#febdbd 14.5px,#efb8b4 15.5px,#ab9782 16.5px,#436534 17.5px,#13520f 18.5px,#025002 19.5px,#009a00 34.5px,#009700 65.5px,#034e02 79.5px,#1f5517 80.5px,#d4ada2 82.5px,#f5bcb9 83.5px,#ffbaba 86.5px,#ff8989 93.5px,#ff6868 99.5px)"></i><i style="background:linear-gradient(#fd3131 0.5px,#ff5353 5.5px,#ff7f7f 8.5px,#ffb0b0 11.5px,#f9bebc 14.5px,#bfa292 15.5px,#325c26 16.5px,#074c05 17.5px,#009100 30.5px,#009b00 37.5px,#009500 67.5px,#025102 80.5px,#13530f 81.5px,#436634 82.5px,#a99781 83.5px,#e6b5af 84.5px,#fcbebe 85.5px,#ffadad 89.5px,#ff6262 96.5px,#ff5454 99.5px)"></i><i style="background:linear-gradient(#fd3030 0.5px,#ff5151 5.5px,#ff7d7d 8.5px,#ffb0b0 11.5px,#fbbfbe 14.5px,#c9a799 15.5px,#28561f 16.5px,#024901 17.5px,#009a00 33.5px,#009700 68.5px,#075005 82.5px,#25591c 83.5px,#d3aca1 85.5px,#f2b9b6 86.5px,#ffb7b7 88.5px,#ff9696 91.5px,#ff5a5a 95.5px,#fe3f3f 99.5px)"></i><i style="background:linear-gradient(#fc2f2f 0.5px,#ff4e4e 5.5px,#ff7676 8.5px,#ffacac 11.5px,#fec0c0 14.5px,#e5b5af 15.5px,#63734c 16.5px,#0d4c0a 17.5px,#004c00 18.5px,#090 33.5px,#009400 70.5px,#025102 83.5px,#13530f 84.5px,#416431 85.5px,#9a8f75 86.5px,#e0b1a9 87.5px,#f9bbb9 88.5px,#ffa5a5 91.5px,#ff5656 96.5px,#fe3d3d 99.5px)"></i><i style="background:linear-gradient(#fc2d2d 0.5px,#ff5454 6.5px,#ff8181 9.5px,#ffb2b2 12.5px,#ffbfbf 14.5px,#f6bdbb 15.5px,#ad9985 16.5px,#1d5117 17.5px,#014901 18.5px,#009600 33.5px,#009400 71.5px,#064f05 85.5px,#1f5518 86.5px,#687650 87.5px,#d2aa9f 88.5px,#fabdbc 89.5px,#faa 92.5px,#ff5858 97.5px,#ff4646 99.5px)"></i><i style="background:linear-gradient(#fc2d2d 0.5px,#ff5050 6.5px,#ff7b7b 9.5px,#ffaeae 12.5px,#fec0c0 15.5px,#dab0a7 16.5px,#3a5d2c 17.5px,#054804 18.5px,#009500 34.5px,#009000 72.5px,#054b04 86.5px,#345d28 87.5px,#b19b87 88.5px,#f6bdba 89.5px,#ffb9b9 91.5px,#ff9494 94.5px,#ff5353 98.5px,#ff4a4a 99.5px)"></i><i style="background:linear-gradient(#fd3232 0.5px,#f55 6.5px,#ff9191 10.5px,#ffb7b7 13.5px,#ffc0c0 15.5px,#e6b5b0 16.5px,#5b6e46 17.5px,#0b4a08 18.5px,#005100 20.5px,#009200 35.5px,#008e00 71.5px,#074c05 85.5px,#2b5821 86.5px,#988e74 87.5px,#e9b6b1 88.5px,#fdbebd 89.5px,#ffa6a6 92.5px,#f55 97.5px,#ff4343 99.5px)"></i><i style="background:linear-gradient(#fe4949 0.5px,#ff6e6e 6.5px,#ffb4b4 12.5px,#ffc1c1 15.5px,#e7b6b0 16.5px,#5e7048 17.5px,#0b4a09 18.5px,#005000 20.5px,#008e00 35.5px,#008a00 70.5px,#014d01 83.5px,#0a4c08 84.5px,#3f6230 85.5px,#aa9782 86.5px,#ecb7b2 87.5px,#fdbdbd 88.5px,#ffa4a4 91.5px,#ff5353 96.5px,#fe3b3b 99.5px)"></i><i style="background:linear-gradient(#ff6262 0.5px,#ff8989 6.5px,#ffbaba 12.5px,#ffc2c2 15.5px,#e3b4ad 16.5px,#4a6538 17.5px,#084806 18.5px,#005f00 23.5px,#008a00 35.5px,#008500 69.5px,#014c01 82.5px,#0d4c0a 83.5px,#436333 84.5px,#bca08f 85.5px,#f2bab7 86.5px,#ffb8b8 88.5px,#ff9292 91.5px,#ff5353 95.5px,#fd3636 99.5px)"></i><i style="background:linear-gradient(#ff5252 0.5px,#ff7979 6.5px,#ffb7b7 12.5px,#ffc1c1 15.5px,#e0b3ab 16.5px,#3a5d2d 17.5px,#054604 18.5px,#008600 34.5px,#008100 68.5px,#024a01 81.5px,#134e0f 82.5px,#556c41 83.5px,#c0a292 84.5px,#f5bbb9 85.5px,#ffb9b9 87.5px,#ff9898 90.5px,#ff5b5b 94.5px,#fe3a3a 99.5px)"></i><i style="background:linear-gradient(#fd3636 0.5px,#ff5757 6.5px,#ffb5b5 13.5px,#ffbfbf 15.5px,#f1bbb8 16.5px,#998e75 17.5px,#27561e 18.5px,#044803 19.5px,#008100 35.5px,#007c00 67.5px,#004800 80.5px,#0c4909 81.5px,#5d6f47 82.5px,#d3aca1 83.5px,#f8bebc 84.5px,#ffb1b1 88.5px,#ff6464 95.5px,#ff5050 99.5px)"></i><i style="background:linear-gradient(#fc2929 0.5px,#ff4e4e 7.5px,#ff8787 11.5px,#ffb3b3 14.5px,#fdbebe 16.5px,#e9b6b1 17.5px,#978d74 18.5px,#27561e 19.5px,#044803 20.5px,#007c00 36.5px,#007600 67.5px,#004500 80.5px,#164b11 81.5px,#968b72 82.5px,#f1bbb8 83.5px,#ffc1c1 84.5px,#ffa8a8 90.5px,#ff6c6c 98.5px,#ff6969 99.5px)"></i><i style="background:linear-gradient(#fb2525 0.5px,#ff4343 7.5px,#ff7373 11.5px,#ffb3b3 15.5px,#fdbebe 17.5px,#e9b6b1 18.5px,#978d74 19.5px,#27551e 20.5px,#044703 21.5px,#007800 37.5px,#007200 67.5px,#040 80.5px,#184b12 81.5px,#9e8f79 82.5px,#f3bcb9 83.5px,#ffbebe 85.5px,#ffa0a0 90.5px,#f66 97.5px,#ff5f5f 99.5px)"></i><i style="background:linear-gradient(#fb2323 0.5px,#ff4343 8.5px,#ff7373 12.5px,#ffb3b3 16.5px,#fdbebe 18.5px,#e9b6b1 19.5px,#978d74 20.5px,#27541e 21.5px,#044603 22.5px,#007300 39.5px,#006d00 67.5px,#004300 80.5px,#184b13 81.5px,#a1917b 82.5px,#f4bcb9 83.5px,#fbb 85.5px,#ffa3a3 88.5px,#ff6060 93.5px,#fe3f3f 99.5px)"></i><i style="background:linear-gradient(#fb2222 0.5px,#fe3c3c 8.5px,#ff6363 12.5px,#ffb3b3 17.5px,#fdbebe 19.5px,#e9b6b1 20.5px,#978d74 21.5px,#27541e 22.5px,#044503 23.5px,#006e00 40.5px,#006800 67.5px,#024601 79.5px,#0d480a 80.5px,#355928 81.5px,#ba9e8e 82.5px,#f7bdbb 83.5px,#ffb8b8 85.5px,#ff9393 88.5px,#f55 92.5px,#fd3030 98.5px,#fc2d2d 99.5px)"></i><i style="background:linear-gradient(#fb2020 0.5px,#fe3c3c 9.5px,#ff6363 13.5px,#ffb3b3 18.5px,#fdbebe 20.5px,#e9b6b1 21.5px,#978d74 22.5px,#27531e 23.5px,#044403 24.5px,#006900 41.5px,#006400 66.5px,#074705 78.5px,#22521a 79.5px,#65734d 80.5px,#bfa091 81.5px,#f1b9b5 82.5px,#ffb5b5 84.5px,#ff8c8c 87.5px,#ff5050 91.5px,#fc2c2c 97.5px,#fc2727 99.5px)"></i><i style="background:linear-gradient(#fb2222 0.5px,#fe3a3a 9.5px,#f66 14.5px,#faa 18.5px,#fdbfbe 21.5px,#e9b6b1 22.5px,#978c74 23.5px,#27531e 24.5px,#044303 25.5px,#006500 43.5px,#005e00 65.5px,#034502 76.5px,#164c11 77.5px,#446234 78.5px,#a99581 79.5px,#e3b2ab 80.5px,#f9bab9 81.5px,#ffa3a3 84.5px,#ff5454 89.5px,#fc2d2d 95.5px,#fb2323 99.5px)"></i><i style="background:linear-gradient(#fc3030 0.5px,#ff4949 10.5px,#f77 15.5px,#ffb0b0 19.5px,#fdbfbf 22.5px,#e9b6b1 23.5px,#978c74 24.5px,#27521e 25.5px,#044203 26.5px,#006000 44.5px,#005900 64.5px,#014401 74.5px,#0a4608 75.5px,#2b5521 76.5px,#d7aca3 78.5px,#f5b9b7 79.5px,#ffb2b2 81.5px,#ff4d4d 88.5px,#fc2828 95.5px,#fb2020 99.5px)"></i><i style="background:linear-gradient(#ff4c4c 0.5px,#ff6161 10.5px,#ff8a8a 15.5px,#ffb7b7 20.5px,#fdc0bf 23.5px,#e9b7b1 24.5px,#978c74 25.5px,#27521e 26.5px,#044103 27.5px,#005c00 46.5px,#005200 64.5px,#064405 73.5px,#1c4d16 74.5px,#566a42 75.5px,#bc9e8e 76.5px,#ecb6b1 77.5px,#fdbbba 78.5px,#ff9e9e 81.5px,#ff5050 86.5px,#fc2c2c 92.5px,#fa1f1f 99.5px)"></i><i style="background:linear-gradient(#ff4d4d 0.5px,#ff6363 11.5px,#ffb9b9 22.5px,#fdbfbf 24.5px,#e9b6b1 25.5px,#988c74 26.5px,#2e5523 27.5px,#0a4408 28.5px,#004500 31.5px,#005700 49.5px,#004a00 66.5px,#024202 71.5px,#13480f 72.5px,#415f31 73.5px,#9a8c75 74.5px,#ddafa7 75.5px,#f8bab8 76.5px,#ffb0b0 78.5px,#ff5454 84.5px,#fc2d2d 90.5px,#ec2729 97.5px,#e62b2e 99.5px)"></i><i style="background:linear-gradient(#fc3030 0.5px,#fe4444 12.5px,#ff7272 18.5px,#ffb1b1 23.5px,#fdbcbc 25.5px,#eeb8b4 26.5px,#bc9f8f 27.5px,#566941 28.5px,#194a13 29.5px,#034002 30.5px,#005400 51.5px,#044003 70.5px,#224e1a 71.5px,#d3aba1 73.5px,#f2b8b5 74.5px,#ffb4b4 76.5px,#ff8989 79.5px,#ff4e4e 83.5px,#f92b2b 89.5px,#da373b 92.5px,#c53d42 93.5px,#af525b 94.5px,#a55765 96.5px,#915d6c 97.5px,#7b7386 98.5px,#757990 99.5px)"></i><i style="background:linear-gradient(#fa1f1f 0.5px,#fd3131 13.5px,#ff5b5b 19.5px,#ffb2b2 25.5px,#f8bbb9 27.5px,#daaea5 28.5px,#2b5321 30.5px,#0a4308 31.5px,#004200 34.5px,#005000 54.5px,#013f00 68.5px,#074105 69.5px,#2b5221 70.5px,#978b73 71.5px,#e3b3ac 72.5px,#fcbdbc 73.5px,#ffa7a7 76.5px,#f55 81.5px,#fc2d2d 87.5px,#fb2929 88.5px,#ea2525 89.5px,#ae4042 90.5px,#6f7480 91.5px,#5290a7 92.5px,#3c9fc0 95.5px,#2daad0 99.5px)"></i><i style="background:linear-gradient(#e5292c 0.5px,#fb2323 10.5px,#fe4040 18.5px,#ff6b6b 22.5px,#ffacac 26.5px,#fdbbba 28.5px,#ecb6b1 29.5px,#bc9e8f 30.5px,#566841 31.5px,#1a4a14 32.5px,#013f01 34.5px,#004b00 55.5px,#013e01 67.5px,#0d430a 68.5px,#405d31 69.5px,#aa9582 70.5px,#ecb7b2 71.5px,#fdbdbc 72.5px,#ffa3a3 75.5px,#ff5353 80.5px,#fc2c2c 86.5px,#f52323 89.5px,#d72c2c 90.5px,#8a6471 92.5px,#78778a 93.5px,#707a91 94.5px,#59849c 95.5px,#4698b5 96.5px,#409cbf 99.5px)"></i><i style="background:linear-gradient(#71798e 0.5px,#76788c 2.5px,#7f6e7d 3.5px,#985966 4.5px,#ab535d 6.5px,#d33439 8.5px,#fb2d2d 16.5px,#ff5353 22.5px,#ffadad 28.5px,#f8b8b7 30.5px,#daaca4 31.5px,#8e856b 32.5px,#4e643b 33.5px,#214d19 34.5px,#023f02 36.5px,#004700 56.5px,#023e01 66.5px,#13460f 67.5px,#556841 68.5px,#bfa092 69.5px,#f2b9b6 70.5px,#ffb7b7 72.5px,#ff8e8e 75.5px,#ff5151 79.5px,#fc2c2c 85.5px,#f12525 91.5px,#dc3035 98.5px,#db2f35 99.5px)"></i><i style="background:linear-gradient(#2cadcd 0.5px,#449cb6 9.5px,#518da3 10.5px,#7c7482 12.5px,#ca3b3f 15.5px,#eb3031 17.5px,#fd3434 20.5px,#ff5c5c 25.5px,#ffa9a9 30.5px,#f0b2ae 32.5px,#deada6 33.5px,#b19785 34.5px,#2a5120 36.5px,#064004 38.5px,#004200 58.5px,#023f01 63.5px,#244e1b 66.5px,#697250 67.5px,#d4aaa1 68.5px,#f8bab9 69.5px,#ffa8a8 72.5px,#ff5858 77.5px,#fc2e2e 83.5px,#fa1b1b 97.5px,#fa1a1a 99.5px)"></i><i style="background:linear-gradient(#23b4d7 0.5px,#27b0d0 10.5px,#39a4c0 14.5px,#429cb3 15.5px,#5a8494 16.5px,#8c5c61 17.5px,#cc3030 18.5px,#f32626 19.5px,#fd3737 23.5px,#ff6464 28.5px,#feaeae 33.5px,#e8b0ab 35.5px,#c3a093 36.5px,#3f5c30 38.5px,#1e4b17 39.5px,#013e01 42.5px,#023f01 59.5px,#2b5120 63.5px,#e3a9a3 67.5px,#fcb0af 68.5px,#ff8080 72.5px,#fe4343 77.5px,#fb2323 85.5px,#fa1a1a 99.5px)"></i><i style="background:linear-gradient(#23b4d7 0.5px,#25b2d2 15.5px,#2caac5 16.5px,#488f9e 17.5px,#8f4a4c 18.5px,#e22121 19.5px,#f92323 20.5px,#fe4747 28.5px,#ff8989 33.5px,#faaead 36.5px,#dbaaa2 38.5px,#b09684 39.5px,#3d5a2e 41.5px,#1e4b17 42.5px,#013d01 45.5px,#054004 55.5px,#2c5120 59.5px,#b39382 62.5px,#d7a39a 63.5px,#f79997 66.5px,#fe4646 73.5px,#fb2626 80.5px,#fa1919 99.5px)"></i><i style="background:linear-gradient(#23b4d7 0.5px,#29aecf 11.5px,#3d9fba 15.5px,#4f8da0 16.5px,#7d636b 17.5px,#c12f30 18.5px,#f01e1e 19.5px,#fb2121 21.5px,#fd3939 29.5px,#ff6969 34.5px,#fea4a4 38.5px,#dba8a0 41.5px,#b09483 42.5px,#3d5a2e 44.5px,#224c19 45.5px,#023e02 49.5px,#254e1b 54.5px,#3b582b 55.5px,#646d49 56.5px,#9b8872 57.5px,#c49b8d 58.5px,#e7a29d 60.5px,#fe8d8d 63.5px,#fe4545 69.5px,#fb2323 77.5px,#fa1919 99.5px)"></i><i style="background:linear-gradient(#28aed0 0.5px,#419ebb 9.5px,#4798b0 10.5px,#866673 13.5px,#d82d30 16.5px,#f91c1c 19.5px,#fd3131 31.5px,#f55 36.5px,#f6a09e 42.5px,#dea49d 44.5px,#c59c8f 45.5px,#4c623a 48.5px,#2e5323 49.5px,#636f4c 51.5px,#a48f7a 53.5px,#d4a69c 54.5px,#f29d9a 57.5px,#ff6b6b 61.5px,#fd3636 67.5px,#fa1d1d 78.5px,#f71b1b 90.5px,#e6272a 99.5px)"></i><i style="background:linear-gradient(#5c8197 0.5px,#6f7a90 1.5px,#777689 3.5px,#9f5663 5.5px,#ae4e56 7.5px,#c3383d 8.5px,#d82f34 9.5px,#fa1a1a 17.5px,#fc2b2b 33.5px,#ff4f4f 39.5px,#ff8484 43.5px,#faa4a3 45.5px,#dbaea6 49.5px,#d4aca2 50.5px,#eeb9b5 52.5px,#ffb1b1 55.5px,#ff5454 61.5px,#fc2d2d 67.5px,#f22323 75.5px,#da2f35 89.5px,#b34750 91.5px,#a25265 95.5px,#836479 96.5px,#75708e 99.5px)"></i><i style="background:linear-gradient(#cd373d 0.5px,#e6282a 12.5px,#e83538 33.5px,#eb595c 40.5px,#eb9295 44.5px,#ebb7b9 47.5px,#ebc0c3 52.5px,#eba6a8 56.5px,#eb6668 60.5px,#e93c3f 66.5px,#d9353b 73.5px,#b14b55 75.5px,#a25367 79.5px,#82667b 80.5px,#707192 84.5px,#478bb1 86.5px,#3381d2 93.5px,#2570e5 99.5px)"></i><i style="background:linear-gradient(#75728e 0.5px,#767b98 36.5px,#7796b3 43.5px,#77b0cc 48.5px,#77abc7 55.5px,#76809d 63.5px,#6f7999 68.5px,#5087a9 69.5px,#4090c1 72.5px,#175af3 88.5px,#1245f1 99.5px)"></i><i style="background:linear-gradient(#2985e2 0.5px,#2881e9 59.5px,#2577e9 68.5px,#2064ec 73.5px,#1d39dd 94.5px,#1b31d6 99.5px)"></i><i style="background:linear-gradient(#22a1dd 0.5px,#2092e9 40.5px,#2182e8 54.5px,#3671d2 64.5px,#4269c1 70.5px,#5a52a6 73.5px,#6d54a1 77.5px,#715693 89.5px,#6f4f8c 99.5px)"></i><i style="background:linear-gradient(#27b0c9 0.5px,#28a9c8 50.5px,#3b8da0 54.5px,#694f60 58.5px,#953448 62.5px,#b93040 66.5px,#d03d49 76.5px,#be3e48 87.5px,#995865 97.5px,#965866 99.5px)"></i><i style="background:linear-gradient(#27b2c6 0.5px,#29b0c2 49.5px,#3d9397 53.5px,#615861 56.5px,#6c4d57 57.5px,#6f4d5a 58.5px,#5c6f8e 61.5px,#776f7a 69.5px,#6a7685 76.5px,#4698ad 83.5px,#379ec6 99.5px)"></i><i style="background:linear-gradient(#27b2c6 0.5px,#27adc8 48.5px,#368fae 53.5px,#3582be 56.5px,#2c8ad7 58.5px,#2897e0 62.5px,#2da6cd 71.5px,#1f97ee 99.5px)"></i><i style="background:linear-gradient(#27b2c6 0.5px,#25aacf 42.5px,#217ef0 53.5px,#1e93f2 63.5px,#209fe9 72.5px,#1c7dfb 99.5px)"></i><i style="background:linear-gradient(#26adcc 0.5px,#23a2d9 30.5px,#1b6ffa 48.5px,#1e8ef5 72.5px,#1966fd 99.5px)"></i><i style="background:linear-gradient(#1f8ced 0.5px,#1a6afe 50.5px,#1d7dfc 72.5px,#1553fa 99.5px)"></i><i style="background:linear-gradient(#1a6efc 0.5px,#1b6dfe 53.5px,#1b6ffe 73.5px,#1244f5 99.5px)"></i><i style="background:linear-gradient(#1a69fe 0.5px,#1964fd 73.5px,#0f37ee 99.5px)"></i><i style="background:linear-gradient(#1a6cfc 0.5px,#1860fc 72.5px,#1034e3 99.5px)"></i><i style="background:linear-gradient(#1e88ef 0.5px,#1f7aed 37.5px,#2e67e6 50.5px,#3160e1 71.5px,#3a56c3 95.5px,#3b52be 99.5px)"></i><i style="background:linear-gradient(#26accc 0.5px,#26aacb 33.5px,#3693ab 37.5px,#5f5c73 41.5px,#864761 45.5px,#9d4662 50.5px,#a8526c 66.5px,#b0455a 70.5px,#c32f43 74.5px,#cf3447 82.5px,#c13f52 99.5px)"></i><i style="background:linear-gradient(#27b2c6 0.5px,#28b2c4 33.5px,#3a989c 37.5px,#863536 42.5px,#b61c1e 45.5px,#da181a 48.5px,#ee2528 55.5px,#d7434d 60.5px,#ca3f42 71.5px,#aa555c 78.5px,#935f69 83.5px,#787583 89.5px,#61798c 95.5px,#4d8da4 99.5px)"></i><i style="background:linear-gradient(#27b2c6 0.5px,#28b1c3 34.5px,#3d9496 38.5px,#7c3c3c 42.5px,#b11818 45.5px,#d71515 48.5px,#da2733 54.5px,#d42d3b 55.5px,#4e83b8 60.5px,#4090ca 61.5px,#429db6 71.5px,#239ee1 99.5px)"></i><i style="background:linear-gradient(#27b2c6 0.5px,#28b1c3 35.5px,#3d9298 39.5px,#76404a 43.5px,#9f2635 46.5px,#a52738 47.5px,#99415e 49.5px,#92426a 50.5px,#6e5c99 52.5px,#615fa6 53.5px,#4674c3 54.5px,#367edd 56.5px,#1f97f0 62.5px,#21a6e2 72.5px,#1d88f7 99.5px)"></i><i style="background:linear-gradient(#27b1c8 0.5px,#26a7cf 36.5px,#3482bb 41.5px,#3c6bb4 43.5px,#326fd5 46.5px,#2c67e8 50.5px,#1d82fa 57.5px,#1f95f1 72.5px,#1b6ffd 99.5px)"></i><i style="background:linear-gradient(#23a3db 0.5px,#2091e7 25.5px,#1d6ff5 41.5px,#1b6efe 51.5px,#1d84f9 72.5px,#175bfc 99.5px)"></i><i style="background:linear-gradient(#1c75f9 0.5px,#1b6efe 52.5px,#1c74fe 73.5px,#144bf8 99.5px)"></i><i style="background:linear-gradient(#1a6afe 0.5px,#1a69fe 73.5px,#113df2 99.5px)"></i><i style="background:linear-gradient(#1a6afe 0.5px,#1963fd 71.5px,#0f34eb 99.5px)"></i><i style="background:linear-gradient(#1c76f8 0.5px,#1f6cf1 34.5px,#245aec 73.5px,#263bd7 99.5px)"></i><i style="background:linear-gradient(#24a5d7 0.5px,#24a2d6 27.5px,#338cb8 32.5px,#546694 37.5px,#6b5f96 43.5px,#715fa3 65.5px,#785e96 72.5px,#974374 77.5px,#a64b70 86.5px,#9c5070 99.5px)"></i><i style="background:linear-gradient(#27b2c8 0.5px,#29afc2 28.5px,#3f8e94 32.5px,#7a4045 36.5px,#a92329 39.5px,#ce1d24 42.5px,#e62f38 51.5px,#e4333d 59.5px,#db424d 66.5px,#d5454b 82.5px,#c6454b 88.5px,#a45b63 94.5px,#995b66 99.5px)"></i><i style="background:linear-gradient(#27b2c6 0.5px,#29b0c2 29.5px,#3e9294 33.5px,#8e2d2d 38.5px,#c11515 41.5px,#e31111 44.5px,#fa2626 52.5px,#df4b55 58.5px,#d04d59 59.5px,#b16072 60.5px,#a55d75 62.5px,#8f6771 70.5px,#797885 74.5px,#69798b 78.5px,#479ab1 83.5px,#359ccb 99.5px)"></i><i style="background:linear-gradient(#27b2c6 0.5px,#28b1c4 30.5px,#39999e 34.5px,#724848 38.5px,#a61d1d 41.5px,#d7181a 45.5px,#da2837 51.5px,#d52d3d 52.5px,#a9516c 54.5px,#97567c 55.5px,#796c9b 56.5px,#6770a9 57.5px,#4786c7 58.5px,#358fdd 60.5px,#30a4cc 71.5px,#1f98ed 95.5px,#1f94f0 99.5px)"></i><i style="background:linear-gradient(#27b2c6 0.5px,#28aec6 32.5px,#3b919e 36.5px,#704554 40.5px,#843748 42.5px,#8e4364 45.5px,#8a426c 46.5px,#6e5997 48.5px,#6757a1 49.5px,#535eb2 50.5px,#4071ce 51.5px,#2f7be7 55.5px,#1e8df6 60.5px,#209fea 72.5px,#1c7afb 99.5px)"></i><i style="background:linear-gradient(#26accd 0.5px,#23a1db 30.5px,#2b6be2 43.5px,#2369f2 49.5px,#1d7bfd 55.5px,#1e8ef5 72.5px,#1965fd 99.5px)"></i><i style="background:linear-gradient(#1e88f0 0.5px,#1a6bfe 50.5px,#1d7efb 72.5px,#1554fa 99.5px)"></i><i style="background:linear-gradient(#1b6efd 0.5px,#1b6ffe 54.5px,#1b70fe 73.5px,#1245f6 99.5px)"></i><i style="background:linear-gradient(#1a6afe 0.5px,#1966fe 73.5px,#1039f0 99.5px)"></i><i style="background:linear-gradient(#1b6ffb 0.5px,#1963fa 73.5px,#1a37e0 99.5px)"></i><i style="background:linear-gradient(#2093e7 0.5px,#228ee2 27.5px,#3676ce 37.5px,#3a6ad9 65.5px,#3f69ca 74.5px,#5f4aa6 79.5px,#6e52a5 88.5px,#6e52a2 99.5px)"></i><i style="background:linear-gradient(#26aecb 0.5px,#28abc5 25.5px,#3e8c99 29.5px,#76424e 33.5px,#a22734 36.5px,#c9212f 40.5px,#d72e3e 50.5px,#de3a49 74.5px,#df3340 83.5px,#dd404c 87.5px,#d24956 98.5px,#d04855 99.5px)"></i><i style="background:linear-gradient(#27b2c6 0.5px,#29b0c1 26.5px,#3f9093 30.5px,#7d3c3c 34.5px,#b11919 37.5px,#e31111 41.5px,#fa2727 50.5px,#f94444 58.5px,#e95558 62.5px,#e9585a 67.5px,#ea6567 69.5px,#d85559 80.5px,#bb5e63 83.5px,#a66872 88.5px,#8c6d79 91.5px,#7a7b8b 94.5px,#657a90 99.5px)"></i><i style="background:linear-gradient(#27b2c6 0.5px,#28b1c4 27.5px,#39999d 31.5px,#724848 35.5px,#a71d1d 38.5px,#df1111 42.5px,#f91e1e 49.5px,#de4f5b 57.5px,#ce5361 58.5px,#af687c 59.5px,#9b6b86 60.5px,#7f7f9c 61.5px,#708192 72.5px,#5291a5 75.5px,#44a1bc 78.5px,#279add 99.5px)"></i><i style="background:linear-gradient(#27b2c6 0.5px,#29b1c2 29.5px,#3c9598 33.5px,#873537 38.5px,#b51e22 41.5px,#d11d25 44.5px,#d42637 49.5px,#c52f42 50.5px,#af4860 51.5px,#97517b 53.5px,#7c6698 54.5px,#5873b6 56.5px,#4287d1 57.5px,#2b93e4 61.5px,#2aa3d5 72.5px,#1f93f1 92.5px,#1e89f6 99.5px)"></i><i style="background:linear-gradient(#27b1c9 0.5px,#28a9c8 31.5px,#398fa6 35.5px,#605878 39.5px,#67517a 41.5px,#665b9a 44.5px,#5859a8 46.5px,#3c6fd1 48.5px,#326de5 51.5px,#1e89f8 59.5px,#1f9aed 72.5px,#1b71fd 99.5px)"></i><i style="background:linear-gradient(#22a0de 0.5px,#1e8aee 29.5px,#2568eb 41.5px,#1c75fe 53.5px,#1e89f7 72.5px,#175efc 99.5px)"></i><i style="background:linear-gradient(#1c74f9 0.5px,#1b6ffe 52.5px,#1c7afd 72.5px,#144ef9 99.5px)"></i><i style="background:linear-gradient(#1a6bfe 0.5px,#1b71fe 64.5px,#1963fd 79.5px,#1241f4 99.5px)"></i><i style="background:linear-gradient(#1a6cfd 0.5px,#1964fd 73.5px,#103def 99.5px)"></i><i style="background:linear-gradient(#1d7ff4 0.5px,#2078ee 27.5px,#2e68e6 40.5px,#305ae2 78.5px,#344dd1 99.5px)"></i><i style="background:linear-gradient(#25abd1 0.5px,#27a8cb 23.5px,#388ea8 27.5px,#615a72 31.5px,#874760 35.5px,#9d4662 40.5px,#984871 50.5px,#9a4875 59.5px,#aa5872 75.5px,#cb344a 81.5px,#db3549 89.5px,#db364a 99.5px)"></i><i style="background:linear-gradient(#27b2c7 0.5px,#28b1c4 23.5px,#39999e 27.5px,#803a3b 32.5px,#b11e1f 35.5px,#d7181a 38.5px,#ef2b2e 47.5px,#f25256 66.5px,#f35557 70.5px,#f36c6e 73.5px,#f75e5e 84.5px,#e45e61 95.5px,#e26d71 96.5px,#dc646a 99.5px)"></i><i style="background:linear-gradient(#27b2c6 0.5px,#29b0c1 25.5px,#3e9194 29.5px,#8d2e2e 34.5px,#c01515 37.5px,#e31111 40.5px,#fb2525 48.5px,#fd7d7d 65.5px,#ea8487 77.5px,#d66a6f 83.5px,#ae7b83 86.5px,#987280 89.5px,#778397 92.5px,#5e849e 95.5px,#469fbf 97.5px,#41a2c8 99.5px)"></i><i style="background:linear-gradient(#27b2c6 0.5px,#2aafbf 27.5px,#428c8e 31.5px,#823838 35.5px,#b61818 38.5px,#de1111 41.5px,#fb2323 49.5px,#e76169 59.5px,#d66e76 66.5px,#b97980 69.5px,#ac7f89 71.5px,#9e7784 73.5px,#78889b 76.5px,#6b859d 78.5px,#44a2c2 81.5px,#2099ed 99.5px)"></i><i style="background:linear-gradient(#27b2c7 0.5px,#28b0c5 28.5px,#3b959d 32.5px,#82393f 37.5px,#b02128 40.5px,#d01c25 43.5px,#d73040 51.5px,#cc3647 52.5px,#ac5970 54.5px,#995c7f 56.5px,#7273a3 58.5px,#6275ac 59.5px,#488ac7 60.5px,#3f96d3 62.5px,#35a2d1 72.5px,#1f9aec 85.5px,#1d80fa 99.5px)"></i><i style="background:linear-gradient(#25abd1 0.5px,#25a1d4 30.5px,#318ebd 34.5px,#51659c 39.5px,#61599f 44.5px,#4b62b5 47.5px,#3d73d1 49.5px,#2f7ce7 56.5px,#1f94f2 63.5px,#1f9cec 72.5px,#1a6bfd 99.5px)"></i><i style="background:linear-gradient(#1d80f5 0.5px,#206df2 38.5px,#1b71fd 51.5px,#1e8ef5 71.5px,#175bfc 99.5px)"></i><i style="background:linear-gradient(#1a6dfe 0.5px,#1b70ff 53.5px,#1d7efc 72.5px,#144ef9 99.5px)"></i><i style="background:linear-gradient(#1a6bfe 0.5px,#1b71fe 57.5px,#1b71fe 73.5px,#1244f6 99.5px)"></i><i style="background:linear-gradient(#1b72f9 0.5px,#1e6af5 51.5px,#2567f1 75.5px,#2740e0 99.5px)"></i><i style="background:linear-gradient(#229edf 0.5px,#249cda 21.5px,#2f8cc3 25.5px,#52639c 31.5px,#675b9d 39.5px,#4f5fb2 51.5px,#4e5fb4 58.5px,#6c56a5 65.5px,#7565a1 76.5px,#96457b 81.5px,#a64a7a 88.5px,#a64c7a 99.5px)"></i><i style="background:linear-gradient(#27b0c9 0.5px,#28aec4 21.5px,#3d9098 25.5px,#774249 29.5px,#a5242b 32.5px,#d11d25 36.5px,#e32f39 45.5px,#e84951 74.5px,#e8626a 75.5px,#f26267 99.5px)"></i><i style="background:linear-gradient(#27b2c6 0.5px,#29b0c2 22.5px,#3e9294 26.5px,#7c3d3d 30.5px,#b01919 33.5px,#e31111 37.5px,#fb2525 45.5px,#fe9596 67.5px,#faa 79.5px,#f9a4a5 96.5px,#efa3a6 99.5px)"></i><i style="background:linear-gradient(#27b2c6 0.5px,#28b1c3 23.5px,#3b979b 27.5px,#863333 32.5px,#ba1616 35.5px,#e11111 38.5px,#fb2424 46.5px,#ffa3a3 67.5px,#ffb9b9 81.5px,#f6b5b6 88.5px,#e5acb4 93.5px,#da949f 95.5px,#ae9bb0 97.5px,#a48daa 98.5px,#8f8eae 99.5px)"></i><i style="background:linear-gradient(#27b2c6 0.5px,#29b0c1 25.5px,#408f91 29.5px,#7f3a3a 33.5px,#b31818 36.5px,#d11 39.5px,#fb2222 47.5px,#ffa5a5 69.5px,#fab1b1 78.5px,#e6aeb6 84.5px,#dc96a2 86.5px,#c894a1 87.5px,#b09db0 88.5px,#918dae 90.5px,#7994bd 91.5px,#6f86b9 92.5px,#5989c1 93.5px,#4398da 94.5px,#2e8aea 99.5px)"></i><i style="background:linear-gradient(#26adcc 0.5px,#27acc9 26.5px,#3993a1 30.5px,#803842 35.5px,#b02129 38.5px,#d21d23 41.5px,#f02628 48.5px,#ff6060 59.5px,#f49ea0 70.5px,#e9a4ac 74.5px,#db8e9a 77.5px,#af9aad 79.5px,#938aac 81.5px,#7a95bd 82.5px,#5e84bd 84.5px,#4597d8 85.5px,#298aee 91.5px,#1c7afc 98.5px,#1c78fc 99.5px)"></i><i style="background:linear-gradient(#1f8fec 0.5px,#208de8 28.5px,#2c81ce 33.5px,#55609f 38.5px,#705b8b 42.5px,#91436b 45.5px,#a74d68 49.5px,#af4e62 51.5px,#c93c4e 53.5px,#dd4655 56.5px,#e06c77 63.5px,#d96d7a 66.5px,#c97380 67.5px,#b48493 68.5px,#a7819b 70.5px,#987d9e 71.5px,#7f89af 72.5px,#6c7fb4 74.5px,#4296d9 76.5px,#2886ee 83.5px,#1c78fc 91.5px,#1966fd 99.5px)"></i><i style="background:linear-gradient(#1b71fc 0.5px,#1f6df4 36.5px,#316be7 50.5px,#4483cb 61.5px,#3c8adf 66.5px,#1d81fa 79.5px,#175afc 99.5px)"></i><i style="background:linear-gradient(#1a6bfe 0.5px,#1b71fe 53.5px,#1d81fa 70.5px,#1550fa 99.5px)"></i><i style="background:linear-gradient(#1b6efc 0.5px,#1c72fe 58.5px,#1c73fc 75.5px,#1f4cee 98.5px,#1f4bed 99.5px)"></i><i style="background:linear-gradient(#1e89ee 0.5px,#2188e8 19.5px,#3574d3 29.5px,#326be4 50.5px,#3b71da 72.5px,#3e6fce 77.5px,#604ca8 81.5px,#6f50aa 87.5px,#6f57b0 93.5px,#6e4da7 99.5px)"></i><i style="background:linear-gradient(#26accc 0.5px,#27abc9 16.5px,#3993a3 20.5px,#7a3d4b 25.5px,#a32634 28.5px,#c62231 32.5px,#d32c3c 39.5px,#bb3c4f 47.5px,#ad556a 53.5px,#b05569 60.5px,#d43a4c 66.5px,#e74451 92.5px,#e7434f 99.5px)"></i><i style="background:linear-gradient(#27b2c6 0.5px,#29b1c3 17.5px,#3c9599 21.5px,#873232 26.5px,#b91617 29.5px,#e01111 32.5px,#f92222 40.5px,#f67777 61.5px,#fd8686 77.5px,#fea6a6 79.5px,#feacac 99.5px)"></i><i style="background:linear-gradient(#27b2c6 0.5px,#29b0c0 19.5px,#408f91 23.5px,#7e3b3b 27.5px,#b21919 30.5px,#e41111 34.5px,#fb2626 42.5px,#ff9f9f 63.5px,#ffc1c1 85.5px,#fabcbc 98.5px,#f5bec0 99.5px)"></i><i style="background:linear-gradient(#27b2c6 0.5px,#28b1c3 20.5px,#3b979b 24.5px,#853434 29.5px,#b91717 32.5px,#e01111 35.5px,#fb2424 43.5px,#ffa3a3 64.5px,#ffbfbf 82.5px,#f8bdbe 91.5px,#e3b4bf 96.5px,#dda6b4 97.5px,#c79daf 98.5px,#aea6c2 99.5px)"></i><i style="background:linear-gradient(#27b0ca 0.5px,#28aec5 22.5px,#3d9199 26.5px,#893335 31.5px,#c91818 35.5px,#e71212 38.5px,#fb2626 45.5px,#ffa5a5 66.5px,#fbb 81.5px,#e1b0bd 89.5px,#da9eae 90.5px,#aa9dbd 92.5px,#988db8 93.5px,#7a97cd 94.5px,#6c83c7 95.5px,#4d88d7 96.5px,#3e8be8 97.5px,#3384f2 99.5px)"></i><i style="background:linear-gradient(#229de1 0.5px,#239edc 23.5px,#2e94c2 27.5px,#635874 32.5px,#9e3142 36.5px,#c12231 38.5px,#eb2a2f 46.5px,#ff5353 54.5px,#ffa6a6 68.5px,#f6b2b3 75.5px,#e1aab6 81.5px,#db99a8 82.5px,#ad9ebb 84.5px,#a18cb4 85.5px,#8294c4 86.5px,#617ec6 88.5px,#438fe2 89.5px,#287df5 94.5px,#1b70fe 99.5px)"></i><i style="background:linear-gradient(#1c74fa 0.5px,#1e73f4 28.5px,#3a73d1 39.5px,#4b65b6 41.5px,#6a5a9f 43.5px,#775b91 45.5px,#9d4870 47.5px,#ab536d 49.5px,#d23d4f 51.5px,#ea5a63 56.5px,#f58485 63.5px,#e99fa8 70.5px,#e09aa6 72.5px,#dd8e9c 73.5px,#cc8c9c 74.5px,#b19bb1 75.5px,#9886af 77.5px,#7b93c4 78.5px,#5e7dc4 80.5px,#438fe0 81.5px,#277cf4 87.5px,#1b6efe 94.5px,#1964fd 99.5px)"></i><i style="background:linear-gradient(#1a6cfe 0.5px,#1c6ffa 40.5px,#346be4 50.5px,#4077d3 53.5px,#6a62ad 55.5px,#7a70a6 57.5px,#93628f 58.5px,#a56589 59.5px,#ac7e94 62.5px,#9e739b 66.5px,#7889bb 68.5px,#6c77b8 70.5px,#418fde 72.5px,#2980f3 78.5px,#1c73fe 85.5px,#175bfd 99.5px)"></i><i style="background:linear-gradient(#1a6cfe 0.5px,#1c71fb 53.5px,#327cec 62.5px,#1e7ef9 72.5px,#1658fb 99.5px)"></i><i style="background:linear-gradient(#1c77f8 0.5px,#2072ef 19.5px,#2c66e8 38.5px,#2875f0 63.5px,#3758dd 99.5px)"></i><i style="background:linear-gradient(#24a5d6 0.5px,#26a4d0 14.5px,#368eaf 18.5px,#665472 23.5px,#914564 29.5px,#9a496f 37.5px,#825686 44.5px,#7468a2 50.5px,#7b6497 64.5px,#9c4b79 68.5px,#a85879 75.5px,#b04f64 81.5px,#d3394e 86.5px,#dc3f54 99.5px)"></i><i style="background:linear-gradient(#27b2c8 0.5px,#28b0c3 14.5px,#3c9498 18.5px,#863437 23.5px,#b61d1f 26.5px,#d8181b 29.5px,#ee292c 37.5px,#e85159 52.5px,#e83f47 55.5px,#e8484f 62.5px,#e96066 63.5px,#f46969 81.5px,#f88686 83.5px,#fd8787 99.5px)"></i><i style="background:linear-gradient(#27b2c6 0.5px,#28b1c3 15.5px,#3b979b 19.5px,#853535 24.5px,#b81717 27.5px,#df1111 30.5px,#fb2222 38.5px,#fe9292 59.5px,#ffabab 69.5px,#ffbaba 93.5px,#ffbaba 99.5px)"></i><i style="background:linear-gradient(#27b2c6 0.5px,#29b0c1 17.5px,#3e9294 21.5px,#8c2f2f 26.5px,#be1515 29.5px,#e21111 32.5px,#fb2525 40.5px,#ffa5a5 61.5px,#ffbfbf 80.5px,#fcbcbc 96.5px,#ecbcc2 99.5px)"></i><i style="background:linear-gradient(#27b2c8 0.5px,#2aaec0 19.5px,#428c8f 23.5px,#803a3a 27.5px,#b51818 30.5px,#de1111 33.5px,#fb2222 41.5px,#ffa3a3 62.5px,#ffbebe 79.5px,#fdbcbc 89.5px,#e5b5bf 94.5px,#cf9bac 96.5px,#afa3be 97.5px,#9e8fb8 98.5px,#7d9bcd 99.5px)"></i><i style="background:linear-gradient(#24a7d6 0.5px,#26a7d0 20.5px,#3594ad 24.5px,#665263 28.5px,#9b2936 31.5px,#cf1d26 35.5px,#f72626 43.5px,#ffa4a4 64.5px,#ffbcbd 80.5px,#e6b4bf 87.5px,#e0aebb 88.5px,#d79bab 89.5px,#b5a3ba 90.5px,#a595ba 91.5px,#5b82cc 94.5px,#418de5 95.5px,#297ff5 99.5px)"></i><i style="background:linear-gradient(#1d7cf7 0.5px,#1f7df0 24.5px,#3677cc 32.5px,#5a5da1 35.5px,#775786 38.5px,#9b4567 40.5px,#af4157 42.5px,#c53042 43.5px,#dc3442 45.5px,#fe5d5d 54.5px,#ffa5a5 66.5px,#fbb0b0 74.5px,#e3afba 80.5px,#cf96a6 82.5px,#b1a2bb 83.5px,#a491b6 84.5px,#738cc8 86.5px,#607fc7 87.5px,#438ee3 88.5px,#277cf4 93.5px,#1b71fe 99.5px)"></i><i style="background:linear-gradient(#1b6dfe 0.5px,#1d70f8 33.5px,#366cdd 43.5px,#3e73d2 45.5px,#655daa 47.5px,#7b639b 49.5px,#965583 50.5px,#b35e76 52.5px,#cf4e61 53.5px,#e25e6b 55.5px,#f98686 62.5px,#eaa5ac 69.5px,#e19fab 72.5px,#dd92a0 73.5px,#cc8e9e 74.5px,#b19cb2 75.5px,#9189b4 77.5px,#7890c5 78.5px,#6c7fc1 79.5px,#4f87d2 80.5px,#3f8de5 81.5px,#1d79fd 89.5px,#1a69fe 99.5px)"></i><i style="background:linear-gradient(#1a6bfe 0.5px,#1e6df7 46.5px,#336fe8 52.5px,#3d78dc 54.5px,#4a73ca 55.5px,#6868b2 56.5px,#7670ad 57.5px,#a56c8f 59.5px,#b2738a 60.5px,#c56879 61.5px,#ac89a0 64.5px,#a77b9f 66.5px,#9a79a2 67.5px,#8087b5 68.5px,#7588bd 69.5px,#707bba 70.5px,#5d7ac0 71.5px,#448ddc 72.5px,#3282ee 76.5px,#1d79fd 83.5px,#1963fd 99.5px)"></i><i style="background:linear-gradient(#1b71fb 0.5px,#1e6bf6 40.5px,#1f75f7 55.5px,#377ee5 62.5px,#287ced 72.5px,#276ff0 84.5px,#2d5be8 99.5px)"></i><i style="background:linear-gradient(#2094e7 0.5px,#2293e1 12.5px,#347bc0 18.5px,#535fa4 24.5px,#5f59a4 34.5px,#4969bc 41.5px,#3d75d4 47.5px,#3e7cd2 64.5px,#4771c0 67.5px,#655aa6 70.5px,#736cb0 76.5px,#7a5a90 85.5px,#9b457b 92.5px,#a2457b 99.5px)"></i><i style="background:linear-gradient(#26aecb 0.5px,#28acc5 11.5px,#3d8e99 15.5px,#75424c 19.5px,#a3242e 22.5px,#cf1d26 26.5px,#e32f39 35.5px,#dd3e4e 54.5px,#ea464d 86.5px,#ed646a 88.5px,#f2646b 99.5px)"></i><i style="background:linear-gradient(#27b2c6 0.5px,#29b0c1 12.5px,#3e9294 16.5px,#8c2f2f 21.5px,#be1616 24.5px,#e21111 27.5px,#fb2424 35.5px,#fe6363 47.5px,#fd5f5f 50.5px,#fd7c7c 61.5px,#fe8787 67.5px,#fea1a1 68.5px,#ffb3b3 98.5px,#ffb3b3 99.5px)"></i><i style="background:linear-gradient(#27b2c6 0.5px,#2aafbf 14.5px,#438b8d 18.5px,#813838 22.5px,#b51818 25.5px,#de1111 28.5px,#fb2222 36.5px,#ffa0a0 58.5px,#ffbebe 74.5px,#ffc0c0 99.5px)"></i><i style="background:linear-gradient(#27b2c6 0.5px,#29b1c2 15.5px,#3d9498 19.5px,#893132 24.5px,#bb1616 27.5px,#e11111 30.5px,#fb2424 38.5px,#ffa5a5 59.5px,#ffbfbf 77.5px,#fabcbd 94.5px,#e1b1be 99.5px)"></i><i style="background:linear-gradient(#26adcd 0.5px,#28aac7 17.5px,#3e8c9a 21.5px,#76424c 25.5px,#a6242b 28.5px,#d61a1e 32.5px,#fa2121 39.5px,#ffa6a6 61.5px,#ffbfbf 80.5px,#fcbcbc 87.5px,#e4b4bf 92.5px,#dda7b5 93.5px,#c69db0 94.5px,#ab9ebe 95.5px,#958fbb 96.5px,#7791cc 97.5px,#6180c9 98.5px,#438ee4 99.5px)"></i><i style="background:linear-gradient(#1e8bef 0.5px,#208ce9 19.5px,#317ec7 25.5px,#58639a 29.5px,#6c5c88 31.5px,#8b4668 33.5px,#ab3d50 36.5px,#bf2b3d 37.5px,#d92937 39.5px,#fe5353 49.5px,#ffa4a4 62.5px,#ffbcbc 78.5px,#e5b4bf 85.5px,#d29aab 87.5px,#b1a5be 88.5px,#a292b9 89.5px,#8294c6 90.5px,#5385d2 92.5px,#3f8be7 93.5px,#1e7afa 99.5px)"></i><i style="background:linear-gradient(#1b71fd 0.5px,#1f6ff4 27.5px,#356edb 37.5px,#3d73d2 39.5px,#466dc2 40.5px,#5c5daa 41.5px,#75619c 43.5px,#9f5178 45.5px,#b95267 47.5px,#d44658 48.5px,#fc7474 56.5px,#ffa5a5 64.5px,#f7b2b3 72.5px,#e1adb9 78.5px,#dc9dab 79.5px,#c699ab 80.5px,#ae9fbb 81.5px,#a18cb5 82.5px,#8094c6 83.5px,#5882cc 85.5px,#418de5 86.5px,#1c78fd 94.5px,#1b70fe 99.5px)"></i><i style="background:linear-gradient(#1a6cfe 0.5px,#1d6ff9 40.5px,#346de5 47.5px,#3e74d8 49.5px,#4e6cc3 50.5px,#6a64af 51.5px,#776daa 52.5px,#906494 53.5px,#b56d84 55.5px,#d46173 56.5px,#ed868d 60.5px,#eaa0a9 66.5px,#e19eaa 69.5px,#d58b9b 71.5px,#b899ac 72.5px,#a187ae 74.5px,#8290bf 75.5px,#667bc1 77.5px,#468cdc 78.5px,#3385f0 81.5px,#1c78fd 88.5px,#1a69fe 99.5px)"></i><i style="background:linear-gradient(#1b6efe 0.5px,#1c6ffc 49.5px,#3a77e4 56.5px,#417dda 57.5px,#5a70bf 58.5px,#8576a9 60.5px,#9e6e9a 61.5px,#9c6e9a 62.5px,#7b87b8 64.5px,#737ebc 66.5px,#6d74b8 67.5px,#5979c3 68.5px,#438ddc 69.5px,#3384ee 73.5px,#1d7bfc 81.5px,#1d63f5 99.5px)"></i><i style="background:linear-gradient(#1d80f4 0.5px,#227bea 13.5px,#356dda 27.5px,#316ee8 56.5px,#4471d8 62.5px,#3674de 71.5px,#3d73d2 88.5px,#4e54b3 99.5px)"></i><i style="background:linear-gradient(#25abd1 0.5px,#27a9cb 8.5px,#3792a8 12.5px,#6e4d5e 17.5px,#a92c3d 22.5px,#c32e40 30.5px,#b54457 37.5px,#a95872 43.5px,#a85479 58.5px,#ab5a6f 68.5px,#ca3e4f 72.5px,#dd4051 76.5px,#dd4b5b 81.5px,#dd4251 86.5px,#e14351 99.5px)"></i><i style="background:linear-gradient(#27b2c7 0.5px,#29b0c1 9.5px,#408f92 13.5px,#7b3e3e 17.5px,#ae1c1c 20.5px,#df1313 24.5px,#f62525 32.5px,#f35658 44.5px,#f34c4e 46.5px,#f36466 62.5px,#f56565 70.5px,#fa8282 72.5px,#fe8c8c 95.5px,#fea7a7 96.5px,#feacac 99.5px)"></i><i style="background:linear-gradient(#27b2c6 0.5px,#29b1c2 10.5px,#3c9699 14.5px,#863333 19.5px,#b91717 22.5px,#df1111 25.5px,#fb2222 33.5px,#ff9b9b 55.5px,#ffbaba 79.5px,#ffc2c2 99.5px)"></i><i style="background:linear-gradient(#27b2c6 0.5px,#29b0c1 12.5px,#3f9193 16.5px,#8d2e2e 21.5px,#be1515 24.5px,#e21111 27.5px,#fb2525 35.5px,#ffa5a5 56.5px,#ffc0c0 75.5px,#fcbcbc 97.5px,#f3b9be 99.5px)"></i><i style="background:linear-gradient(#27b0c9 0.5px,#29adc2 14.5px,#418b92 18.5px,#7c3e42 22.5px,#ae1f21 25.5px,#de1717 29.5px,#f91d1d 35.5px,#ffa7a7 58.5px,#ffc0c0 77.5px,#fabcbd 91.5px,#e7b5c0 95.5px,#d09bad 97.5px,#afa2be 98.5px,#a08bb4 99.5px)"></i><i style="background:linear-gradient(#229fdf 0.5px,#239edb 15.5px,#358ab7 20.5px,#6b5270 25.5px,#9f3b4e 29.5px,#bd2535 31.5px,#e2252e 36.5px,#ff4e4e 45.5px,#ffa4a4 59.5px,#ffbfbf 77.5px,#fcbbbc 84.5px,#e4b4bf 89.5px,#dda7b5 90.5px,#c69db0 91.5px,#ac9ebe 92.5px,#958ebb 93.5px,#7791cc 94.5px,#627fc8 95.5px,#438ce4 96.5px,#307ef0 99.5px)"></i><i style="background:linear-gradient(#1c77fa 0.5px,#2173f1 22.5px,#3c76ce 33.5px,#5560ab 35.5px,#785e92 38.5px,#9f4d71 40.5px,#b64d61 42.5px,#cf3f50 43.5px,#e64f5a 46.5px,#ff7676 53.5px,#ffa5a5 61.5px,#ffbaba 75.5px,#e4b3be 82.5px,#d099aa 84.5px,#b1a4be 85.5px,#a291b9 86.5px,#8293c6 87.5px,#5484d2 89.5px,#3f8ae7 90.5px,#1c78fd 97.5px,#1c74fe 99.5px)"></i><i style="background:linear-gradient(#1b6dfe 0.5px,#1d70f9 34.5px,#336ee4 42.5px,#4672cb 45.5px,#6062b1 46.5px,#7d69a1 48.5px,#9b5d8a 49.5px,#bc6479 51.5px,#d85e6f 52.5px,#f78d8e 58.5px,#ffa7a7 64.5px,#e5adb8 74.5px,#da97a6 76.5px,#ac9ab8 78.5px,#9d8ab3 79.5px,#7d94c7 80.5px,#6f84c6 81.5px,#5682ce 82.5px,#408ce6 83.5px,#1c78fd 91.5px,#1a6dfe 99.5px)"></i><i style="background:linear-gradient(#1a6cfe 0.5px,#1d6ff9 45.5px,#3571e8 51.5px,#4479d6 53.5px,#616ab9 54.5px,#b97b91 58.5px,#d87687 59.5px,#e4939e 62.5px,#e08f9d 65.5px,#d18697 67.5px,#b696aa 68.5px,#ab95b1 69.5px,#a587ac 70.5px,#798fc4 72.5px,#7080c0 73.5px,#5b7dc6 74.5px,#428de1 75.5px,#277bf3 81.5px,#1c75fe 87.5px,#1a67fe 99.5px)"></i><i style="background:linear-gradient(#1c74fa 0.5px,#276bee 33.5px,#276fef 53.5px,#467ad9 59.5px,#507bca 60.5px,#666ab0 61.5px,#606eb4 62.5px,#4a8ad6 64.5px,#347de4 72.5px,#3171e9 79.5px,#2f62e7 99.5px)"></i><i style="background:linear-gradient(#229fdf 0.5px,#269cd4 7.5px,#3685b6 11.5px,#60618d 17.5px,#7f527c 25.5px,#776599 36.5px,#715fa4 45.5px,#6d5aa5 58.5px,#765d9c 62.5px,#736fac 66.5px,#796293 72.5px,#8b4c7c 74.5px,#a54d7a 78.5px,#a86387 85.5px,#a85877 89.5px,#a95873 99.5px)"></i><i style="background:linear-gradient(#27b0c9 0.5px,#28afc5 6.5px,#3c939b 10.5px,#83383d 15.5px,#bf1f23 19.5px,#db1d21 23.5px,#ea3035 31.5px,#e8434b 41.5px,#e73c46 45.5px,#e9454b 72.5px,#ec464c 74.5px,#ef6066 75.5px,#f36869 95.5px,#f36869 99.5px)"></i><i style="background:linear-gradient(#27b2c6 0.5px,#2baebd 8.5px,#3b979b 11.5px,#843535 16.5px,#b71717 19.5px,#de1111 22.5px,#fb2626 31.5px,#fe9595 52.5px,#ffb3b3 81.5px,#ffb3b3 99.5px)"></i><i style="background:linear-gradient(#27b2c6 0.5px,#29b0c1 9.5px,#3e9295 13.5px,#8a3030 18.5px,#bc1616 21.5px,#e11111 24.5px,#fb2424 32.5px,#ffa5a5 53.5px,#ffbfbf 71.5px,#ffc0c0 99.5px)"></i><i style="background:linear-gradient(#27b2c7 0.5px,#2aafc0 11.5px,#418e90 15.5px,#7d3d3d 19.5px,#b11a1a 22.5px,#e31111 26.5px,#fb2626 34.5px,#ffa6a6 55.5px,#ffc0c0 74.5px,#fcbcbc 94.5px,#e1b2bf 99.5px)"></i><i style="background:linear-gradient(#25abd2 0.5px,#26aace 12.5px,#3596ad 16.5px,#724857 21.5px,#a42734 24.5px,#cf1f29 28.5px,#f0292b 35.5px,#ff4d4d 42.5px,#ffa4a4 56.5px,#ffbfbf 74.5px,#fabcbd 88.5px,#e7b5c0 92.5px,#e0aebc 93.5px,#d39bac 94.5px,#b1a3bd 95.5px,#9e8eb8 96.5px,#7a93cb 97.5px,#677fc7 98.5px,#458de1 99.5px)"></i><i style="background:linear-gradient(#1e84f4 0.5px,#2082ee 16.5px,#3c77c6 26.5px,#5d5fa0 29.5px,#765c8b 32.5px,#99476a 34.5px,#aa4b62 36.5px,#d03546 38.5px,#f3585b 45.5px,#ff7d7d 51.5px,#ffa8a8 59.5px,#ffc0c0 78.5px,#edbbc1 84.5px,#dda8b6 87.5px,#c99caf 88.5px,#ad9fbe 89.5px,#988db9 90.5px,#7892cb 91.5px,#657ec7 92.5px,#448ce2 93.5px,#297df5 97.5px,#1e79fa 99.5px)"></i><i style="background:linear-gradient(#1b70fe 0.5px,#1e71f7 27.5px,#346fe1 37.5px,#4374cc 40.5px,#5963b2 41.5px,#7668a2 43.5px,#a35c82 45.5px,#ae647f 46.5px,#c5596d 47.5px,#da5869 48.5px,#ff9292 56.5px,#ffb0b0 64.5px,#fdb5b6 73.5px,#e4b1bd 79.5px,#d098a9 81.5px,#b1a3bd 82.5px,#a290b8 83.5px,#8293c5 84.5px,#5682d0 86.5px,#408ae7 87.5px,#1c78fd 94.5px,#1b70fe 99.5px)"></i><i style="background:linear-gradient(#1b6dfe 0.5px,#1d70fa 40.5px,#3670e5 47.5px,#4577d3 49.5px,#6267b6 50.5px,#b7778e 54.5px,#d67182 55.5px,#eb939b 58.5px,#f6a5a5 62.5px,#e8abb5 70.5px,#df9daa 72.5px,#d591a2 73.5px,#b69db3 74.5px,#9987b3 76.5px,#7b92c8 77.5px,#6e81c4 78.5px,#408be6 80.5px,#1c78fd 88.5px,#1a6afe 99.5px)"></i><i style="background:linear-gradient(#1b70fd 0.5px,#1d71fa 49.5px,#3b7ae5 55.5px,#457ed8 56.5px,#6570bb 57.5px,#797cb6 58.5px,#9978a3 59.5px,#ac87a2 60.5px,#b98698 61.5px,#ad97ac 63.5px,#a27fa6 66.5px,#7890c2 68.5px,#6779bc 70.5px,#4a8ad4 71.5px,#3b88e7 73.5px,#2676f2 81.5px,#2467f2 99.5px)"></i><i style="background:linear-gradient(#1e8aee 0.5px,#2684dd 9.5px,#4074c6 23.5px,#3b6edb 44.5px,#386edc 56.5px,#5276cd 62.5px,#457dd0 70.5px,#3f7ccf 74.5px,#6357a7 79.5px,#7261ad 86.5px,#726cb4 93.5px,#715ea6 95.5px,#715ea5 99.5px)"></i><i style="background:linear-gradient(#26accc 0.5px,#29a8c3 4.5px,#3894a4 7.5px,#7a3e4b 12.5px,#a42733 15.5px,#c6222e 18.5px,#de3440 28.5px,#d5384a 48.5px,#c24053 56.5px,#dd4151 66.5px,#de505e 70.5px,#dd4350 74.5px,#e7454f 97.5px,#e7454f 99.5px)"></i><i style="background:linear-gradient(#27b2c6 0.5px,#2aaebe 5.5px,#438a8b 9.5px,#823737 13.5px,#b51818 16.5px,#e41111 20.5px,#fb2525 28.5px,#fe5353 37.5px,#fd5656 41.5px,#f97b7c 53.5px,#fe8989 77.5px,#fea9a9 79.5px,#feacac 99.5px)"></i><i style="background:linear-gradient(#27b2c6 0.5px,#29b0c2 6.5px,#3d9497 10.5px,#883232 15.5px,#ba1616 18.5px,#e01111 21.5px,#fb2323 29.5px,#ffa1a1 51.5px,#ffb9b9 71.5px,#ffc2c2 99.5px)"></i><i style="background:linear-gradient(#27b2c6 0.5px,#2ab0c0 8.5px,#408f91 12.5px,#7d3c3c 16.5px,#b01919 19.5px,#e21111 23.5px,#fb2525 31.5px,#ffa6a6 52.5px,#ffbfbf 70.5px,#fbbcbd 97.5px,#f2babe 99.5px)"></i><i style="background:linear-gradient(#26afcb 0.5px,#29abc3 10.5px,#418893 14.5px,#7b3e46 18.5px,#aa232a 21.5px,#d61c20 25.5px,#fa2727 33.5px,#ffa3a3 53.5px,#ffbebe 70.5px,#fbbcbd 91.5px,#e7b5c0 95.5px,#ce9bad 97.5px,#ada0be 98.5px,#9b8cb7 99.5px)"></i><i style="background:linear-gradient(#2098e7 0.5px,#2295e1 12.5px,#3185c3 17.5px,#5a6697 22.5px,#76567c 25.5px,#994763 28.5px,#a84459 30.5px,#c72c3c 32.5px,#de3642 35.5px,#f66 45.5px,#ffa5a5 55.5px,#ffbfbf 73.5px,#fdbdbd 84.5px,#e5b4c0 89.5px,#cb9cae 91.5px,#ad9fbe 92.5px,#988dba 93.5px,#7790cc 94.5px,#627ec9 95.5px,#438ae4 96.5px,#2f7cf1 99.5px)"></i><i style="background:linear-gradient(#1c75fb 0.5px,#236ff1 22.5px,#3b73d7 33.5px,#4473c6 35.5px,#5763af 36.5px,#7d6497 39.5px,#955781 40.5px,#af6079 42.5px,#c55467 43.5px,#da5262 44.5px,#ff9292 53.5px,#ffb0b0 61.5px,#ffbcbc 76.5px,#e1b0bd 83.5px,#d89dae 84.5px,#b8a2b8 85.5px,#5a80cd 89.5px,#418ae6 90.5px,#1c77fd 97.5px,#1c74fe 99.5px)"></i><i style="background:linear-gradient(#1b6efe 0.5px,#1d71f9 35.5px,#3671e4 43.5px,#4278d5 45.5px,#5a68ba 46.5px,#7b72ab 48.5px,#996895 49.5px,#be7287 51.5px,#d97181 52.5px,#eb929a 55.5px,#ffacac 61.5px,#f7b6b6 69.5px,#e3b0bc 75.5px,#d295a7 77.5px,#b2a3bb 78.5px,#a592b8 79.5px,#758dca 81.5px,#647cc6 82.5px,#448be2 83.5px,#2c7df3 87.5px,#1c76fe 92.5px,#1b6dfe 99.5px)"></i><i style="background:linear-gradient(#1b6efe 0.5px,#1d71fb 45.5px,#3573ea 51.5px,#477ad5 53.5px,#676ebb 54.5px,#787ab7 55.5px,#9777a4 56.5px,#ac83a2 57.5px,#c78295 58.5px,#dd8a99 59.5px,#e99fa9 61.5px,#e1a2af 65.5px,#de8f9e 67.5px,#d08c9d 68.5px,#b59cb1 69.5px,#a287af 71.5px,#768cc6 73.5px,#6c7bc1 74.5px,#4d85d4 75.5px,#3f8ae7 76.5px,#1d78fd 85.5px,#1a6bfd 99.5px)"></i><i style="background:linear-gradient(#3b78f1 0.5px,#3b7df5 52.5px,#397bee 53.5px,#256dd5 54.5px,#3c7bbe 59.5px,#5670a5 60.5px,#786e9d 61.5px,#8c6fa5 62.5px,#876fa8 63.5px,#628acb 65.5px,#5182de 70.5px,#377eeb 76.5px,#317ff4 90.5px,#307cf2 99.5px)"></i><i style="background:linear-gradient(#df9aae 0.5px,#df9fb3 30.5px,#dfb5ca 46.5px,#dfb8cc 52.5px,#c1aab5 53.5px,#225d3b 54.5px,#044e24 55.5px,#055021 59.5px,#145021 60.5px,#606145 61.5px,#d37d82 62.5px,#e6828d 63.5px,#db8597 72.5px,#c18da0 76.5px,#ada8be 80.5px,#aaaac7 96.5px,#aaaac7 99.5px)"></i><i style="background:linear-gradient(#fe7f7f 0.5px,#ff8282 29.5px,#ffadad 38.5px,#ffc3c3 52.5px,#dbb3a8 53.5px,#235c1b 54.5px,#004c00 55.5px,#004c00 59.5px,#0c5008 60.5px,#617041 61.5px,#e7a39c 62.5px,#feacac 63.5px,#f5b3b5 99.5px)"></i><i style="background:linear-gradient(#f74040 0.5px,#f84242 29.5px,#faa 46.5px,#ffbebe 52.5px,#dcb1a6 53.5px,#235f1b 54.5px,#005000 55.5px,#005000 59.5px,#0c5408 60.5px,#617644 61.5px,#e7aaa3 62.5px,#ffb3b3 63.5px,#ffb3b3 99.5px)"></i><i style="background:linear-gradient(#c52829 0.5px,#c92728 29.5px,#f12b2b 35.5px,#ff7676 46.5px,#ffafaf 52.5px,#dca89c 53.5px,#236019 54.5px,#005200 55.5px,#005200 59.5px,#0c5608 60.5px,#617744 61.5px,#e7aaa3 62.5px,#ffb3b3 63.5px,#ffb3b3 99.5px)"></i><i style="background:linear-gradient(#59757b 0.5px,#5e7075 29.5px,#ac2b2b 34.5px,#df1a1a 38.5px,#fa2f2f 44.5px,#ff6a6a 50.5px,#ff8a8a 52.5px,#dc9084 53.5px,#235c16 54.5px,#005200 55.5px,#005100 59.5px,#0c5608 60.5px,#617744 61.5px,#e7aaa3 62.5px,#ffb3b3 63.5px,#ffb2b2 99.5px)"></i><i style="background:linear-gradient(#2babc1 0.5px,#2daabe 29.5px,#49878c 33.5px,#a02828 38.5px,#d31414 41.5px,#f21919 45.5px,#fd3434 49.5px,#ff5f5f 52.5px,#dc6c61 53.5px,#235510 54.5px,#005000 55.5px,#005000 59.5px,#0c5508 60.5px,#617644 61.5px,#e7aaa3 62.5px,#ffb3b3 63.5px,#ffadad 83.5px,#f79c9c 99.5px)"></i><i style="background:linear-gradient(#24b4d4 0.5px,#26b3cd 30.5px,#2daab8 33.5px,#498384 36.5px,#853535 39.5px,#b01919 41.5px,#e21111 44.5px,#fa2121 49.5px,#fe4646 52.5px,#db5449 53.5px,#23500c 54.5px,#004f00 55.5px,#004f00 59.5px,#0c5308 60.5px,#617544 61.5px,#e7aaa3 62.5px,#ffb3b3 63.5px,#ffaeae 77.5px,#f48d8d 82.5px,#d7595b 89.5px,#b94d50 99.5px)"></i><i style="background:linear-gradient(#24b4d4 0.5px,#25b3ce 30.5px,#2cacba 33.5px,#468687 36.5px,#833737 39.5px,#ae1a1a 41.5px,#e11111 44.5px,#fa1e1e 49.5px,#fe4040 52.5px,#db4d43 53.5px,#234d0b 54.5px,#004c00 55.5px,#004c00 59.5px,#0c5108 60.5px,#617444 61.5px,#e7aaa3 62.5px,#ffb3b3 63.5px,#ffacac 74.5px,#fb9898 76.5px,#e25757 79.5px,#c04445 81.5px,#667b85 86.5px,#4498aa 93.5px,#3f9bb1 99.5px)"></i><i style="background:linear-gradient(#27b1c9 0.5px,#28b0c7 29.5px,#3d959b 33.5px,#6a5859 36.5px,#a62121 39.5px,#e41212 43.5px,#fc2a2a 49.5px,#fe4a4a 52.5px,#db544a 53.5px,#234c0c 54.5px,#004a00 55.5px,#004a00 59.5px,#0c4f08 60.5px,#617244 61.5px,#e7a9a3 62.5px,#ffb3b3 63.5px,#ffb1b1 71.5px,#fc9a9a 73.5px,#ea5454 75.5px,#d63b3b 76.5px,#ba3838 77.5px,#7b5d5f 79.5px,#4d8a94 81.5px,#31a4c0 84.5px,#25aad6 90.5px,#23abdc 99.5px)"></i><i style="background:linear-gradient(#4d9fa9 0.5px,#509ba4 29.5px,#7e5f60 33.5px,#b13535 36.5px,#e42626 40.5px,#fc3f3f 47.5px,#e7564e 51.5px,#e76058 52.5px,#c76555 53.5px,#204d0e 54.5px,#004800 55.5px,#004800 59.5px,#0b4c08 60.5px,#586d3e 61.5px,#d5a195 62.5px,#fbabaa 63.5px,#feabab 70.5px,#fd9e9e 71.5px,#ec4343 73.5px,#d32f2f 74.5px,#b13232 75.5px,#8b4949 76.5px,#518b90 78.5px,#38a9bb 80.5px,#2cadda 84.5px,#2ba5e3 99.5px)"></i><i style="background:linear-gradient(#dd8687 0.5px,#e38a8a 31.5px,#fa8b8b 39.5px,#ffa1a1 47.5px,#f09e99 48.5px,#9d7d5c 49.5px,#686937 50.5px,#616b37 52.5px,#536931 53.5px,#0d5308 54.5px,#004f00 55.5px,#055003 60.5px,#255f1a 61.5px,#6d7748 62.5px,#e58981 63.5px,#fa8b8b 64.5px,#fa8888 70.5px,#f25d5d 72.5px,#e65353 73.5px,#d15555 74.5px,#9f7c7d 76.5px,#81a6ab 78.5px,#77b0c7 82.5px,#74a6d2 95.5px,#74a5d2 99.5px)"></i><i style="background:linear-gradient(#fe8484 0.5px,#fe8686 24.5px,#ffaeae 34.5px,#ffc0c0 47.5px,#e8b8b0 48.5px,#68844e 49.5px,#176310 50.5px,#0c5f08 52.5px,#005a00 57.5px,#055c03 61.5px,#2d691e 62.5px,#dca195 63.5px,#feacac 64.5px,#f7a5a5 74.5px,#ebb3b6 82.5px,#eab1b8 99.5px)"></i><i style="background:linear-gradient(#fd5c5c 0.5px,#fd5e5e 24.5px,#ffa8a8 37.5px,#ffc1c1 47.5px,#e7b9b0 48.5px,#61874a 49.5px,#0c6809 50.5px,#006300 52.5px,#006300 61.5px,#246e19 62.5px,#dca89a 63.5px,#ffb3b3 64.5px,#ffb3b3 99.5px)"></i><i style="background:linear-gradient(#e22929 0.5px,#e82a2a 25.5px,#fd5353 33.5px,#ffb6b6 47.5px,#e7b3aa 48.5px,#618848 49.5px,#0c6c09 50.5px,#006800 52.5px,#006800 61.5px,#237319 62.5px,#dca99a 63.5px,#ffb3b3 64.5px,#ffb3b3 99.5px)"></i><i style="background:linear-gradient(#824e50 0.5px,#874a4c 24.5px,#c02525 28.5px,#ed2020 33.5px,#fe5151 41.5px,#ff9a9a 47.5px,#e7a097 48.5px,#618242 49.5px,#0c6a08 50.5px,#006700 52.5px,#006700 61.5px,#237219 62.5px,#dca99a 63.5px,#ffb3b3 64.5px,#ffb3b3 99.5px)"></i><i style="background:linear-gradient(#369fae 0.5px,#389dab 24.5px,#537c80 27.5px,#953434 31.5px,#c91919 34.5px,#ee1919 38.5px,#fc3636 43.5px,#ff6c6c 47.5px,#e77c73 48.5px,#617335 49.5px,#0c6607 50.5px,#006400 52.5px,#006400 61.5px,#236f19 62.5px,#dca89a 63.5px,#ffb3b3 64.5px,#ffabab 91.5px,#fea7a7 99.5px)"></i><i style="background:linear-gradient(#25b3d0 0.5px,#27b1c9 25.5px,#33a3ae 28.5px,#547576 31.5px,#902f2f 34.5px,#ca1414 37.5px,#eb1414 40.5px,#fb2525 44.5px,#fe4b4b 47.5px,#e75c53 48.5px,#616327 49.5px,#0c6005 50.5px,#006000 52.5px,#006000 61.5px,#236b19 62.5px,#dca89a 63.5px,#ffb3b3 64.5px,#ffafaf 80.5px,#e46e6f 96.5px,#e2696a 99.5px)"></i><i style="background:linear-gradient(#23b4d5 0.5px,#25b3d0 25.5px,#30a7b2 29.5px,#418e8f 31.5px,#7b3d3d 34.5px,#a71c1c 36.5px,#de1111 39.5px,#f91d1d 44.5px,#fe3f3f 47.5px,#e74e45 48.5px,#615921 49.5px,#0c5a04 50.5px,#005a00 52.5px,#005b00 61.5px,#236719 62.5px,#dca79a 63.5px,#ffb3b3 64.5px,#ffb0b0 76.5px,#fa9a9a 79.5px,#df5a5b 83.5px,#b74c4f 86.5px,#925f64 89.5px,#677a84 97.5px,#637e88 99.5px)"></i><i style="background:linear-gradient(#25b3d0 0.5px,#27b2ca 25.5px,#32a3ae 28.5px,#547373 31.5px,#922d2d 34.5px,#cc1313 37.5px,#eb1313 40.5px,#fc2c2c 45.5px,#fe4342 47.5px,#e75048 48.5px,#615621 49.5px,#0c5504 50.5px,#005400 52.5px,#050 61.5px,#236219 62.5px,#dca69a 63.5px,#ffb3b3 64.5px,#ffadad 74.5px,#fa9090 76.5px,#e65252 78.5px,#d33f3f 79.5px,#b93d3e 80.5px,#815d60 82.5px,#4892a0 85.5px,#36a1bd 88.5px,#29a8ce 99.5px)"></i><i style="background:linear-gradient(#3ba3b4 0.5px,#3ca2b2 24.5px,#4f898e 27.5px,#a22f2f 32.5px,#d31c1c 35.5px,#f12020 39.5px,#fe4545 45.5px,#fe5a59 47.5px,#e7635b 48.5px,#615929 49.5px,#0c4f05 50.5px,#004e00 52.5px,#004e00 61.5px,#235c19 62.5px,#dba499 63.5px,#ffb2b2 64.5px,#ffaeae 72.5px,#fda0a0 73.5px,#f97f7f 74.5px,#ec5252 75.5px,#d63333 76.5px,#b73232 77.5px,#934243 78.5px,#547d82 80.5px,#35a1b2 82.5px,#23add9 86.5px,#21a7e3 99.5px)"></i><i style="background:linear-gradient(#a4686b 0.5px,#a7696b 24.5px,#d84b4b 30.5px,#f75959 36.5px,#fd8685 45.5px,#df887b 47.5px,#c78773 48.5px,#536732 49.5px,#0a5006 50.5px,#004c00 52.5px,#004c00 61.5px,#1f5815 62.5px,#bf9882 63.5px,#e9a79e 64.5px,#fcacab 65.5px,#ffabab 71.5px,#fe9797 72.5px,#f66262 73.5px,#e43d3d 74.5px,#c83535 75.5px,#a64141 76.5px,#688283 78.5px,#4ca7b4 80.5px,#41add2 84.5px,#3fa1dd 93.5px,#3fa1dd 99.5px)"></i><i style="background:linear-gradient(#f38d8d 0.5px,#f39090 22.5px,#ffbaba 44.5px,#f5b8b4 45.5px,#ac9f7d 46.5px,#387725 47.5px,#0d6909 49.5px,#006400 51.5px,#056603 62.5px,#29731c 63.5px,#778850 64.5px,#eba79e 65.5px,#ffacac 66.5px,#ffa8a8 72.5px,#f59797 75.5px,#e1a7aa 81.5px,#e09fa9 99.5px)"></i><i style="background:linear-gradient(#fe7676 0.5px,#fe7b7b 22.5px,#ffacac 32.5px,#ffc2c2 44.5px,#f3bfba 45.5px,#9ea579 46.5px,#187b12 47.5px,#007300 48.5px,#007300 62.5px,#0c7609 63.5px,#618b44 64.5px,#e7aca2 65.5px,#ffb2b2 66.5px,#ffb0b0 99.5px)"></i><i style="background:linear-gradient(#f23636 0.5px,#f43838 22.5px,#ffaeae 41.5px,#ffbaba 44.5px,#f3bab4 45.5px,#9ea677 46.5px,#188212 47.5px,#007c00 48.5px,#007c00 62.5px,#0c7f08 63.5px,#619144 64.5px,#e7aea3 65.5px,#ffb3b3 66.5px,#ffb3b3 99.5px)"></i><i style="background:linear-gradient(#b03031 0.5px,#b13031 21.5px,#e72222 27.5px,#fd4c4c 35.5px,#ffa2a2 44.5px,#f3a9a3 45.5px,#9e9d6f 46.5px,#188011 47.5px,#007b00 48.5px,#007b00 62.5px,#0c7e08 63.5px,#619044 64.5px,#e7aea3 65.5px,#ffb3b3 66.5px,#ffb3b3 99.5px)"></i><i style="background:linear-gradient(#4a8890 0.5px,#4b878f 21.5px,#6a6264 24.5px,#ae2828 28.5px,#e11818 32.5px,#fb3030 38.5px,#ff6464 43.5px,#f3847f 45.5px,#9e885b 46.5px,#18790e 47.5px,#007600 48.5px,#007600 62.5px,#0c7808 63.5px,#618d44 64.5px,#e7aea3 65.5px,#ffb3b3 66.5px,#ffb0b0 99.5px)"></i><i style="background:linear-gradient(#28afc7 0.5px,#2aadc3 22.5px,#428f95 26.5px,#843d3d 30.5px,#bf1818 33.5px,#e61313 36.5px,#fb2828 41.5px,#fe4c4c 44.5px,#f35d58 45.5px,#9e6c42 46.5px,#186f0a 47.5px,#006f00 48.5px,#006f00 62.5px,#0c7208 63.5px,#618944 64.5px,#e7ada3 65.5px,#ffb3b3 66.5px,#ffacac 85.5px,#f29191 99.5px)"></i><i style="background:linear-gradient(#24b4d5 0.5px,#24b3d2 22.5px,#2dabb8 26.5px,#498182 29.5px,#873333 32.5px,#b11818 34.5px,#e31111 37.5px,#fb2121 42.5px,#fd3939 44.5px,#f34843 45.5px,#9e5b34 46.5px,#186608 47.5px,#006700 48.5px,#006700 62.5px,#0c6b08 63.5px,#618444 64.5px,#e7aca3 65.5px,#ffb3b3 66.5px,#ffb0b0 79.5px,#f99797 83.5px,#de6162 88.5px,#bd4e50 93.5px,#a15559 99.5px)"></i><i style="background:linear-gradient(#24b4d3 0.5px,#25b3d0 22.5px,#2fa8b3 26.5px,#408f92 28.5px,#8d2f2f 32.5px,#c91313 35.5px,#ea1313 38.5px,#fb2222 42.5px,#fd3737 44.5px,#f34541 45.5px,#9e5531 46.5px,#185d08 47.5px,#005f00 48.5px,#005f00 62.5px,#0c6308 63.5px,#617f44 64.5px,#e7aba3 65.5px,#ffb3b3 66.5px,#ffb1b1 76.5px,#fda1a1 78.5px,#e85c5c 81.5px,#c54142 83.5px,#975457 85.5px,#5d808c 88.5px,#4299ac 92.5px,#37a0ba 99.5px)"></i><i style="background:linear-gradient(#2cabc2 0.5px,#2ea9bd 22.5px,#3f959d 25.5px,#685d5e 28.5px,#a32525 31.5px,#e11414 35.5px,#fb2929 41.5px,#fe4646 44.5px,#f3524e 45.5px,#9e5939 46.5px,#185609 47.5px,#005600 48.5px,#005600 62.5px,#0c5a08 63.5px,#617944 64.5px,#e7aba3 65.5px,#ffb3b3 66.5px,#ffb1b1 74.5px,#fb9696 76.5px,#e64a4a 78.5px,#cf3535 79.5px,#b13939 80.5px,#6e6568 82.5px,#44929e 84.5px,#2ca8c6 87.5px,#23abda 92.5px,#22aadf 99.5px)"></i><i style="background:linear-gradient(#65838b 0.5px,#6b7e84 22.5px,#b83838 28.5px,#e62c2c 32.5px,#fd4e4e 40.5px,#fe6f6f 44.5px,#eb756d 45.5px,#926a46 46.5px,#16540b 47.5px,#005000 48.5px,#005000 62.5px,#0b5508 63.5px,#58733e 64.5px,#d4a494 65.5px,#f6aeaa 66.5px,#ffafaf 70.5px,#ffaeae 73.5px,#fea0a0 74.5px,#eb4343 76.5px,#d23030 77.5px,#b13535 78.5px,#8d4b4c 79.5px,#568b90 81.5px,#40a6b7 83.5px,#36a7d2 87.5px,#349edb 99.5px)"></i><i style="background:linear-gradient(#e78384 0.5px,#ea8a8a 23.5px,#fea7a7 37.5px,#ffb3b3 43.5px,#f8b2af 44.5px,#bea186 45.5px,#4b7b32 46.5px,#096306 47.5px,#006000 49.5px,#056203 63.5px,#256f19 64.5px,#678544 65.5px,#c3957b 66.5px,#f89d9a 67.5px,#ff9e9e 72.5px,#ff9b9b 73.5px,#f77272 75.5px,#de6868 77.5px,#b68b8d 80.5px,#ab94a0 84.5px,#a887a2 95.5px,#a887a2 99.5px)"></i><i style="background:linear-gradient(#ff8181 0.5px,#ff8787 21.5px,#ffb1b1 31.5px,#ffc2c2 43.5px,#f4c0ba 44.5px,#a2a87c 45.5px,#1e8117 46.5px,#017701 47.5px,#057803 64.5px,#228017 65.5px,#a39c70 66.5px,#f4ada7 67.5px,#ffafaf 69.5px,#f6adae 80.5px,#f4abaf 99.5px)"></i><i style="background:linear-gradient(#fa4d4d 0.5px,#fb5252 21.5px,#ffa7a7 35.5px,#ffbfbf 43.5px,#f3beb8 44.5px,#9eab78 45.5px,#188b12 46.5px,#008500 47.5px,#008500 64.5px,#188a11 65.5px,#9ea26f 66.5px,#f3b1ab 67.5px,#ffb3b3 69.5px,#ffb3b3 99.5px)"></i><i style="background:linear-gradient(#d52727 0.5px,#d62727 20.5px,#f43232 26.5px,#ff9090 39.5px,#ffb0b0 43.5px,#f3b4ae 44.5px,#9ea874 45.5px,#188e11 46.5px,#008900 47.5px,#008900 64.5px,#188d11 65.5px,#9ea36f 66.5px,#f3b1ab 67.5px,#ffb3b3 69.5px,#ffb3b3 99.5px)"></i><i style="background:linear-gradient(#6c6265 0.5px,#6e6063 20.5px,#b72828 25.5px,#ea1d1d 30.5px,#fd4444 37.5px,#ff7b7b 42.5px,#f39993 44.5px,#9e9867 45.5px,#188610 46.5px,#008300 47.5px,#008300 64.5px,#188811 65.5px,#9ea16f 66.5px,#f3b1ab 67.5px,#ffb3b3 69.5px,#ffb3b3 99.5px)"></i><i style="background:linear-gradient(#30a6b9 0.5px,#31a5b7 20.5px,#438f97 23.5px,#7e4747 27.5px,#b71d1d 30.5px,#e81616 34.5px,#fb2c2c 39.5px,#ff5e5d 43.5px,#f3706a 44.5px,#9e7e4f 45.5px,#187c0c 46.5px,#007b00 47.5px,#007b00 64.5px,#188011 65.5px,#9e9e6f 66.5px,#f3b1ab 67.5px,#ffb3b3 69.5px,#ffabab 91.5px,#fda3a3 99.5px)"></i><i style="background:linear-gradient(#24b3d2 0.5px,#26b2ce 21.5px,#33a1ac 25.5px,#478688 27.5px,#803b3b 30.5px,#be1616 33.5px,#e71212 36.5px,#fc2828 41.5px,#fe4141 43.5px,#f3534d 44.5px,#9e663b 45.5px,#187109 46.5px,#007200 47.5px,#007200 64.5px,#187811 65.5px,#9e9b6f 66.5px,#f3b0ab 67.5px,#ffb3b3 69.5px,#ffadad 83.5px,#ef8585 90.5px,#da5b5d 99.5px)"></i><i style="background:linear-gradient(#24b4d5 0.5px,#24b3d1 21.5px,#2eaab6 25.5px,#3e9395 27.5px,#8b3030 31.5px,#b51717 33.5px,#e41111 36.5px,#fb2222 41.5px,#fd3939 43.5px,#f34843 44.5px,#9e5b34 45.5px,#186708 46.5px,#006900 47.5px,#006900 64.5px,#187011 65.5px,#9e976f 66.5px,#f3b0ab 67.5px,#ffb3b3 69.5px,#ffafaf 79.5px,#f99292 82.5px,#e15959 85.5px,#c34849 87.5px,#84666d 91.5px,#5e818d 96.5px,#558795 99.5px)"></i><i style="background:linear-gradient(#26b2cd 0.5px,#27b1c9 21.5px,#33a2ac 24.5px,#567172 27.5px,#932d2d 30.5px,#cc1414 33.5px,#eb1313 36.5px,#fc2b2b 41.5px,#fe4040 43.5px,#f34e49 44.5px,#9e5a37 45.5px,#185e08 46.5px,#005e00 47.5px,#005e00 64.5px,#186611 65.5px,#9e936f 66.5px,#f3afab 67.5px,#ffb3b3 69.5px,#ffadad 77.5px,#f98a8a 79.5px,#e14848 81.5px,#cb3939 82.5px,#ae3f3f 83.5px,#5b7c83 86.5px,#389fb7 89.5px,#29a8ce 95.5px,#26a9d3 99.5px)"></i><i style="background:linear-gradient(#42a2b0 0.5px,#43a2af 20.5px,#57868b 23.5px,#973e3e 27.5px,#ca2323 30.5px,#ee2323 34.5px,#fd4141 40.5px,#fe5c5c 43.5px,#ec645d 44.5px,#976441 45.5px,#17580a 46.5px,#050 47.5px,#050 64.5px,#175e10 65.5px,#978e6a 66.5px,#e9aba3 67.5px,#fdaead 68.5px,#ffacac 75.5px,#fea1a1 76.5px,#fb7e7e 77.5px,#ef4d4d 78.5px,#da2f2f 79.5px,#bb2c2c 80.5px,#963d3d 81.5px,#587a7e 83.5px,#3a9dad 85.5px,#27a8d3 89.5px,#22a5df 98.5px,#22a5e0 99.5px)"></i><i style="background:linear-gradient(#bf7375 0.5px,#c47274 21.5px,#ee6868 28.5px,#fe8a8a 38.5px,#ff9b9b 42.5px,#f69d99 43.5px,#bb9073 44.5px,#0f6009 46.5px,#005b00 47.5px,#005b00 64.5px,#0f610a 65.5px,#628244 66.5px,#a4966e 67.5px,#f1958f 68.5px,#fe9494 69.5px,#fe8d8d 75.5px,#f14646 77.5px,#df3838 78.5px,#c63939 79.5px,#84787b 82.5px,#6e8c9c 85.5px,#4d97c0 91.5px,#489ec9 99.5px)"></i><i style="background:linear-gradient(#f88787 0.5px,#f88d8d 20.5px,#ffb4b4 34.5px,#ffbfbf 42.5px,#e9baaf 43.5px,#6e9852 44.5px,#1a8012 45.5px,#027902 46.5px,#027902 65.5px,#0f7e0a 66.5px,#378726 67.5px,#dfa798 68.5px,#ffadad 69.5px,#fea5a5 76.5px,#f1a3a3 80.5px,#e2afb6 95.5px,#e2b0b6 99.5px)"></i><i style="background:linear-gradient(#fe6969 0.5px,#fe6b6b 19.5px,#ffa8a8 30.5px,#ffc2c2 42.5px,#e7beb1 43.5px,#61a14a 44.5px,#0c8e09 45.5px,#008c00 47.5px,#008c00 66.5px,#249119 67.5px,#dcae9a 68.5px,#ffb3b3 69.5px,#ffb3b3 99.5px)"></i><i style="background:linear-gradient(#eb2d2d 0.5px,#ef3131 20.5px,#ff7c7c 32.5px,#ffb9b9 42.5px,#e7b9ab 43.5px,#61a648 44.5px,#0c9909 45.5px,#009700 47.5px,#009700 66.5px,#239b19 67.5px,#dcaf9a 68.5px,#ffb3b3 69.5px,#ffb3b3 99.5px)"></i><i style="background:linear-gradient(#9a3b3d 0.5px,#9e393a 19.5px,#d92020 24.5px,#f83030 30.5px,#ff6f6f 38.5px,#ffa0a0 42.5px,#e7a99b 43.5px,#619e43 44.5px,#0c9408 45.5px,#009200 47.5px,#009200 66.5px,#239719 67.5px,#dcaf9a 68.5px,#ffb3b3 69.5px,#ffb3b3 99.5px)"></i><i style="background:linear-gradient(#3e97a2 0.5px,#40949e 19.5px,#705a5b 23.5px,#a52b2b 26.5px,#de1717 30.5px,#fa2c2c 36.5px,#ff6262 41.5px,#ff7373 42.5px,#e78679 43.5px,#618c37 44.5px,#0c8a07 45.5px,#008900 47.5px,#008900 66.5px,#238f19 67.5px,#dcad9a 68.5px,#ffb3b3 69.5px,#ffadad 99.5px)"></i><i style="background:linear-gradient(#26b1cc 0.5px,#27b1cb 19.5px,#379da7 23.5px,#5c6b6c 26.5px,#982a2a 29.5px,#d01313 32.5px,#ec1515 35.5px,#fb2828 39.5px,#fe4f4f 42.5px,#e76256 43.5px,#617729 44.5px,#0c7e05 45.5px,#007f00 47.5px,#007f00 66.5px,#238619 67.5px,#dcac9a 68.5px,#ffb3b3 69.5px,#ffafaf 86.5px,#ef8687 99.5px)"></i><i style="background:linear-gradient(#23b4d5 0.5px,#25b3d0 20.5px,#2fa7b3 24.5px,#408f90 26.5px,#7a3e3e 29.5px,#a61d1d 31.5px,#d11 34.5px,#f91d1d 39.5px,#fe3e3e 42.5px,#e75045 43.5px,#616921 44.5px,#0c7204 45.5px,#007400 47.5px,#007400 66.5px,#237d19 67.5px,#dcab9a 68.5px,#ffb3b3 69.5px,#ffaeae 82.5px,#f58989 86.5px,#d85859 90.5px,#b04e52 94.5px,#906065 99.5px)"></i><i style="background:linear-gradient(#24b3d2 0.5px,#26b2cc 20.5px,#2fa9b5 23.5px,#4c7e7f 26.5px,#833 29.5px,#c51414 32.5px,#e91212 35.5px,#fc2828 40.5px,#fe403f 42.5px,#e74f45 43.5px,#616120 44.5px,#0c6704 45.5px,#006800 47.5px,#006800 66.5px,#237219 67.5px,#dca99a 68.5px,#ffb3b3 69.5px,#ffb0b0 79.5px,#fc9b9b 81.5px,#e04c4c 84.5px,#cc3f40 85.5px,#9a4f51 87.5px,#59838d 90.5px,#4398ab 92.5px,#33a2c1 99.5px)"></i><i style="background:linear-gradient(#33a7bb 0.5px,#34a6b9 19.5px,#44939a 22.5px,#7f4747 26.5px,#b81e1e 29.5px,#e21717 32.5px,#fb2c2c 38.5px,#ff5252 42.5px,#e75d55 43.5px,#615f27 44.5px,#0c5c05 45.5px,#005c00 47.5px,#005c00 66.5px,#236819 67.5px,#dba79a 68.5px,#ffb3b3 69.5px,#ffb0b0 77.5px,#fea5a5 78.5px,#fa8e8e 79.5px,#e03e3e 81.5px,#c53232 82.5px,#a33c3c 83.5px,#617073 85.5px,#3c9aa8 87.5px,#25acd4 91.5px,#21a9e0 99.5px)"></i><i style="background:linear-gradient(#85777c 0.5px,#87757a 19.5px,#c64141 25.5px,#ef3f3f 30.5px,#ff7575 40.5px,#fa8280 42.5px,#cc7f6a 43.5px,#53692d 44.5px,#0a5906 45.5px,#005700 47.5px,#005700 66.5px,#1f6315 67.5px,#bfa086 68.5px,#e9aca1 69.5px,#fbacaa 70.5px,#ffabab 76.5px,#fe9d9d 77.5px,#ea3f3f 79.5px,#d03131 80.5px,#af3737 81.5px,#6c7475 83.5px,#48a1ac 85.5px,#39b2cf 88.5px,#35a7e1 94.5px,#35a5e2 99.5px)"></i><i style="background:linear-gradient(#ed9899 0.5px,#ef9f9f 20.5px,#ffb4b4 37.5px,#ffb9b9 41.5px,#e0b3a3 42.5px,#3f8829 43.5px,#0e7c08 44.5px,#007800 46.5px,#057a04 67.5px,#29851b 68.5px,#768945 69.5px,#e88d83 70.5px,#fc8e8e 71.5px,#fc8b8b 77.5px,#f27777 80.5px,#c69193 84.5px,#afb0b8 88.5px,#abb0c4 98.5px,#abb0c4 99.5px)"></i><i style="background:linear-gradient(#ff8080 0.5px,#ff8383 18.5px,#ffaeae 27.5px,#ffc3c3 41.5px,#dcbca8 42.5px,#24971c 43.5px,#019001 44.5px,#009000 67.5px,#0c9109 68.5px,#619b42 69.5px,#e7aa9c 70.5px,#feacac 71.5px,#f5b3b5 99.5px)"></i><i style="background:linear-gradient(#f84141 0.5px,#f94444 18.5px,#ffa7a7 34.5px,#ffbfbf 41.5px,#dcbca6 42.5px,#25a51c 43.5px,#02a102 44.5px,#02a102 67.5px,#0ea20a 68.5px,#62a845 69.5px,#e7b2a3 70.5px,#ffb3b3 71.5px,#ffb3b3 99.5px)"></i><i style="background:linear-gradient(#c92727 0.5px,#cd2626 18.5px,#f32c2c 24.5px,#ff7a7a 35.5px,#ffb1b0 41.5px,#dcb49d 42.5px,#25a51b 43.5px,#02a202 44.5px,#02a202 67.5px,#0ea30a 68.5px,#62a945 69.5px,#e7b2a3 70.5px,#ffb3b3 71.5px,#ffb3b3 99.5px)"></i><i style="background:linear-gradient(#606e73 0.5px,#606e72 17.5px,#73595b 19.5px,#b52626 23.5px,#e41a1a 27.5px,#fb3232 33.5px,#ff6e6e 39.5px,#ff8f8f 41.5px,#dc9d88 42.5px,#249a17 43.5px,#019900 44.5px,#090 67.5px,#0c9a09 68.5px,#61a344 69.5px,#e7b1a3 70.5px,#ffb3b3 71.5px,#ffb3b3 99.5px)"></i><i style="background:linear-gradient(#2da9bc 0.5px,#2fa7b8 18.5px,#458c92 21.5px,#863d3d 25.5px,#bf1818 28.5px,#e51414 31.5px,#fa2727 36.5px,#ff5454 40.5px,#ff6565 41.5px,#dc7a66 42.5px,#238a11 43.5px,#008d00 44.5px,#008d00 67.5px,#0c8f08 68.5px,#619c44 69.5px,#e7b0a3 70.5px,#ffb3b3 71.5px,#ffaeae 91.5px,#fba1a1 99.5px)"></i><i style="background:linear-gradient(#25b3d0 0.5px,#27b2c9 19.5px,#33a3ad 22.5px,#468789 24.5px,#813939 27.5px,#ab1b1b 29.5px,#df1111 32.5px,#fa1e1e 37.5px,#ff4d4d 41.5px,#db614f 42.5px,#237b0d 43.5px,#008000 44.5px,#008000 67.5px,#0c8208 68.5px,#619444 69.5px,#e7afa3 70.5px,#ffb3b3 71.5px,#ffaeae 85.5px,#f58f8f 90.5px,#d75a5b 97.5px,#cd5355 99.5px)"></i><i style="background:linear-gradient(#25b3d0 0.5px,#27b2ca 19.5px,#32a4ad 22.5px,#458889 24.5px,#813939 27.5px,#ac1b1b 29.5px,#e01111 32.5px,#fb2525 38.5px,#fe4848 41.5px,#db5949 42.5px,#236f0c 43.5px,#007300 44.5px,#007300 67.5px,#0c7608 68.5px,#618b44 69.5px,#e7ada3 70.5px,#ffb3b3 71.5px,#ffadad 82.5px,#fb9b9b 84.5px,#e45959 87.5px,#c44445 89.5px,#876267 92.5px,#5f808b 95.5px,#4a91a2 99.5px)"></i><i style="background:linear-gradient(#2aaec3 0.5px,#2bacbf 18.5px,#3e949b 21.5px,#7e4141 25.5px,#ba1919 28.5px,#e31313 31.5px,#fb2929 37.5px,#ff5252 41.5px,#db6051 42.5px,#23650d 43.5px,#006500 44.5px,#006500 67.5px,#0c6908 68.5px,#618344 69.5px,#e7aca3 70.5px,#ffb3b3 71.5px,#ffb2b2 79.5px,#fd9d9d 81.5px,#ed5a5a 83.5px,#da3d3d 84.5px,#bf3737 85.5px,#7f595b 87.5px,#4f8790 89.5px,#389fb4 91.5px,#28a8cf 95.5px,#25abd7 99.5px)"></i><i style="background:linear-gradient(#569299 0.5px,#5a8d92 18.5px,#a23f3f 23.5px,#d02929 26.5px,#f02929 30.5px,#fe4e4e 37.5px,#fb7270 41.5px,#ca745f 42.5px,#20600f 43.5px,#005c00 44.5px,#005c00 67.5px,#0b6008 68.5px,#597b3e 69.5px,#daa697 70.5px,#fcacab 71.5px,#feabab 78.5px,#fea2a2 79.5px,#ee4a4a 81.5px,#d73030 82.5px,#b63131 83.5px,#904545 84.5px,#53878c 86.5px,#39a8b8 88.5px,#2eb0d4 91.5px,#2ba6e2 98.5px,#2ba6e2 99.5px)"></i><i style="background:linear-gradient(#e08687 0.5px,#e48787 19.5px,#fc8c8c 28.5px,#ffb0b0 40.5px,#e9ada2 41.5px,#698e44 42.5px,#0e7408 43.5px,#007000 44.5px,#057203 68.5px,#2c7e1d 69.5px,#928e59 70.5px,#ec8c85 71.5px,#fa8b8b 72.5px,#fa8989 78.5px,#e75454 81.5px,#d15555 82.5px,#9f7d7d 84.5px,#81a6ac 86.5px,#77b1c7 90.5px,#75a6d2 99.5px)"></i><i style="background:linear-gradient(#fe8d8d 0.5px,#fe9090 17.5px,#ffb6b6 29.5px,#ffc2c2 40.5px,#ddbca9 41.5px,#2d9a22 42.5px,#029002 43.5px,#019001 68.5px,#10930b 69.5px,#679d46 70.5px,#e8aa9d 71.5px,#feacac 72.5px,#f7a5a5 82.5px,#ebb3b6 90.5px,#eab1b8 99.5px)"></i><i style="background:linear-gradient(#fe6666 0.5px,#fe6a6a 17.5px,#ffa7a7 28.5px,#ffc2c2 40.5px,#dcbfa8 41.5px,#27aa1e 42.5px,#04a704 43.5px,#04a604 68.5px,#10a70c 69.5px,#63ab46 70.5px,#e8b2a3 71.5px,#ffb3b3 72.5px,#ffb3b3 99.5px)"></i><i style="background:linear-gradient(#ea2a2a 0.5px,#f02f2f 18.5px,#ff8484 31.5px,#ffbaba 40.5px,#dcbca4 41.5px,#29b220 42.5px,#07b007 43.5px,#07b007 68.5px,#12b00f 69.5px,#65b148 70.5px,#e8b3a3 71.5px,#ffb3b3 72.5px,#ffb3b3 99.5px)"></i><i style="background:linear-gradient(#9d3637 0.5px,#9e3637 16.5px,#e01d1d 22.5px,#fb3939 29.5px,#ff8080 37.5px,#ffa6a6 40.5px,#dcae97 41.5px,#27a91c 42.5px,#04a804 43.5px,#04a804 68.5px,#10a80c 69.5px,#63ac46 70.5px,#e8b2a3 71.5px,#ffb3b3 72.5px,#ffb3b3 99.5px)"></i><i style="background:linear-gradient(#438f97 0.5px,#448e96 16.5px,#547a7e 18.5px,#983232 22.5px,#cb1818 25.5px,#ef1919 29.5px,#fd3c3c 35.5px,#ff6e6e 39.5px,#ff8080 40.5px,#dc937d 41.5px,#249a15 42.5px,#019b01 43.5px,#019b01 68.5px,#0d9c09 69.5px,#61a445 70.5px,#e7b1a3 71.5px,#ffb3b3 72.5px,#ffabab 99.5px)"></i><i style="background:linear-gradient(#29afc5 0.5px,#2aaec1 17.5px,#3d959b 20.5px,#6b5454 23.5px,#a91e1e 26.5px,#dd1212 29.5px,#fb2323 35.5px,#ff4f4f 39.5px,#ff6060 40.5px,#dc7461 41.5px,#248910 42.5px,#008d00 43.5px,#008d00 68.5px,#0c8f08 69.5px,#619b44 70.5px,#e7b0a3 71.5px,#ffb3b3 72.5px,#ffaeae 88.5px,#ec7c7d 99.5px)"></i><i style="background:linear-gradient(#26b3cc 0.5px,#27b2c9 17.5px,#32a4ac 20.5px,#468686 22.5px,#833636 25.5px,#ae1919 27.5px,#e11010 30.5px,#fb2424 36.5px,#ff5353 40.5px,#dc6554 41.5px,#237a0e 42.5px,#007e00 43.5px,#007e00 68.5px,#0c8008 69.5px,#619244 70.5px,#e7aea3 71.5px,#ffb3b3 72.5px,#ffafaf 84.5px,#f99696 87.5px,#db5757 91.5px,#b24d50 94.5px,#89646a 98.5px,#83666d 99.5px)"></i><i style="background:linear-gradient(#29b0c3 0.5px,#2badbf 17.5px,#3f9196 20.5px,#863636 24.5px,#c21515 27.5px,#e81212 30.5px,#fc2b2b 36.5px,#ff5757 40.5px,#dc6657 41.5px,#236e0e 42.5px,#006f00 43.5px,#006f00 68.5px,#0c7208 69.5px,#618944 70.5px,#e7ada3 71.5px,#ffb3b3 72.5px,#ffb2b2 81.5px,#fd9f9f 83.5px,#e14b4b 86.5px,#cc3c3d 87.5px,#964f51 89.5px,#518893 92.5px,#389fb9 95.5px,#30a4c4 99.5px)"></i><i style="background:linear-gradient(#47949c 0.5px,#48949b 16.5px,#567f83 18.5px,#9a3535 22.5px,#cd1d1d 25.5px,#ef1f1f 29.5px,#fe4646 36.5px,#ff6e6e 40.5px,#db7669 41.5px,#236311 42.5px,#005f00 43.5px,#005f00 68.5px,#0c6308 69.5px,#617f44 70.5px,#e7aba2 71.5px,#ffb2b2 72.5px,#feabab 80.5px,#fc9a9a 81.5px,#e74646 83.5px,#ce3030 84.5px,#ad3535 85.5px,#67676a 87.5px,#3d99a5 89.5px,#28adcd 92.5px,#22aadf 96.5px,#21a9e1 99.5px)"></i><i style="background:linear-gradient(#b85b5c 0.5px,#bc5959 17.5px,#e54b4b 22.5px,#fd6868 30.5px,#fd9998 39.5px,#f19d96 40.5px,#c0967a 41.5px,#1f6413 42.5px,#005a00 43.5px,#005a00 68.5px,#0a5e07 69.5px,#537839 70.5px,#cca28b 71.5px,#faacaa 72.5px,#ffa9a9 79.5px,#fc8989 80.5px,#f25454 81.5px,#dd3939 82.5px,#bf3737 83.5px,#9c4848 84.5px,#62898c 86.5px,#4aaab8 88.5px,#41acd3 92.5px,#3fa2dd 99.5px)"></i><i style="background:linear-gradient(#f79696 0.5px,#f89e9e 18.5px,#ffbdbd 38.5px,#f5bdb7 39.5px,#acaf80 40.5px,#339824 41.5px,#068b04 42.5px,#028a02 69.5px,#0e8e0a 70.5px,#3f982b 71.5px,#e0a998 72.5px,#ffacac 73.5px,#fea5a5 80.5px,#f39797 83.5px,#e1a6aa 89.5px,#e09fa9 99.5px)"></i><i style="background:linear-gradient(#ff8989 0.5px,#ff8d8d 16.5px,#ffb5b5 27.5px,#ffc3c3 38.5px,#f3c2ba 39.5px,#a0b87b 40.5px,#1ba916 41.5px,#04a604 42.5px,#04a604 70.5px,#27a81c 71.5px,#dcb19a 72.5px,#ffb2b2 73.5px,#ffb0b0 99.5px)"></i><i style="background:linear-gradient(#f94444 0.5px,#fa4848 16.5px,#faa 32.5px,#ffbdbd 38.5px,#f3bfb7 39.5px,#a2bd7b 40.5px,#20b81b 41.5px,#0ab70a 42.5px,#0ab70a 70.5px,#2cb721 71.5px,#ddb49c 72.5px,#ffb3b3 73.5px,#ffb3b3 99.5px)"></i><i style="background:linear-gradient(#d22323 0.5px,#d92222 16.5px,#f83131 22.5px,#ff9494 35.5px,#ffadad 38.5px,#f3b4ac 39.5px,#a1b775 40.5px,#1fb419 41.5px,#08b408 42.5px,#08b408 70.5px,#2ab420 71.5px,#ddb39c 72.5px,#ffb3b3 73.5px,#ffb3b3 99.5px)"></i><i style="background:linear-gradient(#71595b 0.5px,#735859 15.5px,#c01f1f 20.5px,#e91919 24.5px,#fd3d3d 31.5px,#ff7c7c 37.5px,#f39a93 39.5px,#a0a668 40.5px,#1ba813 41.5px,#04a804 42.5px,#04a804 70.5px,#27a91c 71.5px,#dcb29b 72.5px,#ffb3b3 73.5px,#ffb3b3 99.5px)"></i><i style="background:linear-gradient(#359fab 0.5px,#369eaa 15.5px,#448c91 17.5px,#893838 21.5px,#c21616 24.5px,#e71313 27.5px,#fc2c2c 33.5px,#ff6565 38.5px,#f37871 39.5px,#9e8d53 40.5px,#18980d 41.5px,#019901 42.5px,#019901 70.5px,#249d19 71.5px,#dcb09a 72.5px,#ffb3b3 73.5px,#ffadad 92.5px,#f99f9f 99.5px)"></i><i style="background:linear-gradient(#28b1c4 0.5px,#2aafbf 16.5px,#409092 19.5px,#784141 22.5px,#b71717 25.5px,#e41111 28.5px,#fb2626 34.5px,#ff5252 38.5px,#f3635d 39.5px,#9e7944 40.5px,#18870b 41.5px,#008900 42.5px,#008900 70.5px,#238f19 71.5px,#dcad9a 72.5px,#ffb3b3 73.5px,#ffadad 87.5px,#f68e8e 91.5px,#d95b5d 96.5px,#c44f52 99.5px)"></i><i style="background:linear-gradient(#29b0c1 0.5px,#2aafc0 15.5px,#3b979c 18.5px,#576d6d 20.5px,#962828 23.5px,#d01212 26.5px,#eb1313 29.5px,#fc2929 34.5px,#ff5252 38.5px,#f3605a 39.5px,#9e7042 40.5px,#18780a 41.5px,#007900 42.5px,#007900 70.5px,#238119 71.5px,#dcab9a 72.5px,#ffb3b3 73.5px,#ffadad 84.5px,#fa9696 86.5px,#dd4d4e 89.5px,#cb4243 90.5px,#9d5052 92.5px,#617e88 95.5px,#4398ab 99.5px)"></i><i style="background:linear-gradient(#3f969e 0.5px,#3f959d 15.5px,#517d7f 17.5px,#9a2b2b 21.5px,#cf1515 24.5px,#f01818 28.5px,#fd3a3a 34.5px,#ff6161 38.5px,#f36d68 39.5px,#9e724a 40.5px,#186a0b 41.5px,#006800 42.5px,#006800 70.5px,#237319 71.5px,#dba99a 72.5px,#ffb3b3 73.5px,#ffb2b2 81.5px,#fc9c9c 83.5px,#eb5353 85.5px,#d63838 86.5px,#b93636 87.5px,#765e60 89.5px,#488e98 91.5px,#2ea7c4 94.5px,#23abda 99.5px)"></i><i style="background:linear-gradient(#915a5b 0.5px,#925959 15.5px,#cf2e2e 20.5px,#ef3030 24.5px,#fe5f5f 33.5px,#fe8887 38.5px,#eb8d84 39.5px,#928055 40.5px,#16630d 41.5px,#005e00 42.5px,#005e00 70.5px,#206a17 71.5px,#caa48d 72.5px,#fbafad 73.5px,#ffafaf 80.5px,#ffa7a7 81.5px,#fb8181 82.5px,#f04d4d 83.5px,#da3232 84.5px,#ba3131 85.5px,#964343 86.5px,#5b8488 88.5px,#41a4b3 90.5px,#37a7d1 94.5px,#35a0d9 99.5px)"></i><i style="background:linear-gradient(#ef8b8b 0.5px,#f58f8f 18.5px,#ffb8b8 37.5px,#f8b8b4 38.5px,#bfae8a 39.5px,#4b9335 40.5px,#097d07 41.5px,#007a00 43.5px,#007a00 70.5px,#0e7f0a 71.5px,#6a9846 72.5px,#e99e91 73.5px,#ff9e9e 74.5px,#ff9d9d 80.5px,#fe9090 81.5px,#f97676 82.5px,#e26565 84.5px,#b88889 87.5px,#ac949d 90.5px,#a887a2 99.5px)"></i><i style="background:linear-gradient(#ff9a9a 0.5px,#ffa0a0 16.5px,#ffbebe 30.5px,#ffc3c3 37.5px,#f4c2bb 38.5px,#a3b97e 39.5px,#21a81a 40.5px,#05a204 41.5px,#05a205 71.5px,#2fa721 72.5px,#deae99 73.5px,#ffafaf 74.5px,#f6adad 87.5px,#f4abaf 99.5px)"></i><i style="background:linear-gradient(#fe6969 0.5px,#fe6d6d 15.5px,#ffa9a9 26.5px,#ffc1c1 37.5px,#f4c2b9 38.5px,#a2c07d 39.5px,#21bb1c 40.5px,#0bbb0b 41.5px,#0bbb0b 71.5px,#2dba22 72.5px,#ddb49c 73.5px,#ffb3b3 74.5px,#ffb3b3 99.5px)"></i><i style="background:linear-gradient(#ef2a2a 0.5px,#f43131 16.5px,#ffb3b3 36.5px,#f4bcb3 38.5px,#a3be7a 39.5px,#23bf1d 40.5px,#0dbf0c 41.5px,#0dbf0d 71.5px,#2ebe24 72.5px,#ddb59c 73.5px,#ffb3b3 74.5px,#ffb3b3 99.5px)"></i><i style="background:linear-gradient(#b02b2b 0.5px,#b12a2a 14.5px,#e41b1b 19.5px,#fc3a3a 26.5px,#ff8989 35.5px,#ffa1a1 37.5px,#f3aba3 38.5px,#a1b271 39.5px,#1fb518 40.5px,#09b509 41.5px,#09b509 71.5px,#2bb520 72.5px,#ddb49c 73.5px,#ffb3b3 74.5px,#ffb3b3 99.5px)"></i><i style="background:linear-gradient(#55787b 0.5px,#567779 14.5px,#804445 17.5px,#b91c1c 20.5px,#e91616 24.5px,#fc2f2f 30.5px,#ff6c6c 36.5px,#f38d85 38.5px,#9f9e60 39.5px,#1ba512 40.5px,#04a604 41.5px,#04a604 71.5px,#26a81c 72.5px,#dcb29b 73.5px,#ffb3b3 74.5px,#ffacac 97.5px,#fea9a9 99.5px)"></i><i style="background:linear-gradient(#31a6b1 0.5px,#31a5b0 14.5px,#3e9397 16.5px,#5c6868 18.5px,#9a2626 21.5px,#d31212 24.5px,#ec1414 27.5px,#fc2a2a 32.5px,#ff6060 37.5px,#f3726b 38.5px,#9e874e 39.5px,#18940c 40.5px,#019601 41.5px,#019601 71.5px,#249a19 72.5px,#dcaf9a 73.5px,#ffb3b3 74.5px,#ffafaf 89.5px,#f08888 96.5px,#e77474 99.5px)"></i><i style="background:linear-gradient(#2cacba 0.5px,#2dabb8 14.5px,#428c8e 17.5px,#7c3c3c 20.5px,#a71c1c 22.5px,#d11 25.5px,#fa1f1f 31.5px,#ff5959 37.5px,#f36862 38.5px,#9e7947 39.5px,#18830b 40.5px,#008400 41.5px,#008400 71.5px,#238a19 72.5px,#dcad9a 73.5px,#ffb3b3 74.5px,#ffb2b2 85.5px,#fb9a9a 88.5px,#da5252 92.5px,#ba484a 94.5px,#896369 97.5px,#757079 99.5px)"></i><i style="background:linear-gradient(#3b989f 0.5px,#3b979d 14.5px,#4e7d7f 16.5px,#873737 19.5px,#c21616 22.5px,#e71212 25.5px,#fc2929 31.5px,#ff6262 37.5px,#f36f69 38.5px,#9e774c 39.5px,#18730c 40.5px,#007200 41.5px,#007200 71.5px,#237b19 72.5px,#dbaa9a 73.5px,#ffb3b3 74.5px,#ffb0b0 83.5px,#fb9898 85.5px,#ea5656 87.5px,#d63e3e 88.5px,#bc3a3a 89.5px,#805b5e 91.5px,#52858f 93.5px,#35a1bc 96.5px,#2da5c9 99.5px)"></i><i style="background:linear-gradient(#746162 0.5px,#766060 14.5px,#b32c2c 18.5px,#e62121 22.5px,#fc3b3b 29.5px,#ff7d7d 37.5px,#f28681 38.5px,#987f56 39.5px,#17680d 40.5px,#006400 41.5px,#006400 71.5px,#226e18 72.5px,#d6a594 73.5px,#feaead 74.5px,#ffa8a8 82.5px,#fd9292 83.5px,#e63939 85.5px,#ca2a2a 86.5px,#a83333 87.5px,#646c6e 89.5px,#3e98a5 91.5px,#2ba9c9 94.5px,#23a7dd 99.5px)"></i><i style="background:linear-gradient(#de5d5d 0.5px,#e35c5c 15.5px,#fc7070 23.5px,#ffadad 37.5px,#ecaca3 38.5px,#116b0c 40.5px,#006500 41.5px,#006500 71.5px,#1d6d12 72.5px,#b89573 73.5px,#f8908d 74.5px,#fe8c8c 81.5px,#fd7575 82.5px,#f54141 83.5px,#e42727 84.5px,#ca2020 85.5px,#ac2d2d 86.5px,#776466 88.5px,#607f8b 90.5px,#2d98c8 98.5px,#2c99c9 99.5px)"></i></div>
<svg width="600" height="529" viewBox="0 0 600 529">
<g transform="translate(0,0)">
<text x="157.5" y="10.6" font-family="'Liberation Serif', serif" font-size="7.9" text-anchor="middle">Temperature (K)</text>
<text x="27.60" y="16.9" font-family="'Liberation Serif', serif" font-size="5.4" text-anchor="middle" fill="#222">200</text>
<text x="44.91" y="16.9" font-family="'Liberation Serif', serif" font-size="5.4" text-anchor="middle" fill="#222">210</text>
<text x="62.21" y="16.9" font-family="'Liberation Serif', serif" font-size="5.4" text-anchor="middle" fill="#222">220</text>
<text x="79.52" y="16.9" font-family="'Liberation Serif', serif" font-size="5.4" text-anchor="middle" fill="#222">230</text>
<text x="96.83" y="16.9" font-family="'Liberation Serif', serif" font-size="5.4" text-anchor="middle" fill="#222">240</text>
<text x="114.13" y="16.9" font-family="'Liberation Serif', serif" font-size="5.4" text-anchor="middle" fill="#222">250</text>
<text x="131.44" y="16.9" font-family="'Liberation Serif', serif" font-size="5.4" text-anchor="middle" fill="#222">260</text>
<text x="148.75" y="16.9" font-family="'Liberation Serif', serif" font-size="5.4" text-anchor="middle" fill="#222">270</text>
<text x="166.05" y="16.9" font-family="'Liberation Serif', serif" font-size="5.4" text-anchor="middle" fill="#222">280</text>
<text x="183.36" y="16.9" font-family="'Liberation Serif', serif" font-size="5.4" text-anchor="middle" fill="#222">290</text>
<text x="200.67" y="16.9" font-family="'Liberation Serif', serif" font-size="5.4" text-anchor="middle" fill="#222">300</text>
<text x="217.97" y="16.9" font-family="'Liberation Serif', serif" font-size="5.4" text-anchor="middle" fill="#222">310</text>
<text x="235.28" y="16.9" font-family="'Liberation Serif', serif" font-size="5.4" text-anchor="middle" fill="#222">320</text>
<text x="252.59" y="16.9" font-family="'Liberation Serif', serif" font-size="5.4" text-anchor="middle" fill="#222">330</text>
<text x="269.89" y="16.9" font-family="'Liberation Serif', serif" font-size="5.4" text-anchor="middle" fill="#222">340</text>
<text x="287.20" y="16.9" font-family="'Liberation Serif', serif" font-size="5.4" text-anchor="middle" fill="#222">350</text>
<text x="31" y="36.8" font-family="'Liberation Serif', serif" font-size="7.8" font-weight="bold">Variable Eccentricity Model at 1 AU, P[CO<tspan font-size="5.2" dy="2.2">2</tspan><tspan dy="-2.2">] constant at 0.01 bars</tspan></text>
<rect x="27.5" y="41.5" width="259.5" height="101" fill="none" stroke="#000" stroke-width="1.1"/>
<text x="25.6" y="44.50" font-family="'Liberation Serif', serif" font-size="8" text-anchor="end" fill="#222">90</text>
<text x="25.6" y="61.27" font-family="'Liberation Serif', serif" font-size="8" text-anchor="end" fill="#222">60</text>
<text x="25.6" y="78.03" font-family="'Liberation Serif', serif" font-size="8" text-anchor="end" fill="#222">30</text>
<text x="25.6" y="94.80" font-family="'Liberation Serif', serif" font-size="8" text-anchor="end" fill="#222">0</text>
<text x="25.6" y="111.57" font-family="'Liberation Serif', serif" font-size="8" text-anchor="end" fill="#222">−30</text>
<text x="25.6" y="128.33" font-family="'Liberation Serif', serif" font-size="8" text-anchor="end" fill="#222">−60</text>
<text x="25.6" y="145.10" font-family="'Liberation Serif', serif" font-size="8" text-anchor="end" fill="#222">−90</text>
<text transform="translate(9.3,88.6) rotate(-90)" font-family="'Liberation Serif', serif" font-size="8.2" text-anchor="middle" fill="#111">Latitude (degrees)</text>
<path d="M27.2 142 V243.3 H287 V142" fill="none" stroke="#000" stroke-width="1.3"/>
<path d="M27.00 243.30v-3.0 M27.00 142.6v3.0 M32.20 243.30v-2.0 M32.20 142.6v2.0 M37.40 243.30v-3.0 M37.40 142.6v3.0 M42.60 243.30v-2.0 M42.60 142.6v2.0 M47.80 243.30v-3.0 M47.80 142.6v3.0 M53.00 243.30v-2.0 M53.00 142.6v2.0 M58.20 243.30v-3.0 M58.20 142.6v3.0 M63.40 243.30v-2.0 M63.40 142.6v2.0 M68.60 243.30v-3.0 M68.60 142.6v3.0 M73.80 243.30v-2.0 M73.80 142.6v2.0 M79.00 243.30v-3.0 M79.00 142.6v3.0 M84.20 243.30v-2.0 M84.20 142.6v2.0 M89.40 243.30v-3.0 M89.40 142.6v3.0 M94.60 243.30v-2.0 M94.60 142.6v2.0 M99.80 243.30v-3.0 M99.80 142.6v3.0 M105.00 243.30v-2.0 M105.00 142.6v2.0 M110.20 243.30v-3.0 M110.20 142.6v3.0 M115.40 243.30v-2.0 M115.40 142.6v2.0 M120.60 243.30v-3.0 M120.60 142.6v3.0 M125.80 243.30v-2.0 M125.80 142.6v2.0 M131.00 243.30v-3.0 M131.00 142.6v3.0 M136.20 243.30v-2.0 M136.20 142.6v2.0 M141.40 243.30v-3.0 M141.40 142.6v3.0 M146.60 243.30v-2.0 M146.60 142.6v2.0 M151.80 243.30v-3.0 M151.80 142.6v3.0 M157.00 243.30v-2.0 M157.00 142.6v2.0 M162.20 243.30v-3.0 M162.20 142.6v3.0 M167.40 243.30v-2.0 M167.40 142.6v2.0 M172.60 243.30v-3.0 M172.60 142.6v3.0 M177.80 243.30v-2.0 M177.80 142.6v2.0 M183.00 243.30v-3.0 M183.00 142.6v3.0 M188.20 243.30v-2.0 M188.20 142.6v2.0 M193.40 243.30v-3.0 M193.40 142.6v3.0 M198.60 243.30v-2.0 M198.60 142.6v2.0 M203.80 243.30v-3.0 M203.80 142.6v3.0 M209.00 243.30v-2.0 M209.00 142.6v2.0 M214.20 243.30v-3.0 M214.20 142.6v3.0 M219.40 243.30v-2.0 M219.40 142.6v2.0 M224.60 243.30v-3.0 M224.60 142.6v3.0 M229.80 243.30v-2.0 M229.80 142.6v2.0 M235.00 243.30v-3.0 M235.00 142.6v3.0 M240.20 243.30v-2.0 M240.20 142.6v2.0 M245.40 243.30v-3.0 M245.40 142.6v3.0 M250.60 243.30v-2.0 M250.60 142.6v2.0 M255.80 243.30v-3.0 M255.80 142.6v3.0 M261.00 243.30v-2.0 M261.00 142.6v2.0 M266.20 243.30v-3.0 M266.20 142.6v3.0 M271.40 243.30v-2.0 M271.40 142.6v2.0 M276.60 243.30v-3.0 M276.60 142.6v3.0 M281.80 243.30v-2.0 M281.80 142.6v2.0 M287.00 243.30v-3.0 M287.00 142.6v3.0 M27.2 243.30h3.0 M287 243.30h-3.0 M27.2 238.25h2.0 M287 238.25h-2.0 M27.2 233.20h3.0 M287 233.20h-3.0 M27.2 228.15h2.0 M287 228.15h-2.0 M27.2 223.10h3.0 M287 223.10h-3.0 M27.2 218.05h2.0 M287 218.05h-2.0 M27.2 213.00h3.0 M287 213.00h-3.0 M27.2 207.95h2.0 M287 207.95h-2.0 M27.2 202.90h3.0 M287 202.90h-3.0 M27.2 197.85h2.0 M287 197.85h-2.0 M27.2 192.80h3.0 M287 192.80h-3.0 M27.2 187.75h2.0 M287 187.75h-2.0 M27.2 182.70h3.0 M287 182.70h-3.0 M27.2 177.65h2.0 M287 177.65h-2.0 M27.2 172.60h3.0 M287 172.60h-3.0 M27.2 167.55h2.0 M287 167.55h-2.0 M27.2 162.50h3.0 M287 162.50h-3.0 M27.2 157.45h2.0 M287 157.45h-2.0 M27.2 152.40h3.0 M287 152.40h-3.0 M27.2 147.35h2.0 M287 147.35h-2.0 M27.2 142.30h3.0 M287 142.30h-3.0" stroke="#000" stroke-width="0.9" fill="none"/>
<text x="27.00" y="252.4" font-family="'Liberation Serif', serif" font-size="7.6" text-anchor="middle" fill="#222">0</text>
<text x="37.40" y="252.4" font-family="'Liberation Serif', serif" font-size="7.6" text-anchor="middle" fill="#222">1</text>
<text x="47.80" y="252.4" font-family="'Liberation Serif', serif" font-size="7.6" text-anchor="middle" fill="#222">2</text>
<text x="58.20" y="252.4" font-family="'Liberation Serif', serif" font-size="7.6" text-anchor="middle" fill="#222">3</text>
<text x="68.60" y="252.4" font-family="'Liberation Serif', serif" font-size="7.6" text-anchor="middle" fill="#222">4</text>
<text x="79.00" y="252.4" font-family="'Liberation Serif', serif" font-size="7.6" text-anchor="middle" fill="#222">5</text>
<text x="89.40" y="252.4" font-family="'Liberation Serif', serif" font-size="7.6" text-anchor="middle" fill="#222">6</text>
<text x="99.80" y="252.4" font-family="'Liberation Serif', serif" font-size="7.6" text-anchor="middle" fill="#222">7</text>
<text x="110.20" y="252.4" font-family="'Liberation Serif', serif" font-size="7.6" text-anchor="middle" fill="#222">8</text>
<text x="120.60" y="252.4" font-family="'Liberation Serif', serif" font-size="7.6" text-anchor="middle" fill="#222">9</text>
<text x="131.00" y="252.4" font-family="'Liberation Serif', serif" font-size="7.6" text-anchor="middle" fill="#222">10</text>
<text x="141.40" y="252.4" font-family="'Liberation Serif', serif" font-size="7.6" text-anchor="middle" fill="#222">11</text>
<text x="151.80" y="252.4" font-family="'Liberation Serif', serif" font-size="7.6" text-anchor="middle" fill="#222">12</text>
<text x="162.20" y="252.4" font-family="'Liberation Serif', serif" font-size="7.6" text-anchor="middle" fill="#222">13</text>
<text x="172.60" y="252.4" font-family="'Liberation Serif', serif" font-size="7.6" text-anchor="middle" fill="#222">14</text>
<text x="183.00" y="252.4" font-family="'Liberation Serif', serif" font-size="7.6" text-anchor="middle" fill="#222">15</text>
<text x="193.40" y="252.4" font-family="'Liberation Serif', serif" font-size="7.6" text-anchor="middle" fill="#222">16</text>
<text x="203.80" y="252.4" font-family="'Liberation Serif', serif" font-size="7.6" text-anchor="middle" fill="#222">17</text>
<text x="214.20" y="252.4" font-family="'Liberation Serif', serif" font-size="7.6" text-anchor="middle" fill="#222">18</text>
<text x="224.60" y="252.4" font-family="'Liberation Serif', serif" font-size="7.6" text-anchor="middle" fill="#222">19</text>
<text x="235.00" y="252.4" font-family="'Liberation Serif', serif" font-size="7.6" text-anchor="middle" fill="#222">20</text>
<text x="245.40" y="252.4" font-family="'Liberation Serif', serif" font-size="7.6" text-anchor="middle" fill="#222">21</text>
<text x="255.80" y="252.4" font-family="'Liberation Serif', serif" font-size="7.6" text-anchor="middle" fill="#222">22</text>
<text x="266.20" y="252.4" font-family="'Liberation Serif', serif" font-size="7.6" text-anchor="middle" fill="#222">23</text>
<text x="276.60" y="252.4" font-family="'Liberation Serif', serif" font-size="7.6" text-anchor="middle" fill="#222">24</text>
<text x="287.00" y="252.4" font-family="'Liberation Serif', serif" font-size="7.6" text-anchor="middle" fill="#222">25</text>
<text x="156.8" y="260.8" font-family="'Liberation Serif', serif" font-size="8.8" text-anchor="middle" fill="#111">Time (years)</text>
<text x="25.4" y="245.90" font-family="'Liberation Serif', serif" font-size="7.6" text-anchor="end" fill="#222">0</text>
<text x="25.4" y="235.80" font-family="'Liberation Serif', serif" font-size="7.6" text-anchor="end" fill="#222">0.1</text>
<text x="25.4" y="225.70" font-family="'Liberation Serif', serif" font-size="7.6" text-anchor="end" fill="#222">0.2</text>
<text x="25.4" y="215.60" font-family="'Liberation Serif', serif" font-size="7.6" text-anchor="end" fill="#222">0.3</text>
<text x="25.4" y="205.50" font-family="'Liberation Serif', serif" font-size="7.6" text-anchor="end" fill="#222">0.4</text>
<text x="25.4" y="195.40" font-family="'Liberation Serif', serif" font-size="7.6" text-anchor="end" fill="#222">0.5</text>
<text x="25.4" y="185.30" font-family="'Liberation Serif', serif" font-size="7.6" text-anchor="end" fill="#222">0.6</text>
<text x="25.4" y="175.20" font-family="'Liberation Serif', serif" font-size="7.6" text-anchor="end" fill="#222">0.7</text>
<text x="25.4" y="165.10" font-family="'Liberation Serif', serif" font-size="7.6" text-anchor="end" fill="#222">0.8</text>
<text x="25.4" y="155.00" font-family="'Liberation Serif', serif" font-size="7.6" text-anchor="end" fill="#222">0.9</text>
<text transform="translate(10.6,193) rotate(-90)" font-family="'Liberation Serif', serif" font-size="7.9" text-anchor="middle" fill="#111">Eccentricity</text>
<polyline points="27.00,226.02 28.00,226.83 29.00,227.63 30.00,228.41 31.00,229.18 32.00,229.93 33.00,230.66 34.00,231.38 35.00,232.08 36.00,232.76 37.00,233.42 38.00,234.07 39.00,234.69 40.00,235.29 41.00,235.88 42.00,236.45 43.00,236.99 44.00,237.51 45.00,238.02 46.00,238.50 47.00,238.96 48.00,239.40 49.00,239.81 50.00,240.21 51.00,240.58 52.00,240.92 53.00,241.25 54.00,241.55 55.00,241.83 56.00,242.08 57.00,242.31 58.00,242.52 59.00,242.70 60.00,242.86 61.00,242.99 62.00,243.10 63.00,243.19 64.00,243.25 65.00,243.29 66.00,243.30 67.00,243.29 68.00,243.25 69.00,243.19 70.00,243.10 71.00,242.99 72.00,242.86 73.00,242.70 74.00,242.52 75.00,242.31 76.00,242.08 77.00,241.83 78.00,241.55 79.00,241.25 80.00,240.92 81.00,240.58 82.00,240.21 83.00,239.81 84.00,239.40 85.00,238.96 86.00,238.50 87.00,238.02 88.00,237.51 89.00,236.99 90.00,236.45 91.00,235.88 92.00,235.29 93.00,234.69 94.00,234.07 95.00,233.42 96.00,232.76 97.00,232.08 98.00,231.38 99.00,230.66 100.00,229.93 101.00,229.18 102.00,228.41 103.00,227.63 104.00,226.83 105.00,226.02 106.00,225.20 107.00,224.35 108.00,223.50 109.00,222.63 110.00,221.75 111.00,220.86 112.00,219.96 113.00,219.05 114.00,218.12 115.00,217.19 116.00,216.25 117.00,215.30 118.00,214.34 119.00,213.37 120.00,212.40 121.00,211.42 122.00,210.43 123.00,209.44 124.00,208.44 125.00,207.44 126.00,206.44 127.00,205.43 128.00,204.42 129.00,203.41 130.00,202.40 131.00,201.39 132.00,200.37 133.00,199.36 134.00,198.35 135.00,197.34 136.00,196.33 137.00,195.33 138.00,194.33 139.00,193.33 140.00,192.34 141.00,191.35 142.00,190.37 143.00,189.40 144.00,188.43 145.00,187.47 146.00,186.52 147.00,185.58 148.00,184.65 149.00,183.72 150.00,182.81 151.00,181.91 152.00,181.02 153.00,180.14 154.00,179.27 155.00,178.42 156.00,177.57 157.00,176.75 158.00,175.94 159.00,175.14 160.00,174.36 161.00,173.59 162.00,172.84 163.00,172.11 164.00,171.39 165.00,170.69 166.00,170.01 167.00,169.35 168.00,168.70 169.00,168.08 170.00,167.48 171.00,166.89 172.00,166.32 173.00,165.78 174.00,165.26 175.00,164.75 176.00,164.27 177.00,163.81 178.00,163.37 179.00,162.96 180.00,162.56 181.00,162.19 182.00,161.85 183.00,161.52 184.00,161.22 185.00,160.94 186.00,160.69 187.00,160.46 188.00,160.25 189.00,160.07 190.00,159.91 191.00,159.78 192.00,159.67 193.00,159.58 194.00,159.52 195.00,159.48 196.00,159.47 197.00,159.48 198.00,159.52 199.00,159.58 200.00,159.67 201.00,159.78 202.00,159.91 203.00,160.07 204.00,160.25 205.00,160.46 206.00,160.69 207.00,160.94 208.00,161.22 209.00,161.52 210.00,161.85 211.00,162.19 212.00,162.56 213.00,162.96 214.00,163.37 215.00,163.81 216.00,164.27 217.00,164.75 218.00,165.26 219.00,165.78 220.00,166.32 221.00,166.89 222.00,167.48 223.00,168.08 224.00,168.70 225.00,169.35 226.00,170.01 227.00,170.69 228.00,171.39 229.00,172.11 230.00,172.84 231.00,173.59 232.00,174.36 233.00,175.14 234.00,175.94 235.00,176.75 236.00,177.57 237.00,178.42 238.00,179.27 239.00,180.14 240.00,181.02 241.00,181.91 242.00,182.81 243.00,183.72 244.00,184.65 245.00,185.58 246.00,186.52 247.00,187.47 248.00,188.43 249.00,189.40 250.00,190.37 251.00,191.35 252.00,192.34 253.00,193.33 254.00,194.33 255.00,195.33 256.00,196.33 257.00,197.34 258.00,198.35 259.00,199.36 260.00,200.37 261.00,201.38 262.00,202.40 263.00,203.41 264.00,204.42 265.00,205.43 266.00,206.44 267.00,207.44 268.00,208.44 269.00,209.44 270.00,210.43 271.00,211.42 272.00,212.40 273.00,213.37 274.00,214.34 275.00,215.30 276.00,216.25 277.00,217.19 278.00,218.12 279.00,219.05 280.00,219.96 281.00,220.86 282.00,221.75 283.00,222.63 284.00,223.50 285.00,224.35 286.00,225.20 287.00,226.02" fill="none" stroke="#1a1acc" stroke-width="1.5"/>
<text x="64" y="165.4" font-family="'Liberation Mono', monospace" font-size="7.7" fill="#1a1a1a" stroke="#1a1a1a" stroke-width="0.32">Maximum e: 0.83</text>
<text x="33.0" y="200.4" font-family="'Liberation Sans', sans-serif" font-size="5.7" fill="#222">Albedo spikes to 0.8 in this range</text>
<line x1="53.5" y1="203.5" x2="47.46" y2="231.85" stroke="#111" stroke-width="0.9"/>
<polygon points="46,238.7 45.21,231.37 49.71,232.33" fill="#111"/>
<line x1="73.7" y1="203.2" x2="84.71" y2="232.16" stroke="#111" stroke-width="0.9"/>
<polygon points="87.2,238.7 82.56,232.97 86.86,231.34" fill="#111"/>
<g font-family="'Liberation Mono', monospace" fill="#eef3ff" font-size="7.2" letter-spacing="0.6"><text x="63.4" y="84.6">θ</text><text x="68.2" y="88.9" font-size="5.8">p</text><text x="72.6" y="84.6">:</text><text x="80.5" y="84.6">23.5</text><text x="99.7" y="79.4" font-size="4">o</text><text x="63.4" y="97.9">θ</text><text x="68.2" y="102.2" font-size="5.8">a</text><text x="72.6" y="97.9">:</text><text x="80.5" y="97.9">30</text><text x="90.7" y="92.7" font-size="4">o</text></g>
</g>
<g transform="translate(306,0)">
<text x="157.5" y="10.6" font-family="'Liberation Serif', serif" font-size="7.9" text-anchor="middle">Temperature (K)</text>
<text x="27.60" y="16.9" font-family="'Liberation Serif', serif" font-size="5.4" text-anchor="middle" fill="#222">200</text>
<text x="44.91" y="16.9" font-family="'Liberation Serif', serif" font-size="5.4" text-anchor="middle" fill="#222">210</text>
<text x="62.21" y="16.9" font-family="'Liberation Serif', serif" font-size="5.4" text-anchor="middle" fill="#222">220</text>
<text x="79.52" y="16.9" font-family="'Liberation Serif', serif" font-size="5.4" text-anchor="middle" fill="#222">230</text>
<text x="96.83" y="16.9" font-family="'Liberation Serif', serif" font-size="5.4" text-anchor="middle" fill="#222">240</text>
<text x="114.13" y="16.9" font-family="'Liberation Serif', serif" font-size="5.4" text-anchor="middle" fill="#222">250</text>
<text x="131.44" y="16.9" font-family="'Liberation Serif', serif" font-size="5.4" text-anchor="middle" fill="#222">260</text>
<text x="148.75" y="16.9" font-family="'Liberation Serif', serif" font-size="5.4" text-anchor="middle" fill="#222">270</text>
<text x="166.05" y="16.9" font-family="'Liberation Serif', serif" font-size="5.4" text-anchor="middle" fill="#222">280</text>
<text x="183.36" y="16.9" font-family="'Liberation Serif', serif" font-size="5.4" text-anchor="middle" fill="#222">290</text>
<text x="200.67" y="16.9" font-family="'Liberation Serif', serif" font-size="5.4" text-anchor="middle" fill="#222">300</text>
<text x="217.97" y="16.9" font-family="'Liberation Serif', serif" font-size="5.4" text-anchor="middle" fill="#222">310</text>
<text x="235.28" y="16.9" font-family="'Liberation Serif', serif" font-size="5.4" text-anchor="middle" fill="#222">320</text>
<text x="252.59" y="16.9" font-family="'Liberation Serif', serif" font-size="5.4" text-anchor="middle" fill="#222">330</text>
<text x="269.89" y="16.9" font-family="'Liberation Serif', serif" font-size="5.4" text-anchor="middle" fill="#222">340</text>
<text x="287.20" y="16.9" font-family="'Liberation Serif', serif" font-size="5.4" text-anchor="middle" fill="#222">350</text>
<text x="31" y="36.8" font-family="'Liberation Serif', serif" font-size="7.8" font-weight="bold">Variable Eccentricity Model at 1 AU, P[CO<tspan font-size="5.2" dy="2.2">2</tspan><tspan dy="-2.2">] adjusts with T</tspan></text>
<rect x="27.5" y="41.5" width="259.5" height="101" fill="none" stroke="#000" stroke-width="1.1"/>
<text x="25.6" y="44.50" font-family="'Liberation Serif', serif" font-size="8" text-anchor="end" fill="#222">90</text>
<text x="25.6" y="61.27" font-family="'Liberation Serif', serif" font-size="8" text-anchor="end" fill="#222">60</text>
<text x="25.6" y="78.03" font-family="'Liberation Serif', serif" font-size="8" text-anchor="end" fill="#222">30</text>
<text x="25.6" y="94.80" font-family="'Liberation Serif', serif" font-size="8" text-anchor="end" fill="#222">0</text>
<text x="25.6" y="111.57" font-family="'Liberation Serif', serif" font-size="8" text-anchor="end" fill="#222">−30</text>
<text x="25.6" y="128.33" font-family="'Liberation Serif', serif" font-size="8" text-anchor="end" fill="#222">−60</text>
<text x="25.6" y="145.10" font-family="'Liberation Serif', serif" font-size="8" text-anchor="end" fill="#222">−90</text>
<text transform="translate(9.3,88.6) rotate(-90)" font-family="'Liberation Serif', serif" font-size="8.2" text-anchor="middle" fill="#111">Latitude (degrees)</text>
<path d="M27.2 142 V243.3 H287 V142" fill="none" stroke="#000" stroke-width="1.3"/>
<path d="M27.00 243.30v-3.0 M27.00 142.6v3.0 M32.20 243.30v-2.0 M32.20 142.6v2.0 M37.40 243.30v-3.0 M37.40 142.6v3.0 M42.60 243.30v-2.0 M42.60 142.6v2.0 M47.80 243.30v-3.0 M47.80 142.6v3.0 M53.00 243.30v-2.0 M53.00 142.6v2.0 M58.20 243.30v-3.0 M58.20 142.6v3.0 M63.40 243.30v-2.0 M63.40 142.6v2.0 M68.60 243.30v-3.0 M68.60 142.6v3.0 M73.80 243.30v-2.0 M73.80 142.6v2.0 M79.00 243.30v-3.0 M79.00 142.6v3.0 M84.20 243.30v-2.0 M84.20 142.6v2.0 M89.40 243.30v-3.0 M89.40 142.6v3.0 M94.60 243.30v-2.0 M94.60 142.6v2.0 M99.80 243.30v-3.0 M99.80 142.6v3.0 M105.00 243.30v-2.0 M105.00 142.6v2.0 M110.20 243.30v-3.0 M110.20 142.6v3.0 M115.40 243.30v-2.0 M115.40 142.6v2.0 M120.60 243.30v-3.0 M120.60 142.6v3.0 M125.80 243.30v-2.0 M125.80 142.6v2.0 M131.00 243.30v-3.0 M131.00 142.6v3.0 M136.20 243.30v-2.0 M136.20 142.6v2.0 M141.40 243.30v-3.0 M141.40 142.6v3.0 M146.60 243.30v-2.0 M146.60 142.6v2.0 M151.80 243.30v-3.0 M151.80 142.6v3.0 M157.00 243.30v-2.0 M157.00 142.6v2.0 M162.20 243.30v-3.0 M162.20 142.6v3.0 M167.40 243.30v-2.0 M167.40 142.6v2.0 M172.60 243.30v-3.0 M172.60 142.6v3.0 M177.80 243.30v-2.0 M177.80 142.6v2.0 M183.00 243.30v-3.0 M183.00 142.6v3.0 M188.20 243.30v-2.0 M188.20 142.6v2.0 M193.40 243.30v-3.0 M193.40 142.6v3.0 M198.60 243.30v-2.0 M198.60 142.6v2.0 M203.80 243.30v-3.0 M203.80 142.6v3.0 M209.00 243.30v-2.0 M209.00 142.6v2.0 M214.20 243.30v-3.0 M214.20 142.6v3.0 M219.40 243.30v-2.0 M219.40 142.6v2.0 M224.60 243.30v-3.0 M224.60 142.6v3.0 M229.80 243.30v-2.0 M229.80 142.6v2.0 M235.00 243.30v-3.0 M235.00 142.6v3.0 M240.20 243.30v-2.0 M240.20 142.6v2.0 M245.40 243.30v-3.0 M245.40 142.6v3.0 M250.60 243.30v-2.0 M250.60 142.6v2.0 M255.80 243.30v-3.0 M255.80 142.6v3.0 M261.00 243.30v-2.0 M261.00 142.6v2.0 M266.20 243.30v-3.0 M266.20 142.6v3.0 M271.40 243.30v-2.0 M271.40 142.6v2.0 M276.60 243.30v-3.0 M276.60 142.6v3.0 M281.80 243.30v-2.0 M281.80 142.6v2.0 M287.00 243.30v-3.0 M287.00 142.6v3.0 M27.2 243.30h3.0 M287 243.30h-3.0 M27.2 238.25h2.0 M287 238.25h-2.0 M27.2 233.20h3.0 M287 233.20h-3.0 M27.2 228.15h2.0 M287 228.15h-2.0 M27.2 223.10h3.0 M287 223.10h-3.0 M27.2 218.05h2.0 M287 218.05h-2.0 M27.2 213.00h3.0 M287 213.00h-3.0 M27.2 207.95h2.0 M287 207.95h-2.0 M27.2 202.90h3.0 M287 202.90h-3.0 M27.2 197.85h2.0 M287 197.85h-2.0 M27.2 192.80h3.0 M287 192.80h-3.0 M27.2 187.75h2.0 M287 187.75h-2.0 M27.2 182.70h3.0 M287 182.70h-3.0 M27.2 177.65h2.0 M287 177.65h-2.0 M27.2 172.60h3.0 M287 172.60h-3.0 M27.2 167.55h2.0 M287 167.55h-2.0 M27.2 162.50h3.0 M287 162.50h-3.0 M27.2 157.45h2.0 M287 157.45h-2.0 M27.2 152.40h3.0 M287 152.40h-3.0 M27.2 147.35h2.0 M287 147.35h-2.0 M27.2 142.30h3.0 M287 142.30h-3.0" stroke="#000" stroke-width="0.9" fill="none"/>
<text x="27.00" y="252.4" font-family="'Liberation Serif', serif" font-size="7.6" text-anchor="middle" fill="#222">0</text>
<text x="37.40" y="252.4" font-family="'Liberation Serif', serif" font-size="7.6" text-anchor="middle" fill="#222">1</text>
<text x="47.80" y="252.4" font-family="'Liberation Serif', serif" font-size="7.6" text-anchor="middle" fill="#222">2</text>
<text x="58.20" y="252.4" font-family="'Liberation Serif', serif" font-size="7.6" text-anchor="middle" fill="#222">3</text>
<text x="68.60" y="252.4" font-family="'Liberation Serif', serif" font-size="7.6" text-anchor="middle" fill="#222">4</text>
<text x="79.00" y="252.4" font-family="'Liberation Serif', serif" font-size="7.6" text-anchor="middle" fill="#222">5</text>
<text x="89.40" y="252.4" font-family="'Liberation Serif', serif" font-size="7.6" text-anchor="middle" fill="#222">6</text>
<text x="99.80" y="252.4" font-family="'Liberation Serif', serif" font-size="7.6" text-anchor="middle" fill="#222">7</text>
<text x="110.20" y="252.4" font-family="'Liberation Serif', serif" font-size="7.6" text-anchor="middle" fill="#222">8</text>
<text x="120.60" y="252.4" font-family="'Liberation Serif', serif" font-size="7.6" text-anchor="middle" fill="#222">9</text>
<text x="131.00" y="252.4" font-family="'Liberation Serif', serif" font-size="7.6" text-anchor="middle" fill="#222">10</text>
<text x="141.40" y="252.4" font-family="'Liberation Serif', serif" font-size="7.6" text-anchor="middle" fill="#222">11</text>
<text x="151.80" y="252.4" font-family="'Liberation Serif', serif" font-size="7.6" text-anchor="middle" fill="#222">12</text>
<text x="162.20" y="252.4" font-family="'Liberation Serif', serif" font-size="7.6" text-anchor="middle" fill="#222">13</text>
<text x="172.60" y="252.4" font-family="'Liberation Serif', serif" font-size="7.6" text-anchor="middle" fill="#222">14</text>
<text x="183.00" y="252.4" font-family="'Liberation Serif', serif" font-size="7.6" text-anchor="middle" fill="#222">15</text>
<text x="193.40" y="252.4" font-family="'Liberation Serif', serif" font-size="7.6" text-anchor="middle" fill="#222">16</text>
<text x="203.80" y="252.4" font-family="'Liberation Serif', serif" font-size="7.6" text-anchor="middle" fill="#222">17</text>
<text x="214.20" y="252.4" font-family="'Liberation Serif', serif" font-size="7.6" text-anchor="middle" fill="#222">18</text>
<text x="224.60" y="252.4" font-family="'Liberation Serif', serif" font-size="7.6" text-anchor="middle" fill="#222">19</text>
<text x="235.00" y="252.4" font-family="'Liberation Serif', serif" font-size="7.6" text-anchor="middle" fill="#222">20</text>
<text x="245.40" y="252.4" font-family="'Liberation Serif', serif" font-size="7.6" text-anchor="middle" fill="#222">21</text>
<text x="255.80" y="252.4" font-family="'Liberation Serif', serif" font-size="7.6" text-anchor="middle" fill="#222">22</text>
<text x="266.20" y="252.4" font-family="'Liberation Serif', serif" font-size="7.6" text-anchor="middle" fill="#222">23</text>
<text x="276.60" y="252.4" font-family="'Liberation Serif', serif" font-size="7.6" text-anchor="middle" fill="#222">24</text>
<text x="287.00" y="252.4" font-family="'Liberation Serif', serif" font-size="7.6" text-anchor="middle" fill="#222">25</text>
<text x="156.8" y="260.8" font-family="'Liberation Serif', serif" font-size="8.8" text-anchor="middle" fill="#111">Time (years)</text>
<text x="25.4" y="245.90" font-family="'Liberation Serif', serif" font-size="7.6" text-anchor="end" fill="#222">0</text>
<text x="25.4" y="235.80" font-family="'Liberation Serif', serif" font-size="7.6" text-anchor="end" fill="#222">0.1</text>
<text x="25.4" y="225.70" font-family="'Liberation Serif', serif" font-size="7.6" text-anchor="end" fill="#222">0.2</text>
<text x="25.4" y="215.60" font-family="'Liberation Serif', serif" font-size="7.6" text-anchor="end" fill="#222">0.3</text>
<text x="25.4" y="205.50" font-family="'Liberation Serif', serif" font-size="7.6" text-anchor="end" fill="#222">0.4</text>
<text x="25.4" y="195.40" font-family="'Liberation Serif', serif" font-size="7.6" text-anchor="end" fill="#222">0.5</text>
<text x="25.4" y="185.30" font-family="'Liberation Serif', serif" font-size="7.6" text-anchor="end" fill="#222">0.6</text>
<text x="25.4" y="175.20" font-family="'Liberation Serif', serif" font-size="7.6" text-anchor="end" fill="#222">0.7</text>
<text x="25.4" y="165.10" font-family="'Liberation Serif', serif" font-size="7.6" text-anchor="end" fill="#222">0.8</text>
<text x="25.4" y="155.00" font-family="'Liberation Serif', serif" font-size="7.6" text-anchor="end" fill="#222">0.9</text>
<text transform="translate(10.6,193) rotate(-90)" font-family="'Liberation Serif', serif" font-size="7.9" text-anchor="middle" fill="#111">Eccentricity</text>
<polyline points="27.00,226.02 28.00,226.83 29.00,227.63 30.00,228.41 31.00,229.18 32.00,229.93 33.00,230.66 34.00,231.38 35.00,232.08 36.00,232.76 37.00,233.42 38.00,234.07 39.00,234.69 40.00,235.29 41.00,235.88 42.00,236.45 43.00,236.99 44.00,237.51 45.00,238.02 46.00,238.50 47.00,238.96 48.00,239.40 49.00,239.81 50.00,240.21 51.00,240.58 52.00,240.92 53.00,241.25 54.00,241.55 55.00,241.83 56.00,242.08 57.00,242.31 58.00,242.52 59.00,242.70 60.00,242.86 61.00,242.99 62.00,243.10 63.00,243.19 64.00,243.25 65.00,243.29 66.00,243.30 67.00,243.29 68.00,243.25 69.00,243.19 70.00,243.10 71.00,242.99 72.00,242.86 73.00,242.70 74.00,242.52 75.00,242.31 76.00,242.08 77.00,241.83 78.00,241.55 79.00,241.25 80.00,240.92 81.00,240.58 82.00,240.21 83.00,239.81 84.00,239.40 85.00,238.96 86.00,238.50 87.00,238.02 88.00,237.51 89.00,236.99 90.00,236.45 91.00,235.88 92.00,235.29 93.00,234.69 94.00,234.07 95.00,233.42 96.00,232.76 97.00,232.08 98.00,231.38 99.00,230.66 100.00,229.93 101.00,229.18 102.00,228.41 103.00,227.63 104.00,226.83 105.00,226.02 106.00,225.20 107.00,224.35 108.00,223.50 109.00,222.63 110.00,221.75 111.00,220.86 112.00,219.96 113.00,219.05 114.00,218.12 115.00,217.19 116.00,216.25 117.00,215.30 118.00,214.34 119.00,213.37 120.00,212.40 121.00,211.42 122.00,210.43 123.00,209.44 124.00,208.44 125.00,207.44 126.00,206.44 127.00,205.43 128.00,204.42 129.00,203.41 130.00,202.40 131.00,201.39 132.00,200.37 133.00,199.36 134.00,198.35 135.00,197.34 136.00,196.33 137.00,195.33 138.00,194.33 139.00,193.33 140.00,192.34 141.00,191.35 142.00,190.37 143.00,189.40 144.00,188.43 145.00,187.47 146.00,186.52 147.00,185.58 148.00,184.65 149.00,183.72 150.00,182.81 151.00,181.91 152.00,181.02 153.00,180.14 154.00,179.27 155.00,178.42 156.00,177.57 157.00,176.75 158.00,175.94 159.00,175.14 160.00,174.36 161.00,173.59 162.00,172.84 163.00,172.11 164.00,171.39 165.00,170.69 166.00,170.01 167.00,169.35 168.00,168.70 169.00,168.08 170.00,167.48 171.00,166.89 172.00,166.32 173.00,165.78 174.00,165.26 175.00,164.75 176.00,164.27 177.00,163.81 178.00,163.37 179.00,162.96 180.00,162.56 181.00,162.19 182.00,161.85 183.00,161.52 184.00,161.22 185.00,160.94 186.00,160.69 187.00,160.46 188.00,160.25 189.00,160.07 190.00,159.91 191.00,159.78 192.00,159.67 193.00,159.58 194.00,159.52 195.00,159.48 196.00,159.47 197.00,159.48 198.00,159.52 199.00,159.58 200.00,159.67 201.00,159.78 202.00,159.91 203.00,160.07 204.00,160.25 205.00,160.46 206.00,160.69 207.00,160.94 208.00,161.22 209.00,161.52 210.00,161.85 211.00,162.19 212.00,162.56 213.00,162.96 214.00,163.37 215.00,163.81 216.00,164.27 217.00,164.75 218.00,165.26 219.00,165.78 220.00,166.32 221.00,166.89 222.00,167.48 223.00,168.08 224.00,168.70 225.00,169.35 226.00,170.01 227.00,170.69 228.00,171.39 229.00,172.11 230.00,172.84 231.00,173.59 232.00,174.36 233.00,175.14 234.00,175.94 235.00,176.75 236.00,177.57 237.00,178.42 238.00,179.27 239.00,180.14 240.00,181.02 241.00,181.91 242.00,182.81 243.00,183.72 244.00,184.65 245.00,185.58 246.00,186.52 247.00,187.47 248.00,188.43 249.00,189.40 250.00,190.37 251.00,191.35 252.00,192.34 253.00,193.33 254.00,194.33 255.00,195.33 256.00,196.33 257.00,197.34 258.00,198.35 259.00,199.36 260.00,200.37 261.00,201.38 262.00,202.40 263.00,203.41 264.00,204.42 265.00,205.43 266.00,206.44 267.00,207.44 268.00,208.44 269.00,209.44 270.00,210.43 271.00,211.42 272.00,212.40 273.00,213.37 274.00,214.34 275.00,215.30 276.00,216.25 277.00,217.19 278.00,218.12 279.00,219.05 280.00,219.96 281.00,220.86 282.00,221.75 283.00,222.63 284.00,223.50 285.00,224.35 286.00,225.20 287.00,226.02" fill="none" stroke="#1a1acc" stroke-width="1.5"/>
<text x="64" y="165.4" font-family="'Liberation Mono', monospace" font-size="7.7" fill="#1a1a1a" stroke="#1a1a1a" stroke-width="0.32">Maximum e: 0.83</text>
<text x="33.0" y="200.4" font-family="'Liberation Sans', sans-serif" font-size="5.7" fill="#222">Albedo spikes to 0.8 in this range</text>
<line x1="53.5" y1="203.5" x2="47.46" y2="231.85" stroke="#111" stroke-width="0.9"/>
<polygon points="46,238.7 45.21,231.37 49.71,232.33" fill="#111"/>
<line x1="73.7" y1="203.2" x2="84.71" y2="232.16" stroke="#111" stroke-width="0.9"/>
<polygon points="87.2,238.7 82.56,232.97 86.86,231.34" fill="#111"/>
<g font-family="'Liberation Mono', monospace" fill="#eef3ff" font-size="7.2" letter-spacing="0.6"><text x="63.4" y="84.6">θ</text><text x="68.2" y="88.9" font-size="5.8">p</text><text x="72.6" y="84.6">:</text><text x="80.5" y="84.6">23.5</text><text x="99.7" y="79.4" font-size="4">o</text><text x="63.4" y="97.9">θ</text><text x="68.2" y="102.2" font-size="5.8">a</text><text x="72.6" y="97.9">:</text><text x="80.5" y="97.9">30</text><text x="90.7" y="92.7" font-size="4">o</text></g>
</g>
<g transform="translate(0,265)">
<text x="157.5" y="10.6" font-family="'Liberation Serif', serif" font-size="7.9" text-anchor="middle">Temperature (K)</text>
<text x="27.60" y="16.9" font-family="'Liberation Serif', serif" font-size="5.4" text-anchor="middle" fill="#222">200</text>
<text x="44.91" y="16.9" font-family="'Liberation Serif', serif" font-size="5.4" text-anchor="middle" fill="#222">210</text>
<text x="62.21" y="16.9" font-family="'Liberation Serif', serif" font-size="5.4" text-anchor="middle" fill="#222">220</text>
<text x="79.52" y="16.9" font-family="'Liberation Serif', serif" font-size="5.4" text-anchor="middle" fill="#222">230</text>
<text x="96.83" y="16.9" font-family="'Liberation Serif', serif" font-size="5.4" text-anchor="middle" fill="#222">240</text>
<text x="114.13" y="16.9" font-family="'Liberation Serif', serif" font-size="5.4" text-anchor="middle" fill="#222">250</text>
<text x="131.44" y="16.9" font-family="'Liberation Serif', serif" font-size="5.4" text-anchor="middle" fill="#222">260</text>
<text x="148.75" y="16.9" font-family="'Liberation Serif', serif" font-size="5.4" text-anchor="middle" fill="#222">270</text>
<text x="166.05" y="16.9" font-family="'Liberation Serif', serif" font-size="5.4" text-anchor="middle" fill="#222">280</text>
<text x="183.36" y="16.9" font-family="'Liberation Serif', serif" font-size="5.4" text-anchor="middle" fill="#222">290</text>
<text x="200.67" y="16.9" font-family="'Liberation Serif', serif" font-size="5.4" text-anchor="middle" fill="#222">300</text>
<text x="217.97" y="16.9" font-family="'Liberation Serif', serif" font-size="5.4" text-anchor="middle" fill="#222">310</text>
<text x="235.28" y="16.9" font-family="'Liberation Serif', serif" font-size="5.4" text-anchor="middle" fill="#222">320</text>
<text x="252.59" y="16.9" font-family="'Liberation Serif', serif" font-size="5.4" text-anchor="middle" fill="#222">330</text>
<text x="269.89" y="16.9" font-family="'Liberation Serif', serif" font-size="5.4" text-anchor="middle" fill="#222">340</text>
<text x="287.20" y="16.9" font-family="'Liberation Serif', serif" font-size="5.4" text-anchor="middle" fill="#222">350</text>
<text x="31" y="36.8" font-family="'Liberation Serif', serif" font-size="7.8" font-weight="bold">Variable Eccentricity Model at 0.8 AU, P[CO<tspan font-size="5.2" dy="2.2">2</tspan><tspan dy="-2.2">] constant at 0.01 bars</tspan></text>
<rect x="27.5" y="41.5" width="259.5" height="101" fill="none" stroke="#000" stroke-width="1.1"/>
<text x="25.6" y="44.50" font-family="'Liberation Serif', serif" font-size="8" text-anchor="end" fill="#222">90</text>
<text x="25.6" y="61.27" font-family="'Liberation Serif', serif" font-size="8" text-anchor="end" fill="#222">60</text>
<text x="25.6" y="78.03" font-family="'Liberation Serif', serif" font-size="8" text-anchor="end" fill="#222">30</text>
<text x="25.6" y="94.80" font-family="'Liberation Serif', serif" font-size="8" text-anchor="end" fill="#222">0</text>
<text x="25.6" y="111.57" font-family="'Liberation Serif', serif" font-size="8" text-anchor="end" fill="#222">−30</text>
<text x="25.6" y="128.33" font-family="'Liberation Serif', serif" font-size="8" text-anchor="end" fill="#222">−60</text>
<text x="25.6" y="145.10" font-family="'Liberation Serif', serif" font-size="8" text-anchor="end" fill="#222">−90</text>
<text transform="translate(9.3,88.6) rotate(-90)" font-family="'Liberation Serif', serif" font-size="8.2" text-anchor="middle" fill="#111">Latitude (degrees)</text>
<path d="M27.2 142 V243.3 H287 V142" fill="none" stroke="#000" stroke-width="1.3"/>
<path d="M27.00 243.30v-3.0 M27.00 142.6v3.0 M32.20 243.30v-2.0 M32.20 142.6v2.0 M37.40 243.30v-3.0 M37.40 142.6v3.0 M42.60 243.30v-2.0 M42.60 142.6v2.0 M47.80 243.30v-3.0 M47.80 142.6v3.0 M53.00 243.30v-2.0 M53.00 142.6v2.0 M58.20 243.30v-3.0 M58.20 142.6v3.0 M63.40 243.30v-2.0 M63.40 142.6v2.0 M68.60 243.30v-3.0 M68.60 142.6v3.0 M73.80 243.30v-2.0 M73.80 142.6v2.0 M79.00 243.30v-3.0 M79.00 142.6v3.0 M84.20 243.30v-2.0 M84.20 142.6v2.0 M89.40 243.30v-3.0 M89.40 142.6v3.0 M94.60 243.30v-2.0 M94.60 142.6v2.0 M99.80 243.30v-3.0 M99.80 142.6v3.0 M105.00 243.30v-2.0 M105.00 142.6v2.0 M110.20 243.30v-3.0 M110.20 142.6v3.0 M115.40 243.30v-2.0 M115.40 142.6v2.0 M120.60 243.30v-3.0 M120.60 142.6v3.0 M125.80 243.30v-2.0 M125.80 142.6v2.0 M131.00 243.30v-3.0 M131.00 142.6v3.0 M136.20 243.30v-2.0 M136.20 142.6v2.0 M141.40 243.30v-3.0 M141.40 142.6v3.0 M146.60 243.30v-2.0 M146.60 142.6v2.0 M151.80 243.30v-3.0 M151.80 142.6v3.0 M157.00 243.30v-2.0 M157.00 142.6v2.0 M162.20 243.30v-3.0 M162.20 142.6v3.0 M167.40 243.30v-2.0 M167.40 142.6v2.0 M172.60 243.30v-3.0 M172.60 142.6v3.0 M177.80 243.30v-2.0 M177.80 142.6v2.0 M183.00 243.30v-3.0 M183.00 142.6v3.0 M188.20 243.30v-2.0 M188.20 142.6v2.0 M193.40 243.30v-3.0 M193.40 142.6v3.0 M198.60 243.30v-2.0 M198.60 142.6v2.0 M203.80 243.30v-3.0 M203.80 142.6v3.0 M209.00 243.30v-2.0 M209.00 142.6v2.0 M214.20 243.30v-3.0 M214.20 142.6v3.0 M219.40 243.30v-2.0 M219.40 142.6v2.0 M224.60 243.30v-3.0 M224.60 142.6v3.0 M229.80 243.30v-2.0 M229.80 142.6v2.0 M235.00 243.30v-3.0 M235.00 142.6v3.0 M240.20 243.30v-2.0 M240.20 142.6v2.0 M245.40 243.30v-3.0 M245.40 142.6v3.0 M250.60 243.30v-2.0 M250.60 142.6v2.0 M255.80 243.30v-3.0 M255.80 142.6v3.0 M261.00 243.30v-2.0 M261.00 142.6v2.0 M266.20 243.30v-3.0 M266.20 142.6v3.0 M271.40 243.30v-2.0 M271.40 142.6v2.0 M276.60 243.30v-3.0 M276.60 142.6v3.0 M281.80 243.30v-2.0 M281.80 142.6v2.0 M287.00 243.30v-3.0 M287.00 142.6v3.0 M27.2 243.30h3.0 M287 243.30h-3.0 M27.2 233.20h2.0 M287 233.20h-2.0 M27.2 223.10h3.0 M287 223.10h-3.0 M27.2 213.00h2.0 M287 213.00h-2.0 M27.2 202.90h3.0 M287 202.90h-3.0 M27.2 192.80h2.0 M287 192.80h-2.0 M27.2 182.70h3.0 M287 182.70h-3.0 M27.2 172.60h2.0 M287 172.60h-2.0 M27.2 162.50h3.0 M287 162.50h-3.0 M27.2 152.40h2.0 M287 152.40h-2.0 M27.2 142.30h3.0 M287 142.30h-3.0" stroke="#000" stroke-width="0.9" fill="none"/>
<text x="27.00" y="252.4" font-family="'Liberation Serif', serif" font-size="7.6" text-anchor="middle" fill="#222">0</text>
<text x="37.40" y="252.4" font-family="'Liberation Serif', serif" font-size="7.6" text-anchor="middle" fill="#222">1</text>
<text x="47.80" y="252.4" font-family="'Liberation Serif', serif" font-size="7.6" text-anchor="middle" fill="#222">2</text>
<text x="58.20" y="252.4" font-family="'Liberation Serif', serif" font-size="7.6" text-anchor="middle" fill="#222">3</text>
<text x="68.60" y="252.4" font-family="'Liberation Serif', serif" font-size="7.6" text-anchor="middle" fill="#222">4</text>
<text x="79.00" y="252.4" font-family="'Liberation Serif', serif" font-size="7.6" text-anchor="middle" fill="#222">5</text>
<text x="89.40" y="252.4" font-family="'Liberation Serif', serif" font-size="7.6" text-anchor="middle" fill="#222">6</text>
<text x="99.80" y="252.4" font-family="'Liberation Serif', serif" font-size="7.6" text-anchor="middle" fill="#222">7</text>
<text x="110.20" y="252.4" font-family="'Liberation Serif', serif" font-size="7.6" text-anchor="middle" fill="#222">8</text>
<text x="120.60" y="252.4" font-family="'Liberation Serif', serif" font-size="7.6" text-anchor="middle" fill="#222">9</text>
<text x="131.00" y="252.4" font-family="'Liberation Serif', serif" font-size="7.6" text-anchor="middle" fill="#222">10</text>
<text x="141.40" y="252.4" font-family="'Liberation Serif', serif" font-size="7.6" text-anchor="middle" fill="#222">11</text>
<text x="151.80" y="252.4" font-family="'Liberation Serif', serif" font-size="7.6" text-anchor="middle" fill="#222">12</text>
<text x="162.20" y="252.4" font-family="'Liberation Serif', serif" font-size="7.6" text-anchor="middle" fill="#222">13</text>
<text x="172.60" y="252.4" font-family="'Liberation Serif', serif" font-size="7.6" text-anchor="middle" fill="#222">14</text>
<text x="183.00" y="252.4" font-family="'Liberation Serif', serif" font-size="7.6" text-anchor="middle" fill="#222">15</text>
<text x="193.40" y="252.4" font-family="'Liberation Serif', serif" font-size="7.6" text-anchor="middle" fill="#222">16</text>
<text x="203.80" y="252.4" font-family="'Liberation Serif', serif" font-size="7.6" text-anchor="middle" fill="#222">17</text>
<text x="214.20" y="252.4" font-family="'Liberation Serif', serif" font-size="7.6" text-anchor="middle" fill="#222">18</text>
<text x="224.60" y="252.4" font-family="'Liberation Serif', serif" font-size="7.6" text-anchor="middle" fill="#222">19</text>
<text x="235.00" y="252.4" font-family="'Liberation Serif', serif" font-size="7.6" text-anchor="middle" fill="#222">20</text>
<text x="245.40" y="252.4" font-family="'Liberation Serif', serif" font-size="7.6" text-anchor="middle" fill="#222">21</text>
<text x="255.80" y="252.4" font-family="'Liberation Serif', serif" font-size="7.6" text-anchor="middle" fill="#222">22</text>
<text x="266.20" y="252.4" font-family="'Liberation Serif', serif" font-size="7.6" text-anchor="middle" fill="#222">23</text>
<text x="276.60" y="252.4" font-family="'Liberation Serif', serif" font-size="7.6" text-anchor="middle" fill="#222">24</text>
<text x="287.00" y="252.4" font-family="'Liberation Serif', serif" font-size="7.6" text-anchor="middle" fill="#222">25</text>
<text x="156.8" y="260.8" font-family="'Liberation Serif', serif" font-size="8.8" text-anchor="middle" fill="#111">Time (years)</text>
<text x="25.4" y="245.90" font-family="'Liberation Serif', serif" font-size="7.6" text-anchor="end" fill="#222">0</text>
<text x="25.4" y="225.70" font-family="'Liberation Serif', serif" font-size="7.6" text-anchor="end" fill="#222">0.1</text>
<text x="25.4" y="205.50" font-family="'Liberation Serif', serif" font-size="7.6" text-anchor="end" fill="#222">0.2</text>
<text x="25.4" y="185.30" font-family="'Liberation Serif', serif" font-size="7.6" text-anchor="end" fill="#222">0.3</text>
<text x="25.4" y="165.10" font-family="'Liberation Serif', serif" font-size="7.6" text-anchor="end" fill="#222">0.4</text>
<text transform="translate(10.6,193) rotate(-90)" font-family="'Liberation Serif', serif" font-size="7.9" text-anchor="middle" fill="#111">Eccentricity</text>
<polyline points="27.00,213.29 28.00,213.74 29.00,214.19 30.00,214.63 31.00,215.05 32.00,215.47 33.00,215.89 34.00,216.29 35.00,216.68 36.00,217.06 37.00,217.44 38.00,217.80 39.00,218.15 40.00,218.49 41.00,218.82 42.00,219.14 43.00,219.45 44.00,219.74 45.00,220.03 46.00,220.30 47.00,220.56 48.00,220.81 49.00,221.05 50.00,221.27 51.00,221.49 52.00,221.68 53.00,221.87 54.00,222.04 55.00,222.21 56.00,222.35 57.00,222.49 58.00,222.61 59.00,222.72 60.00,222.81 61.00,222.89 62.00,222.96 63.00,223.02 64.00,223.06 65.00,223.08 66.00,223.10 67.00,223.10 68.00,223.09 69.00,223.06 70.00,223.02 71.00,222.96 72.00,222.90 73.00,222.82 74.00,222.72 75.00,222.61 76.00,222.49 77.00,222.36 78.00,222.21 79.00,222.05 80.00,221.88 81.00,221.69 82.00,221.49 83.00,221.28 84.00,221.06 85.00,220.82 86.00,220.57 87.00,220.31 88.00,220.04 89.00,219.76 90.00,219.46 91.00,219.15 92.00,218.83 93.00,218.50 94.00,218.16 95.00,217.81 96.00,217.45 97.00,217.08 98.00,216.70 99.00,216.30 100.00,215.90 101.00,215.49 102.00,215.07 103.00,214.64 104.00,214.21 105.00,213.76 106.00,213.31 107.00,212.84 108.00,212.37 109.00,211.90 110.00,211.41 111.00,210.92 112.00,210.43 113.00,209.92 114.00,209.41 115.00,208.90 116.00,208.38 117.00,207.85 118.00,207.33 119.00,206.79 120.00,206.25 121.00,205.71 122.00,205.17 123.00,204.62 124.00,204.07 125.00,203.52 126.00,202.96 127.00,202.40 128.00,201.84 129.00,201.28 130.00,200.72 131.00,200.16 132.00,199.60 133.00,199.04 134.00,198.48 135.00,197.92 136.00,197.36 137.00,196.80 138.00,196.25 139.00,195.69 140.00,195.14 141.00,194.59 142.00,194.05 143.00,193.51 144.00,192.97 145.00,192.44 146.00,191.91 147.00,191.38 148.00,190.86 149.00,190.35 150.00,189.84 151.00,189.33 152.00,188.84 153.00,188.35 154.00,187.86 155.00,187.38 156.00,186.92 157.00,186.45 158.00,186.00 159.00,185.55 160.00,185.11 161.00,184.69 162.00,184.27 163.00,183.85 164.00,183.45 165.00,183.06 166.00,182.68 167.00,182.30 168.00,181.94 169.00,181.59 170.00,181.25 171.00,180.92 172.00,180.60 173.00,180.29 174.00,180.00 175.00,179.71 176.00,179.44 177.00,179.18 178.00,178.93 179.00,178.69 180.00,178.47 181.00,178.25 182.00,178.06 183.00,177.87 184.00,177.70 185.00,177.53 186.00,177.39 187.00,177.25 188.00,177.13 189.00,177.02 190.00,176.93 191.00,176.85 192.00,176.78 193.00,176.72 194.00,176.68 195.00,176.66 196.00,176.64 197.00,176.64 198.00,176.65 199.00,176.68 200.00,176.72 201.00,176.78 202.00,176.84 203.00,176.92 204.00,177.02 205.00,177.13 206.00,177.25 207.00,177.38 208.00,177.53 209.00,177.69 210.00,177.86 211.00,178.05 212.00,178.25 213.00,178.46 214.00,178.68 215.00,178.92 216.00,179.17 217.00,179.43 218.00,179.70 219.00,179.98 220.00,180.28 221.00,180.59 222.00,180.91 223.00,181.24 224.00,181.58 225.00,181.93 226.00,182.29 227.00,182.66 228.00,183.04 229.00,183.44 230.00,183.84 231.00,184.25 232.00,184.67 233.00,185.10 234.00,185.53 235.00,185.98 236.00,186.43 237.00,186.90 238.00,187.37 239.00,187.84 240.00,188.33 241.00,188.82 242.00,189.31 243.00,189.82 244.00,190.33 245.00,190.84 246.00,191.36 247.00,191.89 248.00,192.41 249.00,192.95 250.00,193.49 251.00,194.03 252.00,194.57 253.00,195.12 254.00,195.67 255.00,196.22 256.00,196.78 257.00,197.34 258.00,197.90 259.00,198.46 260.00,199.02 261.00,199.58 262.00,200.14 263.00,200.70 264.00,201.26 265.00,201.82 266.00,202.38 267.00,202.94 268.00,203.49 269.00,204.05 270.00,204.60 271.00,205.15 272.00,205.69 273.00,206.23 274.00,206.77 275.00,207.30 276.00,207.83 277.00,208.36 278.00,208.88 279.00,209.39 280.00,209.90 281.00,210.41 282.00,210.90 283.00,211.39 284.00,211.88 285.00,212.36 286.00,212.82 287.00,213.29" fill="none" stroke="#1a1acc" stroke-width="1.5"/>
<text x="71.3" y="425.1" transform="translate(0,-265)" font-family="'Liberation Mono', monospace" font-size="7.8" fill="#1a1a1a" stroke="#1a1a1a" stroke-width="0.32">Maximum e: 0.33; Minimum e: 0.10</text>
<text x="32.8" y="443.4" transform="translate(0,-265)" font-family="'Liberation Sans', sans-serif" font-size="5.7" fill="#222">Albedo spikes to 0.8 in this range</text>
<line x1="53.3" y1="181.7" x2="41.77" y2="210.99" stroke="#111" stroke-width="0.9"/>
<polygon points="39.2,217.5 39.63,210.14 43.91,211.83" fill="#111"/>
<line x1="74.2" y1="181.7" x2="90.06" y2="212.09" stroke="#111" stroke-width="0.9"/>
<polygon points="93.3,218.3 88.02,213.16 92.10,211.03" fill="#111"/>
<g font-family="'Liberation Mono', monospace" fill="#eef3ff" font-size="7.2" letter-spacing="0.6"><text x="71.0" y="57.7">θ</text><text x="75.8" y="62.0" font-size="5.8">p</text><text x="80.2" y="57.7">:</text><text x="88.1" y="57.7">23.5</text><text x="107.3" y="52.5" font-size="4">o</text><text x="71.0" y="70.6">θ</text><text x="75.8" y="74.9" font-size="5.8">a</text><text x="80.2" y="70.6">:</text><text x="88.1" y="70.6">30</text><text x="98.3" y="65.4" font-size="4">o</text></g>
</g>
<g transform="translate(306,265)">
<text x="157.5" y="10.6" font-family="'Liberation Serif', serif" font-size="7.9" text-anchor="middle">Temperature (K)</text>
<text x="27.60" y="16.9" font-family="'Liberation Serif', serif" font-size="5.4" text-anchor="middle" fill="#222">200</text>
<text x="44.91" y="16.9" font-family="'Liberation Serif', serif" font-size="5.4" text-anchor="middle" fill="#222">210</text>
<text x="62.21" y="16.9" font-family="'Liberation Serif', serif" font-size="5.4" text-anchor="middle" fill="#222">220</text>
<text x="79.52" y="16.9" font-family="'Liberation Serif', serif" font-size="5.4" text-anchor="middle" fill="#222">230</text>
<text x="96.83" y="16.9" font-family="'Liberation Serif', serif" font-size="5.4" text-anchor="middle" fill="#222">240</text>
<text x="114.13" y="16.9" font-family="'Liberation Serif', serif" font-size="5.4" text-anchor="middle" fill="#222">250</text>
<text x="131.44" y="16.9" font-family="'Liberation Serif', serif" font-size="5.4" text-anchor="middle" fill="#222">260</text>
<text x="148.75" y="16.9" font-family="'Liberation Serif', serif" font-size="5.4" text-anchor="middle" fill="#222">270</text>
<text x="166.05" y="16.9" font-family="'Liberation Serif', serif" font-size="5.4" text-anchor="middle" fill="#222">280</text>
<text x="183.36" y="16.9" font-family="'Liberation Serif', serif" font-size="5.4" text-anchor="middle" fill="#222">290</text>
<text x="200.67" y="16.9" font-family="'Liberation Serif', serif" font-size="5.4" text-anchor="middle" fill="#222">300</text>
<text x="217.97" y="16.9" font-family="'Liberation Serif', serif" font-size="5.4" text-anchor="middle" fill="#222">310</text>
<text x="235.28" y="16.9" font-family="'Liberation Serif', serif" font-size="5.4" text-anchor="middle" fill="#222">320</text>
<text x="252.59" y="16.9" font-family="'Liberation Serif', serif" font-size="5.4" text-anchor="middle" fill="#222">330</text>
<text x="269.89" y="16.9" font-family="'Liberation Serif', serif" font-size="5.4" text-anchor="middle" fill="#222">340</text>
<text x="287.20" y="16.9" font-family="'Liberation Serif', serif" font-size="5.4" text-anchor="middle" fill="#222">350</text>
<text x="31" y="36.8" font-family="'Liberation Serif', serif" font-size="7.8" font-weight="bold">Variable Eccentricity Model at 0.8 AU, P[CO<tspan font-size="5.2" dy="2.2">2</tspan><tspan dy="-2.2">] adjusts with T</tspan></text>
<rect x="27.5" y="41.5" width="259.5" height="101" fill="none" stroke="#000" stroke-width="1.1"/>
<text x="25.6" y="44.50" font-family="'Liberation Serif', serif" font-size="8" text-anchor="end" fill="#222">90</text>
<text x="25.6" y="61.27" font-family="'Liberation Serif', serif" font-size="8" text-anchor="end" fill="#222">60</text>
<text x="25.6" y="78.03" font-family="'Liberation Serif', serif" font-size="8" text-anchor="end" fill="#222">30</text>
<text x="25.6" y="94.80" font-family="'Liberation Serif', serif" font-size="8" text-anchor="end" fill="#222">0</text>
<text x="25.6" y="111.57" font-family="'Liberation Serif', serif" font-size="8" text-anchor="end" fill="#222">−30</text>
<text x="25.6" y="128.33" font-family="'Liberation Serif', serif" font-size="8" text-anchor="end" fill="#222">−60</text>
<text x="25.6" y="145.10" font-family="'Liberation Serif', serif" font-size="8" text-anchor="end" fill="#222">−90</text>
<text transform="translate(9.3,88.6) rotate(-90)" font-family="'Liberation Serif', serif" font-size="8.2" text-anchor="middle" fill="#111">Latitude (degrees)</text>
<path d="M27.2 142 V243.3 H287 V142" fill="none" stroke="#000" stroke-width="1.3"/>
<path d="M27.00 243.30v-3.0 M27.00 142.6v3.0 M32.20 243.30v-2.0 M32.20 142.6v2.0 M37.40 243.30v-3.0 M37.40 142.6v3.0 M42.60 243.30v-2.0 M42.60 142.6v2.0 M47.80 243.30v-3.0 M47.80 142.6v3.0 M53.00 243.30v-2.0 M53.00 142.6v2.0 M58.20 243.30v-3.0 M58.20 142.6v3.0 M63.40 243.30v-2.0 M63.40 142.6v2.0 M68.60 243.30v-3.0 M68.60 142.6v3.0 M73.80 243.30v-2.0 M73.80 142.6v2.0 M79.00 243.30v-3.0 M79.00 142.6v3.0 M84.20 243.30v-2.0 M84.20 142.6v2.0 M89.40 243.30v-3.0 M89.40 142.6v3.0 M94.60 243.30v-2.0 M94.60 142.6v2.0 M99.80 243.30v-3.0 M99.80 142.6v3.0 M105.00 243.30v-2.0 M105.00 142.6v2.0 M110.20 243.30v-3.0 M110.20 142.6v3.0 M115.40 243.30v-2.0 M115.40 142.6v2.0 M120.60 243.30v-3.0 M120.60 142.6v3.0 M125.80 243.30v-2.0 M125.80 142.6v2.0 M131.00 243.30v-3.0 M131.00 142.6v3.0 M136.20 243.30v-2.0 M136.20 142.6v2.0 M141.40 243.30v-3.0 M141.40 142.6v3.0 M146.60 243.30v-2.0 M146.60 142.6v2.0 M151.80 243.30v-3.0 M151.80 142.6v3.0 M157.00 243.30v-2.0 M157.00 142.6v2.0 M162.20 243.30v-3.0 M162.20 142.6v3.0 M167.40 243.30v-2.0 M167.40 142.6v2.0 M172.60 243.30v-3.0 M172.60 142.6v3.0 M177.80 243.30v-2.0 M177.80 142.6v2.0 M183.00 243.30v-3.0 M183.00 142.6v3.0 M188.20 243.30v-2.0 M188.20 142.6v2.0 M193.40 243.30v-3.0 M193.40 142.6v3.0 M198.60 243.30v-2.0 M198.60 142.6v2.0 M203.80 243.30v-3.0 M203.80 142.6v3.0 M209.00 243.30v-2.0 M209.00 142.6v2.0 M214.20 243.30v-3.0 M214.20 142.6v3.0 M219.40 243.30v-2.0 M219.40 142.6v2.0 M224.60 243.30v-3.0 M224.60 142.6v3.0 M229.80 243.30v-2.0 M229.80 142.6v2.0 M235.00 243.30v-3.0 M235.00 142.6v3.0 M240.20 243.30v-2.0 M240.20 142.6v2.0 M245.40 243.30v-3.0 M245.40 142.6v3.0 M250.60 243.30v-2.0 M250.60 142.6v2.0 M255.80 243.30v-3.0 M255.80 142.6v3.0 M261.00 243.30v-2.0 M261.00 142.6v2.0 M266.20 243.30v-3.0 M266.20 142.6v3.0 M271.40 243.30v-2.0 M271.40 142.6v2.0 M276.60 243.30v-3.0 M276.60 142.6v3.0 M281.80 243.30v-2.0 M281.80 142.6v2.0 M287.00 243.30v-3.0 M287.00 142.6v3.0 M27.2 243.30h3.0 M287 243.30h-3.0 M27.2 233.20h2.0 M287 233.20h-2.0 M27.2 223.10h3.0 M287 223.10h-3.0 M27.2 213.00h2.0 M287 213.00h-2.0 M27.2 202.90h3.0 M287 202.90h-3.0 M27.2 192.80h2.0 M287 192.80h-2.0 M27.2 182.70h3.0 M287 182.70h-3.0 M27.2 172.60h2.0 M287 172.60h-2.0 M27.2 162.50h3.0 M287 162.50h-3.0 M27.2 152.40h2.0 M287 152.40h-2.0 M27.2 142.30h3.0 M287 142.30h-3.0" stroke="#000" stroke-width="0.9" fill="none"/>
<text x="27.00" y="252.4" font-family="'Liberation Serif', serif" font-size="7.6" text-anchor="middle" fill="#222">0</text>
<text x="37.40" y="252.4" font-family="'Liberation Serif', serif" font-size="7.6" text-anchor="middle" fill="#222">1</text>
<text x="47.80" y="252.4" font-family="'Liberation Serif', serif" font-size="7.6" text-anchor="middle" fill="#222">2</text>
<text x="58.20" y="252.4" font-family="'Liberation Serif', serif" font-size="7.6" text-anchor="middle" fill="#222">3</text>
<text x="68.60" y="252.4" font-family="'Liberation Serif', serif" font-size="7.6" text-anchor="middle" fill="#222">4</text>
<text x="79.00" y="252.4" font-family="'Liberation Serif', serif" font-size="7.6" text-anchor="middle" fill="#222">5</text>
<text x="89.40" y="252.4" font-family="'Liberation Serif', serif" font-size="7.6" text-anchor="middle" fill="#222">6</text>
<text x="99.80" y="252.4" font-family="'Liberation Serif', serif" font-size="7.6" text-anchor="middle" fill="#222">7</text>
<text x="110.20" y="252.4" font-family="'Liberation Serif', serif" font-size="7.6" text-anchor="middle" fill="#222">8</text>
<text x="120.60" y="252.4" font-family="'Liberation Serif', serif" font-size="7.6" text-anchor="middle" fill="#222">9</text>
<text x="131.00" y="252.4" font-family="'Liberation Serif', serif" font-size="7.6" text-anchor="middle" fill="#222">10</text>
<text x="141.40" y="252.4" font-family="'Liberation Serif', serif" font-size="7.6" text-anchor="middle" fill="#222">11</text>
<text x="151.80" y="252.4" font-family="'Liberation Serif', serif" font-size="7.6" text-anchor="middle" fill="#222">12</text>
<text x="162.20" y="252.4" font-family="'Liberation Serif', serif" font-size="7.6" text-anchor="middle" fill="#222">13</text>
<text x="172.60" y="252.4" font-family="'Liberation Serif', serif" font-size="7.6" text-anchor="middle" fill="#222">14</text>
<text x="183.00" y="252.4" font-family="'Liberation Serif', serif" font-size="7.6" text-anchor="middle" fill="#222">15</text>
<text x="193.40" y="252.4" font-family="'Liberation Serif', serif" font-size="7.6" text-anchor="middle" fill="#222">16</text>
<text x="203.80" y="252.4" font-family="'Liberation Serif', serif" font-size="7.6" text-anchor="middle" fill="#222">17</text>
<text x="214.20" y="252.4" font-family="'Liberation Serif', serif" font-size="7.6" text-anchor="middle" fill="#222">18</text>
<text x="224.60" y="252.4" font-family="'Liberation Serif', serif" font-size="7.6" text-anchor="middle" fill="#222">19</text>
<text x="235.00" y="252.4" font-family="'Liberation Serif', serif" font-size="7.6" text-anchor="middle" fill="#222">20</text>
<text x="245.40" y="252.4" font-family="'Liberation Serif', serif" font-size="7.6" text-anchor="middle" fill="#222">21</text>
<text x="255.80" y="252.4" font-family="'Liberation Serif', serif" font-size="7.6" text-anchor="middle" fill="#222">22</text>
<text x="266.20" y="252.4" font-family="'Liberation Serif', serif" font-size="7.6" text-anchor="middle" fill="#222">23</text>
<text x="276.60" y="252.4" font-family="'Liberation Serif', serif" font-size="7.6" text-anchor="middle" fill="#222">24</text>
<text x="287.00" y="252.4" font-family="'Liberation Serif', serif" font-size="7.6" text-anchor="middle" fill="#222">25</text>
<text x="156.8" y="260.8" font-family="'Liberation Serif', serif" font-size="8.8" text-anchor="middle" fill="#111">Time (years)</text>
<text x="25.4" y="245.90" font-family="'Liberation Serif', serif" font-size="7.6" text-anchor="end" fill="#222">0</text>
<text x="25.4" y="225.70" font-family="'Liberation Serif', serif" font-size="7.6" text-anchor="end" fill="#222">0.1</text>
<text x="25.4" y="205.50" font-family="'Liberation Serif', serif" font-size="7.6" text-anchor="end" fill="#222">0.2</text>
<text x="25.4" y="185.30" font-family="'Liberation Serif', serif" font-size="7.6" text-anchor="end" fill="#222">0.3</text>
<text x="25.4" y="165.10" font-family="'Liberation Serif', serif" font-size="7.6" text-anchor="end" fill="#222">0.4</text>
<text transform="translate(10.6,193) rotate(-90)" font-family="'Liberation Serif', serif" font-size="7.9" text-anchor="middle" fill="#111">Eccentricity</text>
<polyline points="27.00,213.29 28.00,213.74 29.00,214.19 30.00,214.63 31.00,215.05 32.00,215.47 33.00,215.89 34.00,216.29 35.00,216.68 36.00,217.06 37.00,217.44 38.00,217.80 39.00,218.15 40.00,218.49 41.00,218.82 42.00,219.14 43.00,219.45 44.00,219.74 45.00,220.03 46.00,220.30 47.00,220.56 48.00,220.81 49.00,221.05 50.00,221.27 51.00,221.49 52.00,221.68 53.00,221.87 54.00,222.04 55.00,222.21 56.00,222.35 57.00,222.49 58.00,222.61 59.00,222.72 60.00,222.81 61.00,222.89 62.00,222.96 63.00,223.02 64.00,223.06 65.00,223.08 66.00,223.10 67.00,223.10 68.00,223.09 69.00,223.06 70.00,223.02 71.00,222.96 72.00,222.90 73.00,222.82 74.00,222.72 75.00,222.61 76.00,222.49 77.00,222.36 78.00,222.21 79.00,222.05 80.00,221.88 81.00,221.69 82.00,221.49 83.00,221.28 84.00,221.06 85.00,220.82 86.00,220.57 87.00,220.31 88.00,220.04 89.00,219.76 90.00,219.46 91.00,219.15 92.00,218.83 93.00,218.50 94.00,218.16 95.00,217.81 96.00,217.45 97.00,217.08 98.00,216.70 99.00,216.30 100.00,215.90 101.00,215.49 102.00,215.07 103.00,214.64 104.00,214.21 105.00,213.76 106.00,213.31 107.00,212.84 108.00,212.37 109.00,211.90 110.00,211.41 111.00,210.92 112.00,210.43 113.00,209.92 114.00,209.41 115.00,208.90 116.00,208.38 117.00,207.85 118.00,207.33 119.00,206.79 120.00,206.25 121.00,205.71 122.00,205.17 123.00,204.62 124.00,204.07 125.00,203.52 126.00,202.96 127.00,202.40 128.00,201.84 129.00,201.28 130.00,200.72 131.00,200.16 132.00,199.60 133.00,199.04 134.00,198.48 135.00,197.92 136.00,197.36 137.00,196.80 138.00,196.25 139.00,195.69 140.00,195.14 141.00,194.59 142.00,194.05 143.00,193.51 144.00,192.97 145.00,192.44 146.00,191.91 147.00,191.38 148.00,190.86 149.00,190.35 150.00,189.84 151.00,189.33 152.00,188.84 153.00,188.35 154.00,187.86 155.00,187.38 156.00,186.92 157.00,186.45 158.00,186.00 159.00,185.55 160.00,185.11 161.00,184.69 162.00,184.27 163.00,183.85 164.00,183.45 165.00,183.06 166.00,182.68 167.00,182.30 168.00,181.94 169.00,181.59 170.00,181.25 171.00,180.92 172.00,180.60 173.00,180.29 174.00,180.00 175.00,179.71 176.00,179.44 177.00,179.18 178.00,178.93 179.00,178.69 180.00,178.47 181.00,178.25 182.00,178.06 183.00,177.87 184.00,177.70 185.00,177.53 186.00,177.39 187.00,177.25 188.00,177.13 189.00,177.02 190.00,176.93 191.00,176.85 192.00,176.78 193.00,176.72 194.00,176.68 195.00,176.66 196.00,176.64 197.00,176.64 198.00,176.65 199.00,176.68 200.00,176.72 201.00,176.78 202.00,176.84 203.00,176.92 204.00,177.02 205.00,177.13 206.00,177.25 207.00,177.38 208.00,177.53 209.00,177.69 210.00,177.86 211.00,178.05 212.00,178.25 213.00,178.46 214.00,178.68 215.00,178.92 216.00,179.17 217.00,179.43 218.00,179.70 219.00,179.98 220.00,180.28 221.00,180.59 222.00,180.91 223.00,181.24 224.00,181.58 225.00,181.93 226.00,182.29 227.00,182.66 228.00,183.04 229.00,183.44 230.00,183.84 231.00,184.25 232.00,184.67 233.00,185.10 234.00,185.53 235.00,185.98 236.00,186.43 237.00,186.90 238.00,187.37 239.00,187.84 240.00,188.33 241.00,188.82 242.00,189.31 243.00,189.82 244.00,190.33 245.00,190.84 246.00,191.36 247.00,191.89 248.00,192.41 249.00,192.95 250.00,193.49 251.00,194.03 252.00,194.57 253.00,195.12 254.00,195.67 255.00,196.22 256.00,196.78 257.00,197.34 258.00,197.90 259.00,198.46 260.00,199.02 261.00,199.58 262.00,200.14 263.00,200.70 264.00,201.26 265.00,201.82 266.00,202.38 267.00,202.94 268.00,203.49 269.00,204.05 270.00,204.60 271.00,205.15 272.00,205.69 273.00,206.23 274.00,206.77 275.00,207.30 276.00,207.83 277.00,208.36 278.00,208.88 279.00,209.39 280.00,209.90 281.00,210.41 282.00,210.90 283.00,211.39 284.00,211.88 285.00,212.36 286.00,212.82 287.00,213.29" fill="none" stroke="#1a1acc" stroke-width="1.5"/>
<text x="71.3" y="425.1" transform="translate(0,-265)" font-family="'Liberation Mono', monospace" font-size="7.8" fill="#1a1a1a" stroke="#1a1a1a" stroke-width="0.32">Maximum e: 0.33; Minimum e: 0.10</text>
<text x="32.8" y="443.4" transform="translate(0,-265)" font-family="'Liberation Sans', sans-serif" font-size="5.7" fill="#222">Albedo spikes to 0.8 in this range</text>
<line x1="53.3" y1="181.7" x2="41.77" y2="210.99" stroke="#111" stroke-width="0.9"/>
<polygon points="39.2,217.5 39.63,210.14 43.91,211.83" fill="#111"/>
<line x1="74.2" y1="181.7" x2="90.06" y2="212.09" stroke="#111" stroke-width="0.9"/>
<polygon points="93.3,218.3 88.02,213.16 92.10,211.03" fill="#111"/>
<g font-family="'Liberation Mono', monospace" fill="#eef3ff" font-size="7.2" letter-spacing="0.6"><text x="71.0" y="57.7">θ</text><text x="75.8" y="62.0" font-size="5.8">p</text><text x="80.2" y="57.7">:</text><text x="88.1" y="57.7">23.5</text><text x="107.3" y="52.5" font-size="4">o</text><text x="71.0" y="70.6">θ</text><text x="75.8" y="74.9" font-size="5.8">a</text><text x="80.2" y="70.6">:</text><text x="88.1" y="70.6">30</text><text x="98.3" y="65.4" font-size="4">o</text></g>
</g>
</svg>
</div></body></html>
